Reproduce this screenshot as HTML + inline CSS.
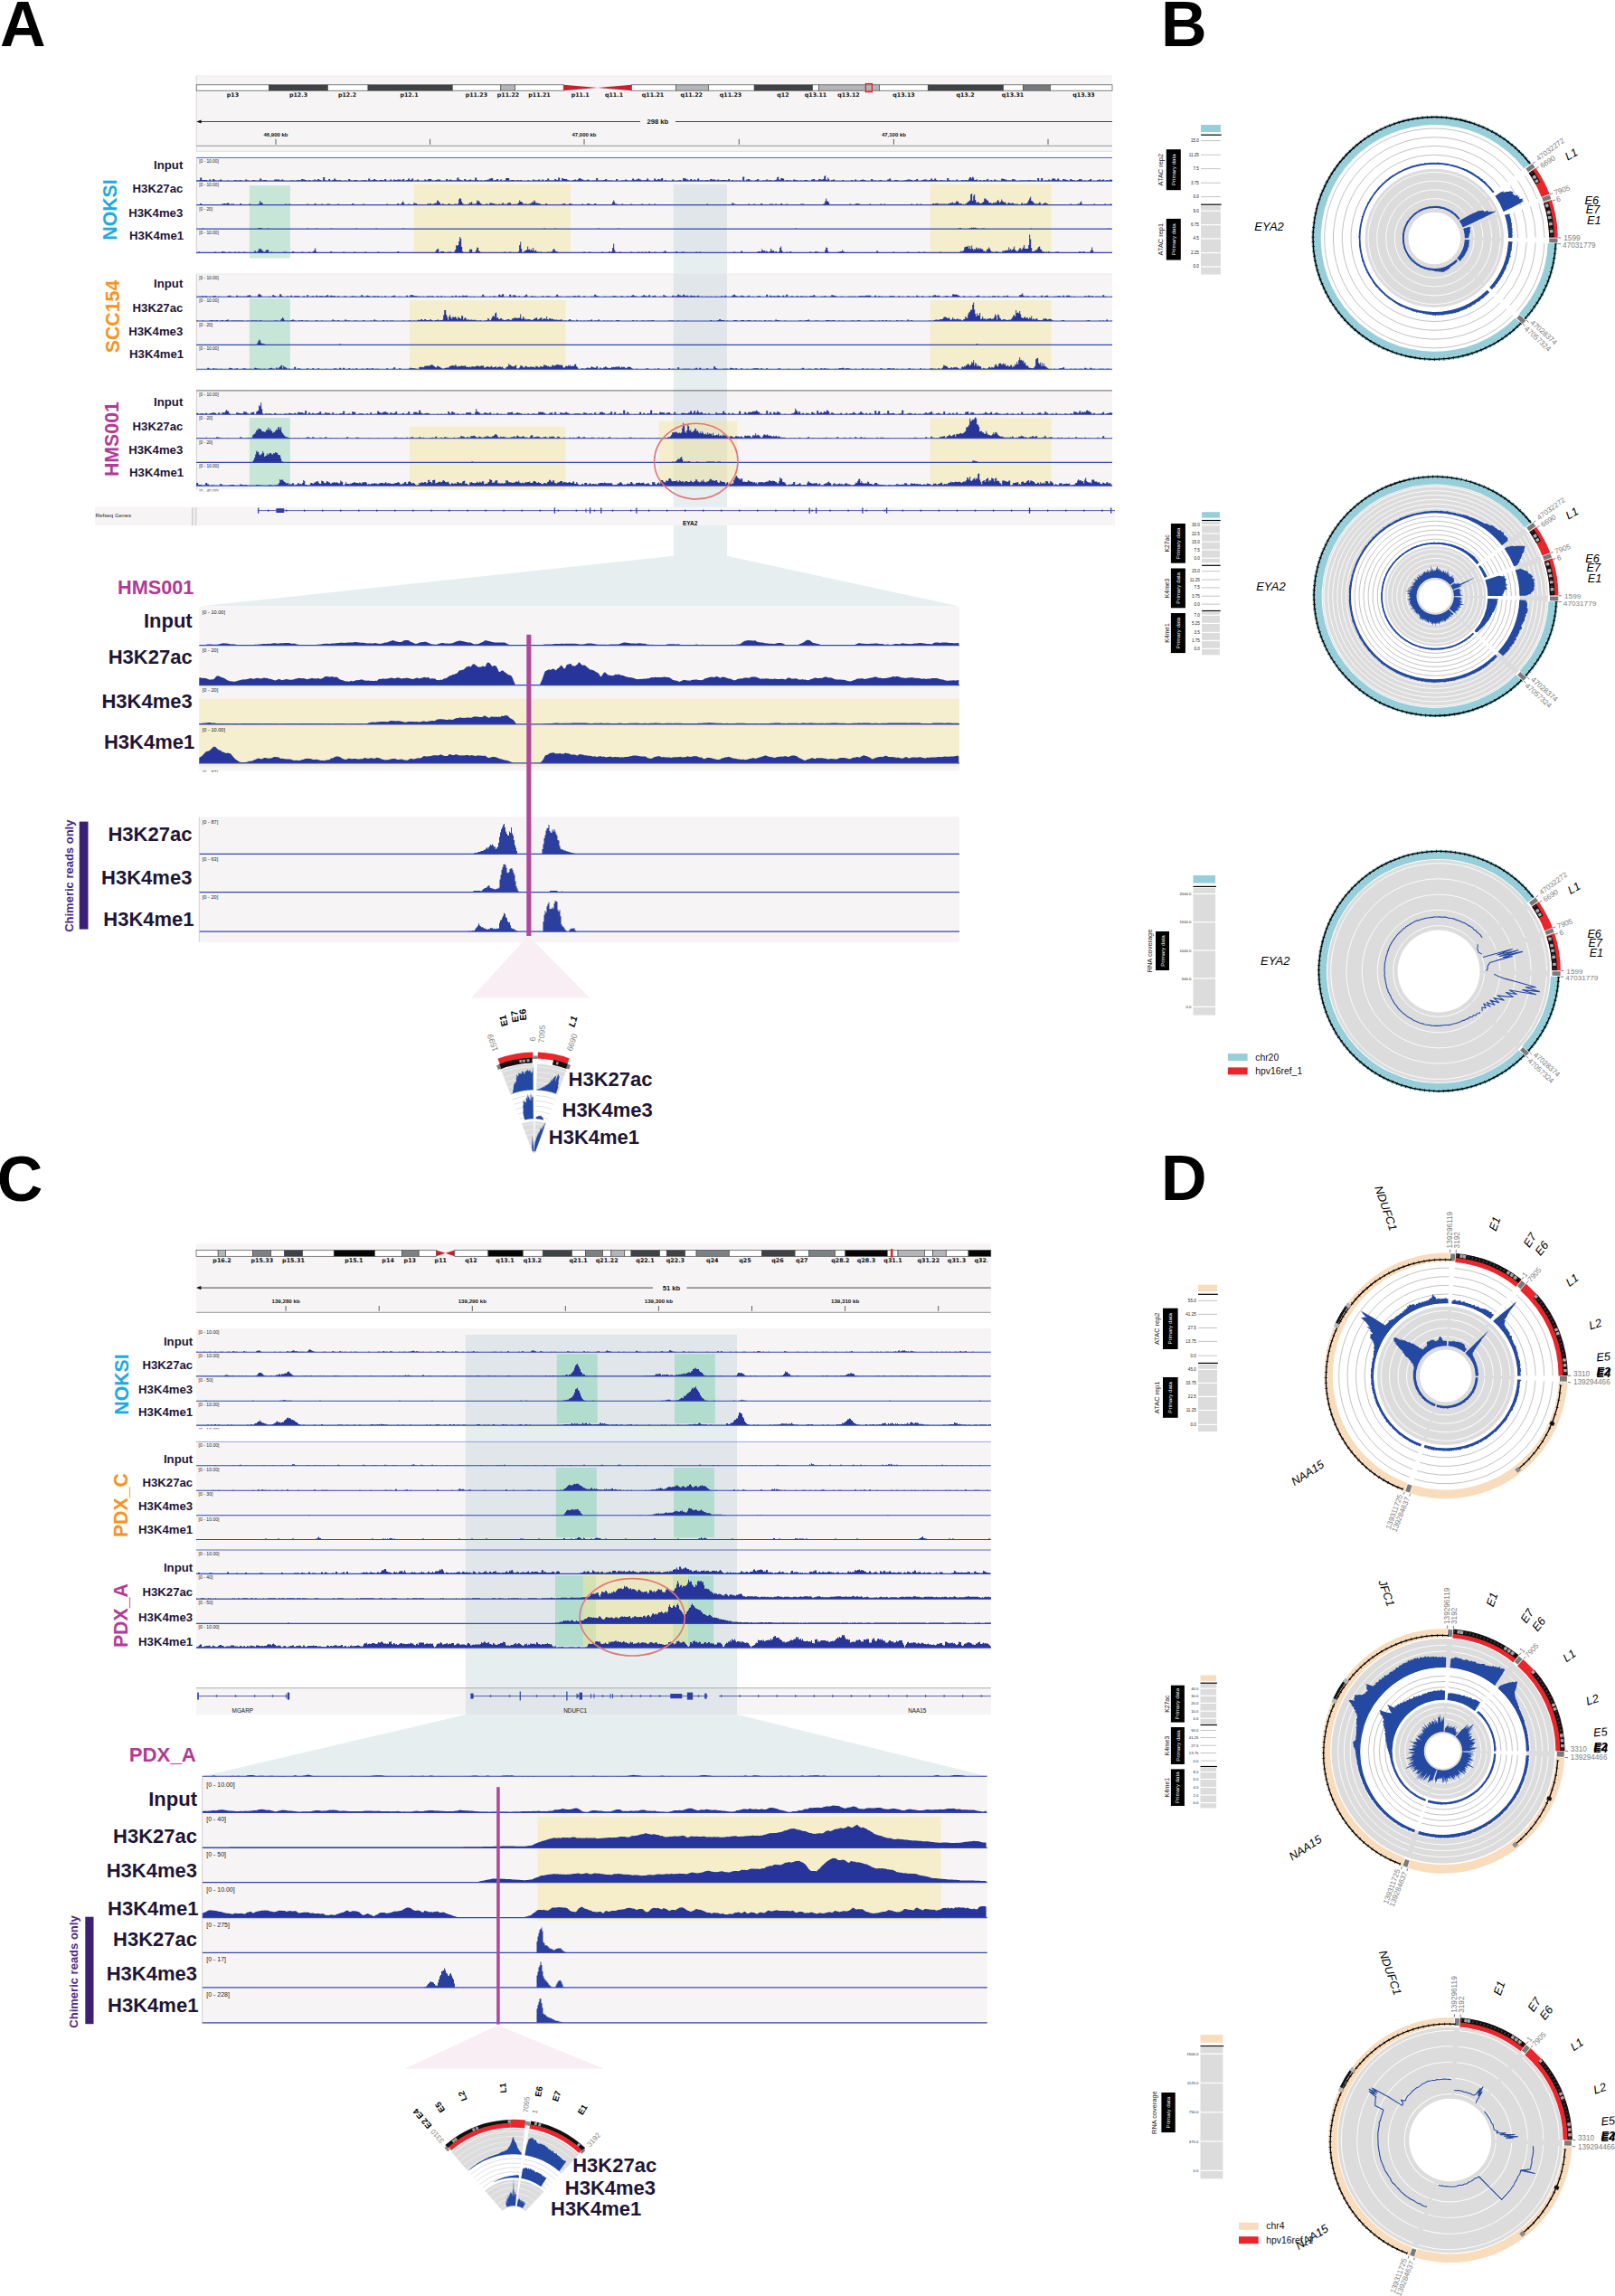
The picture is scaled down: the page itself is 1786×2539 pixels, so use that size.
<!DOCTYPE html>
<html><head><meta charset="utf-8"><title>Figure</title>
<style>html,body{margin:0;padding:0;background:#fff}svg{display:block}text{white-space:pre}</style>
</head><body>
<svg width="1786" height="2539" viewBox="0 0 1786 2539" font-family="Liberation Sans, sans-serif">
<text x="0" y="50.8" font-size="70" font-weight="bold">A</text>
<text x="1284" y="50.6" font-size="70" font-weight="bold">B</text>
<text x="-3.3" y="1327.9" font-size="70" font-weight="bold">C</text>
<text x="1284" y="1326.9" font-size="70" font-weight="bold">D</text>
<rect x="217.2" y="83.7" width="1012.8" height="83.7" fill="#f6f4f5" />
<line x1="217.2" y1="83.9" x2="1230" y2="83.9" stroke="#e4e2e3" stroke-width="0.6" />
<line x1="217.2" y1="83.7" x2="217.2" y2="167.4" stroke="#cfcdd0" stroke-width="0.8" />
<rect x="217.2" y="93.8" width="80.2" height="6.4" fill="#ffffff" stroke="#4a4c4e" stroke-width="0.7"/>
<rect x="297.4" y="93.8" width="65.1" height="6.4" fill="#3e4244" stroke="#4a4c4e" stroke-width="0.7"/>
<rect x="362.5" y="93.8" width="44.5" height="6.4" fill="#ffffff" stroke="#4a4c4e" stroke-width="0.7"/>
<rect x="407" y="93.8" width="93.3" height="6.4" fill="#3e4244" stroke="#4a4c4e" stroke-width="0.7"/>
<rect x="500.3" y="93.8" width="53.5" height="6.4" fill="#ffffff" stroke="#4a4c4e" stroke-width="0.7"/>
<rect x="553.8" y="93.8" width="15.9" height="6.4" fill="#b3b6b8" stroke="#4a4c4e" stroke-width="0.7"/>
<rect x="569.7" y="93.8" width="53.5" height="6.4" fill="#ffffff" stroke="#4a4c4e" stroke-width="0.7"/>
<path d="M623.2,93.8L660.8,97L623.2,100.2z" fill="#c5202b"/>
<path d="M698.5,93.8L660.8,97L698.5,100.2z" fill="#c5202b"/>
<rect x="698.5" y="93.8" width="49" height="6.4" fill="#ffffff" stroke="#4a4c4e" stroke-width="0.7"/>
<rect x="747.5" y="93.8" width="35.9" height="6.4" fill="#b3b6b8" stroke="#4a4c4e" stroke-width="0.7"/>
<rect x="783.4" y="93.8" width="50.8" height="6.4" fill="#ffffff" stroke="#4a4c4e" stroke-width="0.7"/>
<rect x="834.2" y="93.8" width="64.4" height="6.4" fill="#3e4244" stroke="#4a4c4e" stroke-width="0.7"/>
<rect x="898.6" y="93.8" width="6.8" height="6.4" fill="#ffffff" stroke="#4a4c4e" stroke-width="0.7"/>
<rect x="905.4" y="93.8" width="67.1" height="6.4" fill="#b3b6b8" stroke="#4a4c4e" stroke-width="0.7"/>
<rect x="972.5" y="93.8" width="53.8" height="6.4" fill="#ffffff" stroke="#4a4c4e" stroke-width="0.7"/>
<rect x="1026.3" y="93.8" width="83.4" height="6.4" fill="#3e4244" stroke="#4a4c4e" stroke-width="0.7"/>
<rect x="1109.7" y="93.8" width="21.8" height="6.4" fill="#ffffff" stroke="#4a4c4e" stroke-width="0.7"/>
<rect x="1131.5" y="93.8" width="30" height="6.4" fill="#777a7c" stroke="#4a4c4e" stroke-width="0.7"/>
<rect x="1161.5" y="93.8" width="68.5" height="6.4" fill="#ffffff" stroke="#4a4c4e" stroke-width="0.7"/>
<text x="257.4" y="106.9" font-size="6.3" font-family="DejaVu Sans, sans-serif" font-weight="bold" fill="#111" text-anchor="middle">p13</text>
<text x="330" y="106.9" font-size="6.3" font-family="DejaVu Sans, sans-serif" font-weight="bold" fill="#111" text-anchor="middle">p12.3</text>
<text x="384" y="106.9" font-size="6.3" font-family="DejaVu Sans, sans-serif" font-weight="bold" fill="#111" text-anchor="middle">p12.2</text>
<text x="452.5" y="106.9" font-size="6.3" font-family="DejaVu Sans, sans-serif" font-weight="bold" fill="#111" text-anchor="middle">p12.1</text>
<text x="526.9" y="106.9" font-size="6.3" font-family="DejaVu Sans, sans-serif" font-weight="bold" fill="#111" text-anchor="middle">p11.23</text>
<text x="562" y="106.9" font-size="6.3" font-family="DejaVu Sans, sans-serif" font-weight="bold" fill="#111" text-anchor="middle">p11.22</text>
<text x="596.5" y="106.9" font-size="6.3" font-family="DejaVu Sans, sans-serif" font-weight="bold" fill="#111" text-anchor="middle">p11.21</text>
<text x="641.7" y="106.9" font-size="6.3" font-family="DejaVu Sans, sans-serif" font-weight="bold" fill="#111" text-anchor="middle">p11.1</text>
<text x="679" y="106.9" font-size="6.3" font-family="DejaVu Sans, sans-serif" font-weight="bold" fill="#111" text-anchor="middle">q11.1</text>
<text x="722" y="106.9" font-size="6.3" font-family="DejaVu Sans, sans-serif" font-weight="bold" fill="#111" text-anchor="middle">q11.21</text>
<text x="764.7" y="106.9" font-size="6.3" font-family="DejaVu Sans, sans-serif" font-weight="bold" fill="#111" text-anchor="middle">q11.22</text>
<text x="808" y="106.9" font-size="6.3" font-family="DejaVu Sans, sans-serif" font-weight="bold" fill="#111" text-anchor="middle">q11.23</text>
<text x="866" y="106.9" font-size="6.3" font-family="DejaVu Sans, sans-serif" font-weight="bold" fill="#111" text-anchor="middle">q12</text>
<text x="902" y="106.9" font-size="6.3" font-family="DejaVu Sans, sans-serif" font-weight="bold" fill="#111" text-anchor="middle">q13.11</text>
<text x="938.5" y="106.9" font-size="6.3" font-family="DejaVu Sans, sans-serif" font-weight="bold" fill="#111" text-anchor="middle">q13.12</text>
<text x="999.5" y="106.9" font-size="6.3" font-family="DejaVu Sans, sans-serif" font-weight="bold" fill="#111" text-anchor="middle">q13.13</text>
<text x="1067.5" y="106.9" font-size="6.3" font-family="DejaVu Sans, sans-serif" font-weight="bold" fill="#111" text-anchor="middle">q13.2</text>
<text x="1120" y="106.9" font-size="6.3" font-family="DejaVu Sans, sans-serif" font-weight="bold" fill="#111" text-anchor="middle">q13.31</text>
<text x="1198.5" y="106.9" font-size="6.3" font-family="DejaVu Sans, sans-serif" font-weight="bold" fill="#111" text-anchor="middle">q13.33</text>
<rect x="957.4" y="92.6" width="7" height="9" fill="none" stroke="#e3222b" stroke-width="1.3"/>
<line x1="219" y1="134.5" x2="708" y2="134.5" stroke="#333" stroke-width="0.9" />
<line x1="747" y1="134.5" x2="1230" y2="134.5" stroke="#333" stroke-width="0.9" />
<path d="M217.2,134.5L222.6,132.4L222.6,136.6z" fill="#111"/>
<text x="727.3" y="137.3" font-size="7.6" font-weight="bold" fill="#111" text-anchor="middle">298 kb</text>
<line x1="305" y1="153.8" x2="305" y2="159.8" stroke="#333" stroke-width="0.8" />
<line x1="475.6" y1="153.8" x2="475.6" y2="159.8" stroke="#333" stroke-width="0.8" />
<line x1="646" y1="153.8" x2="646" y2="159.8" stroke="#333" stroke-width="0.8" />
<line x1="817.3" y1="153.8" x2="817.3" y2="159.8" stroke="#333" stroke-width="0.8" />
<line x1="988.4" y1="153.8" x2="988.4" y2="159.8" stroke="#333" stroke-width="0.8" />
<line x1="1159" y1="153.8" x2="1159" y2="159.8" stroke="#333" stroke-width="0.8" />
<text x="305" y="150.9" font-size="6.0" font-weight="bold" fill="#111" text-anchor="middle">46,900 kb</text>
<text x="646" y="150.9" font-size="6.0" font-weight="bold" fill="#111" text-anchor="middle">47,000 kb</text>
<text x="988.4" y="150.9" font-size="6.0" font-weight="bold" fill="#111" text-anchor="middle">47,100 kb</text>
<line x1="217.2" y1="161.3" x2="1230" y2="161.3" stroke="#8a8a8c" stroke-width="0.9" />
<line x1="217.2" y1="167.4" x2="1230" y2="167.4" stroke="#dcdadb" stroke-width="0.8" />
<rect x="217.2" y="174.4" width="1012.8" height="106.8" fill="#f6f4f5" />
<rect x="217.2" y="303" width="1012.8" height="107.8" fill="#f6f4f5" />
<rect x="217.2" y="431.9" width="1012.8" height="109.5" fill="#f6f4f5" />
<path d="M744.8,203.9H804V614.7L1061,670.5H220.3L744.8,614.7z" fill="rgba(172,200,205,0.30)"/>
<rect x="105.2" y="560.6" width="1127.8" height="20.6" fill="#f6f4f5" />
<rect x="275.9" y="205.1" width="45" height="80.5" fill="rgba(120,205,165,0.36)" />
<rect x="275.9" y="330" width="45" height="78.4" fill="rgba(120,205,165,0.36)" />
<rect x="275.9" y="462" width="45" height="75.3" fill="rgba(120,205,165,0.36)" />
<rect x="457.8" y="203.9" width="173.1" height="77" fill="rgba(244,228,150,0.42)" />
<rect x="452.9" y="332" width="172.7" height="78.8" fill="rgba(244,228,150,0.42)" />
<rect x="452.9" y="472" width="172.7" height="69.9" fill="rgba(244,228,150,0.42)" />
<rect x="1028.8" y="203.9" width="133.8" height="77.3" fill="rgba(244,228,150,0.42)" />
<rect x="1028.9" y="332" width="133.7" height="78.8" fill="rgba(244,228,150,0.42)" />
<rect x="1028.9" y="462" width="133.7" height="78.4" fill="rgba(244,228,150,0.42)" />
<rect x="728.8" y="465.7" width="86.5" height="74.5" fill="rgba(244,228,150,0.42)" />
<line x1="217.4" y1="174.4" x2="217.4" y2="281.2" stroke="#c4c2c6" stroke-width="0.8" />
<line x1="217.2" y1="174.4" x2="1230" y2="174.4" stroke="#3b4fb3" stroke-width="0.9" />
<text x="128.6" y="232" font-size="21.3" font-weight="bold" fill="#1fa9e1" text-anchor="middle" transform="rotate(-90 128.6 232)">NOKSI</text>
<text x="202.3" y="187" font-size="13.2" font-weight="bold" fill="#1f1535" text-anchor="end">Input</text>
<text x="220.2" y="180.3" font-size="4.8" fill="#222">[0 - 10.00]</text>
<path d="M217.2,200.1v-.5h4v-3h2v2.5h6v1h2v-1.5h2v1.5h2v-2h2v1.5h2v.5h2v-.5h2v-1h2v1.5h6v-.5h2v.5h6v-1h2v.5h4v-.5h2v1h4v-1.5h2v1h2v.5h4v-1h2v.5h2v.5h2v-.5h2v-2h2v2h2v-.5h4v1h8v-1.5h6v1h2v-1h2v1h2v.5h6v-.5h4v.5h2v-.5h2v-.5h2v.5h2v-1.5h2v.5h2v.5h2v1h2v-1h2v1h2v-.5h2v-1h2v1h2v-1.5h2v1h2v1h2v-4h2v3.5h2v.5h2v-2h2v2h2v-1h2v-1.5h2v1.5h2v.5h2v-.5h2v1h4v-.5h2v.5h2v-2h2v1.5h2v.5h2v-1h4v1h4v-.5h4v-.5h2v1h2v-2.5h2v2h2v-.5h2v-1h2v1h2v1h2v-1h4v.5h2v-1.5h2v2h4v-1.5h2v1.5h2v-1.5h2v.5h2v-.5h4v1h2v-1.5h2v2h2v-1h2v-1.5h2v1.5h2v-1.5h2v2.5h2v-.5h2v-1h2v1.5h6v-1.5h2v1h2v-1.5h4v1.5h2v.5h2v-1h2v-.5h4v1.5h6v-2h2v1.5h2v-1h2v1h6v-2.5h1v-1h1v2.5h2v.5h1v.5h1v.5h2v-2h2v1.5h2v-.5h2v-.5h2v1h4v-3h2v2.5h2v1h2v-.5h2v.5h2v-.5h2v-.5h2v-.5h2v-1h2v-.5h2v2.5h2v-.5h2v-1h2v2h2v-1.5h2v1.5h2v-.5h2v-2.5h4v2.5h2v-.5h4v1h2v-1h2v.5h2v-.5h2v1h6v-1h2v1h4v-1.5h2v1h4v-1h2v1.5h2v-1.5h2v1.5h2v-1h2v-1.5h2v2h6v-1.5h2v1h2v-2.5h2v3.5h2v-3h2v1h4v1h2v1h4v-1h2v-.5h2v1h1v-.5h1v-1h1v-1h2v1h1v.5h2v1h4v-1h2v1h2v.5h2v-.5h4v-2.5h2v2.5h6v-.5h2v-1h2v1.5h6v.5h4v-2h2v2h4v-.5h4v-1h2v1h2v.5h2v-.5h2v-2h2v1.5h2v-.5h2v-1h2v1h2v1h4v-.5h2v-1.5h2v2h2v.5h4v-2.5h2v1.5h2v-1h2v.5h2v-1.5h2v3h2v-1h2v1h6v-1.5h2v1.5h4v-.5h2v-.5h2v1h2v-3h2v.5h2v1h2v1h2v-1.5h2v1.5h2v-1h2v1h2v-2h2v2h8v-.5h2v.5h2v-1.5h2v.5h4v1h2v-1h2v1h2v-.5h6v.5h2v-1.5h2v2h2v-1h2v1h2v-.5h2v.5h2v-.5h2v.5h2v-4.5h2v4.5h2v-1.5h2v-.5h2v1.5h2v.5h4v-1h2v-1h2v2h4v-.5h4v-1h2v1h2v-.5h2v1h2v-.5h2v-.5h1v-.5h1v-2.5h1v-.5h1v3h1v.5h1v-2h2v.5h2v2.5h2v-1h2v.5h4v.5h2v-1.5h2v.5h2v.5h2v.5h2v-.5h2v.5h2v-1h4v1h4v-1.5h2v-.5h2v1.5h4v-1.5h2v.5h3v-.5h1v-3h1v-1h1v4.5h1v.5h1v-2.5h1v1.5h1v2h2v-1h2v-.5h2v1.5h8v-1h2v1h8v-1h2v1h2v-1.5h2v1.5h4v-1h2v-.5h2v.5h2v1h6v-2h2v1.5h4v.5h2v-.5h2v-.5h2v1h6v-1.5h2v-1h2v2.5h4v-1h4v1h6v-.5h2v-.5h2v-.5h4v.5h2v1h2v-1h2v-1h2v2h4v-1h2v-.5h4v1h2v-.5h2v-1.5h2v1.5h2v-1.5h2v1.5h2v1h2v-1h2v.5h4v.5h2v-3h2v2h2v1h2v-.5h2v.5h2v-1.5h2v1.5h4v-1h2v.5h2v-.5h2v.5h1v-.5h1v-1.5h1v-1.5h2v1.5h1v-2h1v1h1v2.5h2v-.5h2v1.5h2v-1h2v1h2v-1h2v.5h2v-1.5h2v2h2v-1h2v1h2v-1.5h2v1h2v.5h4v-2.5h2v.5h2v.5h2v1h6v-1.5h2v.5h2v1.5h4v-.5h10v-.5h2v.5h6v.5h2v-3h2v3h2v-3h2v3h2v-.5h4v-1h2v1h2v-2h4v1.5h2v-1.5h2v2h2v.5h2v-2h2v.5h2v.5h2v1h2v-2h2v1h2v.5h2v.5h2v-1h2v-1h2v.5h2v1.5h2v-.5h2v.5h2v-1h2v-1h2v2h6v-1h2v-.5h2v1h2v-1h2v1.5h2v-1h2v.5h2v-1h2v.5h1v1z" fill="#27359b"/>
<line x1="217.2" y1="200.1" x2="1230" y2="200.1" stroke="#3347a8" stroke-width="1.1" />
<text x="202.3" y="213" font-size="13.2" font-weight="bold" fill="#1f1535" text-anchor="end">H3K27ac</text>
<text x="220.2" y="206" font-size="4.8" fill="#222">[0 - 10.00]</text>
<path d="M217.2,226.6h4v-1.5h2v1.5h4v-.5h4v.5h14v-1h2v-.5h2v.5h1v-.5h1v-.5h2v1h1v1h1v-1h4v1h2v-.5h2v.5h2v-1.5h2v1.5h2v-.5h2v.5h4v-1h2v.5h2v.5h2v-.5h2v.5h1v-.5h1v-.5h2v-3.5h1v2h2v1.5h1v.5h2v.5h8v-.5h2v.5h6v-.5h4v.5h2v-1h2v1h2v-1h2v1h4v-.5h4v.5h6v-.5h2v.5h2v-1h2v1h4v-.5h2v-.5h1v-.5h1v.5h1v1h5v-1h2v1h4v-1h4v1h8v-1h2v.5h2v.5h12v-1.5h2v1.5h2v-.5h2v.5h4v-.5h2v-.5h2v1h10v-.5h4v.5h8v-.5h2v-.5h2v1h6v-.5h2v.5h2v-1.5h2v1.5h2v-1h1v-1.5h1v-1.5h1v2h1v1.5h4v-.5h2v1h2v-.5h2v-1.5h2v.5h2v1h2v.5h9v-1h1v-.5h1v.5h1v-.5h2v1h1v-.5h2v-.5h1v-.5h2v-3h1v.5h1v1.5h1v1h1v1.5h2v-1h1v.5h1v.5h4v-.5h1v-.5h1v.5h1v.5h4v-.5h3v.5h1v-1h1v-4.5h1v-1.5h1v1h1v3h1v2h1v.5h1v.5h4v-.5h2v-1.5h1v.5h1v-1.5h1v2.5h4v-.5h1v-3.5h1v1h1v-.5h1v2h1v1h1v.5h1v.5h2v.5h2v-1h1v-.5h1v1h2v-1.5h3v.5h3v1h1v-.5h1v.5h2v-.5h2v.5h1v-.5h1v-1h2v1.5h1v-.5h1v.5h1v-.5h1v-1h2v-.5h1v.5h1v1.5h3v-.5h1v.5h1v-.5h1v.5h1v-1h1v-1h1v-2.5h1v1.5h2v1h1v1.5h5v.5h1v-.5h2v-.5h1v-.5h1v-1.5h1v1h1v-2.5h1v1h1v2h3v.5h2v.5h1v.5h3v.5h2v-1.5h2v1.5h4v-.5h4v.5h4v-.5h4v-.5h2v-.5h2v1h2v.5h2v-1.5h2v.5h2v1h10v-1h2v1h2v-.5h2v-1h2v.5h2v1h4v-1.5h2v1h2v.5h2v-.5h4v.5h6v-.5h3v-.5h1v-2h1v-2h1v2h1v2h3v1h4v-1h2v1h2v-.5h2v.5h4v-1h2v1h10v-1h2v.5h2v.5h4v-1h2v.5h4v-.5h2v1h6v-.5h4v.5h2v-.5h4v.5h16v-.5h2v.5h12v-.5h2v.5h4v-.5h4v-.5h2v.5h2v.5h4v-.5h2v.5h14v-.5h2v.5h2v-2h2v1h2v.5h2v.5h2v-.5h2v.5h8v-1h2v1h4v-1h2v1h6v-1.5h2v1.5h8v-1h4v1h2v-1h2v1h4v-1.5h2v1.5h4v-1h2v1h8v-.5h2v.5h2v-.5h2v-.5h4v.5h2v.5h4v-.5h2v.5h8v-.5h2v.5h2v-.5h1v-.5h1v-.5h1v-2.5h1v-3h1v3h2v1.5h1v2h2v.5h4v-.5h2v.5h8v-.5h2v.5h2v-.5h2v-.5h2v.5h2v.5h2v-1h2v-.5h2v.5h2v1h2v-.5h4v.5h4v-1h2v1h4v-.5h2v.5h4v-1h2v1h2v-1h2v1h2v-.5h6v.5h4v-.5h4v.5h12v-1h2v.5h4v-.5h2v1h2v-1h2v1h2v-.5h2v.5h7v-.5h1v-1h2v.5h1v-.5h2v-.5h1v1h10v.5h1v-1h3v-1h1v.5h1v-1h1v1.5h1v-.5h2v-2h2v.5h1v2h3v.5h1v.5h1v-.5h1v.5h1v-.5h1v-.5h1v-1h1v-1h1v-.5h1v-1h1v-6.5h1v-1h1v8h1v-5.5h1v-1.5h1v6h1v2.5h1v1h1v-1.5h1v1h1v1h2v-.5h1v-.5h1v-1h1v-3.5h2v1h1v1h1v.5h1v2h1v.5h1v-.5h1v1h2v-1h1v.5h1v-1h1v1h1v-2h1v-1.5h1v1.5h1v2h1v-1.5h1v-2.5h1v2h1v.5h1v1h1v-.5h1v1.5h1v1h1v-1.5h1v-.5h1v.5h1v.5h2v-1h1v1h1v.5h5v1h3v-2h2v1.5h1v-1h1v.5h1v-.5h2v-1.5h1v-2h1v-2h1v-2h1v4.5h1v.5h1v1h1v1h1v1h2v-.5h1v.5h1v-.5h1v-1.5h1v1h1v1.5h2v-1h2v-1h1v.5h1v.5h1v.5h1v.5h1v.5h3v-.5h2v.5h4v-.5h2v.5h4v-.5h2v.5h6v-1h2v1h2v-.5h2v.5h2v-1h3v-1.5h1v-1.5h1v3h1v.5h1v.5h1v-.5h2v.5h6v-.5h2v-.5h2v1h10v-1h2v1h2v-.5h2v-.5h2v1h1z" fill="#27359b"/>
<line x1="217.2" y1="226.6" x2="1230" y2="226.6" stroke="#3347a8" stroke-width="1.1" />
<text x="202.3" y="239.7" font-size="13.2" font-weight="bold" fill="#1f1535" text-anchor="end">H3K4me3</text>
<text x="220.2" y="232.5" font-size="4.8" fill="#222">[0 - 20]</text>
<path d="M217.2,253.1h6v-.5h2v.5h60v-1h4v.5h1v.5h5v-.5h2v.5h42v-.5h2v.5h8v-.5h2v.5h14v-.5h2v.5h26v-.5h2v.5h20v-.5h2v.5h28v-.5h2v.5h154v-.5h2v.5h10v-.5h2v.5h46v-.5h2v.5h20v-.5h2v.5h194v-.5h2v.5h178v-.5h2v-.5h2v1h8v-.5h2v-.5h1v-.5h1v.5h1v-.5h1v.5h1v-.5h1v1h3v.5h3v-.5h4v.5h50v-.5h2v.5h84v-.5h2v.5h3z" fill="#27359b"/>
<line x1="217.2" y1="253.1" x2="1230" y2="253.1" stroke="#3347a8" stroke-width="1.1" />
<text x="203.2" y="265.2" font-size="13.2" font-weight="bold" fill="#1f1535" text-anchor="end">H3K4me1</text>
<text x="220.2" y="259" font-size="4.8" fill="#222">[0 - 10.00]</text>
<path d="M217.2,279.4v-.5h2v-.5h2v.5h2v.5h2v-.5h4v.5h8v-1h2v1h6v-1.5h2v.5h2v.5h4v-.5h2v1h4v-1h2v1h2v-1h2v1h2v-.5h2v-.5h2v1h10v-2h2v1.5h1v-.5h1v-1.5h1v-2h2v.5h1v1h1v1h1v1h2v-1h1v-1h1v-.5h1v.5h1v3h2v-1h2v1h12v-1h4v1h6v-1.5h2v1.5h6v-.5h2v-.5h2v.5h2v.5h4v-1h2v1h2v-1h1v-.5h1v-1.5h1v-2h1v3.5h1v1.5h15v-1.5h2v1.5h2v-.5h2v.5h2v-.5h2v.5h4v-1h2v1h2v-.5h2v.5h2v-.5h2v.5h2v-1h2v1h2v-.5h2v.5h4v-.5h2v-.5h2v.5h2v.5h2v-.5h4v.5h2v-.5h2v-.5h2v.5h2v.5h6v-.5h2v.5h8v-.5h2v-1h2v1.5h8v-.5h4v.5h2v-.5h2v.5h4v-.5h2v.5h12v-.5h2v.5h3v-.5h1v-1h1v-1.5h1v-1h1v-.5h1v3.5h1v1h1v-1.5h4v1.5h4v-1h4v.5h3v-1h1v-2h1v-5h1v1h1v-1h1v-4h1v-5h1v2h1v9h1v5h1v1h3v.5h3v-1h1v-3h1v.5h1v-.5h1v3.5h1v.5h2v-1h1v-2h1v-3h1v.5h1v3.5h1v.5h1v1.5h12v-.5h2v.5h8v-.5h2v.5h2v-1h2v1h4v-1h2v1h2v-.5h2v.5h4v-1.5h1v-7h1v-3.5h1v7.5h1v4h2v-1h1v-1h2v-1h1v-3.5h1v3.5h1v-.5h1v1.5h1v-1.5h1v1.5h1v-3h1v3.5h2v-1h1v2h3v.5h1v-.5h2v1h6v-1h2v.5h1v-.5h2v-.5h1v-2h1v-1h1v1.5h1v1.5h2v.5h1v1h2v-.5h2v.5h4v-.5h2v.5h4v-.5h4v.5h4v-.5h2v.5h4v-1h2v1h4v-1h2v1h4v-.5h2v.5h2v-.5h4v-.5h2v1h6v-1.5h2v1h1v-1h1v-4h1v-4.5h1v7h1v2h1v1h2v-.5h2v-.5h2v.5h2v.5h6v-.5h2v-.5h2v1h4v-.5h2v-.5h2v1h2v-1h2v.5h2v-.5h2v1h2v-1.5h2v1.5h2v-.5h2v-.5h2v.5h2v.5h5v-.5h1v-.5h1v-.5h1v-1h1v1.5h1v.5h4v.5h6v-1.5h2v1.5h4v-1h4v1h12v-1h2v.5h2v-.5h2v1h14v-.5h4v.5h8v-.5h2v.5h8v-1h2v1h6v-2h2v2h6v-.5h2v.5h4v-.5h4v-.5h1v-.5h3v.5h1v-3h1v1.5h1v.5h1v-.5h1v1.5h1v-1h1v.5h1v1h1v-.5h1v-.5h1v-3h1v2h1v.5h1v-.5h1v2h1v-1h2v1h2v-1h1v-4h1v-1.5h1v4.5h1v1.5h1v1h3v-1h2v1h2v-1.5h2v1.5h6v-.5h4v.5h10v-1h2v1h4v-1.5h2v.5h2v1h2v-.5h2v.5h2v-.5h1v-2.5h1v-3h1v.5h1v3.5h1v1.5h1v.5h2v-.5h2v.5h2v-.5h3v-.5h1v.5h1v-1h3v-1.5h1v1.5h1v.5h1v.5h2v.5h7v-.5h4v.5h2v-.5h2v.5h6v-.5h2v.5h2v-.5h4v.5h4v-2h2v2h10v-.5h4v.5h2v-1h2v1h14v-1h2v1h8v-.5h2v-.5h2v.5h4v-.5h2v1h6v-.5h2v.5h2v-.5h6v-.5h2v1h10v-.5h2v.5h7v-.5h1v-.5h1v-1h1v1h1v-1h1v-.5h1v-3.5h1v-.5h1v-.5h1v.5h1v-1.5h1v3.5h1v-3h1v3.5h1v-4h1v3.5h1v1.5h1v-1.5h1v1h1v-2.5h1v1h1v1h1v-1.5h1v1.5h1v-1h1v1h2v2h2v1h1v-1h1v-2h2v-2h1v1.5h1v2h1v1.5h3v.5h1v-.5h1v-.5h2v1h1v-.5h1v.5h3v-1.5h3v-.5h2v-.5h1v.5h1v-3.5h1v3h1v-1.5h1v2h1v-1h1v-1h1v-2.5h1v4h1v.5h1v1h1v-.5h1v-1.5h1v-1.5h2v2h1v-1.5h1v-1.5h1v-2.5h1v4h4v-4h1v-11.5h1v5h1v9.5h1v4h2v-.5h2v-1.5h1v.5h1v-2h1v-1.5h1v-.5h1v3h1v.5h1v2h2v.5h1v.5h1v-.5h2v.5h1v-1h1v.5h1v1h6v-1h4v.5h2v.5h20v-1.5h2v1h1v-.5h2v-.5h1v.5h1v.5h3v.5h2v-1.5h1v-1.5h1v-3h1v3.5h1v2h1v.5h1v-.5h4v.5h6v-.5h2v.5h7z" fill="#27359b"/>
<line x1="217.2" y1="279.4" x2="1230" y2="279.4" stroke="#3347a8" stroke-width="1.1" />
<line x1="217.4" y1="303" x2="217.4" y2="410.8" stroke="#c4c2c6" stroke-width="0.8" />
<line x1="217.2" y1="303" x2="1230" y2="303" stroke="#e8e6ea" stroke-width="0.9" />
<text x="131.5" y="350" font-size="21.3" font-weight="bold" fill="#f7941e" text-anchor="middle" transform="rotate(-90 131.5 350)">SCC154</text>
<text x="202.3" y="318.3" font-size="13.2" font-weight="bold" fill="#1f1535" text-anchor="end">Input</text>
<text x="220.2" y="308.9" font-size="4.8" fill="#222">[0 - 10.00]</text>
<path d="M217.2,328.3v-.5h6v-.5h2v.5h2v-.5h2v1h2v-.5h2v.5h2v-1h4v1h2v-.5h2v.5h8v-1h2v-.5h2v1h2v.5h4v-1.5h2v1h10v-1h2v-.5h2v1.5h2v.5h3v-.5h1v.5h1v-.5h1v-2h1v-1h1v1h1v.5h1v1.5h1v.5h7v-.5h2v.5h2v-2h2v1h2v1h3v-.5h1v-2.5h2v2h1v.5h1v.5h4v-1h2v1h2v-1.5h2v1.5h2v-1h6v1h4v-1h2v1h2v-2h2v2h2v-.5h2v-.5h2v1h2v-1.5h2v1h2v-.5h4v.5h2v-.5h2v-1h2v1.5h2v-1h2v.5h4v1h2v-1h2v1h4v-.5h2v-.5h2v1h4v-.5h2v-.5h2v.5h4v.5h2v-.5h2v-1.5h2v1.5h4v-1h2v.5h2v1h2v-.5h2v-.5h2v.5h2v-.5h2v1h2v-.5h2v.5h2v-1h2v1h6v-1h2v-.5h2v1.5h4v-.5h2v.5h6v-1.5h2v1.5h2v-2h4v1h4v.5h4v.5h2v-.5h2v.5h2v-.5h2v-.5h2v.5h2v-.5h2v1h4v-1h2v1h2v-1h2v1h2v-.5h2v.5h6v-1h2v1h2v-1.5h2v1.5h2v-1h2v.5h2v-1h2v.5h2v-.5h2v1.5h2v-.5h2v.5h2v-.5h2v.5h6v-.5h2v-2h2v2h2v.5h4v-.5h2v.5h2v-1h2v.5h2v.5h2v-2.5h2v1h2v-1.5h2v3h6v-2.5h2v2h2v-1.5h2v.5h2v1.5h2v-1h2v1h4v-1h2v-1.5h2v2.5h4v-1h2v.5h4v.5h6v-1h2v1h2v-.5h2v-.5h2v.5h2v.5h4v-.5h2v-2h2v2h4v.5h4v-.5h6v.5h2v-1h4v.5h2v-1h2v1.5h4v-1h2v1h6v-.5h4v-2h2v1.5h2v.5h2v.5h4v-.5h4v.5h2v-.5h2v.5h2v-1h4v.5h2v.5h2v-.5h2v-.5h2v1h4v-1h2v1h2v-1h2v-1h2v1h2v.5h2v.5h4v-1h2v-1h2v1h2v.5h2v-1.5h2v2h2v-1h2v-.5h2v1.5h4v-.5h2v.5h2v-2h2v1h2v1h6v-1.5h2v1h2v-.5h2v-1.5h2v1h2v.5h2v-1.5h2v1.5h2v-.5h2v1h2v-1h2v.5h4v.5h2v-1h2v1.5h2v-.5h2v.5h4v-.5h2v.5h2v-.5h2v.5h4v-.5h2v.5h4v-1h2v1h2v-1.5h2v1.5h6v-1.5h2v-1h2v1.5h2v.5h4v-1h2v.5h2v1h2v-.5h2v-1h2v1.5h2v-.5h2v.5h4v-1h4v1h6v-2.5h2v2.5h2v-1.5h2v1h2v-.5h2v.5h2v-1h2v.5h2v1h2v-1.5h2v1h2v-2h2v2.5h2v-.5h2v-.5h2v1h2v-.5h2v-.5h2v1h2v-1h2v.5h6v.5h2v-1h4v-1h2v1.5h2v.5h4v-.5h4v-.5h2v.5h2v.5h2v-.5h2v-1.5h2v.5h2v.5h2v1h4v-.5h4v.5h4v-.5h10v.5h2v-1h8v-.5h6v1.5h4v-1.5h2v1.5h2v-1h2v.5h4v.5h2v-.5h2v.5h2v-1h6v1h4v-1h2v1h2v-.5h2v.5h4v-1h2v.5h2v.5h2v-.5h2v.5h2v-1.5h2v1h2v.5h2v-1h2v1h6v-1h2v1h2v-1.5h2v-.5h2v1h2v-.5h2v1.5h4v-.5h2v-.5h4v1h2v-.5h2v-2.5h2v.5h4v1h2v1.5h4v-1h2v1h4v-.5h4v.5h4v-1h2v-.5h2v1.5h4v-.5h2v.5h4v-.5h2v.5h2v-1h4v1h2v-1h2v1h4v-1h2v.5h2v-1h2v1.5h12v-2h2v-.5h1v-1.5h1v2.5h1v.5h1v.5h1v.5h1v-1h2v.5h2v.5h2v-.5h2v-.5h2v1h6v-1.5h2v1.5h2v-1h2v-.5h2v1.5h6v-.5h4v-.5h4v1h2v-1.5h2v1.5h2v-1.5h4v1h2v.5h2v-.5h2v.5h10v-1h2v.5h2v-1h2v1h2v-.5h2v1h2v-.5h6v.5h2v-2h2v1.5h2v.5h6v-.5h1v.5z" fill="#27359b"/>
<line x1="217.2" y1="328.3" x2="1230" y2="328.3" stroke="#3347a8" stroke-width="1.1" />
<text x="202.3" y="345" font-size="13.2" font-weight="bold" fill="#1f1535" text-anchor="end">H3K27ac</text>
<text x="220.2" y="334.2" font-size="4.8" fill="#222">[0 - 10.00]</text>
<path d="M217.2,355v-.5h2v.5h4v-.5h2v.5h6v-.5h2v-.5h2v.5h4v-.5h2v1h2v-.5h2v-.5h2v1h2v-1h2v-.5h2v1.5h2v-.5h14v.5h4v-.5h2v.5h2v-.5h8v.5h2v-1h2v1h14v-.5h4v.5h3v-1.5h1v-1h1v-1.5h1v1.5h1v1.5h1v1h2v-.5h2v.5h2v-1h2v-.5h2v1h2v.5h2v-.5h4v-.5h2v1h2v-.5h4v.5h8v-1h2v1h4v-.5h2v.5h10v-1.5h2v1h2v.5h2v-1h2v1h6v-1.5h2v1h4v.5h4v-.5h4v.5h6v-1h2v1h6v-.5h2v.5h2v-1.5h2v1h2v.5h6v-1h2v1h2v-.5h2v.5h2v-.5h4v.5h10v-.5h2v.5h4v-.5h4v.5h2v-.5h2v.5h2v-1h1v-.5h1v.5h2v-1h2v1h2v-1h2v1h4v-1h1v.5h1v.5h1v.5h1v.5h1v-.5h1v-.5h2v-.5h2v.5h1v.5h1v-.5h2v-.5h1v-5h1v-5.5h2v5h1v2.5h1v3h1v-3.5h1v-2h1v3h1v1.5h1v-2h2v.5h1v-1h1v1.5h1v1.5h1v-2.5h1v.5h1v1h1v.5h1v-3.5h1v.5h1v4h1v-1.5h1v-1h1v1.5h1v1.5h1v-1h1v.5h1v.5h1v-.5h2v.5h1v-.5h1v.5h1v-.5h1v1h5v-.5h1v1h3v-.5h3v-.5h1v-2h1v.5h1v2h1v-.5h1v-2h1v-2h1v-1h1v1.5h1v-4h1v-1h1v6h1v-.5h1v2h2v-1h2v1.5h2v.5h2v-.5h2v-.5h2v.5h1v.5h1v-.5h1v-1.5h1v.5h1v-1h1v-.5h1v1h1v-.5h1v.5h1v-.5h2v-4h1v5h2v-2.5h1v1.5h1v2h1v-1h1v1h1v-.5h3v.5h1v.5h2v-1h2v-1.5h1v.5h1v-1h1v2.5h1v-.5h1v-.5h1v-1h1v-.5h1v2.5h1v-1h2v-.5h1v1h1v-3h1v3h1v.5h1v-1.5h2v1h1v-.5h1v.5h1v.5h4v.5h1v-.5h1v.5h1v-.5h3v1.5h1v-.5h4v.5h1v-1h1v-1h2v1.5h4v.5h2v-1.5h1v.5h1v1h2v-.5h2v.5h2v-.5h2v.5h2v-.5h4v-1h2v1.5h2v-.5h4v-1h2v1.5h4v-.5h2v.5h2v-.5h2v.5h2v-.5h2v.5h4v-1h4v1h14v-1h2v1h2v-.5h2v.5h4v-.5h4v.5h2v-.5h6v-.5h2v1h16v-.5h6v.5h4v-.5h2v.5h6v-.5h2v.5h26v-1h2v1h6v-1h2v-1h2v1h4v1h2v-.5h2v.5h6v-1h4v1h4v-1h4v1h2v-.5h2v-.5h2v.5h2v.5h2v-.5h4v.5h2v-.5h2v.5h4v-1h2v1h2v-.5h4v.5h4v-1.5h2v.5h2v.5h2v.5h4v-.5h2v.5h14v-.5h4v.5h2v-.5h2v-.5h2v-.5h2v1.5h6v-.5h4v.5h8v-1h4v.5h4v-.5h2v1h4v-.5h2v.5h2v-.5h2v.5h8v-.5h4v.5h2v-.5h2v-.5h2v1h10v-.5h6v.5h4v-.5h2v.5h2v-1h2v1h2v-1h2v1h2v-.5h2v.5h6v-1h2v1h2v-.5h4v.5h4v-1.5h2v1.5h2v-1h2v1h18v-.5h2v.5h2v-.5h2v-.5h1v-.5h3v.5h1v-.5h1v-.5h3v-.5h1v-1.5h1v-.5h2v.5h1v1h2v-1h1v2h1v1h1v-1h1v-2h1v2h1v-.5h1v1h1v-.5h1v-.5h2v1h1v-.5h1v.5h1v1h2v-1.5h2v-3h1v1h1v1h1v-4.5h1v-2h1v-1h1v-2h2v-5.5h1v-2.5h1v8h1v4.5h1v3h1v-3.5h1v2.5h1v-.5h1v-2.5h1v7h1v-.5h1v-2.5h1v2.5h3v1h1v-1h3v-.5h2v1h1v-.5h2v-2h1v-3h1v1.5h1v4.5h1v-6h1v1h1v3h1v1h1v1.5h1v-.5h1v-.5h2v.5h2v.5h2v-.5h3v-1h1v-1.5h1v-2h1v-1h1v2h1v-7h1v3h1v-.5h1v1h1v-2.5h1v3.5h1v3.5h1v.5h1v.5h1v-1.5h2v1.5h1v-1h1v.5h1v1.5h1v-2h1v1h1v-2.5h1v4h1v-1.5h1v1h1v.5h1v-1h1v-.5h1v1.5h1v.5h3v.5h1v-.5h1v-1.5h3v-.5h1v1h1v.5h1v-.5h1v-.5h1v.5h2v1.5h2v.5h8v-.5h2v-.5h2v1h24v-.5h2v-.5h2v1h10v-.5h2v.5h2v-.5h2v.5h2v-1.5h2v1.5h4v-.5h1v.5z" fill="#27359b"/>
<line x1="217.2" y1="355" x2="1230" y2="355" stroke="#3347a8" stroke-width="1.1" />
<text x="202.3" y="371" font-size="13.2" font-weight="bold" fill="#1f1535" text-anchor="end">H3K4me3</text>
<text x="220.2" y="360.9" font-size="4.8" fill="#222">[0 - 20]</text>
<path d="M217.2,381.4h66v-.5h1v-1.5h1v-2h1v-2h1v1h1v3h2v1h1v-.5h1v.5h1v.5h2v.5h12v-.5h2v.5h12v-.5h2v.5h16v-.5h2v.5h26v-.5h2v.5h6v-1h2v1h26v-.5h2v.5h34v-.5h2v.5h12v-.5h2v.5h66v-.5h2v.5h4v-.5h2v.5h22v-.5h2v.5h14v-.5h2v.5h158v-.5h4v.5h12v-.5h4v.5h2v-.5h2v.5h34v-.5h2v.5h82v-.5h2v.5h6v-.5h2v.5h14v-.5h2v.5h38v-.5h4v.5h4v-.5h2v.5h86v-.5h2v.5h34v-.5h2v.5h11v-.5h1v-.5h1v-.5h1v1h1v.5h15v-.5h2v.5h12v-.5h2v.5h112v-.5h2v.5h3z" fill="#27359b"/>
<line x1="217.2" y1="381.4" x2="1230" y2="381.4" stroke="#3347a8" stroke-width="1.1" />
<text x="203.2" y="396" font-size="13.2" font-weight="bold" fill="#1f1535" text-anchor="end">H3K4me1</text>
<text x="220.2" y="387.3" font-size="4.8" fill="#222">[0 - 10.00]</text>
<path d="M217.2,408.2h12v-1.5h2v1h2v.5h2v-1h2v.5h4v.5h2v-.5h2v.5h8v-1.5h2v.5h2v1h2v-.5h2v-.5h2v1h4v-.5h2v-.5h2v.5h2v.5h2v-.5h2v.5h4v-1.5h2v.5h2v.5h4v.5h2v-.5h2v.5h4v-1h2v-.5h2v1h3v.5h1v-2h1v1h1v.5h1v-1.5h1v-.5h1v-1.5h1v-.5h1v4h1v-3h1v1h1v.5h1v.5h1v1h4v.5h4v-2.5h2v2.5h2v-1h2v.5h2v.5h6v-1h2v1h4v-1h2v1h4v-1h2v1h6v-.5h2v.5h8v-1h2v.5h2v.5h2v-1.5h2v1.5h2v-1.5h2v1.5h4v-1h2v1h2v-.5h2v.5h2v-1h2v1h4v-.5h4v.5h2v-1h2v.5h4v-.5h2v1h2v-.5h4v.5h8v-1h2v1h4v-.5h2v-1.5h2v2h4v-1h2v1h8v-.5h2v-1h2v.5h4v.5h2v.5h2v-2h1v-.5h2v.5h1v-.5h1v.5h1v-1.5h3v-.5h1v.5h2v-1h2v-.5h1v.5h1v1h1v.5h1v1h2v-1.5h2v1h2v1h1v.5h1v.5h2v-.5h1v-.5h2v-.5h1v.5h1v-1h1v-1h2v-.5h3v.5h1v-1.5h1v1h1v1.5h1v-.5h1v-.5h1v.5h1v-.5h1v-.5h1v.5h3v-.5h1v1.5h3v.5h1v-1h1v1h1v-1h3v.5h1v-.5h1v-.5h2v-.5h1v1h2v-.5h1v-.5h1v.5h1v-.5h1v2.5h1v-.5h1v-.5h1v-.5h2v.5h1v.5h1v-1h1v-.5h1v1.5h2v-.5h2v-.5h1v1.5h1v-1h2v-.5h1v.5h1v.5h1v-1h1v2h1v.5h2v-1.5h1v-.5h1v-.5h1v-3h1v1.5h2v1h1v.5h3v-1h1v-.5h1v3.5h1v.5h1v-.5h1v-1h1v-2h2v1h1v.5h1v1h1v-1.5h1v-.5h1v.5h1v1h1v-.5h1v.5h1v-1h1v.5h4v1h1v-2h1v.5h2v1h2v-1.5h1v.5h1v.5h1v-.5h1v-2h1v.5h1v.5h2v1h1v-.5h1v1h1v-.5h1v.5h1v-2h2v1h1v-.5h1v-.5h1v-.5h3v.5h4v2h1v1h1v-.5h1v-1.5h2v.5h1v-1.5h1v1h1v-1h1v1.5h1v-.5h3v-2h2v2.5h1v1h1v1.5h1v.5h2v-.5h1v-.5h2v.5h2v-.5h2v-1h1v.5h1v.5h2v-1.5h1v-.5h1v1h2v.5h2v-1.5h2v2.5h2v-1.5h1v.5h1v1h1v-.5h1v-1h2v-1h1v.5h1v1h2v.5h2v-.5h1v-1h1v.5h1v-.5h1v.5h1v-.5h1v-.5h1v1h1v-1h2v1h1v.5h1v-1.5h1v1h1v-.5h2v1.5h2v-1h1v-.5h3v.5h1v1h1v.5h1v.5h3v-.5h2v.5h8v-.5h2v-.5h2v1h6v-.5h2v.5h2v-1h2v1h10v-1h2v1h2v-.5h2v.5h4v-2h2v2h4v-.5h8v.5h4v-.5h2v-1h2v1.5h2v-1.5h2v1.5h6v-1h2v1h6v-3h2v2h2v1h6v-.5h6v.5h2v-1.5h2v.5h2v.5h2v-.5h2v1h4v-1h2v1h4v-.5h2v.5h4v-.5h2v-.5h6v1h2v-1h2v1h4v-1h2v1h10v-.5h2v-.5h2v1h8v-.5h2v.5h12v-.5h2v-1h2v1.5h4v-.5h4v.5h4v-1h2v.5h2v.5h2v-1h2v.5h2v-.5h2v.5h4v.5h6v-.5h2v.5h2v-1h4v-.5h2v1h2v-.5h4v.5h2v.5h4v-.5h2v.5h6v-1h2v1h2v-.5h4v.5h2v-.5h4v.5h6v-1h2v.5h2v.5h4v-1h4v.5h2v-.5h2v1h2v-.5h2v.5h4v-.5h2v.5h4v-.5h2v-.5h2v1h2v-.5h2v.5h6v-1h2v1h2v-.5h2v.5h4v-.5h2v-.5h2v.5h4v.5h2v-1h2v1h2v-1h1v-1h1v-2.5h1v.5h1v.5h2v1h1v1h1v.5h2v-1h2v1h1v-1h3v-.5h1v1h2v1h1v.5h1v-.5h1v-2h1v-.5h1v1h1v-1.5h1v.5h1v-1.5h1v-.5h1v-1h1v1h1v1h1v-1h1v-3h1v1h1v-3h1v6h1v-3h1v1h1v3h1v-1.5h1v1h1v.5h2v2.5h2v-1h1v.5h1v.5h3v-.5h1v-1.5h2v1.5h1v-1.5h1v.5h1v.5h1v-1.5h1v-2h1v-.5h1v2h1v.5h1v-3h1v-.5h2v1.5h1v-.5h1v-1h1v1.5h1v-1h1v2.5h2v-1h1v1.5h2v-1.5h2v2.5h1v-1.5h1v.5h1v-2.5h1v.5h1v-3h1v2.5h1v-4.5h1v-3h1v3h1v-.5h1v1.5h1v-.5h1v3h1v-1h1v3h1v1h1v-.5h1v2h1v.5h2v.5h3v-1h1v-1.5h1v-7.5h1v-1h1v-.5h1v5.5h1v1.5h1v-2h1v4h1v-3.5h1v3.5h1v-2.5h1v3h2v1h1v1h1v.5h1v.5h1v-.5h1v.5h3v-.5h2v.5h4v-1h4v-1h2v2h6v-.5h2v.5h2v-.5h4v.5h2v-.5h4v.5h2v-1.5h2v1h2v.5h2v-1.5h2v1h4v.5h4v-.5h6v.5h2v-.5h4v.5h3z" fill="#27359b"/>
<line x1="217.2" y1="408.2" x2="1230" y2="408.2" stroke="#3347a8" stroke-width="1.1" />
<line x1="217.4" y1="431.9" x2="217.4" y2="541.4" stroke="#c4c2c6" stroke-width="0.8" />
<line x1="217.2" y1="431.9" x2="1230" y2="431.9" stroke="#555" stroke-width="0.9" />
<text x="131.5" y="485.6" font-size="21.3" font-weight="bold" fill="#b23a96" text-anchor="middle" transform="rotate(-90 131.5 485.6)">HMS001</text>
<text x="202.3" y="449" font-size="13.2" font-weight="bold" fill="#1f1535" text-anchor="end">Input</text>
<text x="220.2" y="437.8" font-size="4.8" fill="#222">[0 - 10.00]</text>
<path d="M217.2,458.3v-1.5h2v1h2v-.5h4v.5h2v-1h2v1.5h2v-1h2v-.5h2v-.5h2v.5h2v1.5h2v-2h2v2h2v-2h4v-2h1v-1h1v1.5h2v2.5h1v.5h1v.5h6v-2h2v.5h2v.5h4v-2h2v.5h2v1.5h2v1h2v-2h2v-.5h2v2.5h2v-3h1v-.5h1v-1h1v-5.5h1v1h1v-4h1v7h1v5h1v1h2v-1h2v.5h2v-.5h2v.5h2v.5h2v-1.5h2v1h2v.5h2v-.5h2v.5h2v-.5h2v-.5h2v.5h2v-1h2v.5h2v.5h2v-1h2v1h2v-2h2v.5h4v1h2v-3h2v4h2v-2h2v1.5h2v-1h2v1h2v-.5h2v-.5h2v-1.5h2v2.5h4v-1.5h2v.5h4v1.5h2v-2h2v2h2v-.5h2v.5h2v-1h4v-2.5h2v3.5h2v-.5h2v-.5h2v1h2v-3h2v.5h2v2.5h2v-.5h2v-.5h4v.5h2v.5h2v-1h2v1h2v-2h2v2h2v-.5h4v-3h2v1.5h2v.5h2v-1h2v-.5h2v1h2v1.5h2v-1.5h2v1h2v-.5h2v-1.5h2v3h2v-.5h4v-1h2v1.5h2v-1h2v-2h2v3h4v-2.5h4v1h2v-3h2v3h2v1h2v-.5h2v-.5h2v.5h2v1h8v-.5h2v.5h2v-.5h2v.5h2v-.5h2v.5h2v-3h2v2h2v-2h2v1h2v2h2v-1h2v1h4v-.5h2v.5h2v-2h6v2h4v-2.5h1v-3.5h1v3h2v1h1v.5h1v1h4v-1.5h2v.5h2v.5h2v-1h2v2h2v-.5h2v.5h2v-1.5h2v1.5h2v-.5h2v.5h6v-2h4v-.5h2v2h2v-.5h2v-1h2v.5h2v.5h2v1h2v-.5h2v.5h2v-1h2v1h2v-.5h2v-.5h2v.5h4v-2h6v1h2v1.5h4v-1.5h2v-.5h2v2h2v-2.5h2v2.5h4v-2h2v.5h4v-1h2v1h2v1h2v.5h2v-.5h2v-.5h6v.5h4v-1.5h2v.5h2v1h2v-.5h4v1h2v-2h2v2h2v-.5h2v-2h4v1h2v1.5h2v-.5h2v-.5h2v-2h2v3h2v-2.5h2v2.5h2v-.5h2v-.5h2v.5h2v-4h2v4h2v-2h2v2h2v.5h4v-.5h2v.5h2v-.5h2v-2h2v2.5h2v-1.5h2v1.5h2v-1h4v-3.5h2v4h2v-.5h4v1h2v-2.5h2v.5h4v1.5h2v-1.5h4v1.5h2v.5h2v-2.5h2v2h2v.5h4v-1.5h4v.5h4v-1h2v-2h1v.5h1v2.5h1v-.5h1v-2h1v-.5h1v3h1v-1.5h1v-2h1v2h1v1h1v-.5h1v-.5h1v.5h1v1.5h2v-.5h2v1h2v-1.5h1v.5h1v1h6v-2h2v1h6v-2.5h2v2h2v1.5h2v-1.5h2v1.5h2v-1.5h2v1h2v.5h2v-.5h2v-3h2v3.5h2v-.5h2v-2h2v1.5h2v-1.5h5v-1h1v.5h1v-.5h2v-1h1v1h1v1h2v2h1v-.5h1v.5h1v.5h2v-.5h2v-3.5h2v3.5h2v-2h2v2.5h2v-2.5h2v1h2v-1.5h2v1h2v2h4v-.5h2v.5h6v-1h2v-.5h1v-1h1v-4h1v2h1v1h1v2h1v-2h1v1h1v2h2v-1h2v1.5h2v-1.5h2v.5h2v1h2v-2.5h2v1h2v1.5h2v-4h2v2.5h2v-1h2v1.5h1v-1h1v-1.5h1v1h1v-.5h1v-2h1v1h1v1h1v2.5h2v-1.5h2v1h2v1h2v-.5h4v-1h2v1.5h4v-1.5h2v1.5h2v-1h4v-1.5h2v1.5h2v1h2v-1.5h2v-1.5h2v1.5h2v1.5h2v-1.5h2v1.5h2v-1.5h2v1h2v.5h2v-4h2v3h2v-2.5h2v3.5h4v-1h2v.5h2v-3.5h2v3h4v-.5h2v1.5h4v-.5h2v-.5h2v-3.5h2v4.5h4v-1h2v-.5h2v.5h2v1h2v-1h2v1h2v-.5h4v.5h2v-1h2v-1h2v1h2v-1h2v-1h2v2.5h2v.5h2v-1h2v-.5h2v1h2v.5h2v-3h2v3h2v-.5h2v-1h2v1.5h2v-1.5h2v1.5h2v-2h2v2h2v-.5h2v.5h4v-2.5h2v-.5h2v2.5h2v-1.5h4v1.5h2v.5h2v-.5h6v-.5h2v-1.5h2v1.5h4v-1.5h2v2.5h2v-1h2v-1h2v1h2v.5h2v.5h2v-.5h4v-1h2v1.5h2v-.5h2v-.5h2v1h4v-1h2v1h2v-2.5h2v2h2v.5h2v-.5h4v.5h2v-1.5h2v1h2v.5h2v-1.5h2v-.5h2v1.5h4v-2.5h2v1.5h2v1.5h2v-.5h2v-.5h2v1h2v-1.5h2v1.5h2v-.5h2v.5h4v-1h2v.5h2v.5h2v-1h2v.5h2v-2.5h2v.5h2v1h2v-2h1v-.5h1v2.5h1v-1h1v-.5h1v1h1v-1h1v.5h1v-2h2v1h2v1h1v.5h1v1.5h2v-1h2v1.5h2v-.5h4v-.5h2v-1.5h2v2.5h2v-1h2v-.5h2v-.5h2v.5h1v1.5z" fill="#27359b"/>
<line x1="217.2" y1="458.3" x2="1230" y2="458.3" stroke="#3347a8" stroke-width="1.1" />
<text x="202.3" y="475.8" font-size="13.2" font-weight="bold" fill="#1f1535" text-anchor="end">H3K27ac</text>
<text x="220.2" y="464.2" font-size="4.8" fill="#222">[0 - 20]</text>
<path d="M217.2,484.7v-.5h8v.5h2v-1h2v1h2v-.5h2v.5h2v-.5h4v-1h2v.5h2v.5h2v.5h6v-.5h2v.5h12v-1.5h2v1h2v.5h2v-.5h3v-.5h1v.5h3v-.5h1v-2.5h1v-1h1v-.5h1v-1.5h1v-2.5h2v-2h1v.5h2v.5h1v2h1v.5h2v.5h1v-.5h1v-2h2v-2.5h1v3h1v-2h1v2h1v1h1v2h1v-1h2v-1.5h1v-1.5h1v.5h1v-3h2v2.5h1v-2.5h1v5.5h1v1.5h1v1.5h1v1h1v1h1v.5h2v.5h1v.5h2v.5h4v-.5h2v.5h2v-.5h2v.5h6v-.5h2v-1h2v.5h2v1h2v-1.5h2v1h2v.5h4v-1h2v.5h2v.5h2v-1.5h2v1h2v.5h2v-.5h2v.5h4v-.5h2v.5h8v-.5h2v-1h2v1.5h8v-1h4v1h10v-.5h2v.5h8v-.5h2v.5h16v-1h4v.5h8v.5h2v-1h2v1h2v-1h2v-.5h2v1.5h2v-.5h4v-1h2v1h2v-.5h2v1h6v-.5h2v-.5h2v.5h2v-1.5h2v2h4v-1h2v.5h2v-1h2v.5h2v.5h2v.5h4v-1h2v1h2v-.5h1v-.5h3v-1.5h2v.5h2v.5h1v1h1v-.5h1v-.5h2v.5h2v-1.5h3v-.5h2v1h1v.5h1v.5h2v-1h2v.5h1v.5h3v-.5h1v-.5h1v.5h1v-1.5h1v1h2v.5h3v-1h2v-1h1v-1h2v1h1v1.5h1v1h2v-1h1v.5h2v-.5h1v.5h2v.5h1v.5h1v-.5h1v.5h1v-.5h2v-.5h3v-1h1v1h1v.5h1v-2h2v1h1v.5h3v-.5h1v-.5h1v.5h1v1h2v-.5h1v1h2v-.5h1v-1.5h1v-1h2v2.5h1v-.5h3v-.5h3v.5h1v.5h1v.5h1v-.5h2v-.5h2v-.5h1v1h1v.5h2v-1.5h1v.5h1v-.5h4v1.5h3v-1.5h2v.5h1v1.5h4v-1h2v1h4v-1h2v.5h2v-.5h2v.5h2v-.5h2v-1h2v1.5h2v-.5h2v-.5h2v1h6v-.5h4v1h4v-1h2v1h2v-1h2v.5h2v.5h2v-.5h2v-1h2v1.5h6v-.5h2v.5h6v-.5h4v.5h2v-1h4v1h2v-.5h2v.5h4v-.5h6v.5h4v-.5h2v.5h6v-.5h4v.5h6v-.5h3v-1h3v-1h1v-1.5h1v-2.5h2v-.5h1v.5h1v-1h1v1h1v.5h1v.5h1v-1h1v1h1v-1h1v-5h1v-5.5h1v3h1v6.5h1v1.5h1v-3h1v-6h1v1.5h1v5h1v-1h1v2.5h2v-1h1v-.5h1v-2.5h1v.5h1v2.5h1v-.5h1v2h1v1h1v-2h1v2h1v-2h1v1.5h1v1.5h2v-1h1v1.5h1v-2.5h1v2h1v-1h1v.5h2v2h1v-3h1v2.5h1v.5h1v-.5h1v-.5h1v.5h1v-1.5h1v2.5h1v-1h1v.5h1v.5h1v-2h1v1.5h1v-.5h1v.5h2v1.5h1v-.5h1v1h1v-1.5h2v.5h1v.5h1v.5h1v-.5h1v-1h2v.5h1v-.5h1v1h2v-1h1v.5h1v1h2v-2h2v.5h1v-.5h3v.5h1v1.5h1v-.5h1v-2h2v.5h1v-2.5h1v2.5h1v-.5h1v-.5h1v1h1v1h1v1h2v-1.5h1v-1.5h1v-.5h1v1h2v-1h1v1.5h4v1h2v-1h1v1h1v-.5h1v-.5h1v1.5h1v-.5h1v-.5h1v1h1v.5h5v.5h1v.5h4v-.5h2v.5h2v-.5h2v.5h4v-1h2v1h6v-.5h2v-1h2v1.5h2v-.5h4v.5h4v-.5h2v.5h2v-.5h4v-.5h2v1h2v-.5h2v.5h6v-1.5h2v1.5h6v-1h2v1h4v-1h2v1h4v-1.5h2v1.5h4v-1.5h2v1h2v-.5h2v.5h2v.5h2v-.5h2v.5h6v-1h2v1h2v-1h4v.5h2v.5h2v-.5h2v.5h22v-.5h2v.5h2v-.5h2v-.5h2v.5h2v.5h2v-.5h2v.5h4v-1.5h2v1.5h4v-2h2v1.5h3v.5h1v-.5h4v-1.5h1v.5h1v-.5h2v-.5h2v2h1v-1h1v-1h2v-1.5h1v.5h1v1h2v-1h1v-.5h1v-.5h1v2.5h1v-2.5h1v-.5h1v.5h1v-.5h1v-.5h1v-.5h1v1h1v-.5h1v-.5h1v-1h1v-1h1v-4h1v-.5h1v-.5h1v-2h1v-7h1v3h1v-.5h1v-1.5h1v.5h1v-1.5h1v-1.5h1v1.5h1v6.5h1v.5h1v2h1v5.5h1v-.5h2v1.5h2v1.5h2v-3h1v2.5h1v1.5h2v.5h1v.5h1v-.5h1v-1h1v-2h1v2h1v-2h1v-.5h1v1.5h1v1.5h1v1h1v.5h1v.5h3v.5h1v.5h7v-.5h1v.5h1v-1.5h1v1h1v1.5h1v-.5h1v-.5h2v.5h1v-1.5h3v-1h1v.5h1v.5h1v.5h1v.5h1v-.5h1v.5h1v.5h2v-1h3v-1h2v1h2v-1h2v2h4v-.5h1v.5h1v-1h1v.5h1v-2h1v1h1v1.5h2v-.5h2v-.5h2v.5h1v.5h1v.5h4v-1h2v.5h2v-.5h2v1h2v-.5h4v-.5h2v1h2v-.5h2v.5h2v-1.5h2v1h6v.5h2v-1h2v1h2v-.5h2v.5h8v-1h2v1h4v-2.5h2v2h2v.5h6v-.5h1v.5z" fill="#27359b"/>
<line x1="217.2" y1="484.7" x2="1230" y2="484.7" stroke="#3347a8" stroke-width="1.1" />
<text x="202.3" y="501.8" font-size="13.2" font-weight="bold" fill="#1f1535" text-anchor="end">H3K4me3</text>
<text x="220.2" y="490.6" font-size="4.8" fill="#222">[0 - 20]</text>
<path d="M217.2,511.4v-.5h2v.5h22v-.5h2v.5h2v-.5h2v.5h2v-.5h2v.5h12v-.5h4v.5h6v-.5h2v.5h3v-.5h1v-1h1v-1.5h1v-2.5h1v-3.5h1v-4h1v1.5h1v-.5h1v3h1v1h1v-1h1v-1h1v-2.5h1v2h1v4h1v-1h1v-.5h1v-2h1v1.5h1v-1.5h1v-.5h2v1.5h2v-1.5h1v.5h1v-1.5h1v.5h1v.5h1v2h2v.5h1v3.5h1v3h1v.5h1v1h94v-.5h2v.5h4v-.5h2v.5h20v-.5h2v.5h8v-.5h2v.5h28v-.5h2v.5h34v-.5h2v.5h4v-.5h2v.5h2v-1h2v1h48v-.5h2v.5h14v-.5h2v.5h6v-.5h2v.5h36v-.5h2v.5h18v-.5h2v.5h14v-.5h2v.5h14v-.5h4v.5h4v-.5h2v.5h4v-.5h2v.5h14v-.5h2v.5h24v-.5h2v-.5h2v.5h1v-.5h1v-.5h1v-1h1v-1.5h3v-1.5h1v-1h1v3h1v2.5h6v-.5h2v1h7v-.5h2v.5h8v.5h1v-1h9v.5h1v.5h1v-.5h1v-.5h4v.5h2v.5h28v-.5h2v.5h134v-.5h2v.5h10v-.5h2v.5h4v-.5h2v.5h86v-.5h2v.5h2v-.5h2v-1.5h3v.5h2v.5h1v1h10v-.5h2v.5h28v-.5h2v.5h16v-.5h2v.5h14v-.5h2v.5h64v-.5h2v.5h7z" fill="#27359b"/>
<line x1="217.2" y1="511.4" x2="1230" y2="511.4" stroke="#3347a8" stroke-width="1.1" />
<text x="203.2" y="527" font-size="13.2" font-weight="bold" fill="#1f1535" text-anchor="end">H3K4me1</text>
<text x="220.2" y="517.3" font-size="4.8" fill="#222">[0 - 10.00]</text>
<path d="M217.2,537.1v-3h2v2h4v1h2v-.5h2v-2.5h2v1.5h2v1.5h2v-.5h4v.5h6v-2h2v1.5h2v.5h6v-.5h2v-.5h4v1h6v-1.5h2v.5h2v.5h2v-.5h2v1h10v-1h2v.5h4v.5h8v-1h2v.5h2v.5h2v-.5h3v-.5h1v-.5h1v-1.5h1v-4h1v1h1v-.5h2v1.5h1v1h1v.5h1v1h2v-.5h1v2h1v-1h1v.5h2v-1.5h1v.5h1v2.5h1v-1h2v-.5h1v-1.5h1v.5h1v1h1v-.5h1v.5h1v-1.5h1v-3h1v1h1v4h3v1h1v-.5h1v-.5h1v-2h2v.5h1v.5h1v-1.5h2v-1h2v-.5h1v2h1v1h2v-3.5h1v.5h1v.5h1v1.5h1v.5h1v-1h1v-1.5h1v.5h1v1h2v1.5h1v-.5h1v-1h1v.5h1v-1h1v.5h1v.5h1v-1h1v1h1v.5h2v-3h1v1h1v.5h1v3.5h1v.5h1v-2h1v-2h1v2h3v.5h1v-1h1v.5h1v-1h2v-1h1v.5h1v.5h3v.5h1v-1h1v.5h1v1h1v-1.5h2v-.5h1v.5h1v-.5h1v1.5h1v1.5h1v-1h1v.5h2v-.5h1v-.5h1v.5h1v-.5h1v-.5h1v1h1v-.5h1v1h1v-.5h1v-.5h1v-.5h4v1h1v-1h1v-1h1v1.5h2v-.5h1v.5h2v.5h3v-.5h2v-.5h2v-.5h1v-.5h1v1h1v1.5h3v-1h2v-1.5h2v2h2v-2h1v-1h1v1h1v.5h1v1.5h1v-1h2v1h1v1h1v1h1v-.5h1v-.5h1v-2h1v.5h1v-1h3v.5h1v-1h2v1.5h1v-.5h1v-3h1v-.5h1v2.5h2v1.5h1v-3.5h2v-.5h1v4h1v-.5h2v-1h2v-.5h1v1h1v-.5h1v-1.5h1v-.5h1v1h1v1h1v.5h1v-.5h1v-.5h1v2h1v1h2v-1.5h1v.5h1v.5h1v-.5h2v.5h1v-2h2v1h1v.5h1v-.5h1v.5h1v-2h1v-.5h1v-.5h1v3.5h1v-.5h1v.5h1v1.5h2v-3h2v-.5h1v1h2v.5h1v-.5h2v-1.5h1v1h1v.5h1v-1.5h1v1h2v-1.5h1v.5h1v3h1v-.5h1v-.5h1v.5h1v-1.5h1v-.5h1v-3h1v.5h1v.5h1v3h1v-.5h2v-2h2v-.5h1v3.5h1v-.5h1v.5h3v-.5h1v1h1v-1h1v.5h1v-3.5h1v.5h2v2h1v-.5h1v.5h2v.5h1v-.5h1v.5h1v-1h1v-.5h2v.5h1v-1.5h1v2h1v.5h1v.5h1v-1h1v.5h1v.5h1v-1h1v-.5h1v.5h1v-.5h2v-.5h1v1.5h3v-1.5h1v-.5h2v1h1v1h2v-1h1v1h2v1h1v.5h1v-.5h1v-1h2v.5h2v-1.5h1v-.5h1v-2h1v.5h1v1.5h1v.5h1v-2h1v.5h1v2.5h1v.5h2v-1h2v-.5h1v-1h3v2h1v-1h2v.5h2v.5h1v-.5h1v-.5h1v.5h1v.5h2v-1.5h2v2.5h2v-2h1v1.5h1v1h1v.5h1v.5h1v-.5h1v-1h2v1.5h1v-2.5h3v2h1v-.5h1v-.5h1v-1h1v1.5h2v-.5h2v.5h1v-.5h1v.5h1v.5h1v-1.5h2v-.5h4v.5h1v-1h1v.5h1v.5h2v-.5h1v.5h2v-.5h1v.5h1v1.5h1v.5h1v-.5h3v-.5h1v-1h2v-1h1v-.5h1v1.5h1v1h1v.5h1v-.5h1v.5h1v-.5h1v-.5h1v-.5h1v.5h2v-2h2v1.5h1v1h3v-1.5h3v-.5h1v.5h1v.5h1v-.5h2v-.5h1v1.5h1v.5h1v-.5h1v-.5h3v1.5h2v.5h1v-3.5h1v.5h1v-.5h1v2h1v1.5h1v-1.5h1v-1h1v-.5h1v2h1v-4.5h3v1.5h1v.5h1v.5h1v-2h2v.5h1v-2.5h1v-.5h1v.5h1v2h1v1h1v-.5h4v-1h1v2h1v-.5h1v-1.5h1v1h1v1h1v-1h1v.5h1v1h1v-1h1v-.5h2v1h3v-1.5h1v.5h1v1h1v.5h1v-1h1v-.5h1v-2h1v.5h1v2h2v1h1v-.5h1v-1.5h1v1h1v-2h1v2h1v.5h1v.5h1v-1h2v-.5h1v-1.5h1v-1h1v.5h1v1.5h1v-.5h1v.5h1v.5h1v-1h2v2h1v1h1v-.5h1v-2h1v.5h1v1h3v.5h1v2h1v-1.5h1v-1h1v2h1v-.5h1v.5h1v.5h1v-1h2v-3.5h1v-2h1v-2h1v-1h1v2h1v1h1v.5h1v1h1v-1.5h1v.5h1v3h1v.5h1v-.5h1v.5h2v-.5h1v-1.5h1v1h1v.5h1v.5h1v-.5h1v1h2v-.5h1v1.5h1v-1h1v2h1v-2h1v-.5h1v.5h1v-.5h2v.5h3v-.5h1v-.5h3v-1.5h1v.5h1v.5h2v-.5h1v.5h2v1h2v1.5h2v-2.5h1v-4h1v1.5h2v3.5h2v.5h1v1h1v1.5h1v1h1v-1h1v-.5h1v.5h1v-.5h2v-.5h1v-2h2v3h2v-.5h2v-.5h1v-1h1v1.5h1v1h2v-.5h2v.5h2v-2h1v-2h2v1.5h2v.5h1v.5h1v-.5h3v-.5h1v.5h1v1.5h1v-1h1v-.5h1v2.5h1v-.5h3v-1.5h2v-1h1v.5h1v-1.5h1v-.5h1v1.5h1v.5h1v2.5h2v-2h1v-1h1v1.5h4v-.5h1v-.5h1v1h1v-.5h1v.5h1v.5h1v-.5h1v-1h3v1h3v1h4v-.5h1v-1h1v-1.5h1v.5h1v-2h1v-2h1v-.5h1v4.5h1v-2h1v2h1v.5h5v-2h1v.5h1v2h3v.5h1v.5h1v-.5h1v-1.5h3v1.5h2v.5h4v.5h2v-.5h1v1h3v-1h1v.5h1v-.5h1v.5h1v.5h1v-.5h1v.5h1v-1h1v.5h1v-1.5h1v.5h2v.5h3v-.5h2v.5h1v-2h1v.5h2v1.5h2v.5h1v-1h1v-1h2v.5h2v-.5h1v1h1v-.5h2v.5h2v-.5h1v1h3v-.5h2v.5h1v-.5h1v-1h1v.5h2v.5h1v1h1v.5h1v-1h1v-1.5h1v.5h1v-.5h1v1h1v1h1v-1.5h2v-.5h1v-1h1v.5h1v2h1v-.5h1v-.5h1v.5h1v-.5h1v.5h1v-1.5h2v-.5h1v-1h1v1h1v-.5h1v.5h1v-.5h1v-.5h1v.5h3v-.5h1v.5h1v.5h1v.5h1v-1h1v-.5h3v-1.5h1v-3h1v.5h1v2h1v-3.5h1v4.5h1v.5h1v-1.5h1v-1h1v-1h1v2h1v-2h1v1h1v-5.5h1v-.5h1v7h1v2.5h1v2.5h1v-3.5h1v-.5h1v-.5h1v2h1v-3h1v-1h1v-.5h1v4h1v-1.5h1v.5h1v-3h1v.5h1v.5h1v3h1v-3.5h1v-.5h1v3.5h1v-.5h1v.5h1v2h1v.5h1v1.5h1v-4.5h3v.5h1v.5h2v.5h1v-1.5h2v5.5h2v-1h1v-2h3v-.5h2v-.5h1v2.5h1v-.5h1v1h1v-3h1v-.5h2v1.5h2v-.5h1v-1.5h1v-.5h1v-.5h1v2.5h1v-2h2v.5h1v.5h1v.5h1v1.5h1v.5h2v-1.5h1v.5h1v1.5h1v-2.5h1v1.5h3v-1h1v1.5h1v-3h2v.5h1v2h2v-2.5h1v.5h1v1h1v1h1v2.5h1v-1h1v-1h1v1h1v.5h1v-.5h1v-1.5h2v-.5h1v1.5h2v-.5h3v-.5h1v.5h2v-.5h1v2.5h1v-.5h2v-.5h2v-.5h1v-1.5h2v-2.5h1v-1.5h1v1.5h1v-.5h1v.5h1v1h1v-.5h1v2.5h1v-4h1v-2h1v3.5h1v1h1v.5h3v1h1v-4h3v2h3v1h2v-.5h1v2h2v.5h1v-2h1v.5h1v.5h1v.5h1v-1.5h1v-.5h1v1.5h2v-.5h1v1.5h1v1h1v.5z" fill="#27359b"/>
<line x1="217.2" y1="537.1" x2="1230" y2="537.1" stroke="#3347a8" stroke-width="1.1" />
<text x="220.2" y="545.0" font-family="Liberation Sans, sans-serif" font-size="4.8" fill="#444" clip-path="inset(0 0 2.6px 0)">[0 - 40.00]</text>
<text x="105.6" y="572.3" font-size="6.2" fill="#222">Refseq Genes</text>
<line x1="212.6" y1="561.2" x2="212.6" y2="581" stroke="#b9b7ba" stroke-width="0.8" />
<line x1="214.2" y1="561.2" x2="214.2" y2="581" stroke="#d9d7da" stroke-width="0.8" />
<line x1="216.8" y1="561.2" x2="216.8" y2="581" stroke="#b9b7ba" stroke-width="0.8" />
<line x1="285.7" y1="564.6" x2="1233" y2="564.6" stroke="#2d3fa6" stroke-width="0.8" />
<line x1="285.7" y1="561.4" x2="285.7" y2="567.8" stroke="#2d3fa6" stroke-width="1.3" />
<line x1="613.4" y1="561.4" x2="613.4" y2="567.8" stroke="#2d3fa6" stroke-width="1.3" />
<line x1="652.6" y1="561.4" x2="652.6" y2="567.8" stroke="#2d3fa6" stroke-width="1.3" />
<line x1="664.8" y1="561.4" x2="664.8" y2="567.8" stroke="#2d3fa6" stroke-width="1.3" />
<line x1="703.9" y1="561.4" x2="703.9" y2="567.8" stroke="#2d3fa6" stroke-width="1.3" />
<line x1="895.2" y1="561.4" x2="895.2" y2="567.8" stroke="#2d3fa6" stroke-width="1.3" />
<line x1="902.6" y1="561.4" x2="902.6" y2="567.8" stroke="#2d3fa6" stroke-width="1.3" />
<line x1="953.9" y1="561.4" x2="953.9" y2="567.8" stroke="#2d3fa6" stroke-width="1.3" />
<line x1="980.6" y1="561.4" x2="980.6" y2="567.8" stroke="#2d3fa6" stroke-width="1.3" />
<line x1="1138.5" y1="561.4" x2="1138.5" y2="567.8" stroke="#2d3fa6" stroke-width="1.3" />
<line x1="1228.7" y1="561.4" x2="1228.7" y2="567.8" stroke="#2d3fa6" stroke-width="1.3" />
<line x1="648" y1="562.6" x2="648" y2="566.6" stroke="#2d3fa6" stroke-width="1.0" />
<rect x="305.4" y="562.2" width="8.9" height="4.8" fill="#2d3fa6" />
<path d="M296,563.2l2.2,1.4l-2.2,1.4zM316.1,563.2l2.2,1.4l-2.2,1.4zM336.1,563.2l2.2,1.4l-2.2,1.4zM356.2,563.2l2.2,1.4l-2.2,1.4zM376.2,563.2l2.2,1.4l-2.2,1.4zM396.3,563.2l2.2,1.4l-2.2,1.4zM416.3,563.2l2.2,1.4l-2.2,1.4zM436.4,563.2l2.2,1.4l-2.2,1.4zM456.4,563.2l2.2,1.4l-2.2,1.4zM476.5,563.2l2.2,1.4l-2.2,1.4zM496.5,563.2l2.2,1.4l-2.2,1.4zM516.6,563.2l2.2,1.4l-2.2,1.4zM536.6,563.2l2.2,1.4l-2.2,1.4zM556.6,563.2l2.2,1.4l-2.2,1.4zM576.7,563.2l2.2,1.4l-2.2,1.4zM596.7,563.2l2.2,1.4l-2.2,1.4zM616.8,563.2l2.2,1.4l-2.2,1.4zM636.8,563.2l2.2,1.4l-2.2,1.4zM656.9,563.2l2.2,1.4l-2.2,1.4zM676.9,563.2l2.2,1.4l-2.2,1.4zM697,563.2l2.2,1.4l-2.2,1.4zM717,563.2l2.2,1.4l-2.2,1.4zM737.1,563.2l2.2,1.4l-2.2,1.4zM757.1,563.2l2.2,1.4l-2.2,1.4zM777.2,563.2l2.2,1.4l-2.2,1.4zM797.2,563.2l2.2,1.4l-2.2,1.4zM817.3,563.2l2.2,1.4l-2.2,1.4zM837.3,563.2l2.2,1.4l-2.2,1.4zM857.4,563.2l2.2,1.4l-2.2,1.4zM877.4,563.2l2.2,1.4l-2.2,1.4zM897.5,563.2l2.2,1.4l-2.2,1.4zM917.5,563.2l2.2,1.4l-2.2,1.4zM937.6,563.2l2.2,1.4l-2.2,1.4zM957.6,563.2l2.2,1.4l-2.2,1.4zM977.7,563.2l2.2,1.4l-2.2,1.4zM997.7,563.2l2.2,1.4l-2.2,1.4zM1017.8,563.2l2.2,1.4l-2.2,1.4zM1037.8,563.2l2.2,1.4l-2.2,1.4zM1057.9,563.2l2.2,1.4l-2.2,1.4zM1077.9,563.2l2.2,1.4l-2.2,1.4zM1098,563.2l2.2,1.4l-2.2,1.4zM1118,563.2l2.2,1.4l-2.2,1.4zM1138.1,563.2l2.2,1.4l-2.2,1.4zM1158.1,563.2l2.2,1.4l-2.2,1.4zM1178.2,563.2l2.2,1.4l-2.2,1.4zM1198.2,563.2l2.2,1.4l-2.2,1.4zM1218.3,563.2l2.2,1.4l-2.2,1.4z" fill="#2d3fa6"/>
<text x="763.2" y="580.9" font-size="6.6" font-weight="bold" fill="#111" text-anchor="middle">EYA2</text>
<ellipse cx="769.8" cy="510.1" rx="46.2" ry="41.8" fill="none" stroke="#e2777a" stroke-width="1.6"/>
<text x="130" y="657" font-size="21.7" font-weight="bold" fill="#b23a96">HMS001</text>
<rect x="220.3" y="671.3" width="840.7" height="180.6" fill="#f6f4f5" />
<rect x="220.3" y="772.8" width="840.7" height="74.6" fill="rgba(244,232,170,0.50)" />
<text x="212.7" y="694" font-size="22" font-weight="bold" fill="#1f1535" text-anchor="end">Input</text>
<text x="223.8" y="679.1" font-size="5.6" fill="#222">[0 - 10.00]</text>
<path d="M220.3,713.6h1.5h1.5l1.5-.2l1.5-.1l1.5-.4l1.5-.3l1.5-.2h1.5l1.5,.2l1.5,.1h1.5l1.5,.1h1.5l1.5-.2l1.5-.4l1.5-.4l1.5-.4l1.5-.1l1.5,.1l1.5,.2l1.5,.2l1.5,.2l1.5,.3l1.5,.1l1.5-.1l1.5,.1l1.5,.3l1.5,.3l1.5,.3l1.5,.2l1.5,.1h1.5h1.5h1.5l1.5-.2l1.5-.3l1.5-.1h1.5h1.5l1.5-.1l1.5-.2l1.5,.1l1.5-.1l1.5-.1l1.5-.2l1.5-.2l1.5-.1l1.5-.1l1.5-.1h1.5l1.5-.1l1.5,.1l1.5-.1l1.5-.2l1.5-.3l1.5-.1l1.5,.4l1.5,.1l1.5-.3l1.5-.2h1.5h1.5l1.5-.2l1.5-.1l1.5,.1l1.5,.1l1.5,.2l1.5,.4l1.5,.1l1.5-.3l1.5,.4l1.5,.5l1.5,.4l1.5,.4l1.5,.3l1.5,.1h1.5h1.5h1.5h1.5l1.5-.1l1.5-.1l1.5-.1l1.5-.1h1.5l1.5-.1l1.5-.3l1.5-.1l1.5-.1l1.5-.1l1.5-.4l1.5-.2l1.5-.1l1.5-.1l1.5,.1l1.5,.1l1.5-.1l1.5-.2l1.5-.2h1.5l1.5-.2l1.5-.1l1.5-.1l1.5-.2h1.5h1.5l1.5,.1l1.5-.1h1.5l1.5-.2l1.5-.1l1.5-.1h1.5l1.5-.2l1.5-.3l1.5,.2l1.5,.3l1.5,.1l1.5,.2l1.5,.1l1.5-.1l1.5,.2l1.5,.4l1.5,.2l1.5-.1l1.5-.1l1.5,.2l1.5,.1l1.5-.3l1.5-.2l1.5,.4l1.5,.3l1.5,.1l1.5-.1l1.5-.4l1.5-.5l1.5-.4l1.5-.1l1.5-.1l1.5-.8l1.5-.6l1.5-.4l1.5-.5l1.5,.7l1.5,.6l1.5,.2l1.5,.5l1.5,.1h1.5l1.5-.9l1.5-1l1.5-.3h1.5l1.5,.2l1.5,.6l1.5,1.2l1.5,.4l1.5,.7l1.5,.7l1.5,.4l1.5-.6l1.5-.6l1.5-.6l1.5-.1l1.5-.3l1.5-.1l1.5-.1l1.5,.6l1.5,.7l1.5,.6l1.5,.6l1.5,.3l1.5,.1l1.5,.2l1.5-.1l1.5-.4l1.5-.6l1.5-.4l1.5-.3l1.5,.1l1.5,.3l1.5,.1l1.5,.1l1.5,.1l1.5-.2h1.5l1.5-.5l1.5-.5l1.5-.7l1.5-.5l1.5-.5l1.5-.2l1.5,.2l1.5,.3l1.5,.1l1.5,.5l1.5,.4l1.5,.5h1.5h1.5l1.5,.6l1.5,.8l1.5,.6l1.5-.3l1.5-.1l1.5-.3l1.5-.7l1.5-.7l1.5-.6l1.5-1l1.5-.8l1.5,.4l1.5,.3l1.5,.4l1.5,.4l1.5,.3l1.5,.3l1.5,.2l1.5,.1l1.5,.1l1.5-.2l1.5,.2h1.5h1.5h1.5l1.5,.5l1.5,.9l1.5,.6l1.5,.7l1.5-.1l1.5,.3h1.5l1.5-.1l1.5-.3h1.5l1.5,.2l1.5,.1h1.5l1.5-.1h1.5h1.5l1.5-.1l1.5,.1l1.5-.2l1.5,.1l1.5,.1l1.5,.2l1.5,.1h1.5h1.5h1.5l1.5-.3l1.5-.3l1.5-.2l1.5-.2h1.5l1.5-.1l1.5-.1h1.5h1.5l1.5-.2l1.5-.1l1.5-.1l1.5,.1h1.5l1.5-.2l1.5-.2l1.5,.1l1.5,.1l1.5-.1h1.5l1.5-.1h1.5h1.5h1.5h1.5h1.5l1.5,.2l1.5,.2l1.5,.3l1.5,.1h1.5l1.5-.1l1.5-.2l1.5-.3l1.5-.3l1.5-.1h1.5h1.5l1.5,.3l1.5,.2l1.5,.3l1.5,.3l1.5,.2h1.5h1.5l1.5-.1h1.5l1.5,.1h1.5l1.5,.2l1.5-.3l1.5-.2l1.5-.1l1.5,.2l1.5-.1l1.5-.1l1.5,.1h1.5l1.5-.4l1.5-.6l1.5-.6l1.5-.4l1.5-.1l1.5,.3l1.5,.3l1.5,.1l1.5,.3h1.5h1.5l1.5,.1l1.5,.2l1.5-.1l1.5-.3h1.5l1.5,.3l1.5,.1l1.5,.1l1.5,.2l1.5,.5l1.5,.2l1.5,.1l1.5,.2l1.5-.2l1.5,.2l1.5,.6h1.5h1.5h1.5h1.5h1.5h1.5l1.5-.2l1.5-.4l1.5-.5l1.5-.2l1.5-.1h1.5h1.5l1.5,.1l1.5,.1l1.5,.1l1.5-.2l1.5,.3l1.5,.4l1.5,.3l1.5,.2l1.5,.1h1.5h1.5h1.5l1.5-.3l1.5-.3l1.5-.1h1.5l1.5-.2l1.5-.1l1.5,.3l1.5,.2l1.5-.2l1.5-.1l1.5,.1l1.5,.3l1.5,.1l1.5,.2l1.5,.1h1.5h1.5h1.5h1.5h1.5h1.5h1.5h1.5h1.5l1.5-.1l1.5,.1h1.5h1.5l1.5-.1l1.5-.3l1.5-.3l1.5-.1l1.5,.1h1.5l1.5-.1l1.5-.2l1.5-.1l1.5-.4l1.5-1l1.5-1.3l1.5-.9l1.5-.5l1.5-.1l1.5-.2l1.5,.1l1.5,.1l1.5,.3l1.5-.1l1.5-.2l1.5,1.1l1.5,.6l1.5,.2l1.5,.4l1.5-.2l1.5,.4l1.5,.4l1.5,.1l1.5,.1l1.5,.4h1.5h1.5l1.5,.1l1.5,.1l1.5-.3l1.5-.5l1.5-.3l1.5,.2h1.5l1.5,.3l1.5,.5l1.5,1.1l1.5,.6h1.5h1.5h1.5h1.5h1.5h1.5l1.5-.2l1.5-.2l1.5-.4l1.5-.8l1.5-.6l1.5-.7l1.5-.8l1.5-1.2l1.5-1h1.5l1.5,.4l1.5,.8l1.5,1.7l1.5,.4l1.5,.3l1.5,.5l1.5,.1l1.5,.3l1.5,.7l1.5,.2l1.5,.1h1.5l1.5-.1l1.5-.1l1.5,.3l1.5,.2l1.5-.2l1.5-.3l1.5,.1l1.5,.1l1.5,.4h1.5h1.5h1.5h1.5h1.5h1.5h1.5h1.5h1.5h1.5h1.5h1.5l1.5-.3l1.5-.8l1.5-.6l1.5-.6h1.5l1.5,.1l1.5,.3l1.5,.1l1.5,.2l1.5,.1l1.5-.1l1.5-.1l1.5-.2h1.5h1.5l1.5-.1l1.5-.1l1.5,.1l1.5,.3l1.5,.1h1.5l1.5,.3l1.5,.3l1.5,.3l1.5-.3l1.5-.1l1.5,.5h1.5l1.5-.3l1.5-.2l1.5-.4l1.5-.1l1.5,.1l1.5,.3l1.5-.5l1.5-.4l1.5-.2l1.5,.5h1.5l1.5,.3l1.5-.1l1.5,.3l1.5-.2l1.5-.2l1.5-.4l1.5,.1h1.5l1.5-.4l1.5-.2l1.5-.1l1.5,.3l1.5,.3l1.5,.1l1.5,.3l1.5,.1l1.5-.1l1.5,.4l1.5,.1l1.5-.9l1.5-.8l1.5-.1h1.5h1.5l1.5,.3l1.5-.2l1.5-.2l1.5,.1h1.5h1.5l1.5,.2l1.5,.1l1.5,.1l1.5,.1l1.5,.2h1.5l1.5-.1l1.5-.1l1.5-.2v2.7z" fill="#27359b"/>
<line x1="220.3" y1="713.6" x2="1061" y2="713.6" stroke="#3347a8" stroke-width="1.2" />
<text x="212.7" y="734.3" font-size="22" font-weight="bold" fill="#1f1535" text-anchor="end">H3K27ac</text>
<text x="223.8" y="721.4" font-size="5.6" fill="#222">[0 - 20]</text>
<path d="M220.3,757.6v-8l1.5-.3l1.5,.6l1.5-.1l1.5,.3l1.5-.1l1.5,.7l1.5,.5l1.5,.6l1.5-.5l1.5,.3l1.5-.8l1.5-1.8l1.5-1.6l1.5,.2l1.5,.3l1.5,.9l1.5,.4l1.5,.6l1.5,.7l1.5,1.1l1.5,.8l1.5,.4l1.5,.8l1.5-.4l1.5,.6l1.5-.1l1.5-.1l1.5-.5l1.5-.6l1.5-.2l1.5-.5l1.5-.2l1.5-.4l1.5,.2l1.5-.3l1.5-.1l1.5-.7l1.5-.4l1.5,.7l1.5,.1l1.5-.3l1.5-.4l1.5-.2l1.5,.5h1.5l1.5,.2l1.5-.7l1.5-.3l1.5,.5l1.5-.2l1.5,.8l1.5,.1l1.5,.3l1.5,.6l1.5,.4l1.5,.5l1.5-.6l1.5-.7l1.5-.1l1.5,.3l1.5,.8l1.5-.5l1.5-.3l1.5-.3l1.5,.2l1.5,.2l1.5,.2h1.5l1.5-.3l1.5-.2l1.5-.7l1.5-.1l1.5-.6l1.5,.2h1.5l1.5,.2l1.5-.1l1.5,.3l1.5,.5l1.5,.4l1.5-.8l1.5-.1l1.5-.7l1.5,.5l1.5,.1l1.5,.3l1.5-.3l1.5-.3l1.5,.7l1.5-.1l1.5-.6l1.5-.9l1.5-1.1l1.5-.1l1.5,.4l1.5,.2l1.5-.1l1.5-.4l1.5,.8h1.5l1.5-.1l1.5,.4l1.5,1.7l1.5,.7l1.5,.4l1.5,.3l1.5,.9l1.5,.5l1.5-.3l1.5,.5l1.5-.4l1.5-.6l1.5,.6l1.5-.4l1.5-.2l1.5-.7l1.5,.2l1.5-.2l1.5-.7l1.5,.2l1.5,.2l1.5,1l1.5-.4l1.5,.3l1.5-.1l1.5,.3l1.5-.1l1.5,.2l1.5,.1l1.5-.4l1.5,.2l1.5-1.5l1.5-.6l1.5,.1l1.5-.4l1.5,.1l1.5,.2l1.5-.4l1.5,.1l1.5-.4l1.5-.3l1.5-.2l1.5,.3l1.5,.3l1.5-.1l1.5-.8l1.5,.3l1.5,.2l1.5,.6l1.5-.1l1.5-.4l1.5,.1l1.5-.5l1.5,.6h1.5l1.5,.7l1.5-.1l1.5,.4l1.5-.9l1.5-.5l1.5-.3l1.5,1l1.5-.5l1.5-.1l1.5-.6l1.5-.5l1.5,.6l1.5,.2l1.5-.7l1.5,1.6l1.5,.2l1.5-.3l1.5,.1l1.5,.1l1.5,1.6l1.5-.1l1.5,.2l1.5-.7l1.5,.6l1.5-1.4l1.5-.4l1.5-.3l1.5-.8l1.5-1.3l1.5-.8h1.5l1.5-1.4l1.5,.2l1.5-.8l1.5-.3l1.5-2l1.5-1.6l1.5,.1l1.5-.6l1.5-.3l1.5-1.4l1.5-1.6l1.5-.1l1.5-.7l1.5,1.1l1.5-2l1.5-1.4l1.5,.1l1.5,1.3l1.5,1.3l1.5,.7l1.5-.1l1.5-.2l1.5-1.1l1.5,1l1.5-.2l1.5-3.6l1.5-1.1l1.5,.5l1.5,2.1l1.5,2l1.5-.7l1.5-.3l1.5,.7l1.5,2.7l1.5,3.5l1.5-.1l1.5-1.3l1.5-.1l1.5,1.5l1.5,1l1.5,1.4l1.5,.9l1.5,.3l1.5,.8l1.5,2.5l1.5,3.6l1.5,3.7l1.5,.5h1.5h1.5h1.5h1.5h1.5h1.5h1.5h1.5h1.5h1.5h1.5h1.5h1.5h1.5h1.5h1.5h1.5l1.5-3.4l1.5-3.4l1.5-4.5l1.5-4.1l1.5-.5l1.5-.9l1.5-.6l1.5,.8l1.5-1l1.5-.4l1.5,.6l1.5,1.3l1.5-2l1.5-.8l1.5-1.6l1.5-1.6l1.5,1.9l1.5,2.2l1.5-.9l1.5-3.6l1.5-.3l1.5-.6l1.5-.4l1.5,2.4l1.5,.1l1.5,.5l1.5-1.4l1.5-1l1.5-2.5l1.5,1.6l1.5,1.8l1.5,.5l1.5-.4l1.5,.9l1.5,1.7l1.5,.7l1.5,1.8l1.5,.1l1.5,.4l1.5,.5l1.5,1l1.5,1.1l1.5,.4l1.5,2.1l1.5,2.5l1.5-1.7l1.5-2.4l1.5-1.2l1.5,1.3l1.5,1.4l1.5,.8h1.5l1.5,.5l1.5-.2l1.5-.4l1.5-1.2l1.5,.7l1.5-.7l1.5,.4l1.5,.9h1.5l1.5,.5l1.5,.8l1.5,.3l1.5,.4l1.5,.4l1.5-.1l1.5,.5l1.5,.1l1.5,.5l1.5,.9l1.5-.1l1.5,.3l1.5-.5l1.5,.2l1.5-.2l1.5-.4l1.5,.3l1.5-.4l1.5-.1l1.5-.1l1.5-.8l1.5-.3l1.5,.3l1.5-.5l1.5,.2h1.5l1.5-.1l1.5,.1h1.5l1.5-.2l1.5-.2l1.5,.2l1.5,.2l1.5,.1l1.5,.3l1.5,1.2l1.5,1.2l1.5,.5l1.5,.3l1.5,.2l1.5,.5l1.5,.6l1.5-.6l1.5-.6l1.5-.9l1.5,.3l1.5,.2l1.5,.3l1.5-.1l1.5,.3l1.5-.9l1.5-.2h1.5l1.5-.1h1.5l1.5,.3h1.5l1.5,.4l1.5-.3l1.5-.8l1.5-.9l1.5-.2l1.5-.6l1.5-.4l1.5-.3l1.5-.2l1.5,.3h1.5l1.5-1l1.5,.3l1.5,.6l1.5,.9l1.5-.7l1.5-.4l1.5,.2l1.5,.5l1.5,.5l1.5,.5l1.5,.2l1.5,.2l1.5,.7l1.5,.9h1.5l1.5-.6l1.5-.9l1.5-.1l1.5-.4l1.5,.3l1.5-.6l1.5-.4h1.5l1.5-.1l1.5,.3l1.5-.2l1.5-1.1l1.5,.1l1.5-.2l1.5,.2l1.5,.5l1.5,.5l1.5,.6l1.5,.5l1.5-.1l1.5-.1l1.5-.1l1.5-.2l1.5,.2l1.5,.2l1.5,.5l1.5-.3l1.5,.2l1.5-.4l1.5,.2l1.5,.2h1.5l1.5,.1l1.5-.4l1.5,.1l1.5,.3l1.5,.3l1.5-.7l1.5-1.1h1.5l1.5,.5l1.5,.6l1.5-.3l1.5,.1l1.5-.2l1.5,.5l1.5,.7h1.5l1.5-.1l1.5-.3l1.5,.6l1.5-.1l1.5,.5l1.5,.2l1.5-.5l1.5-.7l1.5-.4l1.5-.8l1.5-.3l1.5,.2l1.5,.3l1.5-.1l1.5-.3l1.5,.2l1.5-.6l1.5-.5l1.5-.5l1.5,.8l1.5,.4l1.5-.3l1.5,.4l1.5,.3l1.5,.9l1.5,.5l1.5,.3l1.5-.2l1.5,.1h1.5l1.5,.3l1.5-.1l1.5,.4l1.5,.4l1.5,.5l1.5,.3l1.5,.3l1.5-.5l1.5-.7l1.5-.5l1.5-.5l1.5-.8l1.5-.1l1.5,.1l1.5-.3l1.5-.1l1.5,.5l1.5,.2l1.5-.5l1.5-.1l1.5-.3l1.5-.5l1.5-.1l1.5-.4l1.5-.6h1.5l1.5,.6l1.5,.7l1.5-.1l1.5,.5l1.5,.2l1.5-.3h1.5l1.5-.2l1.5-.3l1.5-.4h1.5l1.5-.8l1.5-.3l1.5,.5l1.5-.5l1.5-.1l1.5,.5l1.5,.5l1.5,.5l1.5,.2l1.5,.1l1.5,.2l1.5-.4l1.5,.1l1.5-.4l1.5,.1h1.5l1.5,.1l1.5,.5l1.5-.1l1.5,.3h1.5l1.5,.5l1.5,.1l1.5-.1h1.5l1.5,.3l1.5-.3h1.5l1.5,.1l1.5-.6l1.5-.1l1.5,.1l1.5-.2l1.5,.1l1.5,.4l1.5,.6l1.5,.2l1.5,.3l1.5,.2l1.5,.7l1.5,.2l1.5,.3l1.5-.3h1.5h1.5l1.5-.3l1.5,.2l1.5-.1l1.5-.2l1.5-.5v5.9z" fill="#27359b"/>
<line x1="220.3" y1="757.6" x2="1061" y2="757.6" stroke="#3347a8" stroke-width="1.2" />
<text x="212.7" y="783.1" font-size="22" font-weight="bold" fill="#1f1535" text-anchor="end">H3K4me3</text>
<text x="223.8" y="765.4" font-size="5.6" fill="#222">[0 - 20]</text>
<path d="M220.3,800.9v-.8l1.5-.1l1.5-.2h1.5l1.5-.3l1.5-.1l1.5-.2l1.5-.1h1.5l1.5,.3h1.5l1.5,.2l1.5,.1l1.5,.2h1.5h1.5l1.5,.1l1.5,.1h1.5l1.5,.1h1.5l1.5-.1l1.5,.1l1.5,.1l1.5,.1l1.5-.1h1.5l1.5-.1l1.5,.1l1.5,.1h1.5l1.5-.2l1.5-.1h1.5h1.5h1.5h1.5h1.5h1.5l1.5-.1l1.5,.1h1.5h1.5h1.5l1.5,.1h1.5h1.5l1.5,.1h1.5l1.5-.1l1.5-.1l1.5,.1h1.5l1.5,.1l1.5,.1l1.5-.1h1.5h1.5l1.5,.1h1.5h1.5h1.5l1.5-.1h1.5h1.5h1.5h1.5h1.5h1.5l1.5-.1h1.5h1.5l1.5,.1l1.5-.1l1.5-.1h1.5l1.5-.1h1.5l1.5,.1h1.5l1.5,.1l1.5-.1h1.5l1.5,.1l1.5-.1l1.5,.1h1.5h1.5l1.5,.1h1.5l1.5-.1h1.5l1.5,.1h1.5l1.5,.1l1.5-.1h1.5h1.5l1.5,.1h1.5l1.5-.1h1.5h1.5h1.5l1.5-.1l1.5,.1h1.5h1.5l1.5,.1l1.5,.1h1.5l1.5-.1l1.5-.1h1.5l1.5,.1h1.5l1.5-.1h1.5h1.5h1.5l1.5,.1h1.5h1.5h1.5l1.5-.5l1.5-.6l1.5-.4l1.5-.1l1.5-.3l1.5,.2h1.5l1.5-.3l1.5-.2h1.5l1.5-.1h1.5l1.5-.1h1.5l1.5,.2l1.5,.1l1.5-.5l1.5-.9h1.5l1.5,.4h1.5l1.5,.1l1.5-.2l1.5,.1l1.5,.3l1.5,.1l1.5,.4l1.5,.4l1.5,.2l1.5-.1l1.5-.5l1.5-.2l1.5,.1h1.5l1.5-.1l1.5,.3l1.5-.1l1.5,.2l1.5,.1l1.5-.1l1.5-.2l1.5-.6h1.5l1.5,.5h1.5l1.5-.4l1.5-.2l1.5-.3l1.5-.2l1.5,.3l1.5-.2l1.5-1.3l1.5-.2l1.5-.2l1.5-.1h1.5l1.5,.2l1.5,.2l1.5,.3l1.5,.1l1.5-.5l1.5,.3l1.5-.1l1.5,.2l1.5-.8l1.5-.5l1.5-.6l1.5-.1l1.5-.5l1.5,.2l1.5,.3l1.5-.1l1.5,.1l1.5-.5l1.5,.1l1.5,.1l1.5,.1l1.5-.3l1.5-.7l1.5-.4l1.5,.2l1.5,.1l1.5,.2l1.5,.2l1.5,.1l1.5-.3l1.5-1.4l1.5,.3l1.5,.7l1.5,1.2l1.5,.1l1.5-1.2h1.5l1.5,.2l1.5,.1l1.5-.3l1.5,.4l1.5-.3l1.5,.3l1.5-1.3l1.5,.4l1.5-.6l1.5-.4l1.5,.3l1.5,1l1.5,1.6l1.5,.9l1.5,.7l1.5,1.2l1.5,2.3l1.5,1.9h1.5h1.5h1.5h1.5h1.5h1.5h1.5h1.5h1.5h1.5h1.5h1.5h1.5h1.5h1.5h1.5h1.5h1.5h1.5l1.5-.3l1.5-.2l1.5-.2h1.5l1.5-.1h1.5l1.5-.2l1.5-.1l1.5-.1l1.5-.1h1.5l1.5,.1l1.5,.1l1.5,.1l1.5-.2h1.5h1.5h1.5l1.5,.1l1.5-.1h1.5l1.5-.1l1.5-.1l1.5-.1l1.5,.1l1.5-.1l1.5,.1l1.5,.1h1.5h1.5h1.5h1.5l1.5,.1l1.5,.1l1.5,.1h1.5h1.5l1.5-.1h1.5l1.5-.1h1.5h1.5l1.5-.1l1.5,.1l1.5,.1l1.5,.1l1.5-.1h1.5h1.5l1.5,.1h1.5h1.5l1.5,.1h1.5l1.5-.1l1.5-.1h1.5h1.5l1.5,.1h1.5l1.5,.2h1.5l1.5-.2l1.5-.1l1.5-.1h1.5l1.5,.1l1.5-.1l1.5-.1l1.5,.1l1.5,.1l1.5,.2h1.5l1.5-.1l1.5-.1h1.5l1.5,.1h1.5l1.5-.1h1.5l1.5-.1h1.5l1.5-.1h1.5l1.5,.1h1.5l1.5,.1l1.5,.1h1.5h1.5l1.5-.1h1.5l1.5-.1l1.5,.1h1.5l1.5,.1l1.5-.2h1.5h1.5h1.5l1.5,.1h1.5l1.5,.1l1.5,.1l1.5,.1h1.5h1.5l1.5-.1h1.5h1.5h1.5h1.5l1.5-.1h1.5l1.5-.1h1.5h1.5h1.5l1.5-.2l1.5-.1l1.5-.1l1.5-.1l1.5-.1l1.5,.1l1.5,.1l1.5,.1h1.5l1.5,.2h1.5l1.5,.1l1.5-.1l1.5,.1l1.5,.1l1.5,.1l1.5-.1l1.5-.1l1.5,.1l1.5,.1l1.5-.1h1.5h1.5h1.5l1.5-.1h1.5h1.5l1.5-.1h1.5h1.5l1.5,.1l1.5,.2h1.5l1.5,.1l1.5,.2l1.5-.1h1.5l1.5-.1l1.5,.1l1.5-.1l1.5,.2l1.5,.1l1.5-.1h1.5l1.5-.1h1.5l1.5,.1l1.5-.1l1.5-.2l1.5-.2h1.5l1.5-.1l1.5-.1l1.5-.1h1.5l1.5,.1h1.5l1.5,.1l1.5,.2l1.5-.1l1.5,.2l1.5-.1l1.5-.1l1.5-.1l1.5,.1h1.5h1.5l1.5-.1h1.5h1.5l1.5,.2h1.5l1.5-.2l1.5-.1h1.5l1.5,.1l1.5,.1l1.5-.1l1.5-.1h1.5h1.5l1.5,.2h1.5h1.5l1.5,.1l1.5-.1l1.5-.1h1.5h1.5l1.5,.2l1.5-.1h1.5l1.5-.1h1.5l1.5-.1l1.5-.1l1.5,.1h1.5h1.5l1.5,.1h1.5l1.5,.1l1.5-.1h1.5l1.5,.1l1.5,.1h1.5h1.5h1.5h1.5l1.5-.1l1.5-.1l1.5,.1l1.5-.1l1.5-.1h1.5l1.5,.1l1.5-.1l1.5-.1h1.5l1.5,.1l1.5-.1l1.5,.1l1.5,.2l1.5,.1l1.5-.1l1.5-.1h1.5l1.5,.1l1.5,.2h1.5l1.5-.2l1.5-.1l1.5,.1l1.5-.1h1.5l1.5-.2l1.5-.1h1.5h1.5h1.5h1.5l1.5,.1h1.5h1.5h1.5h1.5h1.5l1.5-.1l1.5,.1l1.5,.1l1.5,.1l1.5-.1h1.5l1.5-.1l1.5,.1l1.5-.1l1.5,.1h1.5h1.5l1.5,.2l1.5,.2l1.5,.1h1.5l1.5-.1l1.5,.1h1.5h1.5l1.5-.2l1.5-.3l1.5-.1l1.5-.1h1.5h1.5l1.5,.1l1.5,.1h1.5l1.5,.1l1.5,.1l1.5-.2l1.5-.1h1.5l1.5,.1l1.5,.1l1.5,.1l1.5-.1l1.5,.1h1.5l1.5-.1v1.2z" fill="#27359b"/>
<line x1="220.3" y1="800.9" x2="1061" y2="800.9" stroke="#3347a8" stroke-width="1.2" />
<text x="215.2" y="828" font-size="22" font-weight="bold" fill="#1f1535" text-anchor="end">H3K4me1</text>
<text x="223.8" y="808.7" font-size="5.6" fill="#222">[0 - 10.00]</text>
<path d="M220.3,843.9v-6l1.5-.9l1.5-1l1.5-1.5l1.5-1.8l1.5-1.4l1.5-.5l1.5-.3l1.5-.9l1.5-1.7l1.5-1.3l1.5-1l1.5,.5l1.5,1.5l1.5,1.4l1.5,.6l1.5,.5l1.5,1.4l1.5,.3l1.5,.7l1.5,.5l1.5-.4l1.5,.4l1.5,.2l1.5,1.8l1.5,1.8l1.5,1.7l1.5,1.4l1.5,.9l1.5,1.1l1.5,.8l1.5,.3l1.5,.1h1.5h1.5l1.5-.3l1.5-.6l1.5-.4l1.5-.1l1.5-.3l1.5-.6l1.5-.5l1.5-.8l1.5-.8l1.5,.1l1.5,.2l1.5,.4l1.5-.6l1.5-.7h1.5l1.5,.3l1.5,.3l1.5-.3l1.5,.2l1.5-.5l1.5-1.2l1.5,.1l1.5,.2l1.5,.1l1.5,.5l1.5,1.2l1.5-.2l1.5,.2l1.5,.2l1.5,.4l1.5-.1l1.5,.1l1.5-.2l1.5,.5l1.5,.6l1.5,.5l1.5-.3l1.5,.1l1.5,.2l1.5-.1l1.5-.3l1.5-.6l1.5-.1l1.5-.8l1.5-.2l1.5-.1l1.5,.2l1.5,.1l1.5,.4l1.5,.4l1.5,.2l1.5-.4l1.5,.2l1.5,.4l1.5,.5l1.5,.1l1.5-.1l1.5,.4l1.5-.4l1.5-.2l1.5-.3l1.5-.1l1.5-1.4l1.5-.4l1.5-.5l1.5-1l1.5-.4l1.5,.1l1.5,.1l1.5,.6l1.5,1.2l1.5,.6l1.5,.7l1.5,.3l1.5-.5l1.5-.8l1.5-.1l1.5,.6l1.5-.1l1.5-.2l1.5,.1l1.5,.1l1.5,.4l1.5-.1l1.5-.2h1.5l1.5-.2l1.5-1.3l1.5,.7l1.5,.3h1.5l1.5-.4l1.5-.4l1.5,.8h1.5l1.5-.2l1.5-.8l1.5,.2l1.5,.6l1.5,.5l1.5,.7l1.5,.3l1.5,.5l1.5-.3l1.5-.1l1.5-.3l1.5-.4l1.5-.3l1.5-.1l1.5-.2l1.5,.4l1.5,.7l1.5-.1l1.5-.1l1.5-.4l1.5,.4l1.5,.7l1.5,.1l1.5,.1l1.5-.1l1.5-1l1.5-.8l1.5,.4l1.5,.4l1.5-.3l1.5-.6l1.5-.5l1.5,.2l1.5-.2l1.5-.2l1.5-1.6l1.5-.5l1.5,.5h1.5l1.5-.2l1.5,.1l1.5-.4l1.5-.4l1.5-.2h1.5h1.5l1.5,.2l1.5-.4l1.5-.8l1.5,.6l1.5,.7l1.5,.3l1.5,.2l1.5-.2l1.5-1.3l1.5-.5l1.5,.7l1.5,.3l1.5-.2l1.5-.7h1.5l1.5,1.1h1.5l1.5,.3l1.5-.3l1.5,.1l1.5-.2l1.5-.1l1.5-.1l1.5,.4l1.5,.1l1.5-.4l1.5,.4l1.5,.3l1.5,.2l1.5-.5l1.5-.3l1.5,.6l1.5-.2l1.5,.3l1.5-.1l1.5-.1l1.5,1.2l1.5,1h1.5l1.5-.4l1.5-.6l1.5,.1l1.5,.1l1.5,.3l1.5,.5l1.5,.9l1.5,.4l1.5,.2l1.5,.7l1.5,.5l1.5,.1l1.5,.2l1.5,.5l1.5,.6l1.5,.8l1.5,.7l1.5,.4h1.5h1.5h1.5h1.5h1.5h1.5h1.5h1.5h1.5h1.5h1.5h1.5h1.5h1.5h1.5h1.5h1.5h1.5h1.5l1.5-1.2l1.5-1.8l1.5-2l1.5-3.3l1.5-.7l1.5-.4l1.5-1.3l1.5-.5l1.5-.3l1.5-.1l1.5,.4l1.5,.9l1.5-.3l1.5,.1l1.5-.7l1.5,1l1.5-.3h1.5l1.5-.9l1.5,.5l1.5,.2l1.5,.4l1.5,.9l1.5,.1l1.5-.2l1.5,.2l1.5,.6l1.5,.3l1.5-1.2l1.5-.2l1.5,.3h1.5l1.5,.8l1.5,.1l1.5,.2l1.5,.3l1.5-.1l1.5,.2l1.5,.5l1.5,.2l1.5-.4l1.5,1l1.5-.7l1.5-.1l1.5-.4l1.5,1l1.5-.6l1.5,.7l1.5,.3l1.5-.3l1.5-.1l1.5-.4l1.5,.5l1.5,.5l1.5-.5l1.5-.1l1.5,.2l1.5-.1l1.5,.4h1.5l1.5-.3l1.5,.3l1.5-.4l1.5-.1l1.5-.1l1.5-.5l1.5-.2l1.5-.3l1.5-.5l1.5,.1l1.5-.1l1.5,.3l1.5,.2l1.5,.4l1.5,.2h1.5l1.5,.1l1.5-.1l1.5,1.1l1.5,.9h1.5l1.5,.4l1.5-.4l1.5-.9l1.5-.6l1.5-.3l1.5-.4l1.5-.1l1.5,.4l1.5,.9l1.5-.6l1.5,.3l1.5,.3l1.5-.1l1.5,.1l1.5,.1l1.5,.5l1.5-.5l1.5-.4l1.5,.1h1.5h1.5l1.5-.3l1.5-.3l1.5,.7l1.5-.2h1.5l1.5-.1l1.5-.8l1.5,.4l1.5,.2l1.5-.1l1.5-.4l1.5-.3l1.5,.1h1.5l1.5,.7l1.5,.8l1.5-.5l1.5,1l1.5,1l1.5-.2l1.5-.7l1.5-.6l1.5,.4h1.5l1.5,.5l1.5,.3l1.5,.4l1.5,.4l1.5,.2h1.5l1.5-.2l1.5-1l1.5-.4l1.5-.4l1.5-.7l1.5,.2l1.5-.7l1.5,.6l1.5,.3l1.5,.6l1.5,.5l1.5,.1l1.5,.3l1.5,.5h1.5l1.5,.1l1.5,.3l1.5-.5l1.5,.7l1.5-.1l1.5-.2l1.5-.6l1.5-.4l1.5-.1l1.5-.6l1.5,.1l1.5,.8l1.5-.5l1.5-.5l1.5-.7l1.5-.1l1.5-.7l1.5-.4l1.5-.6l1.5-.2l1.5,.9l1.5,.4l1.5,.3l1.5,.3l1.5,.1l1.5,.5l1.5-.1l1.5-.7l1.5-.1l1.5-.2l1.5-.3l1.5,.2l1.5-.1l1.5-.5l1.5,.5l1.5,.3l1.5-.2l1.5-.7l1.5-.6l1.5,.1l1.5-.1l1.5,.5l1.5,.7l1.5,1.3l1.5,.7l1.5,.7l1.5,.6l1.5,.8l1.5,.3l1.5-.9l1.5-.7l1.5-.2l1.5-.6l1.5-.5l1.5,.7l1.5,.4l1.5-.7l1.5-.4l1.5,.4l1.5-.3l1.5,.1l1.5,.3l1.5,.1h1.5l1.5,.9h1.5l1.5-.4l1.5-.1l1.5,.2h1.5l1.5,.1l1.5,.2l1.5-.6l1.5-.8l1.5-.2l1.5,.1l1.5-.2l1.5,.2l1.5,.3l1.5,.3l1.5,.6l1.5-.1l1.5-.6l1.5-.9h1.5l1.5-.2l1.5-.4l1.5,.2l1.5,.4l1.5-1.2l1.5-.5l1.5-.9l1.5,1h1.5l1.5,.7l1.5,.7l1.5,.4l1.5,1.5l1.5-.5l1.5-.4l1.5-.8l1.5-.2l1.5-.5h1.5l1.5-.2l1.5,.5l1.5-1l1.5-.5l1.5,.2l1.5,.9h1.5l1.5,.4l1.5-.2l1.5,.1l1.5,.4l1.5,.4l1.5-.4l1.5,.5l1.5,.2l1.5,.4l1.5-.2l1.5-.7l1.5-.7l1.5,.5l1.5,1l1.5-.4l1.5-.4l1.5-.4l1.5,.1l1.5-.1l1.5,.4l1.5-.3l1.5-.2l1.5-.1l1.5,.8h1.5l1.5,.5l1.5-.2l1.5-.7l1.5,.3l1.5-.4h1.5h1.5l1.5-.1l1.5,.1l1.5-.2l1.5-.2l1.5-.2l1.5,.3l1.5-.3l1.5-.1l1.5-.2l1.5,.1h1.5h1.5l1.5-.3h1.5l1.5,.1l1.5-.2l1.5-.4l1.5-.3l1.5,.9v7.4z" fill="#27359b"/>
<line x1="220.3" y1="843.9" x2="1061" y2="843.9" stroke="#3347a8" stroke-width="1.2" />
<text x="223.8" y="856.0" font-family="Liberation Sans, sans-serif" font-size="5.6" fill="#444" clip-path="inset(0 0 3.2px 0)">[0 - 87]</text>
<rect x="220.3" y="903.4" width="840.7" height="138.5" fill="#f6f4f5" />
<text x="212.4" y="930" font-size="22" font-weight="bold" fill="#1f1535" text-anchor="end">H3K27ac</text>
<text x="223.8" y="911" font-size="5.6" fill="#222">[0 - 87]</text>
<path d="M521,944.4h1v-.5h2v-.5h1v-.5h3v-.5h1v-.5h2v-.5h1v-.5h2v-.5h1v-.5h1v-.5h1v-1h1v-1.5h1v1.5h1v-1.5h1v-1.5h1v-1.5h1v1h1v-1.5h1v1.5h1v1.5h2v2.5h1v-1.5h1v-1h1v-4.5h1v-6.5h1v-5h1v-3.5h1v-2h1v-2.5h1v-1.5h1v4h1v4.5h1v2.5h1v1.5h1v.5h1v-4.5h1v1.5h1v-6h1v6.5h1v2.5h1v5h1v5.5h1v3h1v3.5h1v3.5h1z" fill="#2b3f9f"/>
<path d="M598.5,944.4h1v-5.5h1v-5.5h1v-6.5h1v-3.5h1v-5h1v-2.5h1v-.5h1v-3.5h1v7h1v1.5h1v.5h1v-3.5h1v2h1v-2.5h1v2.5h1v2.5h1v2h1v5h1v.5h1v6h1v3h1v1h1v-.5h1v1h1v.5h2v.5h1v.5h2v.5h1v.5h2v.5h2v.5h2v.5h2v.5h1z" fill="#2b3f9f"/>
<line x1="220.3" y1="944.4" x2="1061" y2="944.4" stroke="#3347a8" stroke-width="1.2" />
<text x="212.4" y="978.2" font-size="22" font-weight="bold" fill="#1f1535" text-anchor="end">H3K4me3</text>
<text x="223.8" y="952" font-size="5.6" fill="#222">[0 - 63]</text>
<path d="M522.5,986.6h1v-1.5h8v.5h1v-.5h1v-1.5h1v-.5h1v-1h2v-.5h1v-1h1v-1h1v-.5h1v2.5h1v.5h1v.5h2v.5h1v.5h2v-.5h1v-.5h2v-1h1v-9h1v-5h1v-5.5h1v-3h1v-3h1v-.5h1v1h1v3h1v5.5h1v.5h1v-1.5h1v-3h1v-.5h1v-.5h1v2h1v3h1v2.5h1v7h1v5.5h1v2.5h1v2.5h1v1.5z" fill="#2b3f9f"/>
<path d="M607,986.6h1v-1.5h8v.5h1v.5h4v-.5h1v.5h3v.5h1z" fill="#2b3f9f"/>
<line x1="220.3" y1="986.6" x2="1061" y2="986.6" stroke="#3347a8" stroke-width="1.2" />
<text x="214.6" y="1023.7" font-size="22" font-weight="bold" fill="#1f1535" text-anchor="end">H3K4me1</text>
<text x="223.8" y="994.2" font-size="5.6" fill="#222">[0 - 20]</text>
<path d="M515,1030.2h3v-.5h4v-.5h3v-1.5h1v-1.5h1v-1h1v-1.5h1v-2.5h1v2h1v1h1v1h2v.5h1v1h2v.5h1v.5h2v-.5h2v-1h3v1h1v-.5h1v.5h2v-.5h3v-6h1v-3h1v-.5h1v-2.5h1v-2h1v-3h1v1h1v3.5h1v1h1v3.5h1v1.5h1v-.5h1v3.5h1v3h1v.5h1v.5h2v1h1v.5h1v.5h1v.5h1v.5h1z" fill="#2b3f9f"/>
<path d="M599.5,1030.2h1v-11h1v-7.5h1v-4.5h1v2h1v-7h1v-2.5h1v-2h1v7.5h1v-.5h1v.5h1v-2h1v1.5h1v-5.5h1v-3h1v.5h1v.5h1v9h1v2h1v-2h1v7h1v9h1v2h1v.5h1v1.5h1v1.5h1v1.5h1v1h3v-2h1v-1h1v-.5h3v-.5h1v2h1v1.5h1v.5h2z" fill="#2b3f9f"/>
<line x1="220.3" y1="1030.2" x2="1061" y2="1030.2" stroke="#3347a8" stroke-width="1.2" />
<line x1="220.3" y1="903.4" x2="220.3" y2="1041.9" stroke="#c9c7ca" stroke-width="0.8" />
<rect x="582.3" y="701.8" width="5.1" height="333.2" fill="#b0479b" />
<rect x="87.7" y="908.6" width="9.8" height="119" fill="#3b2076" />
<text x="80.6" y="968.7" font-size="13" font-weight="bold" fill="#4b2a88" text-anchor="middle" transform="rotate(-90 80.6 968.7)">Chimeric reads only</text>
<path d="M584.5,1034.8L652.2,1103.6H521.2z" fill="#f8eef3"/>
<path d="M550.4,1170.8A114.5,114.5 0 0 1 589.3,1163.5L589.4,1170.5A107.5,107.5 0 0 0 552.9,1177.3z" fill="#e8262b" />
<path d="M594.9,1163.6A114.5,114.5 0 0 1 629.7,1170.4L627.3,1177A107.5,107.5 0 0 0 594.6,1170.6z" fill="#e8262b" />
<path d="M551.2,1177.2A108.2,108.2 0 0 1 588.6,1169.8L588.7,1175.5A102.5,102.5 0 0 0 553.3,1182.5z" fill="#111" />
<path d="M612.1,1172A108.2,108.2 0 0 1 628.4,1176.7L626.4,1182A102.5,102.5 0 0 0 610.9,1177.6z" fill="#111" />
<path d="M549,1178.3A108,108 0 0 1 552.5,1176.9L554.3,1181.6A103,103 0 0 0 550.9,1182.9z" fill="#7c7c7c" />
<path d="M627.8,1176.6A108,108 0 0 1 631.1,1177.9L629.3,1182.6A103,103 0 0 0 626.1,1181.3z" fill="#7c7c7c" />
<path d="M589.2,1167.5A110.5,110.5 0 0 1 594.9,1167.6L594.8,1171.1A107,107 0 0 0 589.2,1171z" fill="#8a8a8a" />
<path d="M574.1,1172.3A107,107 0 0 1 577.1,1171.8L577.5,1174.8A104,104 0 0 0 574.6,1175.2z" fill="#9a9a9a" />
<path d="M577.8,1171.8A107,107 0 0 1 580.8,1171.4L581.1,1174.4A104,104 0 0 0 578.2,1174.7z" fill="#9a9a9a" />
<path d="M582.5,1171.3A107,107 0 0 1 585.5,1171.1L585.6,1174.1A104,104 0 0 0 582.7,1174.3z" fill="#9a9a9a" />
<path d="M615.5,1174A107,107 0 0 1 617.8,1174.5L617.1,1177.5A104,104 0 0 0 614.8,1176.9z" fill="#9a9a9a" />
<path d="M554.1,1183.2A101.5,101.5 0 0 1 589.8,1176.5L590,1206A72,72 0 0 0 564.7,1210.8z" fill="#dcdcdc" />
<path d="M563.6,1208A75,75 0 0 1 590,1203.1" fill="none" stroke="#f4f4f4" stroke-width="0.7" />
<path d="M561.5,1202.5A80.8,80.8 0 0 1 589.9,1197.2" fill="none" stroke="#f4f4f4" stroke-width="0.7" />
<path d="M559.4,1197A86.8,86.8 0 0 1 589.9,1191.3" fill="none" stroke="#f4f4f4" stroke-width="0.7" />
<path d="M557.3,1191.5A92.7,92.7 0 0 1 589.9,1185.4" fill="none" stroke="#f4f4f4" stroke-width="0.7" />
<path d="M555.2,1186A98.5,98.5 0 0 1 589.8,1179.5" fill="none" stroke="#f4f4f4" stroke-width="0.7" />
<path d="M594,1176.6A101.5,101.5 0 0 1 626.5,1183.1L616.1,1210.7A72,72 0 0 0 593,1206z" fill="#dcdcdc" />
<path d="M593.1,1203.1A75,75 0 0 1 617.1,1207.9" fill="none" stroke="#f4f4f4" stroke-width="0.7" />
<path d="M593.3,1197.2A80.8,80.8 0 0 1 619.2,1202.4" fill="none" stroke="#f4f4f4" stroke-width="0.7" />
<path d="M593.5,1191.3A86.8,86.8 0 0 1 621.3,1196.9" fill="none" stroke="#f4f4f4" stroke-width="0.7" />
<path d="M593.7,1185.4A92.7,92.7 0 0 1 623.4,1191.4" fill="none" stroke="#f4f4f4" stroke-width="0.7" />
<path d="M593.9,1179.5A98.5,98.5 0 0 1 625.5,1185.9" fill="none" stroke="#f4f4f4" stroke-width="0.7" />
<path d="M565.6,1213.1A69.5,69.5 0 0 1 590,1208.5L590.2,1237.5A40.5,40.5 0 0 0 576,1240.2z" fill="#fff" />
<path d="M574.9,1237.5A43.4,43.4 0 0 1 590.2,1234.6" fill="none" stroke="#d2d2d2" stroke-width="0.7" />
<path d="M572.9,1232.1A49.2,49.2 0 0 1 590.2,1228.8" fill="none" stroke="#d2d2d2" stroke-width="0.7" />
<path d="M570.8,1226.7A55,55 0 0 1 590.1,1223" fill="none" stroke="#d2d2d2" stroke-width="0.7" />
<path d="M568.7,1221.2A60.8,60.8 0 0 1 590.1,1217.2" fill="none" stroke="#d2d2d2" stroke-width="0.7" />
<path d="M566.6,1215.8A66.6,66.6 0 0 1 590,1211.4" fill="none" stroke="#d2d2d2" stroke-width="0.7" />
<path d="M592.9,1208.5A69.5,69.5 0 0 1 615.2,1213L604.9,1240.1A40.5,40.5 0 0 0 591.9,1237.5z" fill="#fff" />
<path d="M592,1234.6A43.4,43.4 0 0 1 605.9,1237.4" fill="none" stroke="#d2d2d2" stroke-width="0.7" />
<path d="M592.2,1228.8A49.2,49.2 0 0 1 608,1232" fill="none" stroke="#d2d2d2" stroke-width="0.7" />
<path d="M592.4,1223A55,55 0 0 1 610,1226.6" fill="none" stroke="#d2d2d2" stroke-width="0.7" />
<path d="M592.6,1217.2A60.8,60.8 0 0 1 612.1,1221.2" fill="none" stroke="#d2d2d2" stroke-width="0.7" />
<path d="M592.8,1211.4A66.6,66.6 0 0 1 614.2,1215.7" fill="none" stroke="#d2d2d2" stroke-width="0.7" />
<path d="M576.9,1242.5A38,38 0 0 1 590.2,1240L590.5,1275A3,3 0 0 0 589.4,1275.2z" fill="#dcdcdc" />
<path d="M588.4,1272.5A5.9,5.9 0 0 1 590.5,1272.1" fill="none" stroke="#f4f4f4" stroke-width="0.7" />
<path d="M586.3,1267A11.8,11.8 0 0 1 590.4,1266.3" fill="none" stroke="#f4f4f4" stroke-width="0.7" />
<path d="M584.2,1261.6A17.6,17.6 0 0 1 590.4,1260.4" fill="none" stroke="#f4f4f4" stroke-width="0.7" />
<path d="M582.1,1256.1A23.4,23.4 0 0 1 590.3,1254.6" fill="none" stroke="#f4f4f4" stroke-width="0.7" />
<path d="M580,1250.7A29.2,29.2 0 0 1 590.3,1248.8" fill="none" stroke="#f4f4f4" stroke-width="0.7" />
<path d="M577.9,1245.2A35.1,35.1 0 0 1 590.3,1242.9" fill="none" stroke="#f4f4f4" stroke-width="0.7" />
<path d="M591.8,1240A38,38 0 0 1 604,1242.5L591.6,1275.2A3,3 0 0 0 590.6,1275z" fill="#dcdcdc" />
<path d="M590.7,1272.1A5.9,5.9 0 0 1 592.6,1272.5" fill="none" stroke="#f4f4f4" stroke-width="0.7" />
<path d="M590.9,1266.3A11.8,11.8 0 0 1 594.7,1267" fill="none" stroke="#f4f4f4" stroke-width="0.7" />
<path d="M591.1,1260.4A17.6,17.6 0 0 1 596.7,1261.6" fill="none" stroke="#f4f4f4" stroke-width="0.7" />
<path d="M591.3,1254.6A23.4,23.4 0 0 1 598.8,1256.1" fill="none" stroke="#f4f4f4" stroke-width="0.7" />
<path d="M591.5,1248.8A29.2,29.2 0 0 1 600.9,1250.7" fill="none" stroke="#f4f4f4" stroke-width="0.7" />
<path d="M591.7,1242.9A35.1,35.1 0 0 1 603,1245.2" fill="none" stroke="#f4f4f4" stroke-width="0.7" />
<path d="M564.9,1209.6l.6-.2l.6-.2l.6-.2l.3-1.1l.2-1.6l.4-1l.3-1.1v-2.4l.3-1.5l.2-1.9l.9,.6l.2-2.1l.5-1l1,1.1l-.2-4.1l.6-.8l-.2-4.7l1.4,2.8l.7-.3l.1-4l1.1,1.9l.5-1.9l1.2,2.4l.6-1.6l.5-2.1l.9,.4l.9,1l1.1,2.5l.4-3.8l.8,.6l.7-1.8l.9,1.1l.7-2.3l1,2.6l.7-.8l.8-1.3l1,4.3l.7-1.9l.8,.2l.8-6.4l.2,26.2h-.6h-.6h-.7l-.6,.1h-.6h-.7l-.6,.1h-.6l-.6,.1h-.7l-.6,.1l-.6,.1l-.7,.1h-.6l-.6,.1l-.6,.1l-.7,.1l-.6,.1l-.6,.1l-.6,.1l-.7,.1l-.6,.2l-.6,.1l-.6,.1l-.6,.2l-.6,.1l-.7,.2l-.6,.1l-.6,.2l-.6,.2l-.6,.1l-.6,.2l-.6,.2l-.6,.2l-.6,.2l-.6,.2l-.6,.2l-.6,.2l-.6,.2l-.6,.2z" fill="#2349a3"/>
<path d="M593.3,1205.1l.6-.3l.5-.2l.6-.2l.6-.3l.5,.1l.6-.4l.6-.1l.6-.1l.6-.3l.6-.5l.6-.4h.6l.7-1l.6,.2l.4,1.2l1-2.9l.5,.7h.6l.8-1.1l.7-.3l.8-.8h.6l1.1-2.1l.3,1.4l1.8-5.1v3.2l1.2-2.6l1.1-1.3l1-1.3l.7,.1l1.3-2.4l-1.7,8.7l3.2-8.6l.9-.6l-.2,3l1.3-1.6l-1.6,7.1l.4,.8l-1,4.7l.8-.3l-2.8,7.9l-.5-.2l-.5-.2l-.6-.2l-.5-.1l-.5-.2l-.5-.2l-.6-.1l-.5-.2l-.5-.1l-.5-.2l-.6-.1l-.5-.1l-.5-.2l-.6-.1l-.5-.1l-.5-.2l-.6-.1l-.5-.1l-.6-.1l-.5-.1l-.5-.1l-.6-.1l-.5-.1l-.6-.1l-.5-.1h-.5l-.6-.1l-.5-.1l-.6-.1h-.5l-.6-.1h-.5l-.6-.1h-.5l-.6-.1h-.5l-.6-.1h-.5h-.6h-.5z" fill="#2349a3"/>
<path d="M578.7,1232.4l-.3-2.3l.5,.7l-.5-3.4l.3,.1v-1.3l-.7-4.8l.7,1.5l.1-1l-.2-3l-.1-2.3l.7,2v-2l1,3.2v-2l.3-.4l.7,1.9h.3l.4-.2l-.3-4.3l.3-.7l.4,.1l.2-1.4l.9,3.8l-.1-4l.3-1.2l.2-1.9l.8,4.6l.3-1.6l.8,4.8l-.1-5l.8,5.1l.2-2.7l-.1-7.5l1,10.9v-8.6l.5,2.1l.5,2.5l.3-1.6l.4,.5l.4-.8l.3,25h-.2h-.3h-.2h-.2h-.3l-.2,.1h-.3h-.2h-.3h-.2h-.2h-.3l-.2,.1h-.3h-.2h-.3l-.2,.1h-.2h-.3l-.2,.1h-.3h-.2l-.3,.1h-.2h-.2l-.3,.1h-.2l-.3,.1h-.2l-.2,.1h-.3l-.2,.1h-.3l-.2,.1h-.2l-.3,.1h-.2l-.2,.1h-.3l-.2,.1z" fill="#2349a3"/>
<path d="M592.6,1235.5l.2-.2l.2,.1l.3-.3l.2-.2h.2l.3-.4l.1,.5l.3-.3l.2,.1l.2-.1l.3-.3l.2-.2l.3-.1l.2-.1l.3-.8l.2,.5l.1,.9l.4-.7l.1,.3l.3-.1l.3-.9l.2,.6l.1,.8l.4-1.1l.1,.5l.2,.6l.2,.1l.2,.1h.2l.2,.4h.2l.3-.3v1l.2,.2l.2,.1h.2l.1,.6l.2-.2l.1,.7l.2,.2l-.3,1l-.2-.1h-.2l-.2-.1h-.2h-.2l-.2-.1h-.2l-.2-.1h-.2l-.2-.1h-.2l-.2-.1h-.2h-.2l-.2-.1h-.2h-.2l-.3-.1h-.2h-.2l-.2-.1h-.2h-.2l-.2-.1h-.2h-.2h-.2l-.2-.1h-.2h-.2h-.2h-.2l-.3-.1h-.2h-.2h-.2h-.2h-.2h-.2l-.2-.1z" fill="#2349a3"/>
<path d="M588.4,1271.2v-.2l-.4-1.6l.7,2.3l-.5-2l.6,1.8l-.9-3.4l.2,.7l-.2-1.5l.5,1.9l-.3-1.3l.3,.6l.1,.4l-.2-1.3l.4,1.7l-.2-1.4l-.3-1.7l.2,.3l.1,.2l-.8-5.5l.6,3.5l.3,.8l-.3-2.2l.3,1.1l-.1-.9l.1-.6l-.9-7.6l.8,5.3v-1.1v-1.1l-.2-3.6l.8,7.2l.2,1.5l-.5-8.1l.9,11v-2.5l-.1-2.2v-3.2l.4,7.8l.2,3.4l-.1-6l.3,9.5h-.1h-.1h-.1h-.1h-.1h-.1v.1h-.1h-.1h-.1h-.1h-.1v.1h-.1h-.1z" fill="#2349a3"/>
<path d="M591.3,1264.6v1.3l.2-1.5l.2-1.4l.3-2.2l.1,.9v1.4l.4-3.1v1.4l.6-4v1.5l.6-3.7l-.1,2.2v.9l.1,.2l.5-2.4l.6-2l.5-2.1v1.2l-.1,1.4l.8-3.1l-.5,3.5l1.2-4.7l-.3,2.2l1.5-5.6l.1,.5v.9l-.5,2.8l1.4-4.4l.2,.1l-.3,2l.3-.1l1.8-5.4l-1,4.2l1.1-2.7l1.2-2.9l-2.3,7.6l3.5-9.4l-.3,1.8l-1.3,4.4v.6l-9.7,26.6h-.1v-.1h-.1h-.1h-.1v-.1h-.1h-.1h-.1h-.1h-.1v-.1h-.1h-.1h-.1h-.1z" fill="#2349a3"/>
<text x="628.6" y="1200.6" font-size="22" font-weight="bold" fill="#1f1535">H3K27ac</text>
<text x="621.5" y="1235.4" font-size="22" font-weight="bold" fill="#1f1535">H3K4me3</text>
<text x="606.8" y="1265.3" font-size="22" font-weight="bold" fill="#1f1535">H3K4me1</text>
<text x="551.1" y="1161.5" font-size="8.9" fill="#858585" transform="rotate(-110.1 551.1 1161.5)">1599</text>
<text x="561.7" y="1134.1" font-size="10.3" font-weight="bold" transform="rotate(-102.7 561.7 1134.1)">E1</text>
<text x="573.8" y="1129.9" font-size="10.3" font-weight="bold" transform="rotate(-97.8 573.8 1129.9)">E7</text>
<text x="582.3" y="1128.2" font-size="10.3" font-weight="bold" transform="rotate(-94.5 582.3 1128.2)">E6</text>
<text x="592" y="1151.6" font-size="8.9" fill="#858585" transform="rotate(-90.7 592 1151.6)">6</text>
<text x="601.6" y="1153.5" font-size="8.9" fill="#858585" transform="rotate(-86.3 601.6 1153.5)">7095</text>
<text x="632.4" y="1163.1" font-size="8.9" fill="#858585" transform="rotate(-71.4 632.4 1163.1)">6690</text>
<text x="635.3" y="1136.4" font-size="10.3" font-weight="bold" font-style="italic" transform="rotate(-73.8 635.3 1136.4)">L1</text>
<rect x="217" y="1375.5" width="878.8" height="75.8" fill="#f6f4f5" />
<rect x="217" y="1382.4" width="24.2" height="6.9" fill="#ffffff" stroke="#4a4c4e" stroke-width="0.7"/>
<rect x="241.2" y="1382.4" width="8.3" height="6.9" fill="#b3b6b8" stroke="#4a4c4e" stroke-width="0.7"/>
<rect x="249.5" y="1382.4" width="30.1" height="6.9" fill="#ffffff" stroke="#4a4c4e" stroke-width="0.7"/>
<rect x="279.6" y="1382.4" width="20.1" height="6.9" fill="#7e8183" stroke="#4a4c4e" stroke-width="0.7"/>
<rect x="299.7" y="1382.4" width="14.9" height="6.9" fill="#ffffff" stroke="#4a4c4e" stroke-width="0.7"/>
<rect x="314.6" y="1382.4" width="20.1" height="6.9" fill="#3e4244" stroke="#4a4c4e" stroke-width="0.7"/>
<rect x="334.7" y="1382.4" width="34.6" height="6.9" fill="#ffffff" stroke="#4a4c4e" stroke-width="0.7"/>
<rect x="369.3" y="1382.4" width="45.3" height="6.9" fill="#050505" stroke="#4a4c4e" stroke-width="0.7"/>
<rect x="414.6" y="1382.4" width="30" height="6.9" fill="#ffffff" stroke="#4a4c4e" stroke-width="0.7"/>
<rect x="444.6" y="1382.4" width="18.6" height="6.9" fill="#7e8183" stroke="#4a4c4e" stroke-width="0.7"/>
<rect x="463.2" y="1382.4" width="19.2" height="6.9" fill="#ffffff" stroke="#4a4c4e" stroke-width="0.7"/>
<path d="M482.4,1382.4L492.6,1385.8L482.4,1389.3z" fill="#c5202b"/>
<path d="M502.8,1382.4L492.6,1385.8L502.8,1389.3z" fill="#c5202b"/>
<rect x="502.8" y="1382.4" width="37.1" height="6.9" fill="#ffffff" stroke="#4a4c4e" stroke-width="0.7"/>
<rect x="539.9" y="1382.4" width="38.4" height="6.9" fill="#050505" stroke="#4a4c4e" stroke-width="0.7"/>
<rect x="578.3" y="1382.4" width="22" height="6.9" fill="#ffffff" stroke="#4a4c4e" stroke-width="0.7"/>
<rect x="600.3" y="1382.4" width="32.2" height="6.9" fill="#3e4244" stroke="#4a4c4e" stroke-width="0.7"/>
<rect x="632.5" y="1382.4" width="14.9" height="6.9" fill="#ffffff" stroke="#4a4c4e" stroke-width="0.7"/>
<rect x="647.4" y="1382.4" width="19.2" height="6.9" fill="#7e8183" stroke="#4a4c4e" stroke-width="0.7"/>
<rect x="666.6" y="1382.4" width="9.3" height="6.9" fill="#ffffff" stroke="#4a4c4e" stroke-width="0.7"/>
<rect x="675.9" y="1382.4" width="14.8" height="6.9" fill="#b3b6b8" stroke="#4a4c4e" stroke-width="0.7"/>
<rect x="690.7" y="1382.4" width="7.3" height="6.9" fill="#ffffff" stroke="#4a4c4e" stroke-width="0.7"/>
<rect x="698" y="1382.4" width="31.6" height="6.9" fill="#3e4244" stroke="#4a4c4e" stroke-width="0.7"/>
<rect x="729.6" y="1382.4" width="7.7" height="6.9" fill="#ffffff" stroke="#4a4c4e" stroke-width="0.7"/>
<rect x="737.3" y="1382.4" width="20.4" height="6.9" fill="#3e4244" stroke="#4a4c4e" stroke-width="0.7"/>
<rect x="757.7" y="1382.4" width="12.4" height="6.9" fill="#ffffff" stroke="#4a4c4e" stroke-width="0.7"/>
<rect x="770.1" y="1382.4" width="36.2" height="6.9" fill="#7e8183" stroke="#4a4c4e" stroke-width="0.7"/>
<rect x="806.3" y="1382.4" width="36.3" height="6.9" fill="#ffffff" stroke="#4a4c4e" stroke-width="0.7"/>
<rect x="842.6" y="1382.4" width="36.5" height="6.9" fill="#3e4244" stroke="#4a4c4e" stroke-width="0.7"/>
<rect x="879.1" y="1382.4" width="15.5" height="6.9" fill="#ffffff" stroke="#4a4c4e" stroke-width="0.7"/>
<rect x="894.6" y="1382.4" width="28.8" height="6.9" fill="#7e8183" stroke="#4a4c4e" stroke-width="0.7"/>
<rect x="923.4" y="1382.4" width="11.4" height="6.9" fill="#ffffff" stroke="#4a4c4e" stroke-width="0.7"/>
<rect x="934.8" y="1382.4" width="46.5" height="6.9" fill="#050505" stroke="#4a4c4e" stroke-width="0.7"/>
<rect x="981.3" y="1382.4" width="11.7" height="6.9" fill="#ffffff" stroke="#4a4c4e" stroke-width="0.7"/>
<rect x="993" y="1382.4" width="29.4" height="6.9" fill="#b3b6b8" stroke="#4a4c4e" stroke-width="0.7"/>
<rect x="1022.4" y="1382.4" width="9" height="6.9" fill="#ffffff" stroke="#4a4c4e" stroke-width="0.7"/>
<rect x="1031.4" y="1382.4" width="14.9" height="6.9" fill="#b3b6b8" stroke="#4a4c4e" stroke-width="0.7"/>
<rect x="1046.3" y="1382.4" width="24.7" height="6.9" fill="#ffffff" stroke="#4a4c4e" stroke-width="0.7"/>
<rect x="1071" y="1382.4" width="24.8" height="6.9" fill="#050505" stroke="#4a4c4e" stroke-width="0.7"/>
<text x="245.5" y="1396.2" font-size="6.4" font-family="DejaVu Sans, sans-serif" font-weight="bold" fill="#111" text-anchor="middle">p16.2</text>
<text x="289.8" y="1396.2" font-size="6.4" font-family="DejaVu Sans, sans-serif" font-weight="bold" fill="#111" text-anchor="middle">p15.33</text>
<text x="324.5" y="1396.2" font-size="6.4" font-family="DejaVu Sans, sans-serif" font-weight="bold" fill="#111" text-anchor="middle">p15.31</text>
<text x="391.3" y="1396.2" font-size="6.4" font-family="DejaVu Sans, sans-serif" font-weight="bold" fill="#111" text-anchor="middle">p15.1</text>
<text x="429.1" y="1396.2" font-size="6.4" font-family="DejaVu Sans, sans-serif" font-weight="bold" fill="#111" text-anchor="middle">p14</text>
<text x="453.3" y="1396.2" font-size="6.4" font-family="DejaVu Sans, sans-serif" font-weight="bold" fill="#111" text-anchor="middle">p13</text>
<text x="487.3" y="1396.2" font-size="6.4" font-family="DejaVu Sans, sans-serif" font-weight="bold" fill="#111" text-anchor="middle">p11</text>
<text x="521" y="1396.2" font-size="6.4" font-family="DejaVu Sans, sans-serif" font-weight="bold" fill="#111" text-anchor="middle">q12</text>
<text x="558.5" y="1396.2" font-size="6.4" font-family="DejaVu Sans, sans-serif" font-weight="bold" fill="#111" text-anchor="middle">q13.1</text>
<text x="588.9" y="1396.2" font-size="6.4" font-family="DejaVu Sans, sans-serif" font-weight="bold" fill="#111" text-anchor="middle">q13.2</text>
<text x="639.6" y="1396.2" font-size="6.4" font-family="DejaVu Sans, sans-serif" font-weight="bold" fill="#111" text-anchor="middle">q21.1</text>
<text x="671.2" y="1396.2" font-size="6.4" font-family="DejaVu Sans, sans-serif" font-weight="bold" fill="#111" text-anchor="middle">q21.22</text>
<text x="713.5" y="1396.2" font-size="6.4" font-family="DejaVu Sans, sans-serif" font-weight="bold" fill="#111" text-anchor="middle">q22.1</text>
<text x="746.9" y="1396.2" font-size="6.4" font-family="DejaVu Sans, sans-serif" font-weight="bold" fill="#111" text-anchor="middle">q22.3</text>
<text x="787.8" y="1396.2" font-size="6.4" font-family="DejaVu Sans, sans-serif" font-weight="bold" fill="#111" text-anchor="middle">q24</text>
<text x="824" y="1396.2" font-size="6.4" font-family="DejaVu Sans, sans-serif" font-weight="bold" fill="#111" text-anchor="middle">q25</text>
<text x="859.9" y="1396.2" font-size="6.4" font-family="DejaVu Sans, sans-serif" font-weight="bold" fill="#111" text-anchor="middle">q26</text>
<text x="886.8" y="1396.2" font-size="6.4" font-family="DejaVu Sans, sans-serif" font-weight="bold" fill="#111" text-anchor="middle">q27</text>
<text x="929.3" y="1396.2" font-size="6.4" font-family="DejaVu Sans, sans-serif" font-weight="bold" fill="#111" text-anchor="middle">q28.2</text>
<text x="958" y="1396.2" font-size="6.4" font-family="DejaVu Sans, sans-serif" font-weight="bold" fill="#111" text-anchor="middle">q28.3</text>
<text x="987.5" y="1396.2" font-size="6.4" font-family="DejaVu Sans, sans-serif" font-weight="bold" fill="#111" text-anchor="middle">q31.1</text>
<text x="1026.8" y="1396.2" font-size="6.4" font-family="DejaVu Sans, sans-serif" font-weight="bold" fill="#111" text-anchor="middle">q31.22</text>
<text x="1058" y="1396.2" font-size="6.4" font-family="DejaVu Sans, sans-serif" font-weight="bold" fill="#111" text-anchor="middle">q31.3</text>
<text x="1077.5" y="1396.2" font-family="DejaVu Sans, sans-serif" font-size="6.4" font-weight="bold" fill="#111" clip-path="inset(0 5.5px 0 0)">q32.1</text>
<rect x="984.9" y="1381.2" width="2.6" height="9.4" fill="#e8222c" />
<line x1="219" y1="1424.1" x2="722" y2="1424.1" stroke="#333" stroke-width="0.9" />
<line x1="759.5" y1="1424.1" x2="1095.8" y2="1424.1" stroke="#333" stroke-width="0.9" />
<path d="M217,1424.1L222.4,1422L222.4,1426.2z" fill="#111"/>
<text x="742.4" y="1426.9" font-size="7.6" font-weight="bold" fill="#111" text-anchor="middle">51 kb</text>
<line x1="316.1" y1="1444.2" x2="316.1" y2="1449.8" stroke="#333" stroke-width="0.8" />
<line x1="419.2" y1="1444.2" x2="419.2" y2="1449.8" stroke="#333" stroke-width="0.8" />
<line x1="522.3" y1="1444.2" x2="522.3" y2="1449.8" stroke="#333" stroke-width="0.8" />
<line x1="625.3" y1="1444.2" x2="625.3" y2="1449.8" stroke="#333" stroke-width="0.8" />
<line x1="728.4" y1="1444.2" x2="728.4" y2="1449.8" stroke="#333" stroke-width="0.8" />
<line x1="831.5" y1="1444.2" x2="831.5" y2="1449.8" stroke="#333" stroke-width="0.8" />
<line x1="934.6" y1="1444.2" x2="934.6" y2="1449.8" stroke="#333" stroke-width="0.8" />
<line x1="1037.7" y1="1444.2" x2="1037.7" y2="1449.8" stroke="#333" stroke-width="0.8" />
<text x="316.1" y="1441.3" font-size="6.2" font-weight="bold" fill="#111" text-anchor="middle">139,280 kb</text>
<text x="522.3" y="1441.3" font-size="6.2" font-weight="bold" fill="#111" text-anchor="middle">139,290 kb</text>
<text x="728.4" y="1441.3" font-size="6.2" font-weight="bold" fill="#111" text-anchor="middle">139,300 kb</text>
<text x="934.6" y="1441.3" font-size="6.2" font-weight="bold" fill="#111" text-anchor="middle">139,310 kb</text>
<line x1="217" y1="1451.3" x2="1095.8" y2="1451.3" stroke="#8a8a8c" stroke-width="0.9" />
<rect x="217" y="1469" width="878.8" height="109.3" fill="#f6f4f5" />
<rect x="217" y="1594.4" width="878.8" height="230" fill="#f6f4f5" />
<rect x="217" y="1866.7" width="878.8" height="29.3" fill="#f6f4f5" />
<path d="M514.9,1476.1H815V1896L1091.7,1964.3H223.6L514.9,1896z" fill="rgba(172,200,205,0.30)"/>
<rect x="615.8" y="1497.2" width="44.9" height="77" fill="rgba(110,205,165,0.40)" />
<rect x="746" y="1497.2" width="44.8" height="77" fill="rgba(110,205,165,0.40)" />
<rect x="614.9" y="1623" width="44.9" height="77.3" fill="rgba(110,205,165,0.40)" />
<rect x="745" y="1623" width="44.8" height="77.3" fill="rgba(110,205,165,0.40)" />
<rect x="614" y="1742.3" width="44.9" height="77.7" fill="rgba(110,205,165,0.40)" />
<rect x="744.3" y="1742.3" width="44.8" height="77.7" fill="rgba(110,205,165,0.40)" />
<rect x="644.7" y="1736.7" width="116.3" height="83.3" fill="rgba(246,232,150,0.50)" />
<text x="142.3" y="1531" font-size="21.3" font-weight="bold" fill="#1fa9e1" text-anchor="middle" transform="rotate(-90 142.3 1531)">NOKSI</text>
<text x="213.2" y="1487.5" font-size="13.2" font-weight="bold" fill="#1f1535" text-anchor="end">Input</text>
<text x="219.6" y="1474.9" font-size="5.1" fill="#222">[0 - 10.00]</text>
<path d="M217,1495.3v-.5h2v.5h6v-.5h2v.5h4v-.5h2v.5h4v-.5h2v.5h4v-.5h4v.5h4v-.5h4v.5h2v-1h2v.5h4v.5h6v-1h2v.5h2v.5h10v-1h1v-.5h2v-.5h1v.5h1v1h2v.5h13v-.5h2v.5h4v-.5h2v.5h6v-1h2v.5h3v-.5h1v-.5h1v-.5h1v.5h1v.5h3v.5h8v.5h2v-.5h1v-.5h1v-1.5h1v-.5h1v.5h1v.5h1v.5h1v.5h1v.5h2v.5h8v-.5h4v.5h6v-1h2v.5h2v.5h4v-1h2v.5h2v.5h2v-.5h2v.5h4v-.5h2v.5h2v-.5h4v.5h12v-.5h2v.5h8v-.5h4v.5h2v-1h2v.5h4v.5h2v-1h2v.5h2v.5h6v-.5h2v.5h2v-.5h4v.5h2v-.5h3v-.5h2v-.5h2v.5h1v.5h1v-.5h2v.5h3v.5h2v-.5h2v.5h6v-.5h2v.5h6v-1h2v.5h2v.5h2v-1h2v.5h2v.5h6v-.5h2v.5h2v-1h2v.5h2v.5h4v-.5h2v.5h4v-.5h2v.5h2v-.5h2v-.5h2v1h2v-.5h2v.5h16v-.5h4v.5h4v-.5h2v.5h6v-1h2v1h10v-.5h2v.5h2v-1h2v1h8v-1h1v-1h1v.5h1v-.5h1v1h2v1h4v-1h2v.5h2v.5h8v-.5h2v.5h2v-.5h2v.5h12v-1h2v.5h2v.5h2v-.5h2v.5h10v-1h2v1h2v-.5h2v.5h8v-.5h2v-.5h2v1h6v-.5h1v-.5h1v-1h1v1h3v.5h2v.5h6v-.5h2v.5h4v-.5h2v.5h12v-1.5h2v1h4v.5h6v-.5h6v.5h2v-.5h4v.5h2v-.5h2v-.5h2v.5h2v.5h2v-.5h3v-1.5h2v.5h1v.5h1v.5h3v.5h8v-1h2v1h4v-.5h2v.5h2v-.5h2v.5h14v-.5h2v.5h10v-1h2v1h2v-1h2v1h8v-.5h2v.5h4v-.5h2v.5h6v-.5h4v.5h8v-.5h2v.5h2v-1h4v1h2v-.5h2v.5h4v-.5h2v.5h16v-1h2v.5h2v.5h10v-.5h2v.5h8v-.5h2v.5h8v-.5h2v.5h6v-.5h2v.5h2v-.5h2v.5h8v-.5h2v.5h10v-.5h2v.5h2v-.5h2v-.5h2v1h20v-.5h2v.5h4v-.5h2v.5h2v-.5h2v.5h4v-.5h4v.5h1v-.5h1v.5h2v-.5h3v-.5h1v.5h2v-1h1v-.5h1v1.5h1v-.5h1v-.5h1v-.5h1v.5h1v-.5h1v1h2v.5h1v-.5h1v.5h2v-1h1v.5h2v.5h3v.5h16v-.5h2v.5h4v-.5h2v.5h4v-.5h2v.5h2v-.5h2v.5h2v-.5h2v.5h4v-.5h4v.5h2v-1h2v.5h4v-.5h2v1h6v-.5h2v.5h19z" fill="#27359b"/>
<line x1="217" y1="1495.3" x2="1095.8" y2="1495.3" stroke="#3347a8" stroke-width="1.1" />
<text x="213.2" y="1514.2" font-size="13.2" font-weight="bold" fill="#1f1535" text-anchor="end">H3K27ac</text>
<text x="219.6" y="1501.2" font-size="5.1" fill="#222">[0 - 10.00]</text>
<path d="M217,1521.9h30v-.5h1v-.5h1v-.5h3v.5h2v.5h2v.5h1v-1h2v1h4v-.5h2v.5h2v-.5h2v.5h2v-.5h2v.5h9v-.5h1v-.5h1v-.5h1v-1.5h1v-1h3v.5h1v1h1v1h1v.5h1v.5h1v.5h5v-.5h2v.5h3v-.5h1v-1h3v-1h2v1h1v-1h3v-.5h1v-.5h1v.5h1v-1.5h1v-.5h1v-.5h1v1.5h1v1h1v.5h1v1h1v.5h1v.5h1v.5h9v-.5h6v.5h2v-1h2v1h8v-.5h2v.5h2v-.5h2v.5h10v-1h2v.5h4v.5h16v-.5h4v.5h14v-.5h2v.5h22v-.5h4v.5h4v-.5h2v.5h1v-.5h1v.5h1v-.5h1v-.5h1v-.5h1v.5h2v-.5h1v.5h2v1h1v-.5h1v.5h11v-1.5h2v1.5h4v-.5h4v.5h16v-.5h2v.5h6v-.5h4v.5h10v-.5h2v.5h2v-.5h2v.5h6v-1h2v.5h2v.5h8v-1h2v.5h2v.5h2v-.5h4v.5h12v-1h2v.5h2v.5h16v-.5h2v.5h4v-.5h2v.5h14v-1h2v1h2v-.5h2v.5h2v-1h2v1h2v-.5h2v.5h4v-1h2v.5h2v-1h1v-.5h1v.5h1v.5h1v-1h2v-.5h1v-1.5h1v-1h1v-1.5h1v-3h1v-2.5h1v-1h1v-1h1v2h1v2h1v2h1v3h1v1h1v2h1v-.5h1v.5h1v1.5h3v.5h7v-.5h2v.5h52v-.5h3v-.5h1v.5h3v-.5h1v.5h1v-.5h4v-.5h1v-1h4v-.5h1v.5h1v1.5h1v-1h1v.5h1v-.5h1v.5h1v-.5h3v.5h1v.5h1v-.5h3v.5h3v-.5h1v-.5h1v.5h1v-.5h3v-.5h3v-1h1v1h1v-.5h1v-.5h1v-.5h1v-.5h2v.5h1v-1.5h1v-.5h1v-2h1v-.5h2v-1h1v1.5h3v2h1v1h1v.5h1v.5h1v1.5h1v1h1v.5h1v.5h2v.5h3v-.5h6v.5h4v-.5h4v.5h13v-.5h2v-.5h1v-1.5h1v-1.5h2v.5h1v-.5h1v.5h1v.5h1v.5h1v1h1v.5h1v.5h2v.5h2v-1h2v1h2v-.5h4v.5h12v-.5h2v.5h12v-.5h1v-.5h2v-1h1v-1h1v-2.5h1v1h1v-.5h1v1.5h1v1h2v1.5h1v.5h2v.5h4v-1h2v1h26v-1h2v1h2v-1h2v.5h2v.5h6v-.5h4v.5h2v-1h2v.5h1v-.5h3v-.5h1v-.5h1v-.5h1v-.5h1v.5h1v-1h2v.5h2v.5h1v1.5h2v.5h2v.5h20v-.5h4v.5h4v-1h2v1h6v-.5h2v.5h8v-.5h2v-.5h2v1h2v-.5h2v-.5h2v1h2v-.5h2v.5h4v-1h2v1h2v-.5h2v.5h10v-.5h6v.5h10v-.5h6v.5h4v-.5h2v.5h6v-1h2v.5h6v.5h16v-.5h2v.5h7z" fill="#27359b"/>
<line x1="217" y1="1521.9" x2="1095.8" y2="1521.9" stroke="#3347a8" stroke-width="1.1" />
<text x="213.2" y="1540.8" font-size="13.2" font-weight="bold" fill="#1f1535" text-anchor="end">H3K4me3</text>
<text x="219.6" y="1527.8" font-size="5.1" fill="#222">[0 - 50]</text>
<path d="M217,1549.2h10v-.5h2v.5h50v-.5h2v.5h28v-.5h4v-.5h3v.5h7v.5h30v-.5h2v.5h86v-.5h2v.5h34v-.5h2v.5h96v-.5h2v.5h4v-.5h2v.5h38v-.5h3v-.5h3v-.5h2v-1h1v-.5h1v-.5h1v-.5h1v-1.5h1v-1.5h1v-2.5h1v-3.5h1v-.5h1v-1h1v2.5h1v1h1v2.5h1v3h1v2h1v1.5h1v1h1v.5h2v.5h7v-.5h2v.5h74v-.5h5v-.5h2v-.5h3v.5h1v.5h6v-.5h3v-1h1v-.5h1v-1h2v.5h1v-2.5h2v-.5h1v-1.5h1v-1h1v-.5h1v-1h1v-.5h1v-2h1v-2h1v1h1v-1.5h1v.5h1v-1.5h1v2.5h1v1.5h1v1.5h1v1.5h1v2.5h1v1.5h1v1.5h1v.5h1v1h1v1h1v.5h3v.5h6v-.5h2v.5h20v-.5h2v.5h4v-.5h2v-.5h1v-.5h1v1h1v-.5h1v.5h3v.5h157v-.5h2v.5h98v-.5h2v.5h11z" fill="#27359b"/>
<line x1="217" y1="1549.2" x2="1095.8" y2="1549.2" stroke="#3347a8" stroke-width="1.1" />
<text x="213.2" y="1566" font-size="13.2" font-weight="bold" fill="#1f1535" text-anchor="end">H3K4me1</text>
<text x="219.6" y="1555.1" font-size="5.1" fill="#222">[0 - 10.00]</text>
<path d="M217,1576.1h12v-.5h2v.5h2v-.5h2v.5h2v-1h2v1h2v-.5h2v.5h8v-.5h2v.5h2v-.5h2v.5h16v-.5h2v.5h2v-1h2v1h1v-.5h1v-1h1v-.5h2v-1h1v-1h2v-1.5h1v2h2v1h2v.5h1v.5h2v1h6v-.5h1v-.5h1v-.5h1v-.5h1v-1h1v-1h1v1h1v.5h1v-.5h1v1h1v-.5h1v-.5h2v-1.5h1v-1h1v-.5h1v-1.5h1v-.5h1v1h1v-.5h1v1h1v1h2v.5h1v.5h1v1h1v.5h1v.5h1v1h1v1h2v.5h1v.5h2v-.5h2v.5h10v-.5h2v.5h6v-1h2v1h16v-.5h6v.5h4v-.5h2v.5h6v-.5h2v.5h4v-.5h2v.5h10v-.5h2v-.5h2v1h1v-.5h3v-.5h1v.5h1v-.5h1v.5h1v-1h1v.5h3v.5h4v.5h10v-.5h2v.5h4v-.5h2v.5h6v-.5h2v.5h16v-.5h2v.5h2v-.5h2v.5h4v-.5h2v-.5h2v.5h2v.5h4v-.5h2v.5h4v-1h2v1h2v-1h2v1h2v-.5h4v.5h2v-.5h4v.5h12v-1h4v1h4v-.5h2v.5h2v-.5h2v.5h4v-1h2v1h8v-1h2v.5h4v.5h4v-.5h2v.5h6v-.5h2v-.5h2v1h4v-1h2v1h2v-.5h2v.5h29v-.5h2v.5h2v-.5h1v.5h1v-.5h2v-.5h5v.5h1v-.5h1v-.5h1v-.5h1v.5h1v.5h1v-1h1v.5h2v-.5h1v1h1v-.5h1v.5h2v-.5h1v-1h1v1h2v-.5h1v-.5h1v1.5h2v-1h1v.5h1v.5h2v.5h2v-.5h2v.5h1v-.5h3v-1.5h2v1h1v-.5h1v.5h1v-.5h1v.5h1v.5h3v.5h1v.5h1v-.5h6v-.5h2v1h2v-.5h4v.5h4v-.5h4v-.5h2v1h4v-.5h2v.5h12v-.5h2v.5h12v-.5h2v.5h2v-.5h2v.5h12v-.5h2v.5h8v-.5h1v.5h1v-.5h2v-.5h1v.5h2v-.5h2v-.5h1v.5h3v-1h1v-.5h1v.5h1v1h1v.5h1v-.5h1v.5h2v-.5h1v.5h1v.5h3v-.5h2v.5h16v-2h2v1h2v-.5h1v-1h2v-.5h1v-1.5h1v-1.5h2v-1.5h2v-3h1v-3.5h2v1h1v.5h1v3.5h1v1.5h1v3h1v1.5h1v1h1v1h2v.5h1v.5h4v-.5h2v.5h2v-.5h2v.5h12v-.5h2v.5h2v-.5h6v-.5h1v.5h1v-1h2v-.5h1v.5h3v-.5h1v1h1v-.5h4v-1h1v1h1v.5h1v.5h5v.5h8v-.5h2v-.5h2v.5h2v-.5h2v1h10v-.5h2v.5h4v-.5h2v.5h8v-1h2v.5h1v-.5h3v-1.5h1v.5h1v-.5h1v-1h1v-.5h1v-1h1v-1.5h2v-1h1v.5h1v1.5h1v.5h1v1.5h1v1h1v.5h1v.5h1v.5h1v.5h3v.5h6v-1h2v1h2v-.5h4v-.5h2v1h1v-.5h4v-.5h1v.5h1v-.5h1v-.5h1v-.5h2v-.5h1v.5h1v1.5h2v-1.5h1v1h1v-1h1v.5h1v-1h1v.5h1v1h1v.5h1v-1.5h1v1h1v-1h1v1h2v.5h1v-1h1v.5h3v-.5h1v.5h1v-.5h1v-1h1v1h1v.5h1v-1.5h1v-1h1v.5h1v.5h1v1h1v-.5h1v-1h1v.5h3v1.5h1v-.5h1v.5h1v-.5h1v.5h1v.5h3v.5h1v-.5h2v.5h16v-.5h2v.5h1v-.5h1v.5h1v-.5h2v-.5h5v-2h1v.5h1v.5h1v-.5h1v1.5h2v-.5h1v.5h1v.5h6v.5h2v-.5h2v.5h4v-.5h4v.5h2v-.5h8v.5h2v-.5h2v-.5h1v1z" fill="#27359b"/>
<line x1="217" y1="1576.1" x2="1095.8" y2="1576.1" stroke="#3347a8" stroke-width="1.1" />
<line x1="217" y1="1594.4" x2="1095.8" y2="1594.4" stroke="#8f9ad6" stroke-width="0.9" />
<text x="140.6" y="1664.6" font-size="21.3" font-weight="bold" fill="#f7941e" text-anchor="middle" transform="rotate(-90 140.6 1664.6)">PDX_C</text>
<text x="213.2" y="1617.5" font-size="13.2" font-weight="bold" fill="#1f1535" text-anchor="end">Input</text>
<text x="219.6" y="1600.3" font-size="5.1" fill="#222">[0 - 10.00]</text>
<path d="M217,1620.8h20v-.5h2v.5h18v-.5h2v.5h4v-.5h2v-.5h2v1h4v-.5h2v.5h18v-.5h2v.5h8v-.5h2v.5h8v-.5h2v.5h9v-.5h1v-1h3v1h2v.5h11v-.5h4v.5h4v-.5h4v.5h2v-.5h2v.5h2v-.5h2v.5h14v-1h2v.5h2v.5h24v-1h2v.5h2v.5h6v-.5h6v.5h8v-1h2v.5h2v.5h4v-.5h6v.5h15v-.5h1v-.5h2v-.5h1v.5h1v.5h2v.5h4v-1h2v.5h2v.5h8v-1h2v1h2v-.5h2v.5h10v-.5h2v.5h8v-.5h2v.5h26v-.5h2v.5h16v-.5h6v.5h2v-1h2v1h22v-.5h2v.5h8v-.5h2v.5h8v-.5h4v.5h6v-.5h2v.5h8v-.5h2v.5h6v-.5h4v.5h12v-1h2v1h16v-.5h2v-.5h2v1h16v-1h4v1h6v-.5h2v.5h8v-.5h4v.5h6v-.5h2v.5h20v-.5h2v.5h4v-.5h2v.5h30v-1h2v1h12v-.5h4v.5h2v-.5h2v.5h24v-.5h2v.5h10v-.5h2v.5h2v-.5h2v.5h4v-.5h2v.5h14v-.5h2v-.5h2v.5h10v.5h24v-1.5h1v1h1v-2h1v1h2v.5h1v.5h4v.5h2v-.5h2v.5h8v-1h2v1h10v-1h2v1h10v-.5h2v-.5h2v1h2v-.5h2v.5h2v-1h2v1h2v-.5h2v.5h18v-1h2v1h1v-.5h2v-.5h1v.5h1v-1h2v.5h1v-1h1v1h2v.5h1v-.5h1v.5h1v-.5h2v1h2v-.5h2v.5h22v-.5h2v.5h2v-.5h2v.5h10v-.5h2v.5h4v-1h2v1h2v-.5h2v.5h10v-.5h2v.5h4v-.5h2v.5h8v-.5h2v.5h8v-.5h2v.5h11z" fill="#27359b"/>
<line x1="217" y1="1620.8" x2="1095.8" y2="1620.8" stroke="#3347a8" stroke-width="1.1" />
<text x="213.2" y="1643.8" font-size="13.2" font-weight="bold" fill="#1f1535" text-anchor="end">H3K27ac</text>
<text x="219.6" y="1626.7" font-size="5.1" fill="#222">[0 - 10.00]</text>
<path d="M217,1648.3h18v-.5h2v.5h4v-.5h2v.5h14v-.5h2v.5h20v-.5h2v.5h4v-1h2v1h2v-1h2v.5h4v.5h2v-.5h2v.5h6v-.5h2v.5h4v-.5h2v.5h4v-1h2v1h10v-.5h2v.5h16v-1h2v1h6v-.5h8v.5h34v-.5h2v.5h10v-.5h2v.5h14v-.5h4v.5h2v-.5h2v.5h4v-1.5h2v1.5h8v-.5h2v-.5h2v1h2v-.5h2v.5h28v-1h2v1h14v-.5h2v.5h5v-.5h1v-1h1v-.5h1v.5h1v.5h1v-.5h2v1h2v.5h2v-.5h2v-.5h2v1h14v-.5h2v.5h22v-1h2v1h6v-.5h2v.5h14v-.5h6v.5h6v-.5h2v.5h22v-.5h2v.5h1v-.5h1v-1h1v-.5h1v-.5h1v-1h1v-1h1v-1h1v-1h1v.5h1v.5h1v-.5h2v-1h1v-.5h1v.5h1v-.5h3v1h1v1h2v1h1v.5h1v1h2v1h2v.5h4v-1h1v-.5h1v1.5h2v-.5h1v.5h1v-.5h1v.5h1v.5h5v.5h1v-.5h1v-.5h1v.5h1v-1h1v1h2v-.5h1v.5h1v-.5h1v-.5h1v-.5h1v1.5h2v-.5h1v.5h2v.5h2v-.5h2v1h2v-.5h1v.5h3v-.5h2v.5h2v-.5h2v.5h14v-.5h2v.5h2v-.5h3v-.5h5v-.5h1v-.5h1v.5h1v-1h1v.5h1v-1h1v.5h1v.5h1v.5h2v-.5h2v-1h1v-.5h1v-.5h3v.5h1v-.5h2v-.5h2v-.5h1v-1h1v.5h1v1h1v.5h1v.5h2v-1h1v-.5h1v.5h1v1h2v-.5h1v-1h2v-1.5h1v-.5h1v1.5h1v1.5h1v.5h1v-.5h1v-1h3v1.5h1v-.5h1v-.5h1v-1h1v.5h1v-1h1v1h3v.5h1v1h1v1h1v.5h1v1h1v.5h1v.5h5v-.5h2v.5h18v-1h2v1h2v-.5h2v.5h4v-1h2v.5h2v.5h16v-1h2v1h10v-1.5h2v.5h1v-1h1v1.5h1v-1h2v.5h2v.5h3v.5h2v-.5h2v.5h10v-.5h2v.5h6v-.5h4v.5h4v-.5h2v.5h4v-.5h2v.5h4v-.5h2v-.5h2v.5h2v.5h8v-.5h2v.5h4v-.5h4v.5h14v-1h2v1h4v-.5h2v.5h2v-1h2v1h4v-1h2v1h6v-.5h2v.5h14v-.5h2v.5h4v-.5h2v.5h6v-.5h2v.5h6v-.5h2v.5h2v-.5h2v.5h8v-.5h2v.5h2v-.5h2v.5h18v-.5h2v.5h2v-.5h2v.5h6v-.5h2v.5h8v-1h2v1h8v-.5h6v.5h8v-.5h2v.5h3z" fill="#27359b"/>
<line x1="217" y1="1648.3" x2="1095.8" y2="1648.3" stroke="#3347a8" stroke-width="1.1" />
<text x="213.2" y="1670.2" font-size="13.2" font-weight="bold" fill="#1f1535" text-anchor="end">H3K4me3</text>
<text x="219.6" y="1654.2" font-size="5.1" fill="#222">[0 - 30]</text>
<path d="M217,1675.8h28v-.5h2v.5h94v-.5h2v.5h166v-.5h2v.5h100v-.5h2v.5h9v-.5h1v-.5h1v-1h1v-1.5h1v-1.5h1v-1h2v.5h1v-.5h2v-1h1v.5h1v.5h1v-.5h3v-.5h1v.5h1v1.5h1v.5h1v2h1v1h1v1h1v.5h62v-.5h2v.5h8v-.5h4v-.5h2v-.5h2v-.5h3v-.5h1v1h1v-.5h4v-.5h2v-1h1v.5h1v.5h1v-.5h5v-.5h1v-.5h1v-.5h1v-.5h1v.5h2v.5h2v-1h1v.5h1v-1h1v1.5h2v.5h1v.5h1v-.5h1v-1.5h1v-2.5h1v-.5h1v.5h2v1h1v.5h1v.5h1v-.5h1v-.5h1v.5h1v1h3v-.5h1v-1h1v1.5h2v1h1v.5h2v1h4v.5h1v.5h1v1h1v-.5h10v.5h5v.5h34v-.5h2v.5h2v-.5h2v.5h138v-.5h2v.5h80v-.5h2v.5h31z" fill="#27359b"/>
<line x1="217" y1="1675.8" x2="1095.8" y2="1675.8" stroke="#3347a8" stroke-width="1.1" />
<text x="213.2" y="1695.8" font-size="13.2" font-weight="bold" fill="#1f1535" text-anchor="end">H3K4me1</text>
<text x="219.6" y="1681.7" font-size="5.1" fill="#222">[0 - 10.00]</text>
<path d="M217,1702.5h6v-.5h2v.5h6v-.5h2v.5h4v-.5h2v.5h2v-.5h8v.5h2v-.5h2v.5h6v-.5h2v.5h2v-.5h2v.5h2v-.5h2v.5h4v-.5h6v.5h8v-.5h2v.5h4v-1h2v1h12v-1h2v1h14v-1h2v.5h4v.5h12v-.5h4v.5h4v-1h2v-1h1v-1h1v1.5h2v1h1v.5h3v-.5h2v.5h6v-.5h2v.5h2v-.5h2v.5h6v-.5h2v.5h6v-.5h2v.5h4v-.5h4v.5h2v-.5h4v.5h2v-.5h2v.5h2v-.5h2v-.5h2v1h4v-.5h3v.5h1v-.5h2v-.5h2v.5h1v-.5h1v.5h1v-.5h1v.5h1v-.5h1v-.5h2v.5h2v.5h1v-.5h1v.5h2v.5h1v-.5h1v.5h10v-.5h2v.5h6v-.5h2v.5h6v-1h2v.5h4v.5h10v-.5h2v.5h16v-.5h4v.5h2v-1h2v.5h2v.5h10v-1h2v1h6v-.5h2v.5h4v-.5h2v-.5h2v1h2v-.5h2v.5h2v-.5h2v.5h2v-.5h4v.5h12v-.5h4v.5h4v-.5h2v-.5h4v1h6v-.5h2v.5h4v-.5h4v-.5h2v.5h2v.5h8v-.5h2v.5h10v-.5h2v.5h2v-1.5h2v1h4v.5h2v-1h2v1h2v-.5h1v-.5h2v-.5h1v-1h2v.5h1v.5h1v1h2v-1.5h1v.5h1v1.5h6v-1h2v.5h2v-.5h1v-.5h1v-.5h2v.5h3v.5h1v.5h2v.5h2v-1h2v1h2v-.5h4v.5h8v-.5h2v.5h4v-1h2v1h10v-.5h2v.5h16v-.5h2v-1h2v1h2v.5h2v-.5h2v.5h10v-.5h2v.5h2v-.5h2v.5h2v-1h2v.5h4v.5h6v-.5h2v.5h2v-.5h2v.5h2v-.5h1v.5h1v-.5h1v-.5h1v-.5h1v.5h1v-1.5h1v1h1v.5h1v-.5h1v-.5h1v.5h1v.5h1v.5h1v.5h1v-.5h1v.5h18v-.5h6v-.5h2v1h4v-.5h4v.5h8v-.5h4v.5h2v-.5h4v.5h6v-.5h4v.5h8v-1.5h2v1.5h4v-1h2v.5h4v.5h2v-.5h2v.5h3v-.5h5v-1h1v.5h1v-.5h1v1h1v-.5h6v1h2v-1h2v.5h2v.5h4v-.5h2v.5h2v-.5h2v.5h12v-.5h4v.5h2v-1h2v.5h2v.5h2v-.5h2v.5h2v-.5h2v.5h2v-.5h4v.5h6v-1h2v1h14v-.5h4v.5h4v-.5h2v.5h2v-.5h4v.5h18v-.5h2v.5h4v-.5h4v.5h2v-.5h4v.5h1v-.5h2v-.5h1v-.5h1v-.5h1v-.5h1v-1h1v2h2v.5h2v.5h2v.5h2v-.5h2v.5h4v-.5h6v.5h8v-1h2v.5h2v-.5h2v1h12v-.5h2v.5h16v-.5h2v.5h2v-.5h2v.5h2v-1h2v1h1z" fill="#27359b"/>
<line x1="217" y1="1702.5" x2="1095.8" y2="1702.5" stroke="#3347a8" stroke-width="1.1" />
<line x1="217" y1="1714" x2="1095.8" y2="1714" stroke="#4b5db8" stroke-width="0.9" />
<text x="141.2" y="1786.6" font-size="21.3" font-weight="bold" fill="#b23a96" text-anchor="middle" transform="rotate(-90 141.2 1786.6)">PDX_A</text>
<text x="213.2" y="1738.2" font-size="13.2" font-weight="bold" fill="#1f1535" text-anchor="end">Input</text>
<text x="219.6" y="1719.9" font-size="5.1" fill="#222">[0 - 10.00]</text>
<path d="M217,1740.4v-.5h2v-1h2v1.5h2v-.5h2v.5h6v-1h4v1h10v-.5h4v.5h2v-2h2v1.5h6v.5h2v-1h2v1h4v-.5h2v.5h2v-1.5h2v1h2v.5h2v-.5h2v.5h2v-.5h2v.5h4v-1h4v1h6v-.5h10v.5h4v-1.5h2v1.5h2v-.5h2v.5h2v-.5h6v-.5h6v1h2v-1.5h2v.5h2v1h2v-.5h2v-1.5h2v2h2v-1h4v1h6v-2h2v1.5h2v-1.5h2v1h2v.5h2v.5h2v-1h2v1h2v-2.5h2v2h2v.5h2v-1h2v-1h2v2h2v-2.5h2v2h2v.5h2v-.5h8v.5h2v-1h2v-.5h1v-.5h1v.5h2v-.5h1v.5h1v.5h2v-1h2v.5h2v.5h1v-.5h1v1h1v-.5h1v-1h2v1h1v-.5h1v-1h1v-1.5h2v-.5h1v-1h2v2.5h1v.5h1v.5h2v.5h2v1.5h1v-.5h1v-1.5h1v-.5h1v1h1v-.5h1v1h2v-1.5h1v-.5h2v-.5h1v1.5h2v-2h1v2h1v1h5v-.5h1v-.5h2v.5h1v-.5h1v.5h1v.5h3v-.5h1v.5h1v-1h1v-.5h1v1h1v-.5h1v1h4v-1.5h2v1.5h1v-.5h2v-1h1v1h2v-1.5h4v-.5h1v-1.5h1v1h1v-1.5h1v.5h1v2h1v2h1v.5h1v-1.5h1v.5h2v.5h3v-.5h1v.5h2v-.5h1v.5h1v-.5h1v-.5h2v-.5h1v.5h1v1h2v-1.5h2v.5h1v.5h1v-.5h2v.5h2v-.5h1v1h3v-2h1v.5h1v.5h1v1h1v.5h2v-1.5h2v.5h1v.5h1v-.5h2v-1h2v-1h1v2h2v.5h1v-1.5h2v1h2v-1h2v-.5h2v1.5h4v.5h2v-.5h4v-1h1v-.5h1v1h1v.5h1v-2h1v.5h1v-1h1v-.5h1v2h1v1.5h1v-.5h2v-.5h1v-.5h1v.5h1v1h1v-.5h2v-.5h3v.5h2v-.5h1v-.5h1v-.5h1v1.5h2v-.5h1v-.5h2v.5h1v-.5h4v1h3v-.5h1v-2.5h1v.5h1v2h1v-.5h1v.5h1v.5h6v-1h3v1.5h2v-1.5h1v-.5h2v.5h1v2h1v.5h11v-.5h6v.5h4v-1h2v-.5h2v-1h1v-.5h1v1h2v-1h2v.5h1v1.5h1v-.5h2v-2.5h1v.5h1v1h1v.5h3v-.5h1v.5h1v1h1v-1h1v-.5h2v1.5h3v-.5h1v-.5h1v.5h1v-1h2v.5h1v.5h1v-2h4v1.5h2v-1h1v-.5h1v.5h3v.5h1v-.5h1v-.5h1v1.5h1v-.5h3v-1h2v1h2v-.5h1v-.5h1v1h2v.5h2v.5h2v-1h3v-.5h1v.5h2v-.5h1v.5h3v.5h2v-1h1v.5h2v-.5h1v1h3v-.5h1v.5h1v-.5h2v.5h1v.5h2v-.5h2v-.5h3v-.5h1v1h1v-1h4v-1.5h1v-.5h1v-.5h1v.5h1v-2h1v2h1v.5h1v-3.5h2v2h1v1h1v-1h2v-1h2v1h1v.5h2v1.5h1v-.5h1v.5h1v1h1v.5h1v-1h2v-.5h2v1.5h1v-.5h1v.5h2v-1h3v-.5h1v1h2v-.5h3v1h3v-1h4v.5h1v-.5h1v1h2v-1h1v-1h1v1h1v1h1v1h1v.5h1v.5h1v-.5h1v-.5h1v-.5h1v.5h1v.5h1v-1h1v.5h1v.5h1v-.5h2v.5h1v-.5h1v.5h3v-.5h2v-1.5h2v1h2v.5h1v-.5h1v-.5h2v1h2v-1h3v-.5h1v-2h2v1.5h1v.5h1v-1h2v-.5h2v-.5h1v.5h1v.5h1v1.5h1v-.5h1v.5h1v-2h2v2.5h1v.5h1v-.5h2v.5h2v1h1v-.5h1v-.5h1v.5h1v-.5h2v-1h1v-.5h1v1.5h1v-.5h1v-.5h1v.5h1v1h3v-.5h1v1h3v-1.5h1v-1.5h2v2h1v-.5h5v1h2v-.5h1v.5h1v-.5h1v1h1v-.5h3v.5h1v-.5h1v.5h1v-2h3v.5h1v-1h2v-1h2v2.5h1v.5h1v-1h1v-.5h1v1h2v-.5h1v-.5h1v1h1v-.5h1v.5h2v-1h3v.5h2v.5h1v-.5h1v1h3v-1h3v1h3v-.5h1v.5h4v.5h1v-2h1v-.5h1v1h1v-.5h1v1h1v-.5h1v-.5h1v.5h1v-2h2v.5h1v-1h2v-.5h1v1.5h1v-1h1v.5h2v.5h1v1h2v1h3v-1.5h2v1.5h1v1h1v-1h2v-.5h1v-.5h1v.5h1v1h1v.5h2v-2.5h2v1h2v-1.5h2v1.5h4v-1h2v1h1v.5h2v-.5h1v.5h2v.5h1v-.5h1v-.5h2v.5h1v-.5h1v1.5h2v-1h1v-.5h1v.5h1v.5h1v-1.5h2v.5h2v1h2v-1.5h2v-1.5h1v.5h1v2h2v-.5h2v-.5h1v1.5h3v-.5h1v-.5h1v1h2v-.5h2v-.5h1v.5h2v1h1v.5h1v-.5h1v-.5h2v-1h1v1h1v.5h1v-.5h1v-1h3v.5h1v1h5v.5h1v-.5h3v-.5h2v-.5h1v-2h1v.5h1v1h1v.5h1v-.5h1v.5h3v-.5h1v.5h5v-.5h2v-.5h1v.5h1v1.5h1v-.5h2v.5h1v-2h1v-.5h1v1h1v.5h2v.5h2v.5h1v-.5h2v-2.5h1v.5h1v.5h1v.5h1v.5h2v.5h2v.5h1v.5z" fill="#27359b"/>
<line x1="217" y1="1740.4" x2="1095.8" y2="1740.4" stroke="#3347a8" stroke-width="1.1" />
<text x="213.2" y="1764.9" font-size="13.2" font-weight="bold" fill="#1f1535" text-anchor="end">H3K27ac</text>
<text x="219.6" y="1746.3" font-size="5.1" fill="#222">[0 - 40]</text>
<path d="M217,1768.3v-1h1v.5h4v-.5h4v.5h4v-.5h1v.5h1v-.5h1v.5h5v-.5h1v.5h18v-.5h1v.5h1v-.5h1v.5h3v-.5h2v.5h3v-.5h6v.5h3v-.5h3v.5h2v-.5h2v.5h7v-.5h1v.5h4v-.5h9v.5h3v-.5h2v.5h1v-.5h4v.5h2v-.5h9v.5h2v-.5h5v.5h1v-.5h4v.5h1v-.5h1v.5h8v-.5h4v.5h16v-.5h2v.5h3v-.5h7v.5h14v-.5h2v.5h2v-.5h16v.5h5v-.5h4v.5h2v-.5h1v.5h7v-.5h6v.5h11v-.5h2v.5h4v-.5h6v.5h1v-.5h6v.5h18v-.5h1v.5h1v-.5h2v.5h13v-.5h1v.5h6v-.5h1v.5h3v-.5h1v.5h2v-.5h1v.5h3v-.5h9v.5h13v-.5h4v.5h3v-.5h4v.5h1v-.5h1v.5h5v-.5h2v.5h1v-.5h9v.5h1v-.5h1v.5h8v-.5h10v.5h5v-.5h10v-.5h2v.5h3v.5h1v-.5h5v-.5h7v.5h3v-.5h2v-.5h1v.5h10v-.5h5v-.5h4v-1h1v-1.5h1v-1h1v.5h1v-.5h1v.5h1v-.5h1v-.5h1v-.5h2v3h1v1.5h1v-3h1v-2.5h2v.5h2v-1.5h2v1.5h1v2h1v-1h2v.5h1v-1.5h1v.5h1v-1.5h1v.5h1v.5h1v-1.5h1v-1h1v-1.5h3v-.5h1v.5h1v.5h1v-.5h1v-3h1v1.5h1v-1h1v.5h1v1h1v1.5h1v-.5h1v-.5h1v1.5h1v-.5h3v1h1v.5h1v1.5h1v-1.5h1v-1h1v.5h1v1h1v1h2v.5h1v-.5h2v-.5h1v.5h1v2h1v-1h1v-3h1v.5h2v1.5h2v-1h1v1.5h1v-1h1v-.5h1v-1.5h1v-.5h1v.5h1v.5h1v-.5h1v2.5h1v.5h3v-2.5h1v-1.5h1v-1h1v2.5h1v1h1v-1h1v.5h1v.5h1v.5h1v-1h1v-2h1v-1h1v-3.5h1v-4h1v2.5h1v4h1v-1.5h1v-.5h1v2.5h1v-1.5h2v.5h1v-1h1v-.5h1v-2h1v-4h1v2.5h1v-.5h2v3.5h1v1h1v2h1v-.5h1v-2.5h1v1h1v-4.5h1v-.5h1v.5h1v-.5h2v1.5h1v-.5h1v3.5h1v4h3v.5h2v1h1v1.5h2v1.5h2v1.5h1v-1h1v.5h2v1h1v-.5h3v.5h1v1h1v-.5h1v1h1v-1.5h1v-.5h2v1h1v1.5h1v-1h1v-1h2v.5h2v.5h2v.5h1v-1h2v-.5h1v-.5h2v-.5h1v1h1v1.5h1v.5h2v.5h2v-.5h7v.5h1v-.5h3v.5h2v.5h2v-.5h6v.5h1v-.5h2v.5h2v-.5h1v.5h3v-.5h3v-.5h3v.5h3v.5h2v-.5h6v.5h4v-.5h4v.5h2v-.5h2v-.5h1v.5h3v-.5h5v.5h1v-.5h2v.5h1v1h2v-.5h2v-.5h2v-.5h3v.5h1v.5h1v-.5h1v.5h8v-.5h5v-.5h1v.5h1v-.5h5v.5h5v-.5h1v.5h6v-.5h1v-.5h1v.5h1v.5h2v-.5h2v.5h3v-.5h1v.5h1v1h1v-.5h3v-.5h2v.5h1v.5h6v-.5h1v.5h1v-.5h1v.5h2v-.5h1v-.5h2v.5h5v-.5h1v.5h1v.5h2v-.5h8v.5h2v-.5h2v-.5h4v.5h1v-.5h7v.5h1v-.5h1v-.5h3v.5h4v.5h3v.5h1v-.5h1v-.5h10v.5h3v-.5h1v.5h6v-.5h1v.5h1v-.5h3v.5h1v.5h1v-.5h1v-.5h1v.5h3v-.5h1v-.5h1v.5h1v.5h2v.5h1v-.5h7v-.5h3v-.5h2v.5h10v.5h2v.5h2v-.5h1v.5h1v-.5h1v-.5h2v.5h1v-.5h2v.5h2v2z" fill="#27359b"/>
<line x1="217" y1="1768.3" x2="1095.8" y2="1768.3" stroke="#3347a8" stroke-width="1.1" />
<text x="213.2" y="1793.2" font-size="13.2" font-weight="bold" fill="#1f1535" text-anchor="end">H3K4me3</text>
<text x="219.6" y="1774.2" font-size="5.1" fill="#222">[0 - 50]</text>
<path d="M217,1795.4v-.5h21v.5h4v-.5h3v.5h1v-.5h17v.5h4v-.5h34v.5h6v-.5h11v-.5h2v.5h6v.5h2v-.5h69v.5h1v-.5h24v.5h2v-.5h12v.5h2v-.5h36v.5h1v-.5h20v.5h3v-.5h4v.5h1v-.5h31v.5h1v-.5h11v.5h1v-.5h67v-.5h4v-.5h1v-.5h3v-.5h1v-1h1v.5h1v-.5h1v.5h1v-.5h2v.5h1v.5h1v-1h1v-.5h1v.5h1v1h1v.5h1v-.5h1v-1h1v1h2v-.5h2v-.5h3v-.5h1v-1h1v-.5h2v-1h1v-1h2v.5h3v.5h1v-.5h1v.5h3v.5h1v-.5h1v-1.5h2v1h1v1.5h1v.5h1v.5h1v-.5h1v-1.5h1v-1h1v.5h2v.5h2v-.5h2v.5h1v.5h2v-1h3v1h2v-1h1v-.5h1v-.5h2v.5h1v-.5h1v.5h4v-.5h1v-.5h1v2h1v.5h1v-1h2v-1h1v-.5h1v1h2v.5h1v-.5h4v.5h1v-1.5h1v-.5h1v1h1v1h1v-1.5h1v-1h2v1.5h1v.5h1v-1.5h1v-2h1v-.5h1v1.5h1v-.5h1v-.5h1v1h1v-1h1v-1.5h3v-1h1v1h1v1h1v-.5h1v-.5h1v-1h1v1.5h1v-1.5h1v-5h1v-2.5h1v2.5h1v1h2v-2h1v-1h1v2h1v.5h1v-2.5h1v-1.5h1v2h1v4h1v1h1v1h1v1.5h1v2h1v2h1v-2h2v-2.5h1v-1h1v-1.5h1v-2h1v-.5h1v-2.5h1v-1.5h1v1.5h1v1h1v1.5h1v1h1v.5h1v.5h1v.5h1v.5h2v1.5h1v1h1v1.5h1v.5h2v1h1v.5h1v.5h1v-.5h1v-1h1v.5h1v1h1v1h1v.5h1v.5h1v-.5h1v.5h2v.5h2v1h3v.5h3v.5h2v.5h2v.5h4v1h7v.5h2v-.5h1v.5h2v.5h1v-.5h6v.5h2v-.5h2v.5h6v-.5h1v.5h1v-.5h4v.5h2v-.5h2v.5h1v-.5h5v.5h12v-.5h1v.5h17v.5h1v-.5h2v.5h1v-.5h4v.5h1v-.5h36v.5h1v-.5h8v.5h2v-.5h1v.5h1v-.5h5v.5h1v-.5h6v.5h2v-.5h1v.5h1v-.5h5v.5h3v-.5h26v.5h1v-.5h31v.5h3v-.5h17v.5h6v-.5h1v.5h1v-.5h12v.5h1v-.5h3v.5h10v-.5h2v.5h1v-.5h3v.5h5v-.5h7v1z" fill="#27359b"/>
<line x1="217" y1="1795.4" x2="1095.8" y2="1795.4" stroke="#3347a8" stroke-width="1.1" />
<text x="213.2" y="1819.9" font-size="13.2" font-weight="bold" fill="#1f1535" text-anchor="end">H3K4me1</text>
<text x="219.6" y="1801.3" font-size="5.1" fill="#222">[0 - 10.00]</text>
<path d="M217,1822.1v-.5h1v-.5h1v-.5h1v-1h1v-1h2v2.5h3v-1h1v.5h1v-.5h3v-.5h1v1h1v.5h2v-1.5h1v.5h1v.5h1v.5h3v-1h1v-.5h1v-.5h2v1h2v.5h1v1h1v-.5h1v-.5h5v-1h4v1h4v.5h2v-1h2v.5h1v.5h1v-.5h1v-.5h1v1h2v-1h1v.5h3v-1h1v.5h2v.5h2v.5h1v-1.5h3v.5h2v.5h1v-.5h2v.5h1v-.5h3v-1h1v-1h1v.5h3v1h1v-1.5h1v-.5h1v1h1v.5h1v1h1v.5h1v-1h1v.5h1v-.5h1v1h1v1h2v-1h1v-.5h2v1.5h3v-1h2v-.5h2v-.5h2v1.5h2v-.5h1v-.5h3v-.5h1v.5h1v1h2v-1.5h2v1.5h3v-1h6v-.5h1v.5h4v1h1v-.5h3v.5h4v.5h1v-.5h1v-1h1v-.5h1v.5h1v1h1v-1h2v.5h1v-.5h2v-1h1v.5h2v1h1v-.5h3v-1h2v2h2v-1h2v1.5h2v-1h1v.5h1v-1h1v-.5h1v1h1v-.5h1v.5h1v-.5h3v-.5h2v.5h1v.5h2v.5h1v-1h1v-2h1v-1h1v.5h1v-1h1v2h1v-.5h1v-.5h1v.5h2v-1h3v.5h1v.5h2v-.5h1v-1.5h1v.5h2v-1h2v1h1v1h3v.5h1v-.5h1v.5h1v-2.5h1v.5h1v-1h1v3h1v.5h1v-1.5h1v.5h1v1h1v-.5h1v1h2v-1h1v-.5h1v-.5h2v1h1v-.5h1v.5h4v-.5h1v.5h1v-.5h1v-1h1v1h2v1h1v.5h1v.5h1v-1.5h1v-.5h1v1.5h1v-2.5h6v2h1v-.5h1v-.5h3v.5h1v-.5h2v.5h1v-.5h1v2.5h1v2h1v-1h1v-1.5h1v-1.5h1v-.5h3v-1.5h1v1h1v1.5h2v-.5h2v-.5h1v-.5h1v1.5h1v-.5h1v-.5h1v.5h1v-1h3v2.5h1v-.5h1v-.5h1v-1h3v1h1v.5h1v-.5h4v.5h1v.5h1v-1h1v-1.5h2v1h1v1.5h2v-.5h1v-.5h1v.5h1v-.5h6v-.5h1v-2h1v1h1v-.5h1v-1h2v1.5h2v-.5h1v-.5h1v2h2v.5h1v.5h1v-2h1v.5h1v1h1v.5h2v-.5h1v-.5h2v-1h3v-1.5h1v.5h2v3h1v1h1v-.5h2v.5h1v-.5h1v-.5h3v-1h1v-.5h1v-.5h1v1.5h1v-.5h1v-1h1v.5h1v.5h1v1h1v.5h1v.5h1v-.5h1v-1.5h1v.5h1v-1h1v2h1v-1h1v.5h1v-1.5h2v.5h2v-.5h1v.5h1v.5h1v-2.5h1v.5h1v1.5h2v.5h1v.5h1v-1h2v.5h1v-.5h3v-1h1v1h2v.5h1v-.5h1v1.5h1v1h1v1h1v-1h2v1.5h2v-.5h4v-.5h2v1h6v-.5h6v.5h4v-1h2v1h6v-.5h2v-1h1v-2h1v-1h1v.5h3v-.5h1v.5h2v-2.5h1v-.5h2v.5h3v2h1v.5h2v-.5h2v-1h1v1h1v.5h2v-2.5h1v1h1v-1h4v-.5h1v-.5h2v1h1v-.5h1v.5h1v.5h1v-.5h1v1h1v-.5h1v-1h1v.5h1v1h1v-.5h1v1h2v1h1v-1.5h1v-1h1v1h1v-.5h1v2h1v-.5h3v-.5h1v-.5h1v-.5h1v1.5h1v-.5h1v-.5h1v-.5h1v.5h3v.5h1v.5h1v.5h1v-.5h1v-1h1v-.5h2v.5h1v.5h1v.5h1v-1h1v-.5h1v.5h1v1.5h2v-.5h1v.5h2v.5h2v.5h2v-.5h3v-2.5h2v-.5h1v1h1v.5h2v1.5h1v-1h2v-2.5h2v-.5h1v1h1v1h2v-.5h1v-.5h2v1h1v1.5h1v1h1v1.5h1v.5h1v-1h1v-4h2v1.5h1v-2.5h1v-.5h2v1.5h1v-.5h1v1h2v-1h1v.5h1v2h1v-.5h1v.5h1v-1h1v-1h2v1.5h1v-.5h1v-1h2v1.5h1v-.5h1v.5h3v1.5h1v-.5h2v-2h4v1h1v1h1v2.5h1v.5h1v-2h1v-1.5h1v-1.5h1v.5h1v-1.5h2v-1.5h1v1.5h1v-3h1v1h1v.5h1v-1.5h1v2h1v1.5h1v-1h2v.5h1v-.5h1v1.5h1v-1.5h1v.5h1v.5h1v.5h1v.5h1v-.5h2v.5h1v1.5h1v1.5h1v2h1v-1.5h1v-.5h1v-.5h1v-.5h1v-1.5h1v-1h1v.5h1v-3.5h1v.5h3v-.5h1v1h1v-1h1v1.5h1v-.5h1v-.5h2v-.5h2v.5h1v-2h1v1.5h1v-1h1v-2.5h1v-.5h1v-.5h1v2h4v2h2v1h1v1.5h3v1h1v-.5h1v-.5h2v-.5h1v-.5h1v-1h2v.5h1v-1h1v-.5h2v-2.5h1v1.5h1v-1.5h1v2.5h1v.5h1v-1h1v2h1v-1.5h1v2h1v.5h3v-.5h1v.5h1v.5h1v-.5h1v.5h1v-1.5h1v3h2v.5h1v-4.5h2v-.5h1v3h1v-1h1v1h1v-1h1v-.5h5v.5h1v.5h1v-.5h1v1h1v.5h1v-1h2v-.5h1v.5h1v-.5h1v-.5h1v-1.5h1v-.5h1v-1.5h1v1h1v-1.5h1v1h1v-.5h1v-2.5h1v.5h1v-.5h1v2.5h1v2h1v.5h1v-.5h1v1h1v-.5h1v3.5h1v-.5h1v-.5h3v.5h1v-1.5h1v-1h1v.5h1v-.5h1v-.5h1v1h1v1.5h1v-.5h1v.5h1v-2.5h2v.5h1v-1h3v4h3v-3h1v-1.5h1v-.5h1v2.5h1v1h1v-.5h1v-2h1v-.5h1v1h1v-.5h1v1h1v-1h1v1.5h1v.5h2v2h3v-1h1v-1.5h2v1h1v.5h1v-.5h1v1.5h2v-.5h1v-1.5h1v1h1v-.5h1v-1h4v3h1v2h1v3h1v-2.5h1v-1.5h1v-2h1v-.5h1v1.5h2v-.5h1v.5h1v-.5h1v-.5h1v.5h2v1h2v-1h1v.5h1v1h1v-.5h1v-1h1v.5h1v.5h1v.5h2v.5h1v-.5h1v-.5h1v1h3v.5h2v-.5h1v.5h1v.5h1v-.5h1v-1.5h1v.5h2v-1h3v2h1v.5h2v-4h2v.5h1v1h2v.5h1v-1h1v.5h1v-.5h1v1h1v-.5h1v1h1v1h2v-1h1v-2.5h1v.5h2v3.5h1v.5h1v-.5h1v-1.5h1v-.5h2v-1h2v-.5h1v.5h1v.5h1v.5h1v1h2v.5h2v-1.5h2v-1h1v-.5h1v-.5h1v2.5h2v-.5h1v-1h1v1h1v-.5h1v.5h3v1h1v1h1v1h1v1.5z" fill="#27359b"/>
<line x1="217" y1="1822.1" x2="1095.8" y2="1822.1" stroke="#3347a8" stroke-width="1.1" />
<text x="219.6" y="1582.6" font-family="Liberation Sans, sans-serif" font-size="5.1" fill="#444" clip-path="inset(0 0 3.0px 0)">[0 - 10.00]</text>
<line x1="217" y1="1866.7" x2="1095.8" y2="1866.7" stroke="#9a9a9c" stroke-width="0.8" />
<line x1="218.9" y1="1875.6" x2="319.2" y2="1875.6" stroke="#2d3fa6" stroke-width="0.8" />
<rect x="218.2" y="1871.6" width="1.6" height="8" fill="#2d3fa6" />
<rect x="317.8" y="1871.6" width="2.4" height="8" fill="#2d3fa6" />
<line x1="316.4" y1="1873.1" x2="316.4" y2="1878.1" stroke="#2d3fa6" stroke-width="0.8" />
<line x1="521.6" y1="1875.6" x2="783" y2="1875.6" stroke="#2d3fa6" stroke-width="0.8" />
<rect x="520.4" y="1872.6" width="3.2" height="6" fill="#2d3fa6" />
<line x1="575.3" y1="1870.6" x2="575.3" y2="1880.6" stroke="#2d3fa6" stroke-width="1.2" />
<line x1="626.9" y1="1870.6" x2="626.9" y2="1880.6" stroke="#2d3fa6" stroke-width="1.2" />
<rect x="640.6" y="1871.6" width="3.4" height="8" fill="#2d3fa6" />
<path d="M640.6,1875.6l-3,-3v6z" fill="#2d3fa6"/>
<line x1="653.5" y1="1873" x2="653.5" y2="1878.2" stroke="#2d3fa6" stroke-width="0.9" />
<line x1="657" y1="1873" x2="657" y2="1878.2" stroke="#2d3fa6" stroke-width="0.9" />
<line x1="675.2" y1="1873" x2="675.2" y2="1878.2" stroke="#2d3fa6" stroke-width="0.9" />
<line x1="677.5" y1="1873" x2="677.5" y2="1878.2" stroke="#2d3fa6" stroke-width="0.9" />
<rect x="741.3" y="1873" width="13" height="5.2" fill="#2d3fa6" />
<rect x="759.9" y="1871.6" width="6.3" height="8" fill="#2d3fa6" />
<rect x="779.2" y="1872.6" width="2.4" height="6" fill="#2d3fa6" />
<line x1="795" y1="1875.6" x2="1095.8" y2="1875.6" stroke="#2d3fa6" stroke-width="0.8" />
<path d="M238,1875.6l2.2,-1.5v3zM259,1875.6l2.2,-1.5v3zM280,1875.6l2.2,-1.5v3zM300,1875.6l2.2,-1.5v3zM541,1875.6l2.2,-1.5v3zM562,1875.6l2.2,-1.5v3zM592,1875.6l2.2,-1.5v3zM611,1875.6l2.2,-1.5v3zM665,1875.6l2.2,-1.5v3zM686,1875.6l2.2,-1.5v3zM697,1875.6l2.2,-1.5v3zM707,1875.6l2.2,-1.5v3zM718,1875.6l2.2,-1.5v3zM728,1875.6l2.2,-1.5v3zM771,1875.6l2.2,-1.5v3zM799.2,1875.6l-2.2,-1.5v3zM819.8,1875.6l-2.2,-1.5v3zM840.3,1875.6l-2.2,-1.5v3zM860.8,1875.6l-2.2,-1.5v3zM881.4,1875.6l-2.2,-1.5v3zM901.9,1875.6l-2.2,-1.5v3zM922.5,1875.6l-2.2,-1.5v3zM943,1875.6l-2.2,-1.5v3zM963.6,1875.6l-2.2,-1.5v3zM984.1,1875.6l-2.2,-1.5v3zM1004.7,1875.6l-2.2,-1.5v3zM1025.2,1875.6l-2.2,-1.5v3zM1045.8,1875.6l-2.2,-1.5v3zM1066.3,1875.6l-2.2,-1.5v3zM1086.9,1875.6l-2.2,-1.5v3z" fill="#2d3fa6"/>
<text x="268.3" y="1894.4" font-size="6.4" fill="#111" text-anchor="middle">MGARP</text>
<text x="636.2" y="1894.4" font-size="6.4" fill="#111" text-anchor="middle">NDUFC1</text>
<text x="1014.3" y="1894.4" font-size="6.4" fill="#111" text-anchor="middle">NAA15</text>
<ellipse cx="699.2" cy="1788.3" rx="58.1" ry="42.7" fill="none" stroke="#e2777a" stroke-width="1.6"/>
<text x="142.8" y="1947.7" font-size="22.2" font-weight="bold" fill="#b23a96">PDX_A</text>
<rect x="223.6" y="1964.3" width="868.1" height="274" fill="#f6f4f5" />
<rect x="594.6" y="2009.3" width="446" height="114.7" fill="rgba(246,232,160,0.50)" />
<text x="218" y="1997.4" font-size="22" font-weight="bold" fill="#1f1535" text-anchor="end">Input</text>
<text x="228.2" y="1975.6" font-size="7.0" fill="#222">[0 - 10.00]</text>
<path d="M223.6,2004.3v-1.6h1.5l1.5-.2l1.5,.2h1.5l1.5-.2l1.5,.1l1.5-.3l1.5-.4l1.5,.2l1.5,.1l1.5-.3l1.5-.3l1.5-.2l1.5-.1h1.5l1.5,.2l1.5,.2l1.5,.3l1.5,.2l1.5,.2l1.5,.1l1.5,.1l1.5,.2h1.5l1.5,.1h1.5h1.5l1.5-.1l1.5-.1l1.5,.2l1.5-.2l1.5-.1l1.5,.1l1.5,.1l1.5-.2h1.5l1.5-.3l1.5-.2l1.5-.1h1.5l1.5-.5l1.5-.4h1.5l1.5-.3l1.5,.3l1.5,.2l1.5,.2l1.5,.3l1.5-.2l1.5,.1l1.5,.5l1.5,.4l1.5,.4l1.5,.5l1.5-.5l1.5-.3l1.5-.4l1.5-.3l1.5-.4l1.5,.1l1.5,.1l1.5,.2l1.5,.2l1.5,.2l1.5,.2l1.5-.1l1.5,.2l1.5,.2l1.5,.1l1.5,.4l1.5,.2l1.5,.2l1.5-.3l1.5-.3h1.5h1.5h1.5l1.5,.1l1.5-.1h1.5l1.5-.4l1.5-.4l1.5-.2l1.5-.1l1.5-.1l1.5,.1l1.5,.2l1.5,.4l1.5-.2l1.5-.1l1.5,.1l1.5-.3l1.5-.2l1.5-.4l1.5,.1l1.5-.1h1.5l1.5,.2h1.5l1.5,.4l1.5,.3l1.5,.2l1.5-.2l1.5-.1l1.5,.1l1.5,.2l1.5,.1l1.5,.1l1.5,.1l1.5-.1h1.5h1.5l1.5,.1h1.5l1.5,.1l1.5-.1h1.5l1.5-.1l1.5-.2l1.5-.2h1.5h1.5l1.5-.1l1.5,.1l1.5,.1l1.5,.1h1.5l1.5,.1l1.5-.1l1.5-.2l1.5,.2l1.5,.2l1.5,.1l1.5-.1h1.5h1.5l1.5,.2h1.5l1.5,.2l1.5-.1l1.5-.1l1.5,.1l1.5-.2l1.5-.3l1.5,.2l1.5,.3l1.5,.2h1.5l1.5-.1l1.5,.1l1.5,.1l1.5-.1h1.5l1.5,.1l1.5-.3l1.5-.3l1.5-.1l1.5-.3l1.5,.3l1.5,.3l1.5-.1h1.5l1.5-.1l1.5-.4h1.5l1.5-.3l1.5-.2h1.5l1.5-.1l1.5,.2l1.5,.2l1.5,.1l1.5-.1l1.5,.2h1.5l1.5,.2h1.5l1.5,.1l1.5,.1h1.5l1.5,.1l1.5-.1l1.5,.2l1.5-.1l1.5-.1l1.5-.2l1.5-.1l1.5-.2l1.5-.3l1.5-.5l1.5,.2l1.5,.2l1.5,.1l1.5,.2l1.5-.1h1.5l1.5,.2h1.5l1.5,.2l1.5,.2l1.5,.1h1.5l1.5,.3h1.5l1.5,.2h1.5l1.5,.1h1.5h1.5l1.5,.1l1.5,.1l1.5,.1l1.5-.2l1.5-.2l1.5,.1h1.5h1.5h1.5h1.5l1.5,.1h1.5l1.5-.1h1.5l1.5-.1l1.5,.2l1.5,.1h1.5h1.5l1.5-.1h1.5l1.5-.2l1.5-.1l1.5,.1l1.5,.1l1.5-.3l1.5-.3l1.5,.1l1.5,.1h1.5h1.5h1.5h1.5l1.5-.2l1.5-.2h1.5l1.5,.2l1.5-.1l1.5-.4l1.5,.3l1.5,.3l1.5-.1l1.5-.2l1.5,.3l1.5,.1l1.5-.3l1.5-.3l1.5,.1l1.5-.2l1.5-.5l1.5-.6l1.5-.1h1.5l1.5-.1l1.5-.2l1.5-.7l1.5-.3l1.5,.5l1.5,.4l1.5,.1h1.5h1.5l1.5-.1l1.5-.6l1.5-.3l1.5-.3h1.5l1.5,.4l1.5,.7l1.5,1l1.5,1.1l1.5,.7l1.5,.2l1.5,.2l1.5,.1l1.5-.6l1.5-.6l1.5-.6l1.5-.2l1.5-.1l1.5,.1l1.5,.3l1.5,.1l1.5,.2l1.5-.1l1.5,.2l1.5,.3l1.5,.2l1.5,.1l1.5-.1l1.5,.1l1.5-.1l1.5-.4l1.5-.5l1.5-.5l1.5-.6l1.5-.3l1.5,.1l1.5,.1l1.5,.9l1.5,.8h1.5l1.5-.1h1.5l1.5,.2l1.5-.3l1.5-.1l1.5,.1l1.5,.1l1.5-.1h1.5l1.5-.2l1.5-.2l1.5-.5l1.5-.3l1.5,.1h1.5l1.5,.5l1.5,.5h1.5h1.5h1.5l1.5,.2l1.5-.3h1.5l1.5,.5l1.5,.3l1.5,.1l1.5,.1l1.5,.2h1.5l1.5,.2h1.5l1.5,.1l1.5-.1l1.5-.6l1.5-.3l1.5-.5l1.5-.3h1.5l1.5-.2l1.5,.2l1.5-.3l1.5,.3l1.5-.2l1.5-.4l1.5-.6l1.5-.5l1.5-.4l1.5-.2l1.5-.1l1.5,.1l1.5,.7l1.5,.5l1.5,.5l1.5,.5h1.5l1.5-.6l1.5-.2l1.5,.1l1.5,.1l1.5-.3l1.5-.4l1.5,.2l1.5,.3l1.5,.2l1.5,.3l1.5-.1l1.5-.2l1.5,.2l1.5,.3l1.5,.2h1.5l1.5,.4l1.5,.1l1.5-.1l1.5,.2l1.5,.3l1.5,.3l1.5,.1l1.5,.1h1.5l1.5-.3l1.5-.3l1.5-.8l1.5-.1l1.5-.2l1.5-.5l1.5-.2l1.5-.5l1.5-.2l1.5,.2l1.5,.3l1.5-.6l1.5-.3l1.5,.4l1.5,.4l1.5-.1l1.5-.3l1.5,.4l1.5,.2l1.5-.1l1.5-.3h1.5l1.5,.5l1.5-.1l1.5-.3l1.5-.7l1.5-.7l1.5-.2l1.5-.1l1.5,.3l1.5,.2l1.5,.4l1.5,.4l1.5,.8l1.5,.5l1.5,.2l1.5,.3l1.5,.4l1.5,.3l1.5,.6l1.5,.3l1.5,.3l1.5-.1l1.5-.6l1.5-.2l1.5-.1l1.5-.1l1.5-.3l1.5-.6l1.5,.1h1.5l1.5-.7l1.5-1h1.5l1.5,.2l1.5-.5l1.5-1l1.5,.1h1.5l1.5-.3h1.5h1.5l1.5-.1l1.5,.2l1.5-.1l1.5,.2l1.5-.8l1.5-.2l1.5-.6h1.5h1.5l1.5-.1l1.5-.5l1.5-.4l1.5,.3l1.5-.1l1.5,.2l1.5,.2l1.5,.5l1.5,.8l1.5,.3l1.5,.8l1.5,.2l1.5-.3l1.5-.7l1.5,.1l1.5-.4l1.5-.4l1.5-.5l1.5,.3l1.5,.5l1.5,.7l1.5,.9l1.5,.3l1.5,.1l1.5,.1l1.5,.2l1.5-.5l1.5-.5l1.5-.2l1.5-.2l1.5,.2l1.5,.1h1.5h1.5l1.5-.4l1.5-.1h1.5l1.5,.1l1.5,.4l1.5,.5l1.5,.4l1.5,.2l1.5,.1l1.5,.1l1.5-.3l1.5-.3l1.5-.2l1.5-.2l1.5,.4l1.5,.3l1.5,.3l1.5,.1l1.5,.6l1.5,.4l1.5,.1h1.5l1.5-.7l1.5-.3l1.5-.3l1.5-.1l1.5,.4l1.5,.3l1.5-.1l1.5,.3l1.5,.3l1.5,.3h1.5h1.5l1.5-.1l1.5-.2l1.5-.4l1.5-.4l1.5,.1l1.5,.2h1.5l1.5,.1l1.5-.2h1.5l1.5-.2l1.5,.3l1.5-.3l1.5-.2l1.5,.1l1.5,.1l1.5-.1l1.5-.5l1.5-.1l1.5-.2l1.5-.2l1.5,.1l1.5-.1l1.5-.1l1.5,.5l1.5,.5h1.5l1.5-.3l1.5,.2l1.5,.5l1.5,.1h1.5l1.5-.1h1.5l1.5,.2l1.5,.2h1.5l1.5-.1l1.5,.1l1.5,.3l1.5,.3l1.5,.5l1.5,.1l1.5,.2l1.5,.4l1.5,.1l1.5-.5l1.5-.8v2.1z" fill="#27359b"/>
<text x="218" y="2038.2" font-size="22" font-weight="bold" fill="#1f1535" text-anchor="end">H3K27ac</text>
<text x="228.2" y="2014.1" font-size="7.0" fill="#222">[0 - 40]</text>
<path d="M223.6,2043.3v-.5h1.5h1.5h1.5h1.5h1.5l1.5-.1h1.5h1.5h1.5h1.5h1.5h1.5h1.5h1.5h1.5h1.5h1.5h1.5h1.5h1.5l1.5-.1h1.5h1.5h1.5h1.5h1.5h1.5h1.5h1.5h1.5h1.5h1.5l1.5-.1h1.5h1.5l1.5,.1h1.5h1.5h1.5l1.5-.1h1.5h1.5h1.5h1.5h1.5h1.5h1.5h1.5h1.5h1.5h1.5h1.5l1.5-.1l1.5,.1h1.5h1.5h1.5h1.5h1.5h1.5h1.5h1.5h1.5h1.5h1.5h1.5h1.5h1.5h1.5h1.5h1.5h1.5h1.5h1.5h1.5h1.5h1.5h1.5h1.5h1.5h1.5h1.5h1.5h1.5h1.5h1.5l1.5-.1h1.5l1.5,.1h1.5h1.5h1.5l1.5,.1h1.5h1.5l1.5-.1h1.5l1.5,.1h1.5h1.5l1.5-.1l1.5,.1h1.5h1.5h1.5h1.5h1.5l1.5-.1h1.5l1.5,.1h1.5h1.5h1.5h1.5h1.5h1.5h1.5h1.5h1.5h1.5h1.5h1.5h1.5h1.5h1.5h1.5h1.5h1.5h1.5l1.5-.1l1.5,.1h1.5h1.5h1.5h1.5h1.5h1.5h1.5h1.5h1.5h1.5h1.5h1.5h1.5h1.5h1.5l1.5-.1h1.5h1.5h1.5h1.5l1.5,.1h1.5h1.5h1.5h1.5h1.5h1.5h1.5l1.5-.1h1.5l1.5,.1l1.5-.1l1.5,.1h1.5l1.5-.1h1.5l1.5,.1l1.5-.1h1.5h1.5h1.5h1.5h1.5h1.5h1.5l1.5,.1h1.5h1.5h1.5h1.5h1.5h1.5h1.5l1.5-.1h1.5h1.5h1.5h1.5h1.5l1.5-.1h1.5l1.5-.1h1.5h1.5h1.5l1.5-.1h1.5h1.5h1.5h1.5h1.5h1.5h1.5h1.5h1.5l1.5-.1h1.5h1.5h1.5h1.5l1.5-.1l1.5-.1h1.5l1.5-.1h1.5h1.5h1.5l1.5-.1h1.5l1.5-.1l1.5-.1h1.5h1.5h1.5h1.5l1.5,.1h1.5h1.5h1.5l1.5,.1h1.5h1.5h1.5h1.5h1.5l1.5,.1l1.5-.1l1.5-.2l1.5-.2l1.5-.3h1.5l1.5-.2l1.5-.8l1.5-.7l1.5-.7l1.5-.6l1.5-.7l1.5-.4l1.5-.6l1.5-.5l1.5-.4l1.5-.5l1.5-.5l1.5-.5l1.5-.5l1.5-.1l1.5-.5l1.5-.3l1.5-.2l1.5,.4l1.5-.2l1.5-.2l1.5,.4l1.5-.5l1.5-.1h1.5l1.5,.1l1.5-.2l1.5,.3l1.5-.1l1.5-.3l1.5-.4h1.5l1.5,.3l1.5,.6l1.5,.2l1.5-.2l1.5,.2l1.5,.2l1.5-.2l1.5,.1l1.5-.5l1.5,.2h1.5h1.5h1.5l1.5,.1l1.5,.1h1.5l1.5,.6l1.5-.1l1.5-.1l1.5-.2l1.5-.1l1.5-.2l1.5-.1l1.5-.1h1.5l1.5-.2l1.5-.2l1.5,.4l1.5-.3l1.5,.1l1.5-.2l1.5-.2l1.5-.3l1.5-.3l1.5-.2l1.5,.2h1.5l1.5,.1l1.5,.3l1.5,.2l1.5-.2l1.5-.8l1.5-.8l1.5,.3l1.5-.2l1.5-.3h1.5l1.5-.7l1.5-.2l1.5-.6h1.5l1.5-.5l1.5-.6l1.5,.6l1.5,.3l1.5,.3l1.5,.4l1.5-.3l1.5-.1l1.5,.2l1.5,.6h1.5l1.5,.4l1.5,.7l1.5-.3l1.5,.8l1.5,.5l1.5,.2l1.5-.1h1.5l1.5-.6l1.5,.3l1.5-.2l1.5-.2l1.5-.2l1.5,.3l1.5-.3h1.5l1.5-.1l1.5-.6l1.5,.2l1.5,.7l1.5,1l1.5,.3l1.5-.4l1.5-.8l1.5-.2l1.5,.3l1.5,.1l1.5-.1h1.5l1.5,.1h1.5h1.5l1.5-.1h1.5l1.5,.3l1.5,.4h1.5l1.5-.2l1.5,.1l1.5,.1l1.5-.3l1.5,.1l1.5,.2l1.5-.3l1.5,.3l1.5,.3h1.5l1.5-.3l1.5,.3l1.5-.6l1.5-.1l1.5,.1l1.5-.2l1.5-.3l1.5-.2l1.5-.1l1.5-.2l1.5,.4l1.5,.4l1.5-.1l1.5-.2h1.5l1.5,.1l1.5-.2l1.5-.3h1.5h1.5l1.5-.4l1.5,.1l1.5-.4l1.5,.4l1.5-.1l1.5-.1l1.5,.3l1.5-.1l1.5-.3h1.5l1.5-.6l1.5-.3l1.5-.4l1.5-.7l1.5-.2l1.5-.4l1.5,.1l1.5-.1h1.5l1.5-.1l1.5-.2l1.5-.5h1.5l1.5-.6l1.5-.2l1.5-1l1.5-.3l1.5-.3l1.5-.7l1.5-.5l1.5-.5h1.5l1.5-.2l1.5,.3l1.5,.7l1.5,.3l1.5,.3l1.5,.2l1.5,.6l1.5,.4l1.5,.3h1.5l1.5,.8l1.5,.5l1.5,.7l1.5-.2l1.5,.8l1.5,.1l1.5,.1l1.5-.5l1.5,.2l1.5-.4h1.5l1.5,.4l1.5-.5l1.5-1.1l1.5-1.2l1.5-.3l1.5-.2l1.5,.9l1.5-.8l1.5-.4l1.5-.9l1.5-.3l1.5-.3l1.5-.3l1.5-.4l1.5-.5l1.5,.7l1.5-.2l1.5-.6l1.5-.5l1.5-1.1l1.5,.1l1.5,1l1.5,.4l1.5-.7l1.5-1.2l1.5-.8l1.5-.7l1.5,1.9l1.5,.9l1.5,.8l1.5-.5l1.5,.4l1.5,.9l1.5,.3l1.5,1.5l1.5,.4l1.5,1.2l1.5,.6l1.5,1.5l1.5,.6l1.5,.5l1.5,.6l1.5,.4l1.5,.4l1.5,.1l1.5,1.1l1.5,.3l1.5,.4l1.5,.4l1.5,.3l1.5-.1l1.5,.4l1.5,.6l1.5,.5l1.5-.1l1.5-.3l1.5-.1l1.5,.2l1.5,.2h1.5l1.5,.3l1.5,.2h1.5h1.5l1.5,.4l1.5,.2l1.5,.1l1.5,.3l1.5-.2l1.5,.2l1.5-.1l1.5,.3l1.5,.1h1.5l1.5,.4h1.5l1.5,.1h1.5h1.5l1.5,.3l1.5,.1l1.5,.3h1.5l1.5,.2l1.5,.3l1.5,.1l1.5,.1h1.5h1.5l1.5-.2l1.5-.1h1.5l1.5,.2l1.5,.2h1.5l1.5,.1l1.5,.1l1.5,.1l1.5-.2l1.5-.1l1.5,.1l1.5-.2l1.5,.1l1.5-.4l1.5-.1l1.5-.2l1.5-.3l1.5-.1l1.5-.3l1.5-.1h1.5l1.5-.3l1.5-.3l1.5,.3h1.5l1.5,.2l1.5,.1l1.5,.6l1.5,.4l1.5,.1l1.5,.1l1.5,.2v5.6z" fill="#27359b"/>
<text x="218" y="2075.8" font-size="22" font-weight="bold" fill="#1f1535" text-anchor="end">H3K4me3</text>
<text x="228.2" y="2053.1" font-size="7.0" fill="#222">[0 - 50]</text>
<path d="M223.6,2081.7v-.3h1.5h1.5h1.5h1.5h1.5h1.5h1.5h1.5h1.5h1.5h1.5h1.5h1.5h1.5h1.5h1.5h1.5h1.5h1.5h1.5h1.5h1.5h1.5h1.5h1.5h1.5h1.5h1.5h1.5h1.5h1.5h1.5h1.5h1.5h1.5h1.5h1.5h1.5h1.5h1.5h1.5h1.5h1.5h1.5h1.5h1.5h1.5h1.5h1.5h1.5h1.5h1.5h1.5h1.5l1.5-.1h1.5h1.5h1.5h1.5l1.5,.1h1.5h1.5h1.5h1.5h1.5h1.5h1.5h1.5h1.5h1.5h1.5h1.5h1.5h1.5h1.5h1.5h1.5h1.5h1.5h1.5h1.5h1.5h1.5h1.5h1.5h1.5h1.5h1.5h1.5h1.5h1.5h1.5h1.5h1.5l1.5-.1h1.5h1.5l1.5,.1h1.5h1.5h1.5h1.5h1.5h1.5h1.5h1.5h1.5l1.5-.1h1.5l1.5,.1l1.5-.1l1.5,.1l1.5-.1l1.5,.1h1.5h1.5h1.5h1.5h1.5h1.5l1.5-.1h1.5h1.5h1.5h1.5h1.5h1.5h1.5h1.5h1.5h1.5h1.5h1.5h1.5h1.5h1.5h1.5h1.5h1.5h1.5h1.5h1.5h1.5h1.5h1.5h1.5h1.5h1.5h1.5h1.5h1.5h1.5h1.5h1.5h1.5h1.5h1.5h1.5h1.5h1.5h1.5h1.5h1.5h1.5h1.5h1.5h1.5h1.5h1.5h1.5h1.5h1.5h1.5h1.5h1.5h1.5h1.5h1.5h1.5h1.5h1.5h1.5h1.5h1.5h1.5h1.5h1.5h1.5h1.5h1.5h1.5h1.5h1.5h1.5h1.5h1.5h1.5h1.5h1.5h1.5h1.5h1.5l1.5-.3l1.5-.3l1.5-.4l1.5-.3l1.5-.3l1.5-.3l1.5-.3l1.5-.3l1.5-.2l1.5-.3l1.5-.3l1.5-.5h1.5l1.5,.1h1.5l1.5,.1h1.5l1.5-.1l1.5,.1h1.5l1.5,.1l1.5,.2l1.5,.1h1.5h1.5l1.5,.2l1.5,.2l1.5,.1h1.5l1.5,.1h1.5l1.5,.1l1.5,.1l1.5,.2l1.5,.1h1.5l1.5-.1l1.5-.1l1.5-.3l1.5-.1l1.5-.1l1.5-.8l1.5-.7l1.5-.6l1.5-.5l1.5-.5l1.5-.6l1.5-.7l1.5-.1h1.5l1.5-.4l1.5-.3l1.5-.2l1.5-.3l1.5-.1l1.5-.3l1.5-.2l1.5,.1l1.5,.1l1.5-.2l1.5,.5l1.5-.1l1.5,.1l1.5,.1h1.5l1.5,.2l1.5-.2h1.5h1.5l1.5-.4l1.5-.2l1.5-.1l1.5-.2l1.5-.1l1.5-.4l1.5,.4l1.5,.4h1.5l1.5-.2l1.5-.3l1.5-.4l1.5,.3l1.5,.5l1.5,.4h1.5l1.5-.6l1.5-.5h1.5l1.5,.3l1.5,.1h1.5l1.5,.4h1.5l1.5,.3l1.5,.2l1.5,.4h1.5h1.5l1.5,.1h1.5l1.5-.5l1.5-.6l1.5,.3l1.5-.4l1.5,.1l1.5,.2l1.5-.1l1.5,.5h1.5l1.5,.2l1.5-.1l1.5,.1l1.5,.2l1.5,.2l1.5,.5l1.5-.2l1.5-.1l1.5-.1h1.5l1.5,.4l1.5,.1l1.5,.3l1.5-.3h1.5l1.5,.1l1.5-.6l1.5-.1l1.5-.1h1.5l1.5,.4h1.5l1.5-.6l1.5-.3l1.5-.2l1.5,.1l1.5,.2l1.5-.1h1.5l1.5-.2l1.5-.3h1.5l1.5,.2l1.5-.2l1.5-.1l1.5,.1l1.5,.2l1.5-.3l1.5,.1l1.5-.3l1.5-.1l1.5,.1l1.5,.2l1.5-.2l1.5,.3l1.5,.2l1.5-.3l1.5-.5l1.5-.6l1.5-.6l1.5,.3l1.5,.2l1.5,.4l1.5,.1l1.5-.1l1.5-.4l1.5-.2l1.5-.3l1.5-.7l1.5-.4l1.5-.3l1.5-.2h1.5l1.5,.7l1.5,.3l1.5,.2l1.5,.2l1.5-.1l1.5,.1l1.5-.5l1.5-.3l1.5-.1l1.5,.3l1.5,.4l1.5,.3l1.5-.1l1.5,.3h1.5l1.5-.7l1.5-.4l1.5-.4l1.5,.1h1.5l1.5,.1l1.5-.2l1.5-.7l1.5-.7l1.5,.3l1.5-.2l1.5,.3l1.5-.1l1.5-.6l1.5-.6l1.5-.2h1.5l1.5-.1l1.5,.3l1.5-.1l1.5,.2l1.5,.1l1.5-.5l1.5-.4l1.5,.3l1.5-.9l1.5-1.1l1.5-.1l1.5-.7l1.5-.3l1.5,.2l1.5-1l1.5-.4l1.5-.3l1.5,.6l1.5-.2l1.5,.4l1.5-.6l1.5-.5l1.5-1l1.5-.7l1.5,.1l1.5-.6l1.5-.1l1.5,.6l1.5-.4l1.5-.3l1.5-.7l1.5-.3l1.5,.1l1.5-.4l1.5,.9l1.5,.6l1.5,.6l1.5,1.3l1.5,1.2l1.5,1.9l1.5,2.2l1.5,1.5l1.5,1h1.5l1.5,.2h1.5l1.5,.3l1.5-1.8l1.5-.8l1.5-1.7l1.5-1.8l1.5-1.2l1.5-1.6l1.5-1.2l1.5-1.2l1.5-.8l1.5-1l1.5-.7l1.5-.9l1.5,.4l1.5-.2l1.5,1l1.5,1.1l1.5,.1l1.5-.2l1.5-.5l1.5,.3l1.5,.6l1.5,1.2l1.5,1.1l1.5,.4l1.5-1.7l1.5-.4l1.5,.9l1.5-.4l1.5,.8l1.5,.3l1.5-.2l1.5,.4l1.5,.4l1.5,.5l1.5,.3l1.5,.5l1.5,.2l1.5,.8l1.5,.6l1.5,.9l1.5,.9l1.5,.5l1.5,.6l1.5,.3l1.5,.1l1.5-.2l1.5,.1l1.5-.2l1.5,.3l1.5,.1l1.5,.1l1.5,.7h1.5l1.5,.2l1.5,.3l1.5,.1l1.5,.6l1.5,.6l1.5,1.2h1.5l1.5,.5l1.5,.1l1.5,.1l1.5,.5l1.5-.1l1.5,.3l1.5,.2l1.5,.1l1.5-.2l1.5,.3l1.5-.1l1.5,.2l1.5,.2l1.5,.2l1.5,.8l1.5,.4l1.5,.4l1.5,.2l1.5,.3l1.5,.2l1.5,.3l1.5,.3l1.5,.3l1.5,.7l1.5,.3l1.5,.2l1.5,.1h1.5l1.5,.2l1.5,.2l1.5,.1l1.5,.2h1.5l1.5,.3l1.5,.1l1.5,.2l1.5,.1l1.5,.2l1.5-.1l1.5,.1l1.5,.1h1.5l1.5,.1l1.5,.1l1.5,.1l1.5,.4l1.5,.1l1.5,.1l1.5-.2l1.5,.1l1.5-.1l1.5,.1h1.5l1.5,.1h1.5h1.5l1.5,.1h1.5h1.5l1.5,.1l1.5,.1h1.5l1.5,.1l1.5,.1l1.5,.1v1.5z" fill="#27359b"/>
<text x="219.4" y="2118" font-size="22" font-weight="bold" fill="#1f1535" text-anchor="end">H3K4me1</text>
<text x="228.2" y="2091.5" font-size="7.0" fill="#222">[0 - 10.00]</text>
<path d="M223.6,2120.7v-5.1l1.5-.4l1.5-.5l1.5-.8l1.5-.9l1.5-.4l1.5-.3l1.5,.3l1.5,.2l1.5-.1l1.5,.4l1.5,.1l1.5,.5l1.5,.2l1.5,.1l1.5,.7l1.5,.2l1.5,.7l1.5,.2h1.5l1.5,.3l1.5,.1l1.5,.5l1.5-.2l1.5-.8l1.5,.1l1.5,.2l1.5,.1l1.5-.2l1.5-.2l1.5,.5l1.5,.3l1.5-.3l1.5-1.4h1.5l1.5-.8l1.5-.1l1.5,1.3l1.5,.3l1.5-.9l1.5-.7l1.5-.3l1.5-.2l1.5-.3l1.5-.4h1.5l1.5-.2l1.5,.3l1.5-.2l1.5,.5l1.5,.5l1.5,.1l1.5,.4l1.5,.3l1.5-.3l1.5-.4l1.5-.6l1.5-.4l1.5,.1l1.5,.1l1.5,.1l1.5,.1l1.5,.8l1.5-.3l1.5-.3l1.5-.2l1.5,.3h1.5l1.5-.1l1.5-.1l1.5,1.1l1.5,1.2l1.5-.1l1.5-.3l1.5-.2l1.5-.3l1.5,.2l1.5-.1l1.5-.1l1.5,.7l1.5,.5l1.5-.3l1.5,.1l1.5,.6l1.5-.1h1.5h1.5l1.5,.5l1.5-.4h1.5l1.5,.6l1.5,1.1l1.5-.1l1.5,.1l1.5-.2l1.5-.4l1.5,.3l1.5,.1l1.5,.1l1.5-.8l1.5-.6l1.5-.4l1.5-.6l1.5-.5l1.5-.2l1.5-.6l1.5-1l1.5-.7l1.5,1.1l1.5,.7l1.5-.5l1.5-.6l1.5,.3l1.5-.1l1.5,.5l1.5,.3l1.5,.6l1.5,1.6l1.5,1.2l1.5,.4l1.5-.7l1.5-.5l1.5-.6l1.5,.6l1.5,.8l1.5,.3l1.5,1.2l1.5-.2l1.5-1.1l1.5-.5l1.5-.9l1.5-1l1.5-.3l1.5-.1l1.5,.1l1.5,.3l1.5,.6l1.5-.5l1.5,.2l1.5-.5l1.5-.6l1.5-.4l1.5-.6l1.5,.3l1.5-.2l1.5-.4l1.5-.2l1.5-.3l1.5-.9l1.5-.8l1.5-1l1.5-.5l1.5-.1l1.5,.3l1.5,.6l1.5,1.5l1.5,.4l1.5,.9l1.5-.3l1.5-.2l1.5,.2l1.5,.6l1.5,1.1l1.5,.3l1.5-2l1.5,.6l1.5,.2l1.5,.8l1.5-.2h1.5l1.5,.6l1.5-.7l1.5,.1l1.5-.6l1.5,.4l1.5,.9h1.5l1.5-.2l1.5-.1l1.5,.6l1.5,.8l1.5,.6l1.5,.4l1.5,.5l1.5,.5l1.5,.7l1.5,.4l1.5,.4l1.5,.4l1.5,.4h1.5h1.5h1.5l1.5-.1h1.5l1.5-.1h1.5l1.5-.1l1.5-.1h1.5h1.5h1.5l1.5,.1h1.5l1.5-.1h1.5l1.5,.1l1.5,.1h1.5h1.5l1.5,.1h1.5l1.5,.1h1.5l1.5,.1h1.5l1.5-.1h1.5h1.5h1.5h1.5h1.5l1.5-.1h1.5h1.5l1.5-.1h1.5l1.5-.1h1.5h1.5h1.5h1.5l1.5,.1h1.5l1.5,.1l1.5-.1l1.5-.1h1.5l1.5-.2l1.5-.3l1.5-.4l1.5-.6l1.5-.3l1.5-.9l1.5-1.5l1.5-.9l1.5-1.2l1.5-1.1l1.5-.7h1.5l1.5,.1l1.5,.2l1.5-.5l1.5,.7l1.5,.2l1.5,.2l1.5-1l1.5-1.1l1.5-1.1l1.5-.1l1.5-.1h1.5l1.5-.1l1.5-.4l1.5,.3l1.5,.1l1.5,.2l1.5,.1l1.5,.1l1.5,.2l1.5,1.3l1.5,1.6l1.5,.7l1.5,.5h1.5l1.5,.5l1.5-.8l1.5-2.2l1.5-1.6l1.5-.6l1.5-.7l1.5,1.1l1.5,.8l1.5,.5l1.5,.3l1.5,.9l1.5,.4l1.5,.4l1.5,1l1.5,.1l1.5,.2l1.5,.2l1.5-.3l1.5-.3h1.5l1.5,1.5h1.5l1.5-1.8l1.5-.6l1.5,.8l1.5,.3l1.5-.5l1.5-.5l1.5-.1l1.5,.1l1.5-.2l1.5-.7l1.5-.5l1.5,.4l1.5-.5l1.5-.1l1.5-.2l1.5-.2l1.5-1.1l1.5,.1l1.5-.3l1.5,.2l1.5,.6l1.5-.2l1.5,.7l1.5,.8l1.5-.1l1.5-.9l1.5,.1h1.5l1.5,.2l1.5,1.8l1.5,.9l1.5,.5l1.5-.3l1.5-1.6l1.5-1.6l1.5-.7l1.5-.5l1.5,.2l1.5,.3l1.5-.5l1.5,.9l1.5,.4l1.5,.5l1.5-1.4l1.5,.4l1.5,.4l1.5,.9l1.5,1.1l1.5-.2l1.5-.6l1.5-.1l1.5,.1l1.5,.3l1.5-1.3l1.5-.5l1.5-1.1l1.5-.1l1.5-.1l1.5,.6l1.5,.9l1.5,1.3l1.5,.7l1.5,.4l1.5,.7l1.5-.5l1.5-.3l1.5-.8l1.5-1.2l1.5,.1l1.5,.5l1.5,.1l1.5,.5l1.5,.4l1.5,.8l1.5,.6l1.5,.8l1.5,.2h1.5l1.5,.6l1.5,.4l1.5-1l1.5,.2l1.5,.1l1.5-.2l1.5,.7l1.5,.3l1.5,.4l1.5-.8l1.5,1.1l1.5,.2l1.5,.2l1.5-.5l1.5-.5l1.5,.4l1.5-.1l1.5-.9l1.5-.6l1.5-.2l1.5-.3l1.5,.1l1.5,.7l1.5,.3l1.5-1.2l1.5-.7l1.5,1.1l1.5,1.3l1.5-.4l1.5-.9l1.5-.3l1.5,.3l1.5,.1l1.5,1.1l1.5,.5l1.5-.8l1.5-1h1.5l1.5,.2l1.5,.6l1.5-.7l1.5-.8l1.5-1.3h1.5l1.5,.6l1.5,.2l1.5-.4l1.5-.5l1.5-.1l1.5-.3l1.5,.6l1.5,.1h1.5l1.5,.1l1.5-.1l1.5,.3l1.5-.5l1.5,.4l1.5,.1l1.5,.1l1.5-.6l1.5,.4l1.5,1.2l1.5,.9l1.5-.6l1.5-.7h1.5l1.5,.1l1.5,.3l1.5,1h1.5l1.5-.1l1.5,.1l1.5-.5l1.5-.5l1.5,.3l1.5,.7l1.5,.4l1.5,.6l1.5-.6l1.5-.4l1.5-.2l1.5,.7l1.5-.1l1.5-.1l1.5-.6l1.5-.1l1.5-.7l1.5,.2l1.5,.4l1.5-.1l1.5-1.6l1.5-.2l1.5,.8h1.5l1.5,.7l1.5-.8l1.5,.1l1.5-.7l1.5,.3l1.5,.2l1.5-.4l1.5-.5l1.5-.9l1.5-1.2l1.5-1.2l1.5,1l1.5,1h1.5l1.5-.4l1.5,.4l1.5-.4l1.5,.4l1.5,1.1l1.5,1.3l1.5,.3l1.5,.4l1.5,.6l1.5,.5l1.5,.1l1.5,.3l1.5-.2l1.5-.4l1.5,.2l1.5-.7l1.5-.2l1.5-.4l1.5-.4h1.5l1.5-.1l1.5-.8l1.5-1l1.5,.4l1.5,.4l1.5,.2l1.5,.8l1.5,.1l1.5,.6l1.5-.2l1.5,.3l1.5-1.1h1.5l1.5-1.8l1.5-.6l1.5-.1l1.5,.8h1.5l1.5,.3h1.5l1.5,.4l1.5-.5l1.5-2.1l1.5-.5l1.5,.9l1.5,.9l1.5,.2l1.5,1l1.5-.7l1.5-1l1.5,.5l1.5-.1l1.5,.7l1.5-.3l1.5,.4l1.5-.2h1.5l1.5,1.1l1.5-.2l1.5-.5l1.5-.4l1.5-.6l1.5-1l1.5-.2l1.5-.2l1.5,.8l1.5-1.2l1.5,1.5l1.5-1l1.5,.1l1.5,.8l1.5-1.4l1.5,.1l1.5,.1l1.5-.5l1.5,.4h1.5l1.5,.1l1.5,.1l1.5,.8l1.5-.9l1.5,.7l1.5,.6l1.5,.2l1.5,.2l1.5-.6l1.5,.7l1.5,.2l1.5-1.1l1.5-1.8l1.5-.4l1.5-.3l1.5,.1h1.5l1.5,.5v12.2z" fill="#27359b"/>
<text x="218" y="2152" font-size="22" font-weight="bold" fill="#1f1535" text-anchor="end">H3K27ac</text>
<text x="228.2" y="2130.5" font-size="7.0" fill="#222">[0 - 275]</text>
<text x="218" y="2190.2" font-size="22" font-weight="bold" fill="#1f1535" text-anchor="end">H3K4me3</text>
<text x="228.2" y="2169.2" font-size="7.0" fill="#222">[0 - 17]</text>
<text x="219.4" y="2225.2" font-size="22" font-weight="bold" fill="#1f1535" text-anchor="end">H3K4me1</text>
<text x="228.2" y="2207.7" font-size="7.0" fill="#222">[0 - 228]</text>
<path d="M592.5,2159.4h1v-12.5h1v-5.5h1v-4h1v-3.5h1v-1h1v-1.5h1v4h1v12h1v1.5h1v2.5h1v-.5h1v.5h1v1h1v1h1v1h1v.5h2v.5h1v1h2v-.5h1v-1h2v-.5h4v1h1v1h1v1h1v.5h1v.5h1v.5h1v.5z" fill="#2b3f9f"/>
<path d="M468,2197.9h1v-.5h1v-.5h1v-.5h1v-1h1v-1.5h1v-1h1v-1h1v-1h1v1h2v.5h1v1.5h1v1.5h2v.5h1v-3.5h1v-3.5h1v-3.5h1v-1.5h1v-4h1v-.5h1v-.5h1v-2.5h1v2h1v3h1v1h1v2h1v.5h1v-2h1v-1h1v2.5h1v2.5h1v2h1v4.5h1v4.5h1z" fill="#2b3f9f"/>
<path d="M592.5,2197.9h1v-13.5h1v-4h1v-5h1v-2h1v-4h1v3.5h1v7h1v5.5h1v2.5h1v1.5h1v1h1v1h1v1.5h1v1.5h1v1h1v1h1v1h1v.5z" fill="#2b3f9f"/>
<path d="M613.5,2197.9h1v-2.5h1v-2h1v-2h1v-1h1v-.5h2v2h1v2.5h1v2.5h1v1z" fill="#2b3f9f"/>
<path d="M592.5,2236.8h1v-15.5h1v-4h1v-3.5h1v-3.5h2v5h1v5h1v6.5h1v.5h1v1h1v.5h1v1.5h2v1h2v.5h1v.5h1v.5h1v.5h1v.5h1v.5h1v.5h3v.5h1v.5h2v.5h2v.5h1z" fill="#2b3f9f"/>
<line x1="223.6" y1="2004.3" x2="1091.7" y2="2004.3" stroke="#3347a8" stroke-width="1.2" />
<line x1="223.6" y1="2043.3" x2="1091.7" y2="2043.3" stroke="#3347a8" stroke-width="1.2" />
<line x1="223.6" y1="2081.7" x2="1091.7" y2="2081.7" stroke="#3347a8" stroke-width="1.2" />
<line x1="223.6" y1="2120.7" x2="1091.7" y2="2120.7" stroke="#3347a8" stroke-width="1.2" />
<line x1="223.6" y1="2159.4" x2="1091.7" y2="2159.4" stroke="#3347a8" stroke-width="1.2" />
<line x1="223.6" y1="2197.9" x2="1091.7" y2="2197.9" stroke="#3347a8" stroke-width="1.2" />
<line x1="223.6" y1="2236.8" x2="1091.7" y2="2236.8" stroke="#3347a8" stroke-width="1.2" />
<path d="M223.6,1964.3l1.5-.1l1.5-.1h1.5l1.5,.1l1.5,.1h1.5l1.5-.2l1.5-.5h1.5l1.5,.5l1.5,.2h1.5h1.5h1.5h1.5h1.5h1.5h1.5h1.5h1.5l1.5-.2l1.5-.3h1.5l1.5,.3h1.5l1.5-.3h1.5l1.5,.3l1.5,.2l1.5-.1l1.5-.1l1.5-.2l1.5-.3l1.5-.4l1.5-.2h1.5l1.5,.1l1.5,.2l1.5,.4l1.5,.2h1.5l1.5-.2h1.5h1.5l1.5,.1l1.5,.3l1.5,.2h1.5l1.5-.2l1.5-.3l1.5-.1l1.5,.1l1.5,.1l1.5,.3h1.5l1.5-.1h1.5h1.5h1.5l1.5-.1h1.5l1.5,.2l1.5,.1h1.5h1.5h1.5l1.5-.4l1.5-.7h1.5l1.5,.7l1.5,.3l1.5-.2l1.5-.1l1.5-.1l1.5-.2l1.5-.3l1.5-.3l1.5-.4l1.5,.1l1.5,.5l1.5,.6l1.5,.2h1.5l1.5,.1l1.5,.1l1.5,.1h1.5h1.5h1.5h1.5h1.5h1.5h1.5l1.5-.1h1.5l1.5,.1h1.5h1.5h1.5h1.5h1.5h1.5l1.5-.1l1.5-.2h1.5l1.5,.2l1.5,.1l1.5-.1h1.5l1.5,.1h1.5h1.5h1.5h1.5h1.5h1.5h1.5h1.5l1.5-.1l1.5-.2h1.5l1.5,.1h1.5l1.5-.1l1.5-.2l1.5-.2l1.5-.2l1.5-.1h1.5h1.5l1.5-.1h1.5l1.5,.3l1.5,.3l1.5,.1l1.5,.2l1.5,.1h1.5l1.5,.1h1.5h1.5h1.5h1.5h1.5h1.5h1.5h1.5h1.5h1.5h1.5h1.5h1.5l1.5-.2l1.5-.3h1.5l1.5,.2l1.5,.1h1.5l1.5,.1l1.5,.1l1.5-.2l1.5-.4h1.5l1.5,.4l1.5,.2h1.5l1.5-.3l1.5-.5l1.5-.1l1.5,.4l1.5,.2l1.5,.2l1.5,.1h1.5l1.5-.1l1.5-.3h1.5l1.5,.2l1.5,.1l1.5,.1h1.5h1.5h1.5h1.5h1.5h1.5l1.5-.1h1.5l1.5,.1h1.5h1.5h1.5h1.5h1.5l1.5-.1l1.5-.2l1.5-.1h1.5l1.5-.1l1.5-.2l1.5-.1h1.5l1.5,.2l1.5,.4l1.5,.2h1.5h1.5h1.5l1.5-.3l1.5-.5h1.5l1.5,.5l1.5,.3h1.5h1.5l1.5-.1h1.5l1.5-.1l1.5-.1l1.5-.1l1.5-.2l1.5-.1l1.5-.1l1.5-.1l1.5-.1l1.5,.1l1.5,.1l1.5-.2l1.5,.1l1.5,.5l1.5,.3h1.5h1.5h1.5h1.5l1.5-.1h1.5l1.5,.1h1.5l1.5-.3h1.5l1.5,.3h1.5l1.5-.2h1.5l1.5,.2l1.5,.1h1.5h1.5h1.5h1.5h1.5h1.5h1.5h1.5h1.5h1.5h1.5h1.5h1.5h1.5h1.5h1.5h1.5h1.5h1.5h1.5h1.5h1.5h1.5l1.5-.2l1.5-.3h1.5l1.5,.3l1.5,.2l1.5-.1h1.5l1.5,.1h1.5h1.5h1.5h1.5h1.5h1.5h1.5h1.5l1.5-.2l1.5-.4h1.5l1.5,.3l1.5,.2h1.5h1.5l1.5-.2l1.5-.1h1.5l1.5,.1l1.5,.1l1.5,.1l1.5,.1h1.5h1.5h1.5h1.5l1.5-.1l1.5-.3h1.5l1.5,.2l1.5,.1l1.5-.1h1.5l1.5-.1l1.5-.1l1.5-.2l1.5-.3l1.5-.2l1.5-.1l1.5-.3l1.5,.1l1.5,.3l1.5,.1l1.5,.2l1.5,.1l1.5,.3l1.5,.2l1.5,.1h1.5l1.5,.1h1.5h1.5h1.5h1.5h1.5h1.5h1.5h1.5l1.5-.2l1.5-.4l1.5-.2l1.5,.2l1.5,.2l1.5,.3h1.5l1.5-.3h1.5l1.5,.3l1.5,.1h1.5h1.5h1.5h1.5h1.5h1.5h1.5h1.5h1.5h1.5h1.5h1.5h1.5h1.5h1.5l1.5-.1l1.5-.1l1.5-.1l1.5-.1l1.5-.3l1.5-.3l1.5-.3l1.5-.1l1.5,.1l1.5,.2l1.5,.2l1.5,.2l1.5,.2l1.5,.1l1.5,.1l1.5,.1l1.5,.1l1.5,.1h1.5h1.5h1.5h1.5h1.5h1.5l1.5-.1l1.5-.1h1.5l1.5,.1h1.5l1.5-.1h1.5l1.5,.1h1.5l1.5-.2h1.5l1.5,.2l1.5-.2l1.5-.6h1.5l1.5,.6l1.5,.3h1.5l1.5-.3l1.5-.6l1.5-.2l1.5,.1l1.5,.1l1.5,.1l1.5,.2l1.5,.4l1.5,.2h1.5l1.5-.1l1.5-.3h1.5l1.5,.3h1.5l1.5-.1l1.5-.1h1.5l1.5,.1l1.5,.1l1.5-.1l1.5-.3h1.5l1.5,.3l1.5,.2h1.5l1.5-.2l1.5-.3l1.5-.1l1.5,.2l1.5,.2l1.5,.1l1.5,.1h1.5h1.5h1.5l1.5-.2l1.5-.5h1.5l1.5,.3l1.5,.1h1.5l1.5-.2l1.5-.3h1.5h1.5l1.5-.2l1.5-.1h1.5l1.5,.1l1.5,.3l1.5,.3l1.5-.1l1.5-.3l1.5,.1l1.5,.5l1.5,.2h1.5h1.5h1.5h1.5h1.5h1.5h1.5h1.5h1.5h1.5h1.5h1.5h1.5h1.5h1.5h1.5h1.5h1.5h1.5h1.5h1.5h1.5h1.5h1.5h1.5h1.5h1.5h1.5h1.5h1.5h1.5h1.5h1.5h1.5h1.5l1.5-.2l1.5-.4l1.5-.1l1.5,.3l1.5,.2l1.5,.1l1.5,.1h1.5h1.5h1.5h1.5h1.5h1.5h1.5h1.5h1.5h1.5h1.5h1.5h1.5l1.5-.1l1.5-.1h1.5l1.5,.1l1.5,.1l1.5-.1h1.5l1.5,.1h1.5h1.5h1.5h1.5h1.5h1.5h1.5h1.5h1.5h1.5l1.5-.1l1.5-.3h1.5l1.5,.3l1.5-.1l1.5-.5l1.5-.3l1.5-.3l1.5,.2l1.5,.7l1.5,.3l1.5-.2h1.5l1.5,.2l1.5,.1l1.5-.1l1.5-.2l1.5-.3l1.5-.3l1.5-.3l1.5-.1h1.5h1.5l1.5,.1l1.5,.1h1.5l1.5,.2l1.5,.3l1.5,.2l1.5,.3l1.5,.1h1.5h1.5l1.5-.1h1.5l1.5,.1h1.5h1.5l1.5-.1l1.5-.1l1.5-.1l1.5-.1h1.5l1.5-.1v.5z" fill="#27359b"/>
<line x1="223.6" y1="1964.3" x2="1091.7" y2="1964.3" stroke="#3347a8" stroke-width="1.1" />
<line x1="223.6" y1="1964.3" x2="223.6" y2="2238.3" stroke="#c9c7ca" stroke-width="0.8" />
<rect x="549.2" y="1976.2" width="3.5" height="262.4" fill="#b0479b" />
<rect x="94.3" y="2119.7" width="9.2" height="118.5" fill="#3b2076" />
<text x="86" y="2180.5" font-size="13" font-weight="bold" fill="#4b2a88" text-anchor="middle" transform="rotate(-90 86 2180.5)">Chimeric reads only</text>
<path d="M550.7,2239.8L668,2287.7H447.4z" fill="#f8eef3"/>
<path d="M492.4,2372.1A115.2,115.2 0 0 1 564.6,2343.9L564.7,2348.2A110.8,110.8 0 0 0 495.3,2375.4z" fill="#111" />
<path d="M495.9,2374.3A111.2,111.2 0 0 1 564.7,2347.8L564.8,2352.7A106.3,106.3 0 0 0 499.1,2378z" fill="#e8262b" />
<path d="M564.6,2343.9A115.2,115.2 0 0 1 581.2,2344.6L580.2,2353.4A106.3,106.3 0 0 0 564.8,2352.7z" fill="#e8262b" />
<path d="M587.2,2345.4A115.2,115.2 0 0 1 647.2,2375.3L644.1,2378.5A110.8,110.8 0 0 0 586.5,2349.8z" fill="#111" />
<path d="M586.2,2349.3A111.2,111.2 0 0 1 643.6,2377.4L640.2,2381A106.3,106.3 0 0 0 585.4,2354.1z" fill="#e8262b" />
<path d="M581.1,2345.8A114,114 0 0 1 586.6,2346.5L585.9,2351A109.5,109.5 0 0 0 580.6,2350.2z" fill="#8a8a8a" />
<path d="M491.5,2375.2A113.5,113.5 0 0 1 493.8,2373.1L497.4,2377.2A108,108 0 0 0 495.2,2379.2z" fill="#8a8a8a" />
<path d="M645.4,2376A113.5,113.5 0 0 1 647.4,2377.9L643.6,2381.8A108,108 0 0 0 641.7,2380z" fill="#7c7c7c" />
<path d="M499.5,2367.1A114.6,114.6 0 0 1 501.8,2365.5L503.6,2368.1A111.4,111.4 0 0 0 501.4,2369.7z" fill="#a5a5a5" />
<path d="M501.9,2365.4A114.6,114.6 0 0 1 504.2,2363.8L506,2366.4A111.4,111.4 0 0 0 503.8,2368z" fill="#a5a5a5" />
<path d="M521.9,2354.1A114.6,114.6 0 0 1 524.5,2353L525.7,2355.9A111.4,111.4 0 0 0 523.2,2357z" fill="#a5a5a5" />
<path d="M525.6,2352.5A114.6,114.6 0 0 1 528.2,2351.5L529.4,2354.5A111.4,111.4 0 0 0 526.8,2355.5z" fill="#a5a5a5" />
<path d="M561.6,2344.6A114.6,114.6 0 0 1 564.4,2344.5L564.5,2347.7A111.4,111.4 0 0 0 561.8,2347.8z" fill="#a5a5a5" />
<path d="M591.4,2346.8A114.6,114.6 0 0 1 594.2,2347.4L593.4,2350.5A111.4,111.4 0 0 0 590.8,2350z" fill="#a5a5a5" />
<path d="M595.9,2347.9A114.6,114.6 0 0 1 598.6,2348.6L597.8,2351.7A111.4,111.4 0 0 0 595.1,2351z" fill="#a5a5a5" />
<path d="M639.8,2369.7A114.6,114.6 0 0 1 642,2371.5L639.9,2373.9A111.4,111.4 0 0 0 637.8,2372.2z" fill="#a5a5a5" />
<path d="M499,2379.6A105.2,105.2 0 0 1 580.5,2354.5L577.1,2383A76.5,76.5 0 0 0 517.8,2401.3z" fill="#dcdcdc" />
<path d="M515.9,2399.1A79.4,79.4 0 0 1 577.4,2380.2" fill="none" stroke="#f4f4f4" stroke-width="0.7" />
<path d="M512.2,2394.8A85.1,85.1 0 0 1 578.1,2374.5" fill="none" stroke="#f4f4f4" stroke-width="0.7" />
<path d="M508.4,2390.4A90.8,90.8 0 0 1 578.8,2368.8" fill="none" stroke="#f4f4f4" stroke-width="0.7" />
<path d="M504.6,2386.1A96.6,96.6 0 0 1 579.4,2363.1" fill="none" stroke="#f4f4f4" stroke-width="0.7" />
<path d="M500.9,2381.8A102.3,102.3 0 0 1 580.1,2357.4" fill="none" stroke="#f4f4f4" stroke-width="0.7" />
<path d="M584.8,2355.2A105.2,105.2 0 0 1 640.3,2382.6L620.6,2403.4A76.5,76.5 0 0 0 580.2,2383.5z" fill="#dcdcdc" />
<path d="M580.7,2380.7A79.4,79.4 0 0 1 622.5,2401.3" fill="none" stroke="#f4f4f4" stroke-width="0.7" />
<path d="M581.6,2375A85.1,85.1 0 0 1 626.5,2397.2" fill="none" stroke="#f4f4f4" stroke-width="0.7" />
<path d="M582.5,2369.3A90.8,90.8 0 0 1 630.4,2393" fill="none" stroke="#f4f4f4" stroke-width="0.7" />
<path d="M583.4,2363.7A96.6,96.6 0 0 1 634.4,2388.8" fill="none" stroke="#f4f4f4" stroke-width="0.7" />
<path d="M584.4,2358A102.3,102.3 0 0 1 638.3,2384.6" fill="none" stroke="#f4f4f4" stroke-width="0.7" />
<path d="M519.1,2402.8A74.5,74.5 0 0 1 576.8,2385L573.9,2409.4A50,50 0 0 0 535.2,2421.3z" fill="#fff" />
<path d="M533.6,2419.4A52.5,52.5 0 0 1 574.2,2406.9" fill="none" stroke="#d2d2d2" stroke-width="0.7" />
<path d="M530.4,2415.7A57.4,57.4 0 0 1 574.8,2402.1" fill="none" stroke="#d2d2d2" stroke-width="0.7" />
<path d="M527.2,2412A62.2,62.2 0 0 1 575.4,2397.2" fill="none" stroke="#d2d2d2" stroke-width="0.7" />
<path d="M523.9,2408.3A67.2,67.2 0 0 1 576,2392.3" fill="none" stroke="#d2d2d2" stroke-width="0.7" />
<path d="M520.7,2404.6A72,72 0 0 1 576.5,2387.5" fill="none" stroke="#d2d2d2" stroke-width="0.7" />
<path d="M579.9,2385.5A74.5,74.5 0 0 1 619.2,2404.9L602.4,2422.7A50,50 0 0 0 576,2409.6z" fill="#fff" />
<path d="M576.4,2407.2A52.5,52.5 0 0 1 604,2420.9" fill="none" stroke="#d2d2d2" stroke-width="0.7" />
<path d="M577.2,2402.4A57.4,57.4 0 0 1 607.4,2417.3" fill="none" stroke="#d2d2d2" stroke-width="0.7" />
<path d="M578,2397.6A62.2,62.2 0 0 1 610.8,2413.8" fill="none" stroke="#d2d2d2" stroke-width="0.7" />
<path d="M578.7,2392.7A67.2,67.2 0 0 1 614.1,2410.2" fill="none" stroke="#d2d2d2" stroke-width="0.7" />
<path d="M579.5,2387.9A72,72 0 0 1 617.5,2406.7" fill="none" stroke="#d2d2d2" stroke-width="0.7" />
<path d="M536.2,2422.4A48.5,48.5 0 0 1 573.7,2410.8L570.2,2440.1A19,19 0 0 0 555.5,2444.7z" fill="#dcdcdc" />
<path d="M553.6,2442.4A21.9,21.9 0 0 1 570.6,2437.2" fill="none" stroke="#f4f4f4" stroke-width="0.7" />
<path d="M549.7,2438A27.9,27.9 0 0 1 571.3,2431.3" fill="none" stroke="#f4f4f4" stroke-width="0.7" />
<path d="M545.9,2433.5A33.8,33.8 0 0 1 572,2425.5" fill="none" stroke="#f4f4f4" stroke-width="0.7" />
<path d="M542,2429.1A39.6,39.6 0 0 1 572.7,2419.6" fill="none" stroke="#f4f4f4" stroke-width="0.7" />
<path d="M538.1,2424.6A45.5,45.5 0 0 1 573.4,2413.8" fill="none" stroke="#f4f4f4" stroke-width="0.7" />
<path d="M575.8,2411.1A48.5,48.5 0 0 1 601.3,2423.8L581.1,2445.2A19,19 0 0 0 571,2440.2z" fill="#dcdcdc" />
<path d="M571.5,2437.3A21.9,21.9 0 0 1 583.1,2443.1" fill="none" stroke="#f4f4f4" stroke-width="0.7" />
<path d="M572.5,2431.5A27.9,27.9 0 0 1 587.1,2438.8" fill="none" stroke="#f4f4f4" stroke-width="0.7" />
<path d="M573.4,2425.7A33.8,33.8 0 0 1 591.2,2434.5" fill="none" stroke="#f4f4f4" stroke-width="0.7" />
<path d="M574.3,2419.9A39.6,39.6 0 0 1 595.2,2430.2" fill="none" stroke="#f4f4f4" stroke-width="0.7" />
<path d="M575.3,2414A45.5,45.5 0 0 1 599.3,2425.9" fill="none" stroke="#f4f4f4" stroke-width="0.7" />
<path d="M519.4,2398.9l1.1-1l1.2-1l1.2-.9l1.2-.9l1.3-.9l1.2-.9l1.3-.9l1.3-.8l1.3-.8l1.3-.8l1.4-.8l1.3-.7l1.4-.8l1.4-.6l1.4-.7l1.4-.8l1.4-.5l1.5-.6l1.4-.5l1.5-.6l1.5-.6l1.5-.4l1.4-.5l1.6-.5l1.4-.8l1.5-.8l1.5-.6l1.5-.3l1.5-1.1l1.6-.2l1.5-2.9l1.6-2l1.6-4l1.7-6.1l1.9,5.1l1.7,2.6l1.5,4.8l1.5,2.5l1.4,1.9l1.4,1.5l-.1,1.7l-1.6-.2l-1.5-.1l-1.5-.1l-1.5-.1h-1.5h-1.5h-1.6l-1.5,.1l-1.5,.1l-1.5,.1l-1.5,.1l-1.6,.2l-1.5,.2l-1.5,.3l-1.5,.2l-1.5,.3l-1.4,.3l-1.5,.4l-1.5,.4l-1.5,.4l-1.4,.4l-1.5,.5l-1.4,.5l-1.4,.5l-1.4,.6l-1.4,.6l-1.4,.6l-1.4,.6l-1.4,.7l-1.3,.7l-1.4,.7l-1.3,.7l-1.3,.8l-1.3,.8l-1.3,.8l-1.3,.9l-1.2,.8l-1.2,.9l-1.2,1l-1.2,.9z" fill="#2349a3"/>
<path d="M582.1,2373.7l2.6-7.9l1.6-1.2l1.4-.1l1.4-.4l1,1.6l1.1,1.1l1.5-.5l.7,2.5l1,1.1l1.1,.7l1.3,.1l1.4-.1l1.2,.6l1.2,.5l1.2,.3l1.1,.8l.9,1.2l1.2,.3l1,1.1l.7,1.3h1.4l.9,1.1l.9,.9l1.6-.3l.7,1.3l.7,1.3l1.1,.5l1.7-.3l.3,1.9l1.2,.4l1,.8l.9,.9l1,.6l.7,1.2l1,.7l1.1,.7l.9,.8l1.3,.3l1.2,.5l-7.8,10.9l-.1,.1l-.8-.7l-.8-.6l-.9-.7l-.8-.7l-.8-.6l-.9-.6l-.8-.6l-.9-.7l-.9-.6l-.9-.5l-.9-.6l-.8-.6l-1-.5l-.9-.6l-.9-.5l-.9-.5l-1-.5l-.9-.5l-.9-.4l-1-.5l-1-.4l-.9-.5l-1-.4l-1-.4l-1-.4l-1-.4l-.9-.3l-1-.4l-1.1-.3l-1-.3l-1-.3l-1-.3l-1-.3l-1-.3l-1.1-.2l-1-.3l-1-.2l-1.1-.2l-1-.2l-1.1-.2z" fill="#2349a3"/>
<path d="M545.6,2413.2l.7-.4l.6-.4l.6-.3l.7-.4l.6-.3l.7-.3l.6-.4l.7-.3l.7-.3l.6-.3l.7-.2l.7-.3l.7-.3l.6-.3l.8-.2l.6-.3l.7-.2l.7-.3l.8-.2l.7-.2l.7-.1l.7-.3h.8l.7-.3l.7-.1l.7-.1l.8-.3l.7,.1l.8-.3h.7l.8-.2h.7l.8-.3h.7l.8-.1l.8-.1l.7,.2l.8-.3l.7,.4l.8,.5l-.3,2.5l-.8-.1h-.7l-.7-.1h-.7l-.7-.1h-.7h-.8h-.7h-.7h-.7h-.7l-.7,.1h-.8l-.7,.1l-.7,.1h-.7l-.7,.1l-.7,.1l-.7,.1l-.7,.1l-.8,.2l-.7,.1l-.7,.2l-.7,.1l-.7,.2l-.7,.2l-.7,.1l-.6,.2l-.7,.2l-.7,.3l-.7,.2l-.7,.2l-.6,.3l-.7,.2l-.7,.3l-.7,.3l-.6,.2l-.7,.3l-.6,.3l-.7,.3z" fill="#2349a3"/>
<path d="M577.9,2399.3l1-1.6l.8-.2l.6,.5l1-.9l.8-.3l.6,.7l.5,1l.9-.3l1-.9l.2,1.9l1.2-1.1l.6,.5l.6,.4l.8,.1l.4,1.1l.8,.1l1-.7l.2,1.5l.7,.4l.4,.8l.8-.1l1-.2l.7,.1l.5,.7l.7,.3l.7,.3l.6,.4h.8l.4,.8l1-.2l.3,.9l.2,1l.8,.2l1-.2l.5,.6l.3,.9l.7,.2l.8,.1l.6,.4l-6.1,9.5l-.1,.2l-.5-.4l-.5-.3l-.5-.4l-.4-.3l-.5-.4l-.6-.3l-.5-.3l-.5-.3l-.5-.3l-.5-.3l-.5-.3l-.6-.3l-.5-.3l-.5-.3l-.6-.2l-.5-.3l-.5-.2l-.6-.3l-.5-.2l-.6-.3l-.5-.2l-.6-.2l-.6-.3l-.5-.2l-.6-.2l-.6-.2l-.5-.2l-.6-.1l-.6-.2l-.5-.2l-.6-.2l-.6-.1l-.6-.2l-.6-.1l-.6-.1l-.5-.2l-.6-.1l-.6-.1l-.6-.1l-.6-.1z" fill="#2349a3"/>
<path d="M559.4,2437.6l.1-.5l.1-.5l.2-.2l-.1-1.2l.2-.4l-.2-1.7l.8,1.7l-1.1-4.8l2.3,6.8l-1-4.7l-.1-1.7l.7,1.1l.4,.5v-1.6v-1.8l.1-1.5l1.3,4.8l-.4-3.9l.6,1.3l-.2-4.2l.8,2.9l.1-2.1l.1-2.9l.7,3l.3-1.9l.6,2.3l.2-1.8l.7,4.5l.2-4.5l.3-2.5l.4-.6l.5-13l.4,19.5l.3,1l.6-5.8l.4,.6l.2,2.7l.5-.5l.4,.1l-.2,5.9l-.7,7.3h-.2h-.3l-.2-.1h-.3h-.2h-.2h-.3h-.2h-.2h-.3h-.2h-.2h-.3l-.2,.1h-.3h-.2h-.2h-.3l-.2,.1h-.2h-.3l-.2,.1h-.2l-.3,.1h-.2l-.2,.1h-.3l-.2,.1h-.2l-.3,.1h-.2l-.2,.1l-.3,.1l-.2,.1h-.2l-.2,.1l-.3,.1l-.2,.1l-.2,.1h-.2z" fill="#2349a3"/>
<path d="M572.9,2432.3l.6-1.7l-.2,2.2l.6-1.6l-.2,2.2l.7-2.2v1.1l.6-1.4v.7v1l.1,.5l.4-.6l.1,.6l-.1,1l.7-1.4l-.7,3.1l.9-2.2l.9-2l-.3,1.6l-.4,2l1-2.2l-.1,.9l-.1,.9l.2,.1l.5-.6l.4-.5l-.1,1l.9-1.5l-.7,2.2l.7-1.2l-.7,2.2v.4l.9-1.4l.4-.2l.8-1.2l-.7,2l.4-.4l-.4,1.3l.7-.8l.4-.3l-.3,.9l-2.9,5.1l-.1-.1l-.2-.1l-.1-.1l-.2-.1l-.1-.1h-.2l-.1-.1l-.2-.1l-.1-.1h-.2l-.1-.1l-.2-.1h-.2l-.1-.1l-.2-.1h-.1l-.2-.1l-.1-.1h-.2l-.1-.1h-.2l-.2-.1h-.1l-.2-.1l-.1-.1h-.2l-.2-.1h-.1h-.2l-.2-.1h-.1l-.2-.1h-.1l-.2-.1h-.2h-.1l-.2-.1h-.2h-.1l-.2-.1z" fill="#2349a3"/>
<text x="633.2" y="2401.5" font-size="22" font-weight="bold" fill="#1f1535">H3K27ac</text>
<text x="624.8" y="2426.5" font-size="22" font-weight="bold" fill="#1f1535">H3K4me3</text>
<text x="609" y="2449.8" font-size="22" font-weight="bold" fill="#1f1535">H3K4me1</text>
<text x="478" y="2350.5" font-size="9.5" font-weight="bold" transform="rotate(-131 478 2350.5)">E2 E4</text>
<text x="492.5" y="2333.4" font-size="9.5" font-weight="bold" transform="rotate(-122.3 492.5 2333.4)">E5</text>
<text x="516.7" y="2321.8" font-size="9.5" font-weight="bold" transform="rotate(-111.8 516.7 2321.8)">L2</text>
<text x="559.9" y="2314.2" font-size="9.5" font-weight="bold" transform="rotate(-94.5 559.9 2314.2)">L1</text>
<text x="598" y="2319.2" font-size="9.5" font-weight="bold" transform="rotate(-79.2 598 2319.2)">E6</text>
<text x="616.7" y="2324.6" font-size="9.5" font-weight="bold" transform="rotate(-71.4 616.7 2324.6)">E7</text>
<text x="643.9" y="2339.6" font-size="9.5" font-weight="bold" transform="rotate(-58.9 643.9 2339.6)">E1</text>
<text x="491.5" y="2367.2" font-size="8.0" fill="#858585" transform="rotate(-131.1 491.5 2367.2)">3310</text>
<text x="583.9" y="2336.5" font-size="8.0" fill="#858585" transform="rotate(-83.9 583.9 2336.5)">7095</text>
<text x="593.7" y="2337.7" font-size="8.0" fill="#858585" transform="rotate(-79.3 593.7 2337.7)">1</text>
<text x="652.4" y="2374.4" font-size="8.0" fill="#858585" transform="rotate(-46.4 652.4 2374.4)">3192</text>
<g transform="translate(1586.3 263.4) scale(1 0.998) translate(-1586.3 -263.4)">
<path d="M1645,321.3A82.5,82.5 0 1 1 1651.5,212.8" fill="none" stroke="#a6a6a6" stroke-width="0.7" />
<path d="M1652,328.2A92.3,92.3 0 1 1 1659.2,206.8" fill="none" stroke="#a6a6a6" stroke-width="0.7" />
<path d="M1659,335.1A102.1,102.1 0 1 1 1667,200.8" fill="none" stroke="#a6a6a6" stroke-width="0.7" />
<path d="M1666,342A111.9,111.9 0 1 1 1674.7,194.8" fill="none" stroke="#a6a6a6" stroke-width="0.7" />
<path d="M1673,348.9A121.7,121.7 0 1 1 1682.5,188.8" fill="none" stroke="#a6a6a6" stroke-width="0.7" />
<path d="M1654,216.3A82.5,82.5 0 0 1 1663.3,233.8" fill="none" stroke="#a6a6a6" stroke-width="0.7" />
<path d="M1662.1,210.7A92.3,92.3 0 0 1 1672.5,230.3" fill="none" stroke="#a6a6a6" stroke-width="0.7" />
<path d="M1670.1,205.1A102.1,102.1 0 0 1 1681.6,226.8" fill="none" stroke="#a6a6a6" stroke-width="0.7" />
<path d="M1678.2,199.5A111.9,111.9 0 0 1 1690.8,223.3" fill="none" stroke="#a6a6a6" stroke-width="0.7" />
<path d="M1686.2,193.9A121.7,121.7 0 0 1 1699.9,219.8" fill="none" stroke="#a6a6a6" stroke-width="0.7" />
<path d="M1664.7,237.6A82.5,82.5 0 0 1 1668.8,263" fill="none" stroke="#a6a6a6" stroke-width="0.7" />
<path d="M1674,234.6A92.3,92.3 0 0 1 1678.6,262.9" fill="none" stroke="#a6a6a6" stroke-width="0.7" />
<path d="M1683.3,231.5A102.1,102.1 0 0 1 1688.4,262.9" fill="none" stroke="#a6a6a6" stroke-width="0.7" />
<path d="M1692.6,228.4A111.9,111.9 0 0 1 1698.2,262.8" fill="none" stroke="#a6a6a6" stroke-width="0.7" />
<path d="M1701.9,225.4A121.7,121.7 0 0 1 1708,262.8" fill="none" stroke="#a6a6a6" stroke-width="0.7" />
<path d="M1668.7,267.1A82.5,82.5 0 0 1 1647.8,318.4" fill="none" stroke="#a6a6a6" stroke-width="0.7" />
<path d="M1678.5,267.6A92.3,92.3 0 0 1 1655.1,324.9" fill="none" stroke="#a6a6a6" stroke-width="0.7" />
<path d="M1688.3,268A102.1,102.1 0 0 1 1662.4,331.5" fill="none" stroke="#a6a6a6" stroke-width="0.7" />
<path d="M1698.1,268.5A111.9,111.9 0 0 1 1669.7,338" fill="none" stroke="#a6a6a6" stroke-width="0.7" />
<path d="M1707.9,268.9A121.7,121.7 0 0 1 1677,344.5" fill="none" stroke="#a6a6a6" stroke-width="0.7" />
<path fill-rule="evenodd" fill="#dcdcdc" d="M1509.5,263.4a76.8,76.8 0 1 0 153.6,0a76.8,76.8 0 1 0 -153.6,0zM1557.5,263.4a28.8,28.8 0 1 0 57.6,0a28.8,28.8 0 1 0 -57.6,0z"/>
<path d="M1610.7,287.4A34.2,34.2 0 1 1 1613.3,242.4" fill="none" stroke="#fbfbfb" stroke-width="1.0" />
<path d="M1617.6,294.3A44,44 0 1 1 1621,236.5" fill="none" stroke="#fbfbfb" stroke-width="1.0" />
<path d="M1624.5,301.1A53.7,53.7 0 1 1 1628.7,230.5" fill="none" stroke="#fbfbfb" stroke-width="1.0" />
<path d="M1631.5,308A63.5,63.5 0 1 1 1636.4,224.5" fill="none" stroke="#fbfbfb" stroke-width="1.0" />
<path d="M1638.4,314.8A73.2,73.2 0 1 1 1644.1,218.5" fill="none" stroke="#fbfbfb" stroke-width="1.0" />
<path d="M1614.4,243.9A34.2,34.2 0 0 1 1618.2,251.1" fill="none" stroke="#fbfbfb" stroke-width="1.0" />
<path d="M1622.4,238.3A44,44 0 0 1 1627.3,247.6" fill="none" stroke="#fbfbfb" stroke-width="1.0" />
<path d="M1630.4,232.8A53.7,53.7 0 0 1 1636.4,244.2" fill="none" stroke="#fbfbfb" stroke-width="1.0" />
<path d="M1638.4,227.2A63.5,63.5 0 0 1 1645.5,240.7" fill="none" stroke="#fbfbfb" stroke-width="1.0" />
<path d="M1646.4,221.6A73.2,73.2 0 0 1 1654.6,237.2" fill="none" stroke="#fbfbfb" stroke-width="1.0" />
<path d="M1618.8,252.7A34.2,34.2 0 0 1 1620.5,263.2" fill="none" stroke="#fbfbfb" stroke-width="1.0" />
<path d="M1628.1,249.7A44,44 0 0 1 1630.2,263.2" fill="none" stroke="#fbfbfb" stroke-width="1.0" />
<path d="M1637.3,246.6A53.7,53.7 0 0 1 1640,263.1" fill="none" stroke="#fbfbfb" stroke-width="1.0" />
<path d="M1646.6,243.6A63.5,63.5 0 0 1 1649.7,263.1" fill="none" stroke="#fbfbfb" stroke-width="1.0" />
<path d="M1655.8,240.5A73.2,73.2 0 0 1 1659.5,263" fill="none" stroke="#fbfbfb" stroke-width="1.0" />
<path d="M1620.5,265A34.2,34.2 0 0 1 1611.8,286.2" fill="none" stroke="#fbfbfb" stroke-width="1.0" />
<path d="M1630.2,265.4A44,44 0 0 1 1619.1,292.7" fill="none" stroke="#fbfbfb" stroke-width="1.0" />
<path d="M1639.9,265.8A53.7,53.7 0 0 1 1626.3,299.2" fill="none" stroke="#fbfbfb" stroke-width="1.0" />
<path d="M1649.7,266.3A63.5,63.5 0 0 1 1633.6,305.7" fill="none" stroke="#fbfbfb" stroke-width="1.0" />
<path d="M1659.4,266.7A73.2,73.2 0 0 1 1640.9,312.2" fill="none" stroke="#fbfbfb" stroke-width="1.0" />
<path d="M1683.1,358.8A135.9,135.9 0 1 1 1693.7,180.1L1685.5,186.4A125.6,125.6 0 1 0 1675.7,351.6z" fill="#96cfd9" />
<path d="M1722.1,269.6A135.9,135.9 0 0 1 1687.6,354L1679.9,347.1A125.6,125.6 0 0 0 1711.8,269.1z" fill="#96cfd9" />
<path d="M1698.3,185.6A136.4,136.4 0 0 1 1713.6,214.5L1704.7,218A126.8,126.8 0 0 0 1690.4,191z" fill="#e8262b" />
<path d="M1715.9,220.8A136.4,136.4 0 0 1 1722.7,262.7L1713.1,262.7A126.8,126.8 0 0 0 1706.8,223.8z" fill="#e8262b" />
<path d="M1695.3,188.2A132.4,132.4 0 0 1 1703.2,201.2L1698.3,203.9A126.8,126.8 0 0 0 1690.7,191.4z" fill="#111" />
<path d="M1712.5,223.4A132.4,132.4 0 0 1 1718.7,262.2L1713.1,262.3A126.8,126.8 0 0 0 1707.2,225.1z" fill="#111" />
<path d="M1693.5,190.6A129.6,129.6 0 0 1 1700.3,201.8" fill="none" stroke="#5a5a5a" stroke-width="2.2" stroke-dasharray="0.9 3.0"/>
<path d="M1710.1,225.1A129.6,129.6 0 0 1 1715.9,261.4" fill="none" stroke="#5a5a5a" stroke-width="2.2" stroke-dasharray="0.9 3.0"/>
<path d="M1697.5,193.4A131.4,131.4 0 0 1 1699.2,196.1L1696.1,198A127.8,127.8 0 0 0 1694.4,195.3z" fill="#b0b0b0" />
<path d="M1700.2,197.9A131.4,131.4 0 0 1 1701.8,200.7L1698.6,202.4A127.8,127.8 0 0 0 1697.1,199.7z" fill="#b0b0b0" />
<path d="M1712,225.2A131.4,131.4 0 0 1 1712.9,228.3L1709.5,229.2A127.8,127.8 0 0 0 1708.6,226.2z" fill="#b0b0b0" />
<path d="M1714.1,232.7A131.4,131.4 0 0 1 1714.8,235.9L1711.3,236.6A127.8,127.8 0 0 0 1710.6,233.6z" fill="#b0b0b0" />
<path d="M1715.3,238.6A131.4,131.4 0 0 1 1715.9,241.7L1712.3,242.3A127.8,127.8 0 0 0 1711.8,239.2z" fill="#b0b0b0" />
<path d="M1716.5,245.8A131.4,131.4 0 0 1 1716.9,249L1713.3,249.4A127.8,127.8 0 0 0 1712.9,246.3z" fill="#b0b0b0" />
<path d="M1717.4,254A131.4,131.4 0 0 1 1717.6,257.2L1714,257.4A127.8,127.8 0 0 0 1713.8,254.3z" fill="#b0b0b0" />
<path d="M1694.6,180.9A136.2,136.2 0 0 1 1697.6,184.9L1690.1,190.2A127,127 0 0 0 1687.3,186.4z" fill="#7a7a7a" />
<path d="M1713.7,215.3A136.2,136.2 0 0 1 1715.4,220L1706.7,222.9A127,127 0 0 0 1705.1,218.5z" fill="#7a7a7a" />
<path d="M1722.5,263.6A136.2,136.2 0 0 1 1722.4,268.6L1713.2,268.3A127,127 0 0 0 1713.3,263.6z" fill="#7a7a7a" />
<path d="M1687.4,354.7A136.2,136.2 0 0 1 1683.9,358.4L1677.3,351.9A127,127 0 0 0 1680.5,348.5z" fill="#7a7a7a" />
<path d="M1681.9,357.6A134.2,134.2 0 1 1 1692.3,181.1" fill="none" stroke="#000" stroke-width="1.4" />
<path d="M1681.9,357.6A134.2,134.2 0 1 1 1692.3,181.1" fill="none" stroke="#000" stroke-width="3.2" stroke-dasharray="0.7 4.6"/>
<path d="M1720.4,269.5A134.2,134.2 0 0 1 1686.3,352.8" fill="none" stroke="#000" stroke-width="1.4" />
<path d="M1720.4,269.5A134.2,134.2 0 0 1 1686.3,352.8" fill="none" stroke="#000" stroke-width="3.2" stroke-dasharray="0.7 4.6"/>
<line x1="1694.9" y1="180.7" x2="1697.6" y2="178.6" stroke="#444" stroke-width="0.7" />
<line x1="1698.9" y1="186.3" x2="1701.7" y2="184.4" stroke="#444" stroke-width="0.7" />
<line x1="1713.9" y1="214.9" x2="1717.1" y2="213.7" stroke="#444" stroke-width="0.7" />
<line x1="1716.4" y1="222.1" x2="1719.7" y2="221.1" stroke="#444" stroke-width="0.7" />
<line x1="1722.8" y1="262.9" x2="1726.2" y2="262.9" stroke="#444" stroke-width="0.7" />
<line x1="1722.7" y1="269.6" x2="1726.1" y2="269.7" stroke="#444" stroke-width="0.7" />
<line x1="1688.1" y1="354.4" x2="1690.6" y2="356.6" stroke="#444" stroke-width="0.7" />
<line x1="1684.2" y1="358.6" x2="1686.6" y2="360.9" stroke="#444" stroke-width="0.7" />
<text x="1701.4" y="178.2" font-size="8.2" fill="#7e7e7e" transform="rotate(-36.5 1701.4 178.2)">47032272</text>
<text x="1705.4" y="186.1" font-size="8.2" fill="#7e7e7e" transform="rotate(-33 1705.4 186.1)">6690</text>
<text x="1719.7" y="215.9" font-size="8.2" fill="#7e7e7e" transform="rotate(-19.6 1719.7 215.9)">7905</text>
<text x="1722.1" y="223.4" font-size="8.2" fill="#7e7e7e" transform="rotate(-16.4 1722.1 223.4)">6</text>
<text x="1729.3" y="266.4" font-size="8.2" fill="#7e7e7e" transform="rotate(0 1729.3 266.4)">1599</text>
<text x="1728.1" y="273.8" font-size="8.2" fill="#7e7e7e" transform="rotate(0 1728.1 273.8)">47031779</text>
<text x="1691.8" y="357.7" font-size="8.2" fill="#7e7e7e" transform="rotate(42 1691.8 357.7)">47028374</text>
<text x="1685.3" y="364.5" font-size="8.2" fill="#7e7e7e" transform="rotate(43 1685.3 364.5)">47057324</text>
<text x="1733.7" y="177.6" font-size="12.5" font-style="italic" transform="rotate(-30 1733.7 177.6)">L1</text>
<text x="1752.6" y="225.9" font-size="12.7" font-style="italic">E6</text>
<text x="1753.8" y="236.2" font-size="12.7" font-style="italic">E7</text>
<text x="1755" y="247.7" font-size="12.7" font-style="italic">E1</text>
<path d="M1645,321.3A82.5,82.5 0 1 1 1651.5,212.8" fill="none" stroke="#2349a3" stroke-width="1.3" />
<path d="M1647.1,323.3l-.5,.8l-.8,.5l-.6,.7l-.7,.5l-.5,.8l-.9,.4l-.5,.7l-.8,.5l-.6,.6l-.7,.6l-.4,1l-1.2-.2l-.5,.8l-.8,.5l-.7,.6l-.5,.7l-.6,.8l-1,.1l-.9,.3l-.6,.7l-.9,.2l-.6,.7l-.6,.8l-.8,.4l-1,.1l-.6,.8h-1l-.3,1.3l-1.1-.1l-.5,1l-.9,.1l-1.1-.1l-.7,.5l-.7,.8l-.7,.6l-1-.1l-.7,.6l-.9,.3l-.9,.2l-.7,.6h-1l-.7,.5l-1-.1l-.7,.9l-.8,.2l-.9,.4l-.9,.1h-.9l-.7,1l-1-.3l-.8,.4l-.9,.1l-.9,.1l-.7,.8l-1.1-.5l-.9,.1l-.9,.2l-.8,.2l-.9,.3l-.9-.1l-.9,.2l-.9,.1l-.9,.2l-.9,.1l-.8,.1l-.9,.4l-.9-.2l-.9-.1l-.9,.2h-.9l-.9,.4l-.9-.4l-.9-.2l-.9,1l-.9-.7l-.9-.1l-.9,.4l-.9-.5l-.9-.1l-.9-.1l-.8-.4l-1,.5l-.8-.8l-.9,.1l-.9,.1l-.8-.6l-1,.3l-.8-.6l-.8-.1l-1,.2l-.8-.6l-.8-.3l-.9-.1h-.9l-.9-.2l-.8-.4l-.9,.1l-1,.2l-.7-.7l-.8-.4l-1,.2l-.8-.2l-.9-.2l-.8-.5l-.8-.4l-.7-.5l-.8-.4l-1,.1l-.8-.4l-.7-.6l-1,.1l-.8-.3l-.7-.6l-.9-.3l-.7-.5l-.8-.4l-.8-.4l-1.1,.2l-.6-.7l-.9-.2l-.8-.3l-.6-.8l-.8-.3l-.8-.4l-.7-.7l-.7-.4l-.9-.2l-.6-.8l-.8-.3l-.9-.3l-.5-.8l-.7-.5l-.8-.5l-.7-.5l-.8-.4l-.7-.5l-.9-.2l-.4-.9l-.7-.6l-.7-.5l-.7-.6l-.6-.6l-.7-.5l-.8-.4l-.5-.9l-.6-.5l-.5-.8l-1-.3l-.5-.7l-.6-.6l-.7-.6l-.5-.7l-.8-.5l-.6-.6l-.4-.8l-.5-.8l-.7-.6l-.6-.5l-.8-.5l-.7-.6l-.3-.9l-.3-.8l-.9-.5l-.4-.8l-.6-.7l-.5-.7l-.2-.9l-.7-.6l-.2-.9l-.6-.7l-.7-.5l-.3-.9l-.7-.6l-.1-1l-.6-.6l-.4-.8l-.5-.8l-.5-.7l-.1-.9l-1.1-.4l.3-1.2l-.4-.7l-.5-.8l-.7-.6l-.1-.9l-.1-.9l-.5-.8l-.4-.8l-.5-.7l-.2-.9l-.3-.8l-.5-.8l.1-.9l-.3-.8l-.6-.8l-.6-.7l-.1-.9l.1-.9l-.1-.9l-.5-.8l-.1-.9l-.4-.8l-.1-.9v-.9l-.2-.8l-.2-.9l-.1-.8l-.3-.9v-.9l-.5-.8v-.9v-.9l-.3-.8l.1-.9l-.3-.8l-.1-.9l-.2-.9l.2-.9v-.9l-.2-.8l.1-.9l.1-.9l-.2-.8l-.1-.9l.2-.9l-.4-.9l-.2-.9l.3-.8l.2-.9l.1-.9l-.4-.9l.3-.8l.5-.9l-.4-.9l.3-.8v-.9l.3-.9v-.9v-.8l.2-.9v-.9l.4-.8l.3-.9v-.8l.2-.9l.2-.8l-.1-1l.5-.7l.1-.9v-.9l.6-.8l.3-.8l-.7-1.1l1.1-.6l.3-.8l.1-.9l.4-.8l.1-.9l.6-.7l.1-.9l.2-.9l.6-.7l.4-.8l.1-.8l.5-.8l.1-.9l.7-.7l.3-.8l.4-.7l.3-.9l.2-.9l.3-.8l.5-.7l.7-.7l.4-.7l.5-.8l.1-.9l.8-.5l.1-1l.9-.5l.3-.8l.6-.7l.4-.8l.5-.7l.6-.6l.3-.9l.7-.6l.1-1l1-.4l.4-.7l.6-.7l.6-.6l.4-.9l.6-.6l.7-.5l.2-1l1-.3l.6-.7l.6-.6l.6-.7l.6-.6l.4-.8l1-.3l.4-.8l.8-.4l.7-.6l.4-.8l.9-.3l.3-1l.9-.4l.9-.2l.6-.7l.5-.7l.7-.6l.7-.4l.6-.8l.9-.2l.7-.6l.5-.7l1-.2l.7-.5l.9-.3l.6-.5l.8-.4l.8-.5l.7-.4l.8-.4l.7-.6l.8-.3l.7-.5l1-.1l.7-.6l.6-.6l1-.1l.7-.5l.8-.4l.8-.5h.9l.8-.3l.7-.6l.9-.1l.7-.6l1,.1l.7-.8l.8-.1h1l.7-.6l.9-.2h.9l.7-.5l1,.1l.8-.4l.8-.2l.9-.3l.8-.1l.9-.1h.9l.8-.7l1,.4l.8-.3l.9-.2h.8l.8-.7l.9,.2l1,.3l.8-.3l.9-.1l.8-.1h.9h.9l.9-.3h.9l.8,.2l.9-.2h.9l.9,.2l.8-.1l.9,.1l.9-.4l.9,.2l.8,.3l.9-.2l.9,.4l.9,.1l.9-.3l.8,.5l.9-.4l.9,.4l.8,.2l.9-.1l.9,.2l.9,.2l.8,.2l.9,.2l.8,.2l.9,.1l.8,.3h.9l.9,.2l.8,.4l.9,.1l.8,.5h.9l.9,.1l.7,.6l.9,.2h.9l.7,.7l.8,.2l.8,.4h1l.7,.6h.9l.7,.5l.8,.5l.9,.2l.9,.1l.7,.6l.8,.3l.7,.5l.8,.4l.9,.2l.7,.6l.8,.3l.8,.5l.7,.6l.8,.4l.7,.5l.6,.6l.7,.5l.8,.4l.7,.6l.8,.4l.9,.2l.7,.6l.6,.6l.7,.6l.7,.5l.7,.5l.6,.6l1.1,.2l.2,1.1l.9,.3l.8,.4l.5,.7l.7,.6l.5,.8l.7,.4l.4,1l.6,.6l.7,.5l.5,.7l.7,.6l.8,.5l.3,.9l.7,.5l.6,.7l.4,.8l.6,.6l.8,.5l.5,.8l.5,.7l-1.2,.9l-3.8-4.7l-4.2-4.3l-4.6-4l-4.8-3.7l-5-3.3l-5.3-3l-5.5-2.5l-5.6-2.1l-5.8-1.7l-5.9-1.3l-6-.9l-6-.4l-6.1,.1l-6,.5l-5.9,.9l-5.9,1.3l-5.8,1.8l-5.6,2.2l-5.5,2.6l-5.2,3l-5,3.4l-4.8,3.8l-4.4,4l-4.2,4.4l-3.8,4.7l-3.4,5l-3.1,5.2l-2.7,5.4l-2.3,5.5l-1.9,5.8l-1.5,5.9l-1,5.9l-.6,6l-.1,6.1l.3,6l.8,6l1.1,5.9l1.7,5.8l2,5.7l2.5,5.5l2.8,5.4l3.2,5.1l3.6,4.8l4,4.6l4.2,4.3l4.6,3.9l4.9,3.6l5.1,3.3l5.3,2.8l5.5,2.5l5.7,2l5.8,1.6l5.9,1.2l6,.8l6.1,.3l6-.1l6-.6l6-1l5.8-1.5l5.8-1.8l5.6-2.3l5.4-2.7l5.2-3.1l4.9-3.5l4.7-3.8l4.4-4.1z" fill="#2349a3"/>
<path d="M1654,216.3A82.5,82.5 0 0 1 1663.3,233.8" fill="none" stroke="#2349a3" stroke-width="1.3" />
<path d="M1659.7,212.4l2.9-.8l.1,1.2l3.1-.8l2-.1l3.3-.8l.6,.9l1.9,.2l-1,1.8l1.2,.6l.8,.8l.8,.8l3.7-.6l-1,1.8h2.5l-.6,1.5l.5,1l3.9-.5l-1.4,2l2.3,.2l-3.3,2.6l-8.4,4.6l-10.2,5l-.3,.1l-.3-.8l-.3-.9l-.4-.8l-.3-.8l-.4-.9l-.4-.8l-.3-.8l-.4-.8l-.4-.8l-.4-.8l-.5-.8l-.4-.8l-.4-.8l-.5-.8l-.4-.8l-.5-.7l-.5-.8l-.4-.8l-.5-.7l-.5-.8l-.5-.7l-.5-.8z" fill="#2349a3"/>
<path d="M1664.7,237.6A82.5,82.5 0 0 1 1668.8,263" fill="none" stroke="#2349a3" stroke-width="1.3" />
<path d="M1669.5,236.1l.3,.8l-.3,1.1l.2,.9l.7,.8l-.2,1l.8,.8l-.4,1.1l.9,.7l-.3,1l-.2,1.1l.7,.8l.3,.9l-.3,1l.2,.9l.2,.9l-.5,1l.4,.9l.4,.9l.3,.9l-.3,1l-.2,.9l.5,.9l.2,.9l-.9,1l.3,.9l.7,.9l-.5,1l-.1,.9l.1,.9l-3.9,.1v-.9v-.9l-.1-.9v-.9v-.9l-.1-.8l-.1-.9v-.9l-.1-.9l-.1-.9l-.1-.9l-.1-.8l-.2-.9l-.1-.9l-.1-.9l-.2-.8l-.2-.9l-.1-.9l-.2-.8l-.2-.9l-.2-.9l-.2-.8l-.2-.9l-.2-.9l-.3-.8l-.2-.9l-.3-.8l-.2-.9l-.3-.8z" fill="#2349a3"/>
<path d="M1668.7,267.1A82.5,82.5 0 0 1 1647.8,318.4" fill="none" stroke="#2349a3" stroke-width="1.3" />
<path d="M1672.6,267.3l.1,.9l-.4,.9l-.2,.9v.9v.9l-.1,.9l-.2,.9l-.1,.9l.2,1l-.2,.9l-.1,.9l-.7,.8l-.2,.9l.2,.9l-.6,.8v.9l-.1,1l.6,1l-.5,.8l-1.2,.7l.2,1l-.1,.9l-.5,.8l-.3,.8l.1,1l-.4,.8l-.1,.9l-1,.7v.9l-.7,.7l-.1,.9l-.5,.8v1l-.3,.9l-.3,.8l-.8,.6l-.1,1l-.7,.7l-.3,.8l-.3,.9l-.4,.8l-.3,.9l-1,.4l.2,1.2l-.6,.7l-.6,.6l-.5,.8l-.2,.9l-.7,.7l-.6,.7l-.1,.9l-.9,.6l-.6,.7l-.2,.9l-.4,.8l-.8,.5l-.8,.6l-.4,.8l-.3,.9l-.4,.8l-.7,.7l-1,.2l-.5,.8l-.6,.7l-.5,.7l-2.3-2l.5-.7l.6-.6l.6-.7l.5-.7l.6-.6l.5-.7l.5-.7l.5-.7l.6-.7l.5-.7l.5-.7l.5-.7l.5-.7l.4-.7l.5-.8l.5-.7l.4-.7l.5-.8l.4-.7l.5-.8l.4-.7l.4-.8l.4-.8l.4-.7l.4-.8l.4-.8l.4-.7l.3-.8l.4-.8l.4-.8l.3-.8l.3-.8l.4-.8l.3-.8l.3-.8l.3-.8l.3-.8l.3-.9l.2-.8l.3-.8l.3-.8l.2-.9l.3-.8l.2-.8l.2-.9l.2-.8l.2-.8l.2-.9l.2-.8l.2-.9l.2-.8l.1-.9l.2-.8l.1-.9l.2-.8l.1-.9l.1-.9l.1-.8l.1-.9l.1-.8l.1-.9l.1-.9v-.8l.1-.9v-.9z" fill="#2349a3"/>
<path d="M1610.7,287.4A34.2,34.2 0 1 1 1613.3,242.4" fill="none" stroke="#2349a3" stroke-width="1.3" />
<path d="M1612.1,288.8l-.3,.3l-.4,.1l-.3,.3l-.2,.3l-.1,.4l-.4,.2l-.2,.3l-.4,.1l-.2,.4l-.3,.2l-.2,.3l-.3,.3l-.1,.5l-.6-.1l-.3,.1l-.4,.2l-.3,.2l-.2,.4v.7l-.7-.4l-.2,.3l-.4,.1l-.4,.2l-.2,.4h-.4l-.2,.4l-.3,.4v.7l-.7-.5v.8l-.2,.5l-.5-.2l-.1,.7l-.6-.2l-.2,.3l-.4,.2l-.2,.5h-.4l-.4,.2l-.3,.3l-.3,.3l-.3,.4l-.5-.2l-.3,.3l-.5-.1l-.2,.6l-.4,.1l-.3,.1l-.3,.7l-.4-.1l-.5-.1l-.3,.3l-.5-.1l-.4-.1l-.4-.1l-.5-.1l-.3,.3l-.4-.1l-.5-.3l-.4-.1h-.4l-.4,.4l-.4-.5l-.4,.4l-.4-.4l-.4-.1l-.4-.1l-.4-.4l-.3,.9l-.5-.5l-.3,.1l-.4,.1l-.4-.3l-.4-.2h-.4l-.4-.1l-.3-.1h-.4l-.4-.2l-.4-.2l-.4,.3l-.3-.3l-.4-.1l-.4-.1l-.4,.5l-.3-.6h-.4h-.4h-.3l-.5,.4l-.3-.2l-.4-.2l-.3-.3h-.4h-.4l-.3-.3l-.4,.1l-.4-.1l-.3-.2h-.4l-.3-.3l-.4-.1l-.3-.1l-.4-.1l-.5,.3l-.3-.3l-.3-.1l-.3-.4h-.4l-.3-.2l-.4-.2l-.3-.1l-.3-.3l-.3-.1l-.4-.1l-.6,.3l-.3-.2l-.1-.6l-.3-.2l-.7,.5v-.8h-.4l-.3-.3l-.3-.2l-.3-.2l-.3-.3h-.4l-.3-.3l-.3-.1l-.3-.3l-.7,.3l.1-.8h-.4l-.3-.3l-.3-.2l-.3-.3l-.3-.2l-.5,.1l-.1-.4l-.4-.2l-.1-.5l-.2-.3l-.4-.1l-.2-.3l-.2-.3l-.6,.1l-.4-.2l-.3-.2l.2-.7l-.3-.3l-.3-.2h-.5v-.5l-.5-.1l-.4-.1l.2-.7l-.5-.1l-.3-.2l-.1-.4l-.1-.4l-.5-.1l.1-.5l-.5-.1l-.4-.2l.1-.5l-.3-.2v-.5l-.4-.2l-.1-.3l-.2-.4l-.2-.3l-.4-.2l-.1-.4l-.2-.3v-.4l-.1-.4l-.3-.2l-.2-.3l-.2-.4l-.5-.1l.3-.6l-.4-.2l-.1-.4l-.2-.3v-.4l-.3-.3l.1-.4l-.3-.3l-.5-.2l.1-.4l-.2-.4l.2-.4l-.4-.3l.2-.4l-.6-.2l-.5-.3l.4-.5l-.2-.3l.2-.5l-.1-.3l-.1-.4v-.3l-.4-.4l.1-.4v-.3l-.2-.4l.1-.4l-.3-.3v-.4l-.3-.3l.2-.4l-.3-.3l.3-.4l-.1-.4l-.1-.4l.1-.4l-.3-.3l.2-.4l-.2-.3l.1-.4l.1-.4l-.3-.4v-.3v-.4l.1-.4l.2-.3l-.2-.4v-.4l.1-.4l.1-.3l-.2-.4l.1-.4l-.1-.3l.2-.4v-.4v-.4l-.1-.3l-.4-.5l.4-.3l.1-.3l.3-.4l.1-.3l.1-.4l-.1-.4l.1-.4l.2-.3l.1-.4l-.4-.4l.5-.3l-.3-.5l.2-.3l.5-.2l.1-.4v-.4l-.4-.5l.5-.2l.1-.4l.1-.3l.2-.4l.3-.2l.1-.4l-.3-.5l.8-.1l-.2-.5l-.2-.5h.8l-.1-.5l.2-.3l.1-.4l.3-.2l.2-.4l.2-.3l-.2-.5l.2-.3l.4-.2v-.4v-.5l.3-.3l.1-.3l.4-.2l.4-.2l.2-.3l.2-.3l.2-.3l.1-.4l.4-.2l.3-.2l.2-.3l-.1-.6l.4-.1l-.1-.6h.5l.5-.2v-.4l.5-.1l.2-.3l.2-.3l.2-.3l.3-.3l.3-.1l.2-.4l.4-.2v-.4l.4-.1l.3-.3l.2-.3l.4-.2l.1-.4l.4-.1l.2-.3l.2-.3l.2-.5h.4h.5l.2-.3h.5l.3-.2l-.1-.8l.7,.3l.2-.2l.3-.3h.4l.3-.3l.1-.6l.5,.1l.3-.1l.1-.5l.5-.1l.2-.3l.5,.1l.3-.2l.3-.1l.4-.1l.3-.2l.2-.6l.5,.3l.3-.3l.1-.6l.7,.6l.3-.3l.3-.1l.4-.1l.3-.2l.4-.1l.3-.2l.3-.2l.4,.1h.4l.2-.6l.5,.4l.4-.2l.2-.4l.5,.3l.3-.4l.4,.1l.3-.2l.4,.1l.4,.1l.3-.4l.3-.6l.4,.1l.5,.6l.3-.5l.4,.2l.3-.1h.4l.4-.2l.4,.2l.3,.1l.4-.3l.4,.2l.3-.4l.4,.3l.4,.1l.4-.6l.3,.4l.4,.1l.4-.3l.3,.2l.4,.1l.4-.2l.4-.1l.3,.3l.4-.3l.4,.4l.3,.1l.5-.4h.3l.4,.4l.4-.2l.3,.2l.4,.1h.4l.4-.1l.3,.2l.3,.2l.4,.2l.3,.1h.4l.4-.1l.4,.3l.4-.1l.2,.4l.5-.3l.3,.2h.5h.3l.3,.4l.3,.4l.3,.1l.4,.1l.3,.2l.5-.2l.2,.4h.4l.4,.2l.3,.1h.4l.3,.4l.2,.3l.5-.2l.3,.3l.3,.3l.3,.2h.4l.3,.2l.3,.4h.4l.2,.4l.5-.1l.3,.2l.3,.3h.4l.1,.5l.3,.3h.4v.7l.4,.1l.2,.3l.5-.1l.4,.1l.2,.4l.3,.3l.5-.1v.7l.4,.1l.1,.4l.4,.1l.3,.2l.3,.3v.5l.2,.4l.3,.2l.4,.1l.3,.2l.3,.3v.5l.3,.2l.3,.2l.2,.4l.5,.1l.1,.4l-1.4,1.1l-1.6-2l-1.8-1.7l-1.8-1.7l-2-1.5l-2.1-1.4l-2.2-1.2l-2.2-1.1l-2.4-.8l-2.4-.7l-2.4-.6l-2.5-.3l-2.5-.2h-2.5l-2.5,.2l-2.4,.4l-2.5,.6l-2.3,.7l-2.4,.9l-2.2,1.1l-2.2,1.2l-2,1.4l-2,1.6l-1.8,1.7l-1.8,1.8l-1.5,1.9l-1.5,2.1l-1.2,2.1l-1.2,2.2l-.9,2.3l-.8,2.4l-.6,2.4l-.4,2.5l-.2,2.5l-.1,2.5l.1,2.5l.3,2.4l.5,2.5l.7,2.4l.8,2.3l1.1,2.3l1.1,2.2l1.4,2.1l1.5,2l1.6,1.9l1.7,1.8l1.9,1.6l2,1.5l2.1,1.4l2.2,1.1l2.3,1l2.4,.9l2.4,.7l2.4,.5l2.5,.3l2.5,.1l2.5-.1l2.5-.2l2.4-.4l2.4-.6l2.4-.8l2.3-.9l2.3-1.1l2.1-1.3l2.1-1.4l1.9-1.6l1.8-1.7z" fill="#2349a3"/>
<path d="M1614.4,243.9A34.2,34.2 0 0 1 1618.2,251.1" fill="none" stroke="#2349a3" stroke-width="1.3" />
<path d="M1615.4,243.2l4.8-2.8l4-2.1l4.5-2.3l3-1.3l3.9-1.7l.8,.2l2.3-.6h1.4l.6,.5l.8,.3l-.3,.9l4.5-1.5l.1,.7l-.1,.9l3.4-.8l.8,.5l3.4-.7l.9,.5l-12.6,6.2l-9,4.4l-6.5,3.1l-7.5,3.4l-.6,.2l-.1-.3l-.1-.4l-.2-.3l-.1-.4l-.2-.3l-.1-.3l-.2-.4l-.1-.3l-.2-.3l-.2-.4l-.2-.3l-.1-.3l-.2-.4l-.2-.3l-.2-.3l-.2-.3l-.2-.3l-.2-.4l-.2-.3l-.2-.3l-.2-.3l-.2-.3z" fill="#2349a3"/>
<path d="M1618.8,252.7A34.2,34.2 0 0 1 1620.5,263.2" fill="none" stroke="#2349a3" stroke-width="1.3" />
<path d="M1625,250.7l.4,.3l.9,.2l-.4,.6l-.5,.6l.9,.2l-.8,.7l.7,.2l-.2,.5l-.5,.6l.1,.4l.5,.4l-.4,.5l.2,.4l.1,.4l-.5,.5l-.2,.5l.2,.4l-.4,.5l-.3,.4l-.1,.5l.3,.3l-.2,.5l-.4,.4l.3,.4l-.4,.5l.3,.4l-.5,.4l-.3,.4l-.2,.4h-3.3v-.3v-.4v-.4v-.3l-.1-.4v-.4v-.3v-.4l-.1-.4v-.3l-.1-.4v-.4l-.1-.3v-.4l-.1-.3v-.4l-.1-.4l-.1-.3v-.4l-.1-.3l-.1-.4l-.1-.4l-.1-.3l-.1-.4l-.1-.3l-.1-.4l-.1-.3l-.1-.4l-.1-.3z" fill="#2349a3"/>
<path d="M1620.5,265A34.2,34.2 0 0 1 1611.8,286.2" fill="none" stroke="#2349a3" stroke-width="1.3" />
<path d="M1625.5,265.2l-.5,.4l-.2,.4l.8,.4l-.5,.4l-.5,.4v.4l-.3,.3l.4,.5l.1,.4l.1,.5l-.4,.3l.2,.5l-.3,.3l-.2,.4l.4,.5l-.3,.3l.2,.5l.1,.5l-.5,.3l-.4,.3v.4l-.1,.4l-.4,.3l.4,.6l.1,.4l-.7,.2l-.1,.4l.1,.5l.1,.5l-.5,.2l-.4,.3l-.2,.4v.4l-.4,.3l.1,.5l-.5,.2l.1,.5l-.5,.1v.5l-.3,.3l-.1,.4l-.5,.2l.5,.7l-.4,.3l-.1,.4h-.9l.2,.5l-.6,.1l.1,.6l-.2,.3l-.1,.4l-.3,.3l-.2,.3l-.4,.3h-.6l-.2,.4l.1,.6l-.3,.3l-.3,.2l-.3,.3l-.2,.4l-.2,.3l-.3,.2l-.1,.5h-.7l-2.8-2.5l.3-.3l.2-.3l.2-.2l.3-.3l.2-.3l.2-.3l.2-.3l.3-.2l.2-.3l.2-.3l.2-.3l.2-.3l.2-.3l.2-.3l.2-.3l.2-.3l.2-.3l.2-.3l.1-.3l.2-.3l.2-.3l.2-.4l.1-.3l.2-.3l.2-.3l.1-.3l.2-.4l.1-.3l.2-.3l.1-.3l.2-.4l.1-.3l.1-.3l.2-.4l.1-.3l.1-.3l.2-.4l.1-.3l.1-.3l.1-.4l.1-.3l.1-.4l.1-.3l.1-.3l.1-.4l.1-.3l.1-.4v-.3l.1-.4l.1-.3l.1-.4v-.3l.1-.4l.1-.3v-.4l.1-.4v-.3l.1-.4v-.3v-.4l.1-.3v-.4v-.3v-.4l.1-.4z" fill="#2349a3"/>
</g>
<text x="1387.3" y="254.6" font-size="13" font-style="italic">EYA2</text>
<rect x="1328.1" y="138" width="21.8" height="8" fill="#96cfd9" />
<line x1="1328.1" y1="149.2" x2="1350.7" y2="149.2" stroke="#000" stroke-width="1.2" />
<line x1="1328.1" y1="155.6" x2="1349.9" y2="155.6" stroke="#c4c4c4" stroke-width="1.0" />
<line x1="1328.1" y1="171.2" x2="1349.9" y2="171.2" stroke="#c4c4c4" stroke-width="1.0" />
<line x1="1328.1" y1="186.6" x2="1349.9" y2="186.6" stroke="#c4c4c4" stroke-width="1.0" />
<line x1="1328.1" y1="202.2" x2="1349.9" y2="202.2" stroke="#c4c4c4" stroke-width="1.0" />
<line x1="1328.1" y1="217.6" x2="1349.9" y2="217.6" stroke="#c4c4c4" stroke-width="1.0" />
<line x1="1328.1" y1="226.2" x2="1350.7" y2="226.2" stroke="#000" stroke-width="1.2" />
<rect x="1328.1" y="227.5" width="21.8" height="76" fill="#dcdcdc" />
<line x1="1328.1" y1="233.2" x2="1349.9" y2="233.2" stroke="#fff" stroke-width="1.2" />
<line x1="1328.1" y1="248.6" x2="1349.9" y2="248.6" stroke="#fff" stroke-width="1.2" />
<line x1="1328.1" y1="263.9" x2="1349.9" y2="263.9" stroke="#fff" stroke-width="1.2" />
<line x1="1328.1" y1="279.6" x2="1349.9" y2="279.6" stroke="#fff" stroke-width="1.2" />
<line x1="1328.1" y1="294.9" x2="1349.9" y2="294.9" stroke="#fff" stroke-width="1.2" />
<text x="1325.9" y="157.1" font-size="4.6" fill="#222" text-anchor="end">15.0</text>
<text x="1325.9" y="172.7" font-size="4.6" fill="#222" text-anchor="end">11.25</text>
<text x="1325.9" y="188.1" font-size="4.6" fill="#222" text-anchor="end">7.5</text>
<text x="1325.9" y="203.7" font-size="4.6" fill="#222" text-anchor="end">3.75</text>
<text x="1325.9" y="219.1" font-size="4.6" fill="#222" text-anchor="end">0.0</text>
<text x="1325.9" y="234.7" font-size="4.6" fill="#222" text-anchor="end">9.0</text>
<text x="1325.9" y="250.1" font-size="4.6" fill="#222" text-anchor="end">6.75</text>
<text x="1325.9" y="265.4" font-size="4.6" fill="#222" text-anchor="end">4.5</text>
<text x="1325.9" y="281.1" font-size="4.6" fill="#222" text-anchor="end">2.25</text>
<text x="1325.9" y="296.4" font-size="4.6" fill="#222" text-anchor="end">0.0</text>
<rect x="1289.8" y="165.2" width="16" height="45" fill="#000" />
<text x="1299.9" y="187.7" font-size="6.1" fill="#fff" text-anchor="middle" transform="rotate(-90 1299.9 187.7)">Primary data</text>
<text x="1286.4" y="187.7" font-size="7.4" fill="#222" text-anchor="middle" transform="rotate(-90 1286.4 187.7)">ATAC rep2</text>
<rect x="1289.8" y="241.9" width="16" height="45.6" fill="#000" />
<text x="1299.9" y="264.7" font-size="6.1" fill="#fff" text-anchor="middle" transform="rotate(-90 1299.9 264.7)">Primary data</text>
<text x="1286.4" y="264.7" font-size="7.4" fill="#222" text-anchor="middle" transform="rotate(-90 1286.4 264.7)">ATAC rep1</text>
<g transform="translate(1587.2 659.3) scale(0.999 0.985) translate(-1587.2 -659.3)">
<path fill-rule="evenodd" fill="#dcdcdc" d="M1462.4,659.3a124.8,124.8 0 1 0 249.6,0a124.8,124.8 0 1 0 -249.6,0zM1493.2,659.3a94,94 0 1 0 188,0a94,94 0 1 0 -188,0z"/>
<path d="M1657.5,728.6A98.7,98.7 0 1 1 1665.2,598.8" fill="none" stroke="#fbfbfb" stroke-width="1.0" />
<path d="M1661,732.1A103.7,103.7 0 1 1 1669.1,595.7" fill="none" stroke="#fbfbfb" stroke-width="1.0" />
<path d="M1664.5,735.6A108.6,108.6 0 1 1 1673,592.7" fill="none" stroke="#fbfbfb" stroke-width="1.0" />
<path d="M1668.1,739.1A113.6,113.6 0 1 1 1677,589.7" fill="none" stroke="#fbfbfb" stroke-width="1.0" />
<path d="M1671.6,742.5A118.5,118.5 0 1 1 1680.8,586.7" fill="none" stroke="#fbfbfb" stroke-width="1.0" />
<path d="M1674.9,745.8A123.2,123.2 0 1 1 1684.5,583.8" fill="none" stroke="#fbfbfb" stroke-width="1.0" />
<path d="M1668.2,603A98.7,98.7 0 0 1 1679.3,623.9" fill="none" stroke="#fbfbfb" stroke-width="1.0" />
<path d="M1672.4,600.1A103.7,103.7 0 0 1 1684,622.1" fill="none" stroke="#fbfbfb" stroke-width="1.0" />
<path d="M1676.4,597.3A108.6,108.6 0 0 1 1688.6,620.4" fill="none" stroke="#fbfbfb" stroke-width="1.0" />
<path d="M1680.5,594.5A113.6,113.6 0 0 1 1693.3,618.6" fill="none" stroke="#fbfbfb" stroke-width="1.0" />
<path d="M1684.5,591.7A118.5,118.5 0 0 1 1697.8,616.8" fill="none" stroke="#fbfbfb" stroke-width="1.0" />
<path d="M1688.4,589A123.2,123.2 0 0 1 1702.2,615.1" fill="none" stroke="#fbfbfb" stroke-width="1.0" />
<path d="M1681,628.5A98.7,98.7 0 0 1 1685.9,658.8" fill="none" stroke="#fbfbfb" stroke-width="1.0" />
<path d="M1685.7,626.9A103.7,103.7 0 0 1 1690.9,658.8" fill="none" stroke="#fbfbfb" stroke-width="1.0" />
<path d="M1690.4,625.4A108.6,108.6 0 0 1 1695.8,658.7" fill="none" stroke="#fbfbfb" stroke-width="1.0" />
<path d="M1695.1,623.8A113.6,113.6 0 0 1 1700.8,658.7" fill="none" stroke="#fbfbfb" stroke-width="1.0" />
<path d="M1699.8,622.3A118.5,118.5 0 0 1 1705.7,658.7" fill="none" stroke="#fbfbfb" stroke-width="1.0" />
<path d="M1704.2,620.8A123.2,123.2 0 0 1 1710.4,658.7" fill="none" stroke="#fbfbfb" stroke-width="1.0" />
<path d="M1685.8,663.8A98.7,98.7 0 0 1 1660.8,725.1" fill="none" stroke="#fbfbfb" stroke-width="1.0" />
<path d="M1690.8,664A103.7,103.7 0 0 1 1664.5,728.4" fill="none" stroke="#fbfbfb" stroke-width="1.0" />
<path d="M1695.7,664.2A108.6,108.6 0 0 1 1668.2,731.7" fill="none" stroke="#fbfbfb" stroke-width="1.0" />
<path d="M1700.7,664.5A113.6,113.6 0 0 1 1671.9,735" fill="none" stroke="#fbfbfb" stroke-width="1.0" />
<path d="M1705.6,664.7A118.5,118.5 0 0 1 1675.5,738.3" fill="none" stroke="#fbfbfb" stroke-width="1.0" />
<path d="M1710.3,664.9A123.2,123.2 0 0 1 1679,741.4" fill="none" stroke="#fbfbfb" stroke-width="1.0" />
<path d="M1629.2,700.7A59,59 0 1 1 1633.8,623.1" fill="none" stroke="#a6a6a6" stroke-width="0.7" />
<path d="M1632.8,704.2A64,64 0 1 1 1637.8,620.1" fill="none" stroke="#a6a6a6" stroke-width="0.7" />
<path d="M1636.4,707.8A69.1,69.1 0 1 1 1641.8,616.9" fill="none" stroke="#a6a6a6" stroke-width="0.7" />
<path d="M1640,711.4A74.2,74.2 0 1 1 1645.8,613.8" fill="none" stroke="#a6a6a6" stroke-width="0.7" />
<path d="M1643.6,714.9A79.2,79.2 0 1 1 1649.8,610.8" fill="none" stroke="#a6a6a6" stroke-width="0.7" />
<path d="M1647.2,718.5A84.3,84.3 0 1 1 1653.8,607.6" fill="none" stroke="#a6a6a6" stroke-width="0.7" />
<path d="M1650.8,722A89.3,89.3 0 1 1 1657.8,604.6" fill="none" stroke="#a6a6a6" stroke-width="0.7" />
<path d="M1635.6,625.6A59,59 0 0 1 1642.3,638.2" fill="none" stroke="#a6a6a6" stroke-width="0.7" />
<path d="M1639.8,622.8A64,64 0 0 1 1646.9,636.4" fill="none" stroke="#a6a6a6" stroke-width="0.7" />
<path d="M1643.9,619.9A69.1,69.1 0 0 1 1651.7,634.5" fill="none" stroke="#a6a6a6" stroke-width="0.7" />
<path d="M1648.1,617A74.2,74.2 0 0 1 1656.5,632.7" fill="none" stroke="#a6a6a6" stroke-width="0.7" />
<path d="M1652.2,614.1A79.2,79.2 0 0 1 1661.1,630.9" fill="none" stroke="#a6a6a6" stroke-width="0.7" />
<path d="M1656.4,611.2A84.3,84.3 0 0 1 1665.9,629.1" fill="none" stroke="#a6a6a6" stroke-width="0.7" />
<path d="M1660.5,608.3A89.3,89.3 0 0 1 1670.6,627.3" fill="none" stroke="#a6a6a6" stroke-width="0.7" />
<path d="M1643.2,640.9A59,59 0 0 1 1646.2,659" fill="none" stroke="#a6a6a6" stroke-width="0.7" />
<path d="M1648,639.3A64,64 0 0 1 1651.2,659" fill="none" stroke="#a6a6a6" stroke-width="0.7" />
<path d="M1652.8,637.7A69.1,69.1 0 0 1 1656.3,658.9" fill="none" stroke="#a6a6a6" stroke-width="0.7" />
<path d="M1657.7,636.1A74.2,74.2 0 0 1 1661.4,658.9" fill="none" stroke="#a6a6a6" stroke-width="0.7" />
<path d="M1662.4,634.6A79.2,79.2 0 0 1 1666.4,658.9" fill="none" stroke="#a6a6a6" stroke-width="0.7" />
<path d="M1667.3,633A84.3,84.3 0 0 1 1671.5,658.9" fill="none" stroke="#a6a6a6" stroke-width="0.7" />
<path d="M1672,631.4A89.3,89.3 0 0 1 1676.5,658.8" fill="none" stroke="#a6a6a6" stroke-width="0.7" />
<path d="M1646.1,662A59,59 0 0 1 1631.2,698.6" fill="none" stroke="#a6a6a6" stroke-width="0.7" />
<path d="M1651.1,662.2A64,64 0 0 1 1634.9,702" fill="none" stroke="#a6a6a6" stroke-width="0.7" />
<path d="M1656.2,662.4A69.1,69.1 0 0 1 1638.7,705.4" fill="none" stroke="#a6a6a6" stroke-width="0.7" />
<path d="M1661.3,662.7A74.2,74.2 0 0 1 1642.5,708.8" fill="none" stroke="#a6a6a6" stroke-width="0.7" />
<path d="M1666.3,662.9A79.2,79.2 0 0 1 1646.2,712.1" fill="none" stroke="#a6a6a6" stroke-width="0.7" />
<path d="M1671.4,663.1A84.3,84.3 0 0 1 1650,715.5" fill="none" stroke="#a6a6a6" stroke-width="0.7" />
<path d="M1676.4,663.4A89.3,89.3 0 0 1 1653.8,718.8" fill="none" stroke="#a6a6a6" stroke-width="0.7" />
<path fill-rule="evenodd" fill="#dcdcdc" d="M1531.2,659.3a56,56 0 1 0 112,0a56,56 0 1 0 -112,0zM1568.8,659.3a18.4,18.4 0 1 0 36.8,0a18.4,18.4 0 1 0 -36.8,0z"/>
<path d="M1606.2,678A26.7,26.7 0 1 1 1608.3,642.9" fill="none" stroke="#fbfbfb" stroke-width="1.0" />
<path d="M1610,681.8A32,32 0 1 1 1612.5,639.7" fill="none" stroke="#fbfbfb" stroke-width="1.0" />
<path d="M1613.8,685.5A37.3,37.3 0 1 1 1616.7,636.4" fill="none" stroke="#fbfbfb" stroke-width="1.0" />
<path d="M1617.5,689.2A42.6,42.6 0 1 1 1620.9,633.2" fill="none" stroke="#fbfbfb" stroke-width="1.0" />
<path d="M1621.3,692.9A47.9,47.9 0 1 1 1625,629.9" fill="none" stroke="#fbfbfb" stroke-width="1.0" />
<path d="M1625.1,696.7A53.2,53.2 0 1 1 1629.2,626.7" fill="none" stroke="#fbfbfb" stroke-width="1.0" />
<path d="M1609.1,644.1A26.7,26.7 0 0 1 1612.1,649.7" fill="none" stroke="#fbfbfb" stroke-width="1.0" />
<path d="M1613.5,641A32,32 0 0 1 1617.1,647.8" fill="none" stroke="#fbfbfb" stroke-width="1.0" />
<path d="M1617.8,638A37.3,37.3 0 0 1 1622,645.9" fill="none" stroke="#fbfbfb" stroke-width="1.0" />
<path d="M1622.2,635A42.6,42.6 0 0 1 1627,644" fill="none" stroke="#fbfbfb" stroke-width="1.0" />
<path d="M1626.5,632A47.9,47.9 0 0 1 1631.9,642.1" fill="none" stroke="#fbfbfb" stroke-width="1.0" />
<path d="M1630.9,628.9A53.2,53.2 0 0 1 1636.9,640.2" fill="none" stroke="#fbfbfb" stroke-width="1.0" />
<path d="M1612.6,651A26.7,26.7 0 0 1 1613.9,659.2" fill="none" stroke="#fbfbfb" stroke-width="1.0" />
<path d="M1617.6,649.3A32,32 0 0 1 1619.2,659.1" fill="none" stroke="#fbfbfb" stroke-width="1.0" />
<path d="M1622.6,647.6A37.3,37.3 0 0 1 1624.5,659.1" fill="none" stroke="#fbfbfb" stroke-width="1.0" />
<path d="M1627.7,646A42.6,42.6 0 0 1 1629.8,659.1" fill="none" stroke="#fbfbfb" stroke-width="1.0" />
<path d="M1632.7,644.3A47.9,47.9 0 0 1 1635.1,659" fill="none" stroke="#fbfbfb" stroke-width="1.0" />
<path d="M1637.7,642.7A53.2,53.2 0 0 1 1640.4,659" fill="none" stroke="#fbfbfb" stroke-width="1.0" />
<path d="M1613.9,660.5A26.7,26.7 0 0 1 1607.1,677.1" fill="none" stroke="#fbfbfb" stroke-width="1.0" />
<path d="M1619.2,660.8A32,32 0 0 1 1611.1,680.6" fill="none" stroke="#fbfbfb" stroke-width="1.0" />
<path d="M1624.5,661A37.3,37.3 0 0 1 1615,684.2" fill="none" stroke="#fbfbfb" stroke-width="1.0" />
<path d="M1629.8,661.2A42.6,42.6 0 0 1 1619,687.7" fill="none" stroke="#fbfbfb" stroke-width="1.0" />
<path d="M1635.1,661.5A47.9,47.9 0 0 1 1622.9,691.2" fill="none" stroke="#fbfbfb" stroke-width="1.0" />
<path d="M1640.3,661.7A53.2,53.2 0 0 1 1626.9,694.8" fill="none" stroke="#fbfbfb" stroke-width="1.0" />
<path d="M1684,754.7A135.9,135.9 0 1 1 1694.6,576L1686.4,582.3A125.6,125.6 0 1 0 1676.6,747.5z" fill="#96cfd9" />
<path d="M1723,665.5A135.9,135.9 0 0 1 1688.5,749.9L1680.8,743A125.6,125.6 0 0 0 1712.7,665z" fill="#96cfd9" />
<path d="M1699.2,581.5A136.4,136.4 0 0 1 1714.5,610.4L1705.6,613.9A126.8,126.8 0 0 0 1691.3,586.9z" fill="#e8262b" />
<path d="M1716.8,616.7A136.4,136.4 0 0 1 1723.6,658.6L1714,658.6A126.8,126.8 0 0 0 1707.7,619.7z" fill="#e8262b" />
<path d="M1696.2,584.1A132.4,132.4 0 0 1 1704.1,597.1L1699.2,599.8A126.8,126.8 0 0 0 1691.6,587.3z" fill="#111" />
<path d="M1713.4,619.3A132.4,132.4 0 0 1 1719.6,658.1L1714,658.2A126.8,126.8 0 0 0 1708.1,621z" fill="#111" />
<path d="M1694.4,586.5A129.6,129.6 0 0 1 1701.2,597.7" fill="none" stroke="#5a5a5a" stroke-width="2.2" stroke-dasharray="0.9 3.0"/>
<path d="M1711,621A129.6,129.6 0 0 1 1716.8,657.3" fill="none" stroke="#5a5a5a" stroke-width="2.2" stroke-dasharray="0.9 3.0"/>
<path d="M1698.4,589.3A131.4,131.4 0 0 1 1700.1,592L1697,593.9A127.8,127.8 0 0 0 1695.3,591.2z" fill="#b0b0b0" />
<path d="M1701.1,593.8A131.4,131.4 0 0 1 1702.7,596.6L1699.5,598.3A127.8,127.8 0 0 0 1698,595.6z" fill="#b0b0b0" />
<path d="M1712.9,621.1A131.4,131.4 0 0 1 1713.8,624.2L1710.4,625.1A127.8,127.8 0 0 0 1709.5,622.1z" fill="#b0b0b0" />
<path d="M1715,628.6A131.4,131.4 0 0 1 1715.7,631.8L1712.2,632.5A127.8,127.8 0 0 0 1711.5,629.5z" fill="#b0b0b0" />
<path d="M1716.2,634.5A131.4,131.4 0 0 1 1716.8,637.6L1713.2,638.2A127.8,127.8 0 0 0 1712.7,635.1z" fill="#b0b0b0" />
<path d="M1717.4,641.7A131.4,131.4 0 0 1 1717.8,644.9L1714.2,645.3A127.8,127.8 0 0 0 1713.8,642.2z" fill="#b0b0b0" />
<path d="M1718.3,649.9A131.4,131.4 0 0 1 1718.5,653.1L1714.9,653.3A127.8,127.8 0 0 0 1714.7,650.2z" fill="#b0b0b0" />
<path d="M1695.5,576.8A136.2,136.2 0 0 1 1698.5,580.8L1691,586.1A127,127 0 0 0 1688.2,582.3z" fill="#7a7a7a" />
<path d="M1714.6,611.2A136.2,136.2 0 0 1 1716.3,615.9L1707.6,618.8A127,127 0 0 0 1706,614.4z" fill="#7a7a7a" />
<path d="M1723.4,659.5A136.2,136.2 0 0 1 1723.3,664.5L1714.1,664.2A127,127 0 0 0 1714.2,659.5z" fill="#7a7a7a" />
<path d="M1688.3,750.6A136.2,136.2 0 0 1 1684.8,754.3L1678.2,747.8A127,127 0 0 0 1681.4,744.4z" fill="#7a7a7a" />
<path d="M1682.8,753.5A134.2,134.2 0 1 1 1693.2,577" fill="none" stroke="#000" stroke-width="1.4" />
<path d="M1682.8,753.5A134.2,134.2 0 1 1 1693.2,577" fill="none" stroke="#000" stroke-width="3.2" stroke-dasharray="0.7 4.6"/>
<path d="M1721.3,665.4A134.2,134.2 0 0 1 1687.2,748.7" fill="none" stroke="#000" stroke-width="1.4" />
<path d="M1721.3,665.4A134.2,134.2 0 0 1 1687.2,748.7" fill="none" stroke="#000" stroke-width="3.2" stroke-dasharray="0.7 4.6"/>
<line x1="1695.8" y1="576.6" x2="1698.5" y2="574.5" stroke="#444" stroke-width="0.7" />
<line x1="1699.8" y1="582.2" x2="1702.6" y2="580.3" stroke="#444" stroke-width="0.7" />
<line x1="1714.8" y1="610.8" x2="1718" y2="609.6" stroke="#444" stroke-width="0.7" />
<line x1="1717.3" y1="618" x2="1720.6" y2="617" stroke="#444" stroke-width="0.7" />
<line x1="1723.7" y1="658.8" x2="1727.1" y2="658.8" stroke="#444" stroke-width="0.7" />
<line x1="1723.6" y1="665.5" x2="1727" y2="665.6" stroke="#444" stroke-width="0.7" />
<line x1="1689" y1="750.3" x2="1691.5" y2="752.5" stroke="#444" stroke-width="0.7" />
<line x1="1685.1" y1="754.5" x2="1687.5" y2="756.8" stroke="#444" stroke-width="0.7" />
<text x="1702.3" y="574.1" font-size="8.2" fill="#7e7e7e" transform="rotate(-36.5 1702.3 574.1)">47032272</text>
<text x="1706.3" y="582" font-size="8.2" fill="#7e7e7e" transform="rotate(-33 1706.3 582)">6690</text>
<text x="1720.6" y="611.8" font-size="8.2" fill="#7e7e7e" transform="rotate(-19.6 1720.6 611.8)">7905</text>
<text x="1723" y="619.3" font-size="8.2" fill="#7e7e7e" transform="rotate(-16.4 1723 619.3)">6</text>
<text x="1730.2" y="662.3" font-size="8.2" fill="#7e7e7e" transform="rotate(0 1730.2 662.3)">1599</text>
<text x="1729" y="669.7" font-size="8.2" fill="#7e7e7e" transform="rotate(0 1729 669.7)">47031779</text>
<text x="1692.7" y="753.6" font-size="8.2" fill="#7e7e7e" transform="rotate(42 1692.7 753.6)">47028374</text>
<text x="1686.2" y="760.4" font-size="8.2" fill="#7e7e7e" transform="rotate(43 1686.2 760.4)">47057324</text>
<text x="1734.6" y="573.5" font-size="12.5" font-style="italic" transform="rotate(-30 1734.6 573.5)">L1</text>
<text x="1753.5" y="621.8" font-size="12.7" font-style="italic">E6</text>
<text x="1754.7" y="632.1" font-size="12.7" font-style="italic">E7</text>
<text x="1755.9" y="643.6" font-size="12.7" font-style="italic">E1</text>
<path d="M1654.1,725.3A94,94 0 1 1 1661.5,601.7" fill="none" stroke="#2349a3" stroke-width="1.3" />
<path d="M1655.9,727.1l-.7,.7l-.6,.8l-.8,.6l-.8,.7l-.6,.8l-.5,1l-.9,.5l-1,.4l-.8,.6l-.9,.6l-.6,.8l-.6,.8l-.8,.6l-.9,.5l-.7,.9l-.7,.7l-.9,.4l-.8,.7l-1.1,.2l-.4,1.3l-1.4-.4l-.5,1.2l-.9,.5l-.9,.4l-.9,.5l-.8,.7l-1,.2l-.9,.5l-.8,.6l-1,.3l-.9,.6l-.9,.5l-.9,.3l-1,.3l-1,.3l-.8,.7l-.9,.3l-.9,.5l-1.1,.2l-.8,.6l-1,.1l-.9,.7l-1,.3l-1,.2l-1,.2l-.8,.6l-1.1,.1l-1,.1l-1,.3l-.9,.5l-1,.1l-1,.3l-.9,.4l-.9,.5l-1,.3l-1.1-.2l-.9,.5h-1.1l-1,.3l-1-.3l-.9,.8l-1.1-.3l-1,.2l-1,.5l-1-.1l-1,.4l-1-.4l-1.1-.1l-1,.3l-1,.2l-1-.2l-1,.3l-1-.2h-1l-1,.2l-1.1,.4l-1-.4l-1-.2l-1,.3l-1-.2l-1-.3l-1-.1l-1.1,.3l-1-.2l-1-.3l-1,.3l-1-.5l-1-.2l-1-.2l-1,.3l-1-.4l-.9-.6h-1l-1.1,.1l-1-.1l-.9-.4l-1-.5l-1.1,.1l-.9-.5l-.9-.3l-1.1-.1l-.9-.3l-1-.1l-.9-.7l-.9-.5l-.9-.4l-1-.1l-1-.3l-1-.1l-.9-.6l-1-.1l-.8-.7l-1-.4l-1.1,.1l-.7-1l-1-.2l-.8-.7l-1.2,.1l-.7-.7l-.9-.4l-.9-.6l-.8-.7l-1-.2l-.9-.5l-.7-.8l-1-.2l-.9-.5l-.8-.6l-.9-.5l-.8-.7l-.8-.5l-.9-.4l-.7-.9l-.8-.6l-.9-.5l-1.1-.1l-.7-.8l-.7-.7l-1-.3l-.7-.8l-.5-1l-.7-.7l-1.1-.2l-.4-1.1l-.9-.5l-.6-.9l-.8-.6l-.8-.6l-.7-.7l-.9-.6l-.6-.7l-.7-.8l-.7-.7l-.8-.7l-.6-.8l-.5-.9l-.7-.7l-.6-.8l-1-.5l-.5-.8l-.6-.9l-.4-.9l-.8-.7l-.4-.9l-.9-.7l-.4-.9l-.4-.9l-1.2-.4l-.1-1.2l-.5-.8l-.5-.9l-.6-.8l-.7-.8l-.6-.8l-.3-1l-.8-.6l-.4-1l-.3-1l-.2-1l-.9-.7v-1.1l-.4-.9l-.8-.7l-.2-1.1l-.6-.8l-.2-1l-.6-.8l-.2-1.1l-.4-.9l-.3-.9l-.3-1l-.4-.9l-.4-.9l-.4-.9l-.2-1l-.9-.8l-.2-1l.1-1.1l-.5-.9l.1-1l-.3-1l-.2-1l-.4-.9l-.3-1v-1l-.3-1l-.1-.9l-.1-1l-.4-1v-1l-.1-1l-.4-1l.1-1l-.3-1l-.2-.9l.2-1.1l-.5-.9l.1-1l.1-1.1l-.4-.9l.1-1v-1.1l.2-1v-1l-.3-1l.2-1l.3-1l-.1-1l-.1-1l-.3-1l.2-1l.2-1l-.2-1l-.1-1l.4-1l.1-1l-.4-1l.9-.9v-1l.3-1l-.2-1l.6-1l-.1-1l.5-.9l.1-1l.1-1l.5-.9l-.1-1.1v-1l.6-.9l.3-.9l.4-1l-.1-1l.6-.9v-1l.5-.9l.3-1l.5-.9l.4-.9l.1-1l.4-.9l.4-1v-1.1l.9-.7l.1-1l.3-1l.8-.7l.2-1l.7-.8l.3-.9l.6-.9l.4-.9l.5-.9l.3-.9l.7-.8l.5-.9l.3-.9l.7-.8l.2-1.1l.7-.7l.5-.8l.5-.9l.5-.9l.7-.7l.4-.9l.6-.8l1-.6l.6-.8l.6-.7l.6-.8l.2-1.2l1.1-.4l.4-.9l.6-.8l1-.5l.5-.9l.7-.7l.3-1.2l1-.4l.9-.5l.6-.8l.6-.8l.6-.8l1-.5l.8-.5l.6-.9l.6-.7l.8-.7l.8-.6l.7-.8l.9-.4l.9-.5l.7-.7l.4-1.2l1.1-.1l1-.4l.7-.8l.8-.6l.9-.4l.7-.8l.8-.5l.9-.5l1-.3l.8-.6l.9-.4l.8-.6l.9-.5l.8-.6l.9-.5l.9-.4l.8-.8l1.1,.1l.9-.4l.8-.7l.9-.5l.7-.8l1.2,.1l.9-.4l1-.3l.9-.3l.9-.6l1-.2l.8-.5l1-.2l1-.2l.9-.4l1-.3l1-.3l.9-.3l1-.3l1-.2l.9-.2l1-.2l1-.2l.9-.5h1.1l1-.1l.9-.5l1,.1l1-.1l1-.3l.9-.4l1.1,.1l.9-.5l1.1,.3l.9-.3h1.1l1,.2l1-.3l.9-.4l1.1,.2h1l1-.3l1-.1l1,.3l1-.1h1l1-.2l1,.5l1-.2l1-.3l1,.1l1,.3l1,.3l1,.1l1,.1h1l1.1-.2h1l.9,.8l1-.1l1,.4h1l1,.2l.9,.3l1,.1l1,.1l1,.4l.9,.4h1.1l.9,.3l1,.2h1.1l.9,.5l.9,.3l1.1,.1h1l.9,.5l1.2-.1l.8,.7h1.1l.9,.5l.8,.7l.9,.3l1.1,.1l.9,.4l.9,.5h1.2l.8,.7l1,.2l.9,.4l.9,.6h1.2l.6,1l1.1,.1l.8,.7l1,.3l.8,.6l1,.4l.9,.4l.9,.6l1.1,.2l1.2,.1l1.1,.2l.8,.8l1.1,.2l.7,.8l1.3,.1l1.6-.3l.5,1l1.1,.3l.9,.6l.6,1l1.1,.3l.7,.8l.9,.7l.9,.5l1,.5l1.7-.2l.6,1l.4,1.1l1.3,.3l1.1,.5v1.4l.1,1.3l1.2,.5l1.1,.4l.2,1.2l1.2,.4l.6,1l-.4,1.7l.7,.8l-6.6,5.1l-4.4-5.3l-4.8-4.9l-5.1-4.6l-5.5-4.2l-5.8-3.8l-6-3.3l-6.2-2.9l-6.5-2.4l-6.6-2l-6.7-1.4l-6.8-1l-6.9-.5l-6.9,.1l-6.8,.5l-6.8,1.1l-6.7,1.5l-6.6,2.1l-6.4,2.5l-6.2,3l-6,3.4l-5.7,3.8l-5.4,4.3l-5.1,4.6l-4.7,5l-4.4,5.4l-3.9,5.6l-3.5,5.9l-3.1,6.2l-2.6,6.4l-2.2,6.5l-1.6,6.7l-1.2,6.8l-.6,6.8l-.2,6.9l.4,6.9l.8,6.8l1.4,6.8l1.8,6.6l2.3,6.5l2.8,6.3l3.3,6.1l3.7,5.8l4.1,5.5l4.5,5.2l4.8,4.9l5.2,4.5l5.6,4.1l5.8,3.7l6,3.2l6.3,2.8l6.5,2.4l6.6,1.8l6.8,1.4l6.8,.8l6.9,.4l6.9-.2l6.8-.6l6.8-1.2l6.7-1.6l6.5-2.1l6.4-2.7l6.2-3l5.9-3.5l5.6-4l5.4-4.3l5-4.7z" fill="#2349a3"/>
<path d="M1664.4,605.7A94,94 0 0 1 1675,625.6" fill="none" stroke="#2349a3" stroke-width="1.3" />
<path d="M1667,603.8l2.7-.5l2.8-.6l1.6,.4h2l2.9-.4l1.8,.3h2.3l2.8-.2l.7,1.1l-.5,1.6l-.4,1.6l-.1,1.5l-.6,1.6l-2,2.4l.3,1.1l-1.1,1.8l.1,1.2l-1.8,2l.4,1l-.9,1.6l-1,1.6l-1.1,1.6l-3.1,1.2l-.4-1l-.4-.9l-.4-1l-.4-.9l-.4-1l-.4-.9l-.5-.9l-.4-.9l-.5-1l-.4-.9l-.5-.9l-.5-.9l-.5-.9l-.5-.9l-.5-.9l-.5-.9l-.6-.8l-.5-.9l-.6-.9l-.5-.8l-.6-.9l-.6-.8z" fill="#2349a3"/>
<path d="M1676.5,629.9A94,94 0 0 1 1681.2,658.8" fill="none" stroke="#2349a3" stroke-width="1.3" />
<path d="M1681.7,628.2l1.1,.8l2,.5l.9,.9l2.7,.4l1.2,.8l.2,1.2l.7,1l2.5,.6l.2,1.1l1.6,.9l.5,1.1l-1.4,1.5l1.8,.8l1.8,.9l-1.3,1.4l.3,1.2l.4,1.2l.1,1.1l-.2,1.3l.4,1.1l-.9,1.3l.3,1.2l.4,1.1l-1.4,1.3l-.2,1.2l-2.1,1.2l-.2,1.2l-3.1,1.2l-2.6,1.1h-6.4v-1v-1l-.1-1v-1l-.1-1v-1l-.1-1.1l-.1-1l-.1-1l-.1-1l-.1-1l-.1-1l-.2-1l-.1-1l-.2-1l-.2-1l-.2-1l-.2-1l-.2-.9l-.2-1l-.2-1l-.2-1l-.3-1l-.2-1l-.3-.9l-.3-1l-.3-1l-.3-.9l-.3-1z" fill="#2349a3"/>
<path d="M1681.1,663.6A94,94 0 0 1 1657.3,722" fill="none" stroke="#2349a3" stroke-width="1.3" />
<path d="M1687.9,663.9l-.4,1l1,1.1l.5,1.2l.2,1l-.2,1.1l.5,1.1l-1.1,1l1.1,1.2l.1,1.1v1.1l.2,1.2l-.9,.9l.4,1.2l-1.4,.9l-1,.9l1.1,1.3l-.7,.9l-1,.9v1.1v1.1l-.2,1.1l-.4,1l-1,.8l-.5,1l-.3,1l-.5,1l-.9,.8l-.1,1.1l.6,1.3l-.1,1.2l-.4,1l-1.3,.6l-.8,.8l.1,1.2l-.4,1l-.2,1.1l-1.1,.6l.2,1.3l-.7,.9l-.6,.9l-1.1,.6l-.3,1l.7,1.6l-.8,.8l-1.4,.4v1.3l-.4,1l-.3,1.1l-1.4,.4l-.3,1l-.9,.7l.2,1.4l-1.7,.2l-.4,1l.2,1.4l-1.1,.6l-.7,.7l-.4,1l-.8,.8l-1.1,.5l-.6,.9l-.5,.9l-1,.5l-.8,.8l-.4,1.1l-5.3-4.8l.7-.7l.6-.8l.7-.7l.6-.8l.6-.7l.6-.8l.6-.8l.6-.8l.6-.8l.6-.8l.6-.8l.5-.8l.6-.8l.5-.8l.6-.9l.5-.8l.5-.8l.5-.9l.6-.8l.4-.9l.5-.8l.5-.9l.5-.9l.4-.8l.5-.9l.4-.9l.5-.9l.4-.9l.4-.9l.4-.9l.4-.9l.4-.9l.3-.9l.4-.9l.3-1l.4-.9l.3-.9l.4-.9l.3-1l.3-.9l.3-1l.3-.9l.2-1l.3-.9l.2-1l.3-.9l.2-1l.2-.9l.3-1l.2-1l.2-.9l.1-1l.2-1l.2-.9l.1-1l.2-1l.1-1l.1-1l.1-.9l.1-1l.1-1l.1-1l.1-1l.1-1v-.9z" fill="#2349a3"/>
<path d="M1629.2,700.7A59,59 0 1 1 1633.8,623.1" fill="none" stroke="#2349a3" stroke-width="1.3" />
<path d="M1630.2,701.7l-.4,.5l-.6,.3l-.4,.4l-.4,.6l-.7,.2l-.3,.5l-.4,.6l-.4,.5l-.5,.3l-.3,.7l-.7,.2l-.6,.3l-.6,.2l-.4,.5l-.6,.3l-.4,.5l-.2,.7h-.9l-.3,.6h-.8l-.3,.6l-.5,.4h-.8l-.5,.3l-.4,.6l-.6,.2l-.5,.4l-.7,.1l-.5,.4l-.6,.3l-.5,.2l-.6,.4l-.5,.4l-.6,.1l-.5,.4h-.7l-.6,.4l-.5,.3l-.6,.2l-.5,.4h-.7l-.6,.2l-.6,.2l-.5,.7l-.7-.2l-.5,.6l-.7-.3l-.6,.2l-.5,.5l-.6,.3l-.6,.1l-.8-.3l-.5,.3l-.7,.2l-.5,.4l-.7-.4l-.6,.3l-.7,.1h-.6l-.6,.1l-.6,.5l-.6,.2l-.7-.2h-.6h-.6l-.6,.4l-.7-.2h-.6l-.6,.2l-.7-.1h-.6h-.7l-.6,.2h-.6h-.6l-.7-.2l-.6,.2l-.6,.1l-.7-.2l-.6-.1l-.6,.1l-.7,.3l-.6-.4h-.6l-.6-.3l-.7,.2l-.6-.3h-.7l-.6-.1l-.6-.3h-.6l-.7,.1l-.6-.3h-.6l-.6-.2l-.7,.1l-.5-.5l-.7,.1l-.6-.2l-.6-.2l-.6-.1l-.6-.3l-.7,.2l-.6-.2l-.5-.5l-.6-.3l-.6-.2l-.6-.2l-.6-.1h-.7l-.5-.5l-.6-.1l-.5-.5h-.7l-.5-.3l-.6-.3l-.5-.4l-.6-.3l-.7,.1l-.6-.3l-.3-.6l-.6-.3l-.7-.1l-.4-.5l-.6-.3l-.5-.3l-.5-.4l-.7-.1l-.5-.4l-.5-.4l-.6-.2l-.5-.5l-.5-.4l-.9,.3l-.1-1l-.5-.4l-.6-.2l-.3-.6h-.9l-.2-.7l-.7-.2l-.2-.6l-.7-.2l-.4-.5l-.4-.6l-.4-.4l-.6-.3l-.5-.4l-.3-.6l-.5-.4l-.3-.5l-.7-.3l-.7-.2l-.1-.7l-.3-.7l-.6-.2l-.2-.7l-.7-.3l-.5-.3l-.2-.7l-.4-.5l-.3-.6l-.5-.4l-.3-.6l-.5-.3l-.3-.6l-.4-.5l-.5-.4v-.8l-.4-.5l-.4-.5l-.4-.4l-.4-.6l-.2-.6l-.3-.5l-.3-.6l-.2-.6l-.3-.5l-.6-.5l-.2-.6l-.2-.6l-.4-.5l-.2-.6l-.3-.5l-.1-.7l-.3-.5l-.6-.5l-.1-.6l-.3-.6l.2-.7l-.4-.5l-.3-.6l-.1-.6l-.2-.6l-.2-.6l-.5-.5l-.1-.7v-.6l-.3-.6l-.2-.6v-.6v-.7l-.2-.6l-.3-.6l-.4-.5l.3-.7l-.6-.6l.3-.6l-.3-.6l.1-.7l-.1-.6l-.3-.6l-.2-.6l.3-.7l-.4-.6l.1-.6l-.1-.6l.1-.7l-.1-.6l.1-.6l-.5-.7l.4-.6v-.6l-.1-.7v-.6l-.2-.6v-.6l.2-.7l.1-.6l-.6-.7l.6-.6l.1-.6l.1-.6v-.6l.1-.7v-.6l-.4-.7l.6-.5l-.1-.7l.2-.6l-.3-.7l.5-.5l-.1-.7l.4-.6l.1-.6v-.6l.3-.6l-.4-.7l.6-.5l-.2-.8l.1-.6l.5-.5l.4-.5l-.1-.7l.3-.6v-.7l.2-.6l.1-.6l.7-.4l.1-.7l.3-.5l.2-.6l.4-.5l.1-.6l-.2-.8l.6-.4l.1-.7l.6-.4l-.1-.7l.4-.5l.6-.5l.2-.6l-.1-.7l.8-.3v-.8l.2-.5l.2-.7l.7-.3l.2-.6l.3-.6l.6-.3l.1-.7l.6-.4l.4-.5l.3-.5l.3-.6l.3-.6l.5-.3l.2-.7l.3-.5l.6-.3l.5-.5l.3-.5l.4-.5l.6-.4l.3-.5l.5-.4l.2-.7l.3-.6l.8-.1l.4-.5l.4-.4l.6-.4l.4-.5l.5-.4l.2-.7l.7-.2l.4-.4l.6-.3l.5-.4l.5-.3l.3-.7l.5-.4l.6-.2l.5-.4l.6-.3l.4-.5l.5-.3l.6-.3l.5-.3l.5-.5l.5-.4l.6-.1l.4-.6l.5-.5h.7l.5-.4l.6-.2l.5-.5h.7l.2-.9l.8,.3l.5-.6l.7,.1l.4-.6l.6-.2h.7l.5-.6l.6-.2h.6l.6-.2l.4-.7h.8l.6-.1l.6-.1l.6-.3l.6-.1l.6-.3l.5-.3l.7-.1l.6-.3l.6,.2l.6-.3l.6-.2l.7-.1l.6-.1l.6,.1l.6-.4l.6-.1l.7-.2h.6l.6-.2l.7,.3l.6-.2l.6-.1h.6l.6-.6l.7,.2l.6,.1l.7-.1l.6,.1l.6-.2l.6-.4l.7,.2l.6,.4l.7-.1h.6h.6h.7l.6-.4l.6,.4l.7-.5l.6,.6h.6h.7l.6-.1l.6,.2l.7-.2l.6,.5l.7-.4l.6,.1l.6,.5l.6,.1l.6,.1l.7-.1l.5,.5h.7l.7-.2l.5,.4h.7l.6,.1l.6,.4l.8-.6l.4,.8h.7l.6,.3l.6,.3h.6l.6,.3l.7,.1l.5,.4l.5,.4l.8-.1l.4,.6l.7-.1l.6,.2l.6,.4l.7,.1l.3,.6l.7,.1l.6,.2l.7,.2l.5,.4h.7l.6,.3l.5,.4l.5,.4l.4,.5l.7,.2l.5,.4l.4,.5h.9l.3,.6l.7,.1l.5,.4l.3,.7h.8l.3,.7l.8,.1l.4,.4l.5,.5l.7,.1l.2,.8l.5,.4h.9l.3,.6l.4,.5h.9l.1,.9l.7,.2l.3,.6l.2,.7l.5,.4l.6,.4l.2,.7l.8,.1l.1,.8l.2,.6l.7,.3l.4,.5l.3,.6l.1,.8l-1.9,1.5l-2.8-3.3l-3-3.1l-3.2-2.9l-3.5-2.6l-3.6-2.4l-3.7-2.1l-4-1.8l-4-1.5l-4.1-1.3l-4.2-.9l-4.3-.6l-4.3-.3l-4.3,.1l-4.3,.3l-4.3,.7l-4.2,.9l-4.1,1.3l-4.1,1.6l-3.8,1.8l-3.8,2.2l-3.6,2.4l-3.4,2.7l-3.1,2.9l-3,3.1l-2.7,3.4l-2.5,3.5l-2.2,3.7l-1.9,3.9l-1.7,4l-1.3,4.1l-1.1,4.2l-.7,4.2l-.4,4.3l-.1,4.3l.2,4.3l.6,4.3l.8,4.3l1.2,4.1l1.4,4.1l1.8,3.9l2,3.8l2.3,3.7l2.6,3.4l2.8,3.3l3.1,3.1l3.2,2.8l3.5,2.5l3.6,2.4l3.8,2l4,1.8l4,1.4l4.2,1.2l4.2,.8l4.3,.6l4.3,.2l4.3-.1l4.3-.4l4.3-.7l4.2-1.1l4.1-1.3l4-1.6l3.8-2l3.7-2.2l3.6-2.4l3.3-2.8l3.2-2.9z" fill="#2349a3"/>
<path d="M1635.6,625.6A59,59 0 0 1 1642.3,638.2" fill="none" stroke="#2349a3" stroke-width="1.3" />
<path d="M1636.9,624.7l.6,.5l.4,.5l.4,.5l.5,.5l.4,.5l.2,.7l.6,.4l.2,.7l.3,.5l.5,.6l.3,.5l.1,.8l.6,.4l.3,.6l.3,.6l.4,.6l.3,.6l.1,.7l.5,.5l.3,.6l.3,.6l.4,.5l-2.8,1.1l-.2-.6l-.3-.6l-.2-.6l-.3-.6l-.2-.5l-.3-.6l-.3-.6l-.3-.6l-.2-.6l-.3-.5l-.3-.6l-.3-.6l-.3-.5l-.4-.6l-.3-.6l-.3-.5l-.4-.6l-.3-.5l-.3-.6l-.4-.5l-.4-.5l-.3-.6z" fill="#2349a3"/>
<path d="M1643.2,640.9A59,59 0 0 1 1646.2,659" fill="none" stroke="#2349a3" stroke-width="1.3" />
<path d="M1656.3,636.6l2.8-.1l1.2,.5l3.7-.2l.5,.7l-1.1,1.2l1.3,.6l1.3,.5l-.6,1.1l.1,.8l-.8,1.1l.6,.7v.9l.2,.8l-.2,.9l2.8,.5l-3.9,1.4l1.6,.7l.4,.8v.8l1.2,.8l-2.9,1.1l-1.1,.9l1.3,.8l-1.9,.9l.2,.8l-.3,.9l-.4,.8l-1.6,.8l1.9,.8l-16.6,.1v-.6v-.7v-.6l-.1-.6v-.7v-.6l-.1-.6v-.7l-.1-.6l-.1-.6v-.7l-.1-.6l-.1-.6l-.1-.6l-.1-.7l-.1-.6l-.1-.6l-.2-.6l-.1-.7l-.1-.6l-.2-.6l-.1-.6l-.2-.6l-.1-.6l-.2-.6l-.2-.7l-.2-.6l-.1-.6l-.2-.6z" fill="#2349a3"/>
<path d="M1646.1,662A59,59 0 0 1 1631.2,698.6" fill="none" stroke="#2349a3" stroke-width="1.3" />
<path d="M1656.5,662.4l.1,.8l-1,.6l.2,.8l.3,.7l-.8,.7l.9,.8l-.8,.7l-.1,.7l-.2,.7l-.1,.7l-.6,.6l-.3,.7l.4,.8l-.6,.6l-.3,.7l-.1,.7l-.8,.6l.4,.8l-.7,.5l-.1,.7l-.8,.6l.3,.8l-1.6,.2l.1,.8v.7l-.2,.7l-.7,.5l-.2,.6l-.3,.7l.1,.7l-1.2,.3v.8l-.3,.6l-.5,.5l-.1,.7l-.1,.7l-1,.3v.8l-.9,.3l-.2,.6l-.4,.6l-.7,.4l-.4,.6l-.2,.6l-.7,.4v.8l-.5,.5l-.7,.3l-.5,.5l-.5,.4v.8l-.7,.3l-.8,.3l-.2,.7l-.5,.4l-.6,.4l-.3,.6l-.7,.3l-.3,.6l-.6,.3l-.5,.5l-.3,.5l-.5,.5l-.8,.2l-.3,.5l-2-1.7l.4-.5l.4-.4l.4-.5l.4-.5l.4-.5l.4-.5l.4-.4l.4-.5l.3-.5l.4-.5l.4-.5l.3-.5l.4-.6l.3-.5l.4-.5l.3-.5l.3-.5l.3-.6l.3-.5l.4-.5l.3-.6l.3-.5l.3-.6l.2-.5l.3-.6l.3-.5l.3-.6l.2-.5l.3-.6l.2-.6l.3-.5l.2-.6l.3-.6l.2-.5l.2-.6l.2-.6l.2-.6l.2-.6l.2-.6l.2-.5l.2-.6l.2-.6l.2-.6l.1-.6l.2-.6l.1-.6l.2-.6l.1-.6l.2-.6l.1-.6l.1-.6l.1-.6l.1-.7l.1-.6l.1-.6l.1-.6l.1-.6l.1-.6l.1-.6v-.6l.1-.7v-.6l.1-.6v-.6v-.6z" fill="#2349a3"/>
<path d="M1602.4,674.3A21.4,21.4 0 1 1 1604.1,646.2" fill="none" stroke="#2349a3" stroke-width="1.3" />
<path d="M1607.2,679l.3,.9l-.8-.1l-.3,.3l-.2,.4l-.2,.6l-2.6-2.5l1,1.9l1.6,2.7l-1.8-1.5v.7l-.9-.6l-.2,.5l-.4,.2l-.5,.1l-.1,.6l.3,1.4l-.7-.3l-.5,.2l-.6-.2l-.1,.6l-.3,.4l-.8-.5l.1,1.2l-.3,.5l-.6-.2v1.2l-.4,.5l-.8-.8l-.4,.2l-1.3-2.5l.5,3.1l-.9-1.4l.1,2l-.9-1.4l-.3,.6l-.8-1.4l.2,2.8l-.7-1.2l-.3,1l-.6-.5l.1,3.5l-.9-2.4l-.6-1.4l-.3,1.6l-.4,.9l-.7-2.3l-.4,1.7l-.5-1.1l-.4,4.4l-.5-3.1l-.5-1.1l-.5,1.2l-.4-1.1l-.5-.2l-.7,2.8l-.4-1l-.3-1.6l-.8,2.2l-.1-2.5l-.4-1.1l-.8,2.2l-.2-1.7h-.4l-.5-.4l.1-2.2l-1.5,4.3l-.2-1.2l-.3-.6l-.2-1.2l-1,1.6l-.2-.9l.2-2l-1.3,2.2l-.1-1.1l.2-1.7l-1.3,1.9l.2-1.5l-.3-.5l-.4-.2l-.9,.9l-1,.9l.2-1.5l-.1-.6l-.3-.5l-1.9,2.2l.9-2.4h-.5l-1.6,1.5l1.2-2.5l-1.3,1l1.7-3.1l-1.4,1.2l-.1-.7l-.4-.2l.3-.9l-.3-.4l-.4-.2l.1-.7l-1.8,1.2l-.2-.4l.8-1.4l-.3-.3l-1.8,1l.6-1.1l-.8,.1l.4-.9h-.7l-.1-.5l-.2-.4l-2.1,1l1.9-2v-.5l.1-.5l-1.6,.5l.4-.8l-.2-.4l-1.4,.3l.9-1l-4.1,1.7l3.7-2.5l-.8-.1l.3-.6l-.9-.1l.8-.8l-1.5,.1l-.1-.4l-.3-.4l1-.8l-.5-.3l-1.3-.1l-1.9,.1l2.1-1.1v-.5l-.3-.4l-.6-.3l-.5-.4l2.1-.9l-.6-.3l-.1-.4h-3l1.8-.8l.9-.5l-3.5-.1l2.8-.8l.2-.4l.5-.5l.6-.5l.5-.5l-2.4-.3l-.5-.5l2.1-.4l-.9-.5l-.6-.5v-.4l1-.4l-3.9-.8l2.1-.3l-.1-.5h3.4l-5.3-1.3l4.3,.2l-6.2-1.6l5.6,.6l1.8-.1l-4.5-1.5l1-.2l3.9,.5l.3-.3l-5.8-2.2l4.7,.9l1.6,.1l-1.9-1.1l-1.5-1.1l3.5,.9l-2.3-1.5l2.3,.5l-.6-.7l-.1-.5l2.5,.7l-1.6-1.3l-.5-.8l2.2,.7l-1.1-1.1l-.3-.7l-1.3-1.3l3.2,1.5l-.1-.6l-.1-.6l.1-.5h.7l-.3-.8l1.2,.4l-.6-1.1l-2.1-2.2l1.7,.7l1.6,.9h.7l-1.2-1.7l1.9,1.2l.3-.3l-1.4-2.1l.3-.4l1.2,.7l-.8-1.6l2.5,2.2l-.4-1.1l-.3-1.1l-1.5-2.6l2.8,2.9l-.4-1.3l.8,.3l1.1,.8l.2-.4l-1.1-2.5l1.8,1.9l-.4-1.4l.4-.2l1,.8l-.4-1.6l.5-.1l.3-.5v-.9l.8,.6l-.3-2l1.4,2.1l.4-.2l.2-.6l.6,.3l.4-.2l.2-1.1l1,1.8l-.8-4.2l1.2,2.2l1.1,2.6l.2-1.1v-1.8l.7,1l.3-.9l.6,1.1l.2-1.6l-.3-5.5l1,3.6l.9,3.7l.1-3.6l.6,1.6l.6,1.7l.4-2l.5,1.5l.4-1.3l.5,.5l.4,.1l.5-.9l.6-1.9l.5-1.1l.6-.9l.1,4.9l.8-3l.2,2.5l.7-1.5l.6-.7l-.2,3.9l.8-2l.3,.8l.6-.4l.4,.2l-.1,2.2l.6-.3l.6-.5l.4,.1l1-1.5l.4,.2l-.2,2l.7-.4l.1,1l1.9-3.6l-1.3,4.2l1-1.1l-.3,1.7l1.1-1.2l2.5-3.9l-2.2,5.3l1-1l1.2-1.1l-1.2,2.9l.5,.1l1.2-1l-.6,1.7l.5,.1l-.3,1.2l1.2-.9v.6l.1,.6l.7-.1l1-.6l2.1-1.7l-1.9,2.9l.7-.1l.3,.3l-.3,1l1.5-.9v.7l-.2,.8l-.1,.7l.5,.1l-.6,1.1l.9-.2l-.8,1.2l1-.2l-4.7,3.6l-1.1-1.3l-1.2-1.2l-1.3-1l-1.3-1l-1.4-.9l-1.5-.8l-1.5-.6l-1.6-.6l-1.6-.4l-1.7-.2l-1.6-.2h-1.7l-1.7,.1l-1.6,.3l-1.6,.4l-1.6,.5l-1.6,.6l-1.5,.7l-1.4,.9l-1.3,1l-1.3,1.1l-1.2,1.1l-1.1,1.3l-1,1.3l-.8,1.4l-.8,1.5l-.7,1.6l-.5,1.6l-.4,1.6l-.2,1.6l-.2,1.7v1.6l.1,1.7l.3,1.7l.4,1.6l.5,1.6l.6,1.5l.8,1.5l.8,1.4l1,1.4l1.1,1.2l1.2,1.2l1.2,1.1l1.4,1l1.4,.9l1.5,.7l1.5,.7l1.6,.5l1.6,.4l1.7,.2l1.6,.2h1.7l1.7-.1l1.6-.3l1.6-.4l1.6-.5l1.5-.6l1.5-.8l1.5-.9l1.3-.9l1.3-1.1l.7-.7z" fill="#2349a3"/>
<path d="M1604.8,647.1A21.4,21.4 0 0 1 1607.2,651.6" fill="none" stroke="#2349a3" stroke-width="1.3" />
<path d="M1608.2,644.7l.5,.2v.5l1.4-.4l-.5,.8l4-1.9l-2.5,2l3.3-1.3l-1.2,1.2l.9,.1l18.1-8.2l-8.8,5l-6.9,3.7l-3.2,1.9l4.6-1.4l-3.8,2.1l-7.1,2.7l-.1-.3l-.2-.3l-.1-.3l-.1-.4l-.2-.3l-.1-.3l-.2-.3l-.1-.3l-.2-.3l-.2-.3l-.2-.3l-.1-.2l-.2-.3l-.2-.3l-.2-.3z" fill="#2349a3"/>
<path d="M1607.5,652.6A21.4,21.4 0 0 1 1608.6,659.2" fill="none" stroke="#2349a3" stroke-width="1.3" />
<path d="M1613.5,650.6l.5,.4l.3,.4l-.1,.5v.4l1.5,.2l.5,.3l-2.5,1.1h2.2l-2,.8l.7,.4l.6,.3l-.8,.6l.5,.4l.4,.4l-.1,.5l.7,.4l-1,.5l3,.4l-1.8,.5l-7.7,.1v-.4v-.3v-.4l-.1-.3v-.4v-.3l-.1-.3v-.4v-.3l-.1-.4l-.1-.3v-.4l-.1-.3l-.1-.3l-.1-.4l-.1-.3l-.1-.4l-.1-.3l-.1-.3z" fill="#2349a3"/>
<path d="M1608.6,660.3A21.4,21.4 0 0 1 1603.2,673.6" fill="none" stroke="#2349a3" stroke-width="1.3" />
<path d="M1615.4,660.6l-.7,.4l1.5,.5v.5l.4,.5l-.2,.5l-.5,.4l-2.4,.1l.7,.5l2.3,.9l.4,.6l-1.1,.2l1.6,.9h-2h-1.5l1.4,.9l3.9,1.7l-2.1-.1h-1.5l-1.2,.1l.2,.5l.1,.6l-1,.1l1.1,.9l.7,.9h-1l-2.7-.7l1.8,1.4l.3,.7l-2.5-.9l.2,.6l2.7,2.2l-2.2-.8l.2,.7l-1.2-.2l-.1,.5l-.6,.1l-.5,.2l-.6,.1l-.1,.5l.7,1.1l1.5,1.9l-2.8-1.8l-1.3-.5l-4.3-3.9l.2-.2l.2-.3l.3-.2l.2-.3l.2-.3l.2-.2l.2-.3l.2-.3l.2-.3l.1-.3l.2-.2l.2-.3l.2-.3l.1-.3l.2-.3l.2-.3l.1-.3l.2-.3l.1-.3l.1-.3l.2-.3l.1-.3l.1-.4l.1-.3l.1-.3l.2-.3l.1-.3l.1-.4v-.3l.1-.3l.1-.3l.1-.4l.1-.3v-.3l.1-.4v-.3l.1-.3v-.4l.1-.3v-.3v-.4l.1-.3v-.3z" fill="#2349a3"/>
</g>
<text x="1389.2" y="652.5" font-size="13" font-style="italic">EYA2</text>
<rect x="1329.1" y="566.2" width="19.8" height="6.4" fill="#96cfd9" />
<line x1="1329.1" y1="575.5" x2="1349.7" y2="575.5" stroke="#000" stroke-width="1.2" />
<rect x="1329.1" y="576.7" width="19.8" height="45.4" fill="#dcdcdc" />
<line x1="1329.1" y1="580.6" x2="1348.9" y2="580.6" stroke="#fff" stroke-width="1.2" />
<line x1="1329.1" y1="590" x2="1348.9" y2="590" stroke="#fff" stroke-width="1.2" />
<line x1="1329.1" y1="599.1" x2="1348.9" y2="599.1" stroke="#fff" stroke-width="1.2" />
<line x1="1329.1" y1="608" x2="1348.9" y2="608" stroke="#fff" stroke-width="1.2" />
<line x1="1329.1" y1="617.2" x2="1348.9" y2="617.2" stroke="#fff" stroke-width="1.2" />
<line x1="1329.1" y1="625.3" x2="1349.7" y2="625.3" stroke="#000" stroke-width="1.2" />
<line x1="1329.1" y1="631.7" x2="1348.9" y2="631.7" stroke="#c4c4c4" stroke-width="1.0" />
<line x1="1329.1" y1="641" x2="1348.9" y2="641" stroke="#c4c4c4" stroke-width="1.0" />
<line x1="1329.1" y1="649.9" x2="1348.9" y2="649.9" stroke="#c4c4c4" stroke-width="1.0" />
<line x1="1329.1" y1="659.2" x2="1348.9" y2="659.2" stroke="#c4c4c4" stroke-width="1.0" />
<line x1="1329.1" y1="668.1" x2="1348.9" y2="668.1" stroke="#c4c4c4" stroke-width="1.0" />
<line x1="1329.1" y1="675.5" x2="1349.7" y2="675.5" stroke="#000" stroke-width="1.2" />
<rect x="1329.1" y="676.7" width="19.8" height="47.6" fill="#dcdcdc" />
<line x1="1329.1" y1="680.3" x2="1348.9" y2="680.3" stroke="#fff" stroke-width="1.2" />
<line x1="1329.1" y1="689.4" x2="1348.9" y2="689.4" stroke="#fff" stroke-width="1.2" />
<line x1="1329.1" y1="699.4" x2="1348.9" y2="699.4" stroke="#fff" stroke-width="1.2" />
<line x1="1329.1" y1="708.4" x2="1348.9" y2="708.4" stroke="#fff" stroke-width="1.2" />
<line x1="1329.1" y1="717.4" x2="1348.9" y2="717.4" stroke="#fff" stroke-width="1.2" />
<text x="1326.9" y="582.1" font-size="4.6" fill="#222" text-anchor="end">30.0</text>
<text x="1326.9" y="591.5" font-size="4.6" fill="#222" text-anchor="end">22.5</text>
<text x="1326.9" y="600.6" font-size="4.6" fill="#222" text-anchor="end">15.0</text>
<text x="1326.9" y="609.5" font-size="4.6" fill="#222" text-anchor="end">7.5</text>
<text x="1326.9" y="618.7" font-size="4.6" fill="#222" text-anchor="end">0.0</text>
<text x="1326.9" y="633.2" font-size="4.6" fill="#222" text-anchor="end">15.0</text>
<text x="1326.9" y="642.5" font-size="4.6" fill="#222" text-anchor="end">11.25</text>
<text x="1326.9" y="651.4" font-size="4.6" fill="#222" text-anchor="end">7.5</text>
<text x="1326.9" y="660.7" font-size="4.6" fill="#222" text-anchor="end">3.75</text>
<text x="1326.9" y="669.6" font-size="4.6" fill="#222" text-anchor="end">0.0</text>
<text x="1326.9" y="681.8" font-size="4.6" fill="#222" text-anchor="end">7.0</text>
<text x="1326.9" y="690.9" font-size="4.6" fill="#222" text-anchor="end">5.25</text>
<text x="1326.9" y="700.9" font-size="4.6" fill="#222" text-anchor="end">3.5</text>
<text x="1326.9" y="709.9" font-size="4.6" fill="#222" text-anchor="end">1.75</text>
<text x="1326.9" y="718.9" font-size="4.6" fill="#222" text-anchor="end">0.0</text>
<rect x="1294.9" y="579" width="16" height="43.7" fill="#000" />
<text x="1305" y="600.9" font-size="6.1" fill="#fff" text-anchor="middle" transform="rotate(-90 1305 600.9)">Primary data</text>
<text x="1293.2" y="600.9" font-size="6.8" fill="#222" text-anchor="middle" transform="rotate(-90 1293.2 600.9)">K27ac</text>
<rect x="1294.9" y="628.5" width="16" height="43.8" fill="#000" />
<text x="1305" y="650.4" font-size="6.1" fill="#fff" text-anchor="middle" transform="rotate(-90 1305 650.4)">Primary data</text>
<text x="1293.2" y="650.4" font-size="6.8" fill="#222" text-anchor="middle" transform="rotate(-90 1293.2 650.4)">K4me3</text>
<rect x="1294.9" y="678" width="16" height="44.1" fill="#000" />
<text x="1305" y="700" font-size="6.1" fill="#fff" text-anchor="middle" transform="rotate(-90 1305 700)">Primary data</text>
<text x="1293.2" y="700" font-size="6.8" fill="#222" text-anchor="middle" transform="rotate(-90 1293.2 700)">K4me1</text>
<g transform="translate(1591.1 1074) scale(0.988 0.988) translate(-1591.1 -1074)">
<path fill-rule="evenodd" fill="#dcdcdc" d="M1466.5,1074a124.6,124.6 0 1 0 249.2,0a124.6,124.6 0 1 0 -249.2,0zM1545.1,1074a46,46 0 1 0 92,0a46,46 0 1 0 -92,0z"/>
<path d="M1627.5,1109.9A51.1,51.1 0 1 1 1631.5,1042.7" fill="none" stroke="#fbfbfb" stroke-width="1.0" />
<path d="M1639.9,1122.2A68.6,68.6 0 1 1 1645.3,1032" fill="none" stroke="#fbfbfb" stroke-width="1.0" />
<path d="M1652.3,1134.3A85.9,85.9 0 1 1 1659,1021.4" fill="none" stroke="#fbfbfb" stroke-width="1.0" />
<path d="M1664.7,1146.6A103.4,103.4 0 1 1 1672.8,1010.6" fill="none" stroke="#fbfbfb" stroke-width="1.0" />
<path d="M1677.2,1158.9A120.9,120.9 0 1 1 1686.6,999.9" fill="none" stroke="#fbfbfb" stroke-width="1.0" />
<path d="M1633.1,1044.8A51.1,51.1 0 0 1 1638.8,1055.7" fill="none" stroke="#fbfbfb" stroke-width="1.0" />
<path d="M1647.4,1034.8A68.6,68.6 0 0 1 1655.1,1049.4" fill="none" stroke="#fbfbfb" stroke-width="1.0" />
<path d="M1661.6,1025A85.9,85.9 0 0 1 1671.3,1043.2" fill="none" stroke="#fbfbfb" stroke-width="1.0" />
<path d="M1676,1015A103.4,103.4 0 0 1 1687.6,1036.9" fill="none" stroke="#fbfbfb" stroke-width="1.0" />
<path d="M1690.4,1005A120.9,120.9 0 0 1 1704,1030.7" fill="none" stroke="#fbfbfb" stroke-width="1.0" />
<path d="M1639.6,1058A51.1,51.1 0 0 1 1642.2,1073.7" fill="none" stroke="#fbfbfb" stroke-width="1.0" />
<path d="M1656.3,1052.6A68.6,68.6 0 0 1 1659.7,1073.6" fill="none" stroke="#fbfbfb" stroke-width="1.0" />
<path d="M1672.7,1047.2A85.9,85.9 0 0 1 1677,1073.6" fill="none" stroke="#fbfbfb" stroke-width="1.0" />
<path d="M1689.3,1041.7A103.4,103.4 0 0 1 1694.5,1073.5" fill="none" stroke="#fbfbfb" stroke-width="1.0" />
<path d="M1706,1036.2A120.9,120.9 0 0 1 1712,1073.4" fill="none" stroke="#fbfbfb" stroke-width="1.0" />
<path d="M1642.1,1076.3A51.1,51.1 0 0 1 1629.2,1108.1" fill="none" stroke="#fbfbfb" stroke-width="1.0" />
<path d="M1659.6,1077.1A68.6,68.6 0 0 1 1642.2,1119.7" fill="none" stroke="#fbfbfb" stroke-width="1.0" />
<path d="M1676.9,1077.9A85.9,85.9 0 0 1 1655.1,1131.3" fill="none" stroke="#fbfbfb" stroke-width="1.0" />
<path d="M1694.4,1078.7A103.4,103.4 0 0 1 1668.2,1142.9" fill="none" stroke="#fbfbfb" stroke-width="1.0" />
<path d="M1711.9,1079.5A120.9,120.9 0 0 1 1681.2,1154.6" fill="none" stroke="#fbfbfb" stroke-width="1.0" />
<path d="M1687.9,1169.4A135.9,135.9 0 1 1 1698.5,990.7L1690.3,997A125.6,125.6 0 1 0 1680.5,1162.2z" fill="#96cfd9" />
<path d="M1726.9,1080.2A135.9,135.9 0 0 1 1692.4,1164.6L1684.7,1157.7A125.6,125.6 0 0 0 1716.6,1079.7z" fill="#96cfd9" />
<path d="M1703.1,996.2A136.4,136.4 0 0 1 1718.4,1025.1L1709.5,1028.6A126.8,126.8 0 0 0 1695.2,1001.6z" fill="#e8262b" />
<path d="M1720.7,1031.4A136.4,136.4 0 0 1 1727.5,1073.3L1717.9,1073.3A126.8,126.8 0 0 0 1711.6,1034.4z" fill="#e8262b" />
<path d="M1700.1,998.8A132.4,132.4 0 0 1 1708,1011.8L1703.1,1014.5A126.8,126.8 0 0 0 1695.5,1002z" fill="#111" />
<path d="M1717.3,1034A132.4,132.4 0 0 1 1723.5,1072.8L1717.9,1072.9A126.8,126.8 0 0 0 1712,1035.7z" fill="#111" />
<path d="M1698.3,1001.2A129.6,129.6 0 0 1 1705.1,1012.4" fill="none" stroke="#5a5a5a" stroke-width="2.2" stroke-dasharray="0.9 3.0"/>
<path d="M1714.9,1035.7A129.6,129.6 0 0 1 1720.7,1072" fill="none" stroke="#5a5a5a" stroke-width="2.2" stroke-dasharray="0.9 3.0"/>
<path d="M1702.3,1004A131.4,131.4 0 0 1 1704,1006.7L1700.9,1008.6A127.8,127.8 0 0 0 1699.2,1005.9z" fill="#b0b0b0" />
<path d="M1705,1008.5A131.4,131.4 0 0 1 1706.6,1011.3L1703.4,1013A127.8,127.8 0 0 0 1701.9,1010.3z" fill="#b0b0b0" />
<path d="M1716.8,1035.8A131.4,131.4 0 0 1 1717.7,1038.9L1714.3,1039.8A127.8,127.8 0 0 0 1713.4,1036.8z" fill="#b0b0b0" />
<path d="M1718.9,1043.3A131.4,131.4 0 0 1 1719.6,1046.5L1716.1,1047.2A127.8,127.8 0 0 0 1715.4,1044.2z" fill="#b0b0b0" />
<path d="M1720.1,1049.2A131.4,131.4 0 0 1 1720.7,1052.3L1717.1,1052.9A127.8,127.8 0 0 0 1716.6,1049.8z" fill="#b0b0b0" />
<path d="M1721.3,1056.4A131.4,131.4 0 0 1 1721.7,1059.6L1718.1,1060A127.8,127.8 0 0 0 1717.7,1056.9z" fill="#b0b0b0" />
<path d="M1722.2,1064.6A131.4,131.4 0 0 1 1722.4,1067.8L1718.8,1068A127.8,127.8 0 0 0 1718.6,1064.9z" fill="#b0b0b0" />
<path d="M1699.4,991.5A136.2,136.2 0 0 1 1702.4,995.5L1694.9,1000.8A127,127 0 0 0 1692.1,997z" fill="#7a7a7a" />
<path d="M1718.5,1025.9A136.2,136.2 0 0 1 1720.2,1030.6L1711.5,1033.5A127,127 0 0 0 1709.9,1029.1z" fill="#7a7a7a" />
<path d="M1727.3,1074.2A136.2,136.2 0 0 1 1727.2,1079.2L1718,1078.9A127,127 0 0 0 1718.1,1074.2z" fill="#7a7a7a" />
<path d="M1692.2,1165.3A136.2,136.2 0 0 1 1688.7,1169L1682.1,1162.5A127,127 0 0 0 1685.3,1159.1z" fill="#7a7a7a" />
<path d="M1686.7,1168.2A134.2,134.2 0 1 1 1697.1,991.7" fill="none" stroke="#000" stroke-width="1.4" />
<path d="M1686.7,1168.2A134.2,134.2 0 1 1 1697.1,991.7" fill="none" stroke="#000" stroke-width="3.2" stroke-dasharray="0.7 4.6"/>
<path d="M1725.2,1080.1A134.2,134.2 0 0 1 1691.1,1163.4" fill="none" stroke="#000" stroke-width="1.4" />
<path d="M1725.2,1080.1A134.2,134.2 0 0 1 1691.1,1163.4" fill="none" stroke="#000" stroke-width="3.2" stroke-dasharray="0.7 4.6"/>
<line x1="1699.7" y1="991.3" x2="1702.4" y2="989.2" stroke="#444" stroke-width="0.7" />
<line x1="1703.7" y1="996.9" x2="1706.5" y2="995" stroke="#444" stroke-width="0.7" />
<line x1="1718.7" y1="1025.5" x2="1721.9" y2="1024.3" stroke="#444" stroke-width="0.7" />
<line x1="1721.2" y1="1032.7" x2="1724.5" y2="1031.7" stroke="#444" stroke-width="0.7" />
<line x1="1727.6" y1="1073.5" x2="1731" y2="1073.5" stroke="#444" stroke-width="0.7" />
<line x1="1727.5" y1="1080.2" x2="1730.9" y2="1080.3" stroke="#444" stroke-width="0.7" />
<line x1="1692.9" y1="1165" x2="1695.4" y2="1167.2" stroke="#444" stroke-width="0.7" />
<line x1="1689" y1="1169.2" x2="1691.4" y2="1171.5" stroke="#444" stroke-width="0.7" />
<text x="1706.2" y="988.8" font-size="8.2" fill="#7e7e7e" transform="rotate(-36.5 1706.2 988.8)">47032272</text>
<text x="1710.2" y="996.7" font-size="8.2" fill="#7e7e7e" transform="rotate(-33 1710.2 996.7)">6690</text>
<text x="1724.5" y="1026.5" font-size="8.2" fill="#7e7e7e" transform="rotate(-19.6 1724.5 1026.5)">7905</text>
<text x="1726.9" y="1034" font-size="8.2" fill="#7e7e7e" transform="rotate(-16.4 1726.9 1034)">6</text>
<text x="1734.1" y="1077" font-size="8.2" fill="#7e7e7e" transform="rotate(0 1734.1 1077)">1599</text>
<text x="1732.9" y="1084.4" font-size="8.2" fill="#7e7e7e" transform="rotate(0 1732.9 1084.4)">47031779</text>
<text x="1696.6" y="1168.3" font-size="8.2" fill="#7e7e7e" transform="rotate(42 1696.6 1168.3)">47028374</text>
<text x="1690.1" y="1175.1" font-size="8.2" fill="#7e7e7e" transform="rotate(43 1690.1 1175.1)">47057324</text>
<text x="1738.5" y="988.2" font-size="12.5" font-style="italic" transform="rotate(-30 1738.5 988.2)">L1</text>
<text x="1757.4" y="1036.5" font-size="12.7" font-style="italic">E6</text>
<text x="1758.6" y="1046.8" font-size="12.7" font-style="italic">E7</text>
<text x="1759.8" y="1058.3" font-size="12.7" font-style="italic">E1</text>
<path d="M1639.9,1036.4l-.9-.9l-.7-1.1l-.7-1.1l-1-.9l-.9-.9l-1.2-.6l-.8-1l-.8-1l-.9-.9l-1.4-.4l-.8-1.1l-.7-1.1l-1.3-.5l-1-.8l-1-.8l-1.4-.1l-.9-1l-1.1-.7l-1.1-.7l-1.1-.7l-1.2-.4l-1.3-.3l-1.1-.6l-1.1-.6l-1.2-.5l-1.2-.5l-1.1-.5h-1.4l-1.1-.7l-1.2-.6l-1.2-.2l-1.2-.4h-1.4l-1.2-.2h-1.3l-1.2-.7l-1.2-.1l-1.3-.4h-1.3l-1.2,.1l-1.3-.1l-1.3,.2l-1.3-.5l-1.2,.2l-1.3-.1h-1.3l-1.2,.1l-1.3-.2l-1.2,.8l-1.4-.3l-1.2,.6l-1.3-.2l-1.3,.1l-1.2,.5h-1.3l-1.2,.3l-1.2,.5l-1.3,.1l-1.2,.4l-1.2,.4l-1.3,.4l-1.1,.7l-1.4-.2l-1.2,.5l-1.2,.6l-1.1,.6l-1,.9l-1.3,.3l-1.1,.7l-1.1,.8l-1,.7l-1.1,.6l-1.2,.7l-1.1,.6l-.7,1.2l-1.4,.3l-.8,1.1l-1,.8l-1,.9l-.7,1l-1.2,.7l-.9,.9l-.8,1l-1,.9l-.8,1l-.8,1l-.7,1.1l-.7,1.1l-1,.9l-.7,1.1l-.6,1.1l-.7,1.1l-.9,1l-.4,1.2l-.6,1.1l-.9,1l-.2,1.4l-.5,1.2l-.7,1.1l.1,1.4l-1.1,.9l-.1,1.4l-.2,1.3l-.4,1.2l-.5,1.1l-.4,1.3l-.2,1.3l-.2,1.2l-.2,1.3l-.3,1.2l-.4,1.2l-.1,1.3l-.2,1.3v1.3v1.2l-.1,1.3l-.1,1.3l-.1,1.2l.3,1.3v1.3l.2,1.3l-.4,1.3v1.2l.6,1.2l-.1,1.3l.6,1.2l-.1,1.3l.2,1.3l.4,1.2l.1,1.3l.5,1.2l.2,1.2v1.4l.5,1.2l.8,1l.4,1.2l-.1,1.4l.7,1.1l1,1l.1,1.4l1.2,.8l.2,1.3l.3,1.3l.6,1.1l.8,1l.6,1.1l.6,1.2l.6,1.2l.9,.9l.6,1.1l1,.9l.6,1.1l.9,1l.5,1.2l1,.9l.9,.9l.9,1l1,.8l1,.8l.7,1.1l1.2,.6l1.1,.7l.9,.9l1,.9l1,.7l1.1,.7l1.2,.5l1.1,.7l1.2,.6l1,.9l1.1,.7l1.1,.5l1.2,.5l1.3,.3l1.1,.7l1.2,.5l1.2,.4l1.3,.4l1.2,.3l1.3,.2l1.1,.6l1.3,.3l1.3,.2l1.2,.3l1.3,.1l1.4-.1l1.1,.8l1.3-.1h1.3l1.3,.2h1.3h1.3h1.2l1.3,.1l1.3-.5l1.3,.4l1.2-.6h1.3l1.3-.1l1.2-.2l1.3,.1l1.3,.1l1.3-.3l1.3-.2l1.2-.4l1.2-.3l1.3-.4l1.2-.4l1.3-.1l1.2-.4l1.2-.6l1.2-.3l1.3-.4l1-.8l1.3-.3l1.2-.5l1.3-.2l1.1-.8l2.9-1l1.5-1.8l2.7,.2l1.4-1.9l2.8-.1l1.1-2.1l2.9-.2l.6-1.6" fill="none" stroke="#2349a3" stroke-width="1.1" stroke-linejoin="round"/>
<path d="M1639.8,1118.6l-.4-4.1l4.5,.7l-2.6-4.8l7.5,3.2l-4-4.7l8.9,2.7l-5.2-5.1l10,2.6l-6.3-5.3l12,2.7l-7.5-5.3l13.3,1.5l4.3-.1l-7.9-4.8l12,2l-8.1-4.6l29.7,4.9l-15.2-5.2l19,2l-15.4-4.9h11.2l-19.4-5.5l-14.6-4l-8.7-3.3l-3.9-2" fill="none" stroke="#2349a3" stroke-width="1.1" stroke-linejoin="round"/>
<path d="M1634.8,1044l-.4,5l1.6,4.1l3.5,1.8" fill="none" stroke="#2349a3" stroke-width="1.1" stroke-linejoin="round"/>
<path d="M1640.7,1058.4l32.7-9.3l-16.8,6.7l23.4-5.3l-20.9,6.8l25.5-5.2l-21.2,6.3l10-1l-17.4,4.6l-7.7,2.4l-2.5,3.9l-.2,3.8l-1.5,1.4" fill="none" stroke="#2349a3" stroke-width="1.1" stroke-linejoin="round"/>
</g>
<text x="1394" y="1066.7" font-size="13" font-style="italic">EYA2</text>
<rect x="1319.5" y="968" width="24.6" height="8.6" fill="#96cfd9" />
<line x1="1319.5" y1="980.4" x2="1344.9" y2="980.4" stroke="#000" stroke-width="1.2" />
<rect x="1319.5" y="982" width="24.6" height="140.6" fill="#dcdcdc" />
<line x1="1319.5" y1="988.4" x2="1344.1" y2="988.4" stroke="#fff" stroke-width="1.2" />
<line x1="1319.5" y1="1019.7" x2="1344.1" y2="1019.7" stroke="#fff" stroke-width="1.2" />
<line x1="1319.5" y1="1051" x2="1344.1" y2="1051" stroke="#fff" stroke-width="1.2" />
<line x1="1319.5" y1="1082" x2="1344.1" y2="1082" stroke="#fff" stroke-width="1.2" />
<line x1="1319.5" y1="1113.4" x2="1344.1" y2="1113.4" stroke="#fff" stroke-width="1.2" />
<text x="1317.3" y="989.9" font-size="4.2" fill="#222" text-anchor="end">2000.0</text>
<text x="1317.3" y="1021.2" font-size="4.2" fill="#222" text-anchor="end">1500.0</text>
<text x="1317.3" y="1052.5" font-size="4.2" fill="#222" text-anchor="end">1000.0</text>
<text x="1317.3" y="1083.5" font-size="4.2" fill="#222" text-anchor="end">500.0</text>
<text x="1317.3" y="1114.9" font-size="4.2" fill="#222" text-anchor="end">0.0</text>
<rect x="1278" y="1030" width="15" height="43" fill="#000" />
<text x="1287.6" y="1051.5" font-size="6.1" fill="#fff" text-anchor="middle" transform="rotate(-90 1287.6 1051.5)">Primary data</text>
<text x="1274.2" y="1051.5" font-size="7.4" fill="#222" text-anchor="middle" transform="rotate(-90 1274.2 1051.5)">RNA coverage</text>
<rect x="1357.9" y="1165.1" width="21.7" height="8" fill="#96cfd9" />
<text x="1388.2" y="1172.6" font-size="10.4" fill="#111">chr20</text>
<rect x="1357.9" y="1180.4" width="21.7" height="8" fill="#e8262b" />
<text x="1388.2" y="1187.9" font-size="10.4" fill="#111">hpv16ref_1</text>
<g transform="translate(1598.8 1521.4) scale(0.995 1.003) translate(-1598.8 -1521.4)">
<path d="M1571.6,1597.3A80.6,80.6 0 0 1 1601.5,1440.8" fill="none" stroke="#a6a6a6" stroke-width="0.7" />
<path d="M1568.4,1606.3A90.2,90.2 0 0 1 1601.8,1431.2" fill="none" stroke="#a6a6a6" stroke-width="0.7" />
<path d="M1565.2,1615.4A99.8,99.8 0 0 1 1602.1,1421.7" fill="none" stroke="#a6a6a6" stroke-width="0.7" />
<path d="M1561.9,1624.4A109.4,109.4 0 0 1 1602.4,1412.1" fill="none" stroke="#a6a6a6" stroke-width="0.7" />
<path d="M1558.7,1633.4A119,119 0 0 1 1602.7,1402.5" fill="none" stroke="#a6a6a6" stroke-width="0.7" />
<path d="M1605.5,1441.1A80.6,80.6 0 0 1 1649,1458.3" fill="none" stroke="#a6a6a6" stroke-width="0.7" />
<path d="M1606.3,1431.5A90.2,90.2 0 0 1 1655,1450.8" fill="none" stroke="#a6a6a6" stroke-width="0.7" />
<path d="M1607.2,1422A99.8,99.8 0 0 1 1660.9,1443.3" fill="none" stroke="#a6a6a6" stroke-width="0.7" />
<path d="M1608,1412.4A109.4,109.4 0 0 1 1666.9,1435.8" fill="none" stroke="#a6a6a6" stroke-width="0.7" />
<path d="M1608.8,1402.8A119,119 0 0 1 1672.9,1428.3" fill="none" stroke="#a6a6a6" stroke-width="0.7" />
<path d="M1652,1460.8A80.6,80.6 0 0 1 1679.4,1521.4" fill="none" stroke="#a6a6a6" stroke-width="0.7" />
<path d="M1658.3,1453.6A90.2,90.2 0 0 1 1689,1521.4" fill="none" stroke="#a6a6a6" stroke-width="0.7" />
<path d="M1664.7,1446.4A99.8,99.8 0 0 1 1698.6,1521.4" fill="none" stroke="#a6a6a6" stroke-width="0.7" />
<path d="M1671,1439.2A109.4,109.4 0 0 1 1708.2,1521.4" fill="none" stroke="#a6a6a6" stroke-width="0.7" />
<path d="M1677.3,1432A119,119 0 0 1 1717.8,1521.4" fill="none" stroke="#a6a6a6" stroke-width="0.7" />
<path d="M1679.3,1525.6A80.6,80.6 0 0 1 1575.4,1598.5" fill="none" stroke="#a6a6a6" stroke-width="0.7" />
<path d="M1688.9,1526.1A90.2,90.2 0 0 1 1572.6,1607.7" fill="none" stroke="#a6a6a6" stroke-width="0.7" />
<path d="M1698.5,1526.6A99.8,99.8 0 0 1 1569.8,1616.9" fill="none" stroke="#a6a6a6" stroke-width="0.7" />
<path d="M1708.1,1527.1A109.4,109.4 0 0 1 1567,1626.1" fill="none" stroke="#a6a6a6" stroke-width="0.7" />
<path d="M1717.6,1527.6A119,119 0 0 1 1564.2,1635.3" fill="none" stroke="#a6a6a6" stroke-width="0.7" />
<path fill-rule="evenodd" fill="#dcdcdc" d="M1522.5,1521.4a76.3,76.3 0 1 0 152.6,0a76.3,76.3 0 1 0 -152.6,0zM1570,1521.4a28.8,28.8 0 1 0 57.6,0a28.8,28.8 0 1 0 -57.6,0z"/>
<path d="M1587.4,1553.2A33.8,33.8 0 0 1 1599.9,1487.6" fill="none" stroke="#fbfbfb" stroke-width="1.0" />
<path d="M1584.2,1562.2A43.3,43.3 0 0 1 1600.2,1478.1" fill="none" stroke="#fbfbfb" stroke-width="1.0" />
<path d="M1581,1571.1A52.8,52.8 0 0 1 1600.6,1468.6" fill="none" stroke="#fbfbfb" stroke-width="1.0" />
<path d="M1577.8,1580A62.2,62.2 0 0 1 1600.9,1459.2" fill="none" stroke="#fbfbfb" stroke-width="1.0" />
<path d="M1574.6,1588.9A71.7,71.7 0 0 1 1601.2,1449.7" fill="none" stroke="#fbfbfb" stroke-width="1.0" />
<path d="M1601.6,1487.7A33.8,33.8 0 0 1 1619.8,1494.9" fill="none" stroke="#fbfbfb" stroke-width="1.0" />
<path d="M1602.4,1478.3A43.3,43.3 0 0 1 1625.8,1487.5" fill="none" stroke="#fbfbfb" stroke-width="1.0" />
<path d="M1603.2,1468.8A52.8,52.8 0 0 1 1631.7,1480.1" fill="none" stroke="#fbfbfb" stroke-width="1.0" />
<path d="M1604,1459.4A62.2,62.2 0 0 1 1637.5,1472.7" fill="none" stroke="#fbfbfb" stroke-width="1.0" />
<path d="M1604.8,1450A71.7,71.7 0 0 1 1643.4,1465.3" fill="none" stroke="#fbfbfb" stroke-width="1.0" />
<path d="M1621.1,1496A33.8,33.8 0 0 1 1632.6,1521.4" fill="none" stroke="#fbfbfb" stroke-width="1.0" />
<path d="M1627.4,1488.9A43.3,43.3 0 0 1 1642.1,1521.4" fill="none" stroke="#fbfbfb" stroke-width="1.0" />
<path d="M1633.6,1481.7A52.8,52.8 0 0 1 1651.6,1521.4" fill="none" stroke="#fbfbfb" stroke-width="1.0" />
<path d="M1639.9,1474.7A62.2,62.2 0 0 1 1661,1521.4" fill="none" stroke="#fbfbfb" stroke-width="1.0" />
<path d="M1646.1,1467.5A71.7,71.7 0 0 1 1670.5,1521.4" fill="none" stroke="#fbfbfb" stroke-width="1.0" />
<path d="M1632.6,1523.2A33.8,33.8 0 0 1 1589,1553.7" fill="none" stroke="#fbfbfb" stroke-width="1.0" />
<path d="M1642,1523.7A43.3,43.3 0 0 1 1586.2,1562.8" fill="none" stroke="#fbfbfb" stroke-width="1.0" />
<path d="M1651.5,1524.2A52.8,52.8 0 0 1 1583.5,1571.9" fill="none" stroke="#fbfbfb" stroke-width="1.0" />
<path d="M1660.9,1524.7A62.2,62.2 0 0 1 1580.7,1580.9" fill="none" stroke="#fbfbfb" stroke-width="1.0" />
<path d="M1670.4,1525.2A71.7,71.7 0 0 1 1578,1590" fill="none" stroke="#fbfbfb" stroke-width="1.0" />
<path d="M1734,1528.5A135.4,135.4 0 0 1 1559.4,1651L1562.2,1641.8A125.8,125.8 0 0 0 1724.4,1528z" fill="#f9dcbc" />
<path d="M1553.2,1648.9A135.4,135.4 0 0 1 1603.3,1386.1L1603,1395.7A125.8,125.8 0 0 0 1556.4,1639.8z" fill="#f9dcbc" />
<path d="M1610.1,1386.8A135.1,135.1 0 0 1 1682.9,1415.7L1676.9,1423.3A125.4,125.4 0 0 0 1609.3,1396.4z" fill="#e8262b" />
<path d="M1688,1419.9A135.1,135.1 0 0 1 1733.9,1521.4L1724.2,1521.4A125.4,125.4 0 0 0 1681.6,1427.2z" fill="#e8262b" />
<path d="M1610.6,1386.3A135.6,135.6 0 0 1 1682.8,1415L1679.6,1419.1A130.4,130.4 0 0 0 1610.2,1391.5z" fill="#111" />
<path d="M1700.4,1431.5A135.6,135.6 0 0 1 1734.4,1520.9L1729.2,1520.9A130.4,130.4 0 0 0 1696.5,1435z" fill="#111" />
<path d="M1611.3,1389A133,133 0 0 1 1680.7,1416.6" fill="none" stroke="#5a5a5a" stroke-width="2.2" stroke-dasharray="0.9 3.3"/>
<path d="M1699.2,1434.1A133,133 0 0 1 1731.8,1520" fill="none" stroke="#5a5a5a" stroke-width="2.2" stroke-dasharray="0.9 3.3"/>
<path d="M1614.8,1387.5A134.8,134.8 0 0 1 1618,1388L1617.5,1391.5A131.2,131.2 0 0 0 1614.3,1391.1z" fill="#a8a8a8" />
<path d="M1618.3,1388A134.8,134.8 0 0 1 1621.5,1388.5L1620.9,1392.1A131.2,131.2 0 0 0 1617.7,1391.6z" fill="#a8a8a8" />
<path d="M1667.8,1405.6A134.8,134.8 0 0 1 1670.6,1407.3L1668.7,1410.4A131.2,131.2 0 0 0 1666,1408.7z" fill="#a8a8a8" />
<path d="M1671.8,1408.1A134.8,134.8 0 0 1 1674.6,1409.9L1672.5,1412.9A131.2,131.2 0 0 0 1669.9,1411.1z" fill="#a8a8a8" />
<path d="M1675.7,1410.7A134.8,134.8 0 0 1 1678.4,1412.6L1676.3,1415.5A131.2,131.2 0 0 0 1673.7,1413.7z" fill="#a8a8a8" />
<path d="M1699.4,1431.7A134.8,134.8 0 0 1 1701.6,1434.2L1698.9,1436.5A131.2,131.2 0 0 0 1696.8,1434.1z" fill="#a8a8a8" />
<path d="M1722.7,1468.3A134.8,134.8 0 0 1 1724,1471.3L1720.6,1472.7A131.2,131.2 0 0 0 1719.4,1469.7z" fill="#a8a8a8" />
<path d="M1724.5,1472.7A134.8,134.8 0 0 1 1725.6,1475.7L1722.2,1477A131.2,131.2 0 0 0 1721.1,1474z" fill="#a8a8a8" />
<path d="M1732.2,1502.2A134.8,134.8 0 0 1 1732.7,1505.4L1729.1,1505.9A131.2,131.2 0 0 0 1728.7,1502.7z" fill="#a8a8a8" />
<path d="M1732.9,1508A134.8,134.8 0 0 1 1733.2,1511.3L1729.6,1511.6A131.2,131.2 0 0 0 1729.4,1508.4z" fill="#a8a8a8" />
<path d="M1733.4,1513.9A134.8,134.8 0 0 1 1733.5,1517.2L1729.9,1517.3A131.2,131.2 0 0 0 1729.8,1514.1z" fill="#a8a8a8" />
<path d="M1604.2,1386.7A134.8,134.8 0 0 1 1609.4,1387L1608.7,1395A126.8,126.8 0 0 0 1603.9,1394.7z" fill="#7a7a7a" />
<path d="M1683.3,1416.3A134.8,134.8 0 0 1 1687.2,1419.7L1682,1425.7A126.8,126.8 0 0 0 1678.3,1422.6z" fill="#7a7a7a" />
<path d="M1733.6,1522.1A134.8,134.8 0 0 1 1733.5,1527.7L1725.5,1527.4A126.8,126.8 0 0 0 1725.6,1522.1z" fill="#7a7a7a" />
<path d="M1558.9,1650.2A134.8,134.8 0 0 1 1554,1648.5L1556.7,1641A126.8,126.8 0 0 0 1561.3,1642.5z" fill="#7a7a7a" />
<path d="M1551.2,1646.6A130.7,130.7 0 0 1 1604.5,1393.5" fill="none" stroke="#000" stroke-width="1.3" />
<path d="M1551.2,1646.6A130.7,130.7 0 0 1 1604.5,1393.5" fill="none" stroke="#000" stroke-width="3.0" stroke-dasharray="0.7 5.2"/>
<path d="M1726.5,1531.6A130.4,130.4 0 0 1 1680.1,1623.8" fill="none" stroke="#000" stroke-width="1.3" />
<path d="M1726.5,1531.6A130.4,130.4 0 0 1 1680.1,1623.8" fill="none" stroke="#000" stroke-width="3.0" stroke-dasharray="0.7 7.5"/>
<path d="M1720.1,1573.4A133.3,133.3 0 0 1 1718.6,1576.8L1713.9,1574.8A128.1,128.1 0 0 0 1715.2,1571.5z" fill="#111" />
<path d="M1682.6,1625.3A133.1,133.1 0 0 1 1678.6,1628.5L1675.6,1624.7A128.3,128.3 0 0 0 1679.5,1621.6z" fill="#8a8a8a" />
<path d="M1476.2,1463.2A135.7,135.7 0 0 1 1487.9,1443.2L1490.3,1444.8A132.8,132.8 0 0 0 1478.8,1464.4z" fill="#111" />
<path d="M1474.4,1467A135.8,135.8 0 0 1 1476.3,1462.7L1481,1465A130.6,130.6 0 0 0 1479.1,1469.1z" fill="#b4b4b4" />
<path d="M1487,1444.3A135.8,135.8 0 0 1 1489.8,1440.4L1494,1443.5A130.6,130.6 0 0 0 1491.3,1447.2z" fill="#b4b4b4" />
<line x1="1603.5" y1="1385.7" x2="1603.7" y2="1382.3" stroke="#444" stroke-width="0.7" />
<line x1="1610.2" y1="1386.1" x2="1610.4" y2="1382.7" stroke="#444" stroke-width="0.7" />
<line x1="1683.3" y1="1415.1" x2="1685.5" y2="1412.5" stroke="#444" stroke-width="0.7" />
<line x1="1688.4" y1="1419.4" x2="1690.7" y2="1416.8" stroke="#444" stroke-width="0.7" />
<line x1="1734.6" y1="1521.4" x2="1738" y2="1521.4" stroke="#444" stroke-width="0.7" />
<line x1="1734.4" y1="1528.5" x2="1737.8" y2="1528.7" stroke="#444" stroke-width="0.7" />
<line x1="1559.3" y1="1651.3" x2="1558.5" y2="1654.2" stroke="#444" stroke-width="0.7" />
<line x1="1553" y1="1649.3" x2="1552" y2="1652.1" stroke="#444" stroke-width="0.7" />
<text x="1606.4" y="1380.8" font-size="8.2" fill="#7e7e7e" transform="rotate(-90 1606.4 1380.8)">139296119</text>
<text x="1614.4" y="1380.8" font-size="8.2" fill="#7e7e7e" transform="rotate(-90 1614.4 1380.8)">3192</text>
<text x="1687.5" y="1413.4" font-size="8.2" fill="#7e7e7e" transform="rotate(-50.6 1687.5 1413.4)">1</text>
<text x="1693.4" y="1418.5" font-size="8.2" fill="#7e7e7e" transform="rotate(-47.4 1693.4 1418.5)">7905</text>
<text x="1740.6" y="1522.4" font-size="8.2" fill="#7e7e7e">3310</text>
<text x="1740.6" y="1531.4" font-size="8.2" fill="#7e7e7e">139294466</text>
<text x="1551.1" y="1653.2" font-size="8.2" fill="#7e7e7e" text-anchor="end" transform="rotate(-70 1551.1 1653.2)">139311725</text>
<text x="1559.1" y="1656.3" font-size="8.2" fill="#7e7e7e" text-anchor="end" transform="rotate(-68 1559.1 1656.3)">139284637</text>
<text x="1654.8" y="1362.4" font-size="12.7" font-style="italic" transform="rotate(-70.6 1654.8 1362.4)">E1</text>
<text x="1691.6" y="1380.6" font-size="12.7" font-style="italic" transform="rotate(-56.6 1691.6 1380.6)">E7</text>
<text x="1704" y="1389.6" font-size="12.7" font-style="italic" transform="rotate(-51.4 1704 1389.6)">E6</text>
<text x="1736.1" y="1423.5" font-size="12.7" font-style="italic" transform="rotate(-35.5 1736.1 1423.5)">L1</text>
<text x="1759.6" y="1470.7" font-size="12.7" font-style="italic" transform="rotate(-17.5 1759.6 1470.7)">L2</text>
<text x="1766.7" y="1505.5" font-size="12.7" font-style="italic" transform="rotate(-5.4 1766.7 1505.5)">E5</text>
<text x="1766.3" y="1520.8" font-size="12.7" font-weight="bold" font-style="italic" transform="rotate(0 1766.3 1520.8)">E2</text>
<text x="1766.6" y="1522.6" font-size="12.7" font-weight="bold" font-style="italic" transform="rotate(0 1766.6 1522.6)">E4</text>
<text x="1536.8" y="1362.3" font-size="12.7" text-anchor="end" font-style="italic" transform="rotate(70.4 1536.8 1362.3)">NDUFC1</text>
<text x="1464.6" y="1621.4" font-size="12.7" text-anchor="end" font-style="italic" transform="rotate(-32.5 1464.6 1621.4)">NAA15</text>
<path d="M1571.6,1597.3A80.6,80.6 0 0 1 1601.5,1440.8" fill="none" stroke="#2349a3" stroke-width="1.3" />
<path d="M1570.9,1599.2l-.8-.2h-.9l-.7-.8l-.8-.3h-.9h-1l-.4-1.2l-1.1,.4l-.8-.4l-.5-1h-.9l-.9-.1l-.6-.8l-.8-.3l-1-.1l-.7-.5l-.7-.5l-.5-.9l-.9-.2l-.9-.2l-.6-.7l-.6-.6l-1-.1l-.4-1h-1l-.5-.8l-.7-.5l-.8-.5l-.5-.7l-1-.2l-.7-.4l-.8-.5l-.4-.8l-.8-.4l-.5-.7l-.5-.8l-1-.2l-.2-1.1l-1-.2l-.4-.8l-.8-.5l-.5-.6l-.8-.5l-.5-.8l-.4-.7l-.5-.8l-1-.2l-.5-.7l-.5-.7l-.7-.6l-.5-.7l-.4-.8l-.7-.6l-.9-.4l-.5-.7l-.4-.7v-1.1l-.6-.6l-.7-.7l-.9-.4l.1-1.1l-.5-.7l-.4-.8l-.7-.6l-.6-.6l-.2-.9l-.5-.7l-.6-.7l.1-1l-.7-.6l-.6-.7l-.4-.8v-.9l-.4-.8l-.5-.7l-.5-.8l-.5-.7l-.7-.6l.4-1.1l-.9-.6l-.6-.7l.3-1.1l-.7-.6l.1-1l-.5-.7l-.2-.9l.1-.9l-.9-.7l-.2-.8l.3-1l-.8-.7l.3-1l-.3-.8l-.3-.8l-.6-.8l-.3-.8l.5-1l-.7-.7l-.4-.8l.4-1l-1-.7l.5-1l.1-.9l-.1-.8l-.4-.9l-.6-.8l-.1-.8l.2-.9l.3-.9l-.5-.9l.2-.9l.4-.9l-.7-.8l.2-.9l-.4-.8l.2-.9l-.1-.9l-.1-.9l.1-.8l.4-.9v-.9l-.1-.8l-.4-.9l.4-.9l-.1-.9v-.8l.6-.9v-.8l.4-.9l-.4-.9v-.9l.5-.8v-.9l-.3-.9l.7-.8l.1-.8l.4-.8l-.5-1l.2-.9l.9-.7v-.9l.1-.9l.3-.8l-.3-1l.1-.9l-.1-.9l.7-.7l-.8-1.2l.8-.7l.4-.8l-.2-1l-.8-1.2l.5-.8l.5-.8l-.2-1l-.2-1.1l-.2-1.1l-1-1.5l.3-.9l-1.6-1.8l-1.9-2l.2-1l.3-.9l-.2-1.3l.1-1l2-.1l.4-.9l-3.6-3.3l2.2,.2l-5.3-4.5l3.9,1.2l-2.5-2.9l-1.9-2.6l-6-5.4l2.7,.4l.5-1.1l3.2,.9l-3.7-4.1l-2.5-3.5l7.9,4.6l5.9,3.2l8.9,5.8l4.3,2.3l1.1-.2l-.1-1.3h1.4l.2-1l1-.4l.5-.7l-.4-1.7l1.6,.3l.6-.7l1.1-.1l.6-.8l1.3,.1l.6-.6l.8-.5l.6-.7l.6-.7l.7-.6l.7-.5l.9-.3l.8-.4l.9-.3l.3-1l.5-.9l1.3,.2l.7-.5l.8-.3l-.1-1.8l1.3,.4l.7-.6l-.1-1.9l1.5,.7l.6-.8l.3-1.1l1.3,.3l-.2-2.2l.8-.3l1.1,.1l.3-1.5l.8-.5l1.4,.8l.8-.4l.7-.7l.8-.3l1.3,.5l1.4,1l.5-1.1l.7-.7l1,.2l.8-.5l.5-1.1h1l1.2,.7l.8-.5l.5-1.3l1.1,.7l.9-.1l.8-.5l.8-.4l1,.2l.7-1.1l1,.3l.8-.4l.8-.6l.7-1l.8-.8l1,.4l.6-1.4l.7-1.8l.6-2l1.4,3.2l1-.2l1.2,2.6l1,.4l.8-.9l.8-.3l1,1.2l.9-1.1l.9,1.4l.9-1.1l.9,.1l.9,.3l.9-.4h.9l.8-.7l.9,.8l.9,.4l.9,.6l-.1,3.8h-3.4l-3.4,.1l-3.3,.2l-3.4,.4l-3.3,.5l-3.3,.7l-3.3,.8l-3.2,.9l-3.2,1.1l-3.2,1.2l-3.1,1.4l-3,1.4l-3,1.6l-2.9,1.7l-2.8,1.9l-2.8,1.9l-2.6,2.1l-2.6,2.1l-2.5,2.3l-2.4,2.4l-2.3,2.5l-2.2,2.6l-2,2.6l-2,2.8l-1.8,2.8l-1.7,2.9l-1.6,3l-1.5,3l-1.3,3.1l-1.2,3.2l-1.1,3.1l-1,3.3l-.8,3.3l-.6,3.3l-.6,3.3l-.3,3.3l-.3,3.4l-.1,3.4v3.3l.2,3.4l.3,3.4l.5,3.3l.6,3.3l.7,3.3l.9,3.3l1,3.2l1.2,3.2l1.2,3.1l1.4,3l1.6,3.1l1.6,2.9l1.8,2.9l1.9,2.7l2,2.7l2.1,2.7l2.3,2.5l2.3,2.4l2.5,2.4l2.5,2.2l2.6,2.1l2.7,2l2.8,1.9l2.9,1.8l2.9,1.6l3,1.5l3.1,1.4l3.1,1.3l1.6,.6z" fill="#2349a3"/>
<path d="M1605.5,1441.1A80.6,80.6 0 0 1 1649,1458.3" fill="none" stroke="#2349a3" stroke-width="1.3" />
<path d="M1605.8,1438.4l.8,.3l1-.8l.9-.3l.9,.1l.8,.5l.8,1l.9-.7l.9,.4l1-.6l.9-.1l.8,.7l.6,1.3l1-.3l1-.4l.8,.2l.9-.1l.6,1.3l1-.1l.8,.4l.8,.1l.9,.1l.7,.9l.9-.1l1-.3l.7,.9l.6,.7l1-.1h.9l1.1-.3l.4,1.4l.8,.4l.9,.2l1-.1l.9,.1l.9,.3l.5,1l.7,.3l1,.2l.8,.3l.9,.1l.8,.4l1.2-.2l.8,.3l1,.2l.6,.7l1,.2l.8,.3l.7,.6l.7,.7l.5,.7l1.4-.3l.9,.3l-.2,1.7l.9,.4l.8,.3l1.2,.1l-3.8,4.8l-.7-.5l-.7-.6l-.7-.5l-.6-.5l-.7-.5l-.7-.4l-.7-.5l-.7-.5l-.7-.5l-.7-.4l-.7-.5l-.8-.4l-.7-.4l-.7-.5l-.7-.4l-.8-.4l-.7-.4l-.8-.4l-.7-.4l-.8-.4l-.7-.3l-.8-.4l-.8-.4l-.7-.3l-.8-.4l-.8-.3l-.8-.3l-.7-.3l-.8-.3l-.8-.3l-.8-.3l-.8-.3l-.8-.3l-.8-.2l-.8-.3l-.8-.3l-.8-.2l-.8-.2l-.8-.2l-.9-.3l-.8-.2l-.8-.2l-.8-.2l-.9-.1l-.8-.2l-.8-.2l-.8-.1l-.9-.2l-.8-.1l-.8-.1l-.9-.2l-.8-.1l-.9-.1l-.8-.1h-.8l-.9-.1z" fill="#2349a3"/>
<path d="M1652,1460.8A80.6,80.6 0 0 1 1679.4,1521.4" fill="none" stroke="#2349a3" stroke-width="1.3" />
<path d="M1653.5,1459.1l3.5-2.6l6.2-5.3l4.9-3.8l9-7.9l-1.2,2.9l-5.9,7.6l-2.2,3.6l-1.1,2.5l-3,4.2l1.4-.1l-.7,1.9l-.2,1.4l-.2,1.5l.4,.8l.4,.8l.5,.8l.8,.5l-.4,1.5l1.2,.1l.6,.7l.5,.8l.1,1l.6,.7l.8,.5l.5,.8l-.2,1.1l.2,1l.1,1l1.5,.1l.5,.7l.5,.8l-.6,1.4l.4,.7l.4,.8l.5,.7l.6,.8l-.3,1.1l.5,.7l.5,.8l.5,.7l-.1,1l1,.5l.8,.7v.9l.4,.8l-.1,1l.5,.7l.1,.9l.2,.9l.2,.8l1,.7l-1,1.2l1.5,.4l-.8,1.2l.5,.8l-.3,1l1.2,.6l-.4,1l-.1,.9l.9,.7v.9l.5,.8l.4,.8l-.1,.9l-.5,1l1.2,.7l-.4,.9l.2,.9l-.6,1l.7,.8l-.8,.9l1.3,.8l-.4,.9l.2,.9l.3,.8l-.6,.9l-.1,.9l-.3,.9l.6,.8l-.1,.9l.1,.9h-3v-.8v-.9v-.8l-.1-.9v-.8l-.1-.9v-.8l-.1-.8l-.1-.9v-.8l-.1-.9l-.1-.8l-.1-.8l-.2-.9l-.1-.8l-.1-.8l-.2-.9l-.1-.8l-.2-.8l-.2-.8l-.1-.9l-.2-.8l-.2-.8l-.2-.8l-.3-.9l-.2-.8l-.2-.8l-.2-.8l-.3-.8l-.3-.8l-.2-.8l-.3-.8l-.3-.8l-.3-.8l-.3-.8l-.3-.8l-.3-.7l-.3-.8l-.3-.8l-.4-.8l-.3-.7l-.4-.8l-.3-.8l-.4-.7l-.4-.8l-.4-.7l-.4-.8l-.4-.7l-.4-.7l-.4-.8l-.4-.7l-.5-.7l-.4-.7l-.5-.8l-.4-.7l-.5-.7l-.5-.7l-.4-.7l-.5-.7l-.5-.6l-.5-.7l-.5-.7l-.5-.7l-.6-.6l-.5-.7l-.5-.6l-.6-.7l-.5-.6l-.6-.7l-.5-.6l-.6-.6l-.6-.6l-.6-.6l-.5-.6l-.6-.6l-.6-.6l-.6-.6l-.7-.6l-.6-.6l-.6-.5l-.6-.6z" fill="#2349a3"/>
<path d="M1679.3,1525.6A80.6,80.6 0 0 1 1575.4,1598.5" fill="none" stroke="#2349a3" stroke-width="1.3" />
<path d="M1682.2,1525.8l.5,.9l-1.1,.8l-.5,.8l.1,.9l.2,.9l-.5,.8v.9v.8l.4,1l-.6,.8l-.1,.9l-.2,.8l-.3,.8l.3,1l-.3,.8l.3,1l-.7,.7l-.1,.9v.9l-.3,.8l-.1,.9l-.7,.7l-.1,.9l-.3,.8l.1,.9l-.5,.8l-.3,.8l.1,1l-.5,.7l-.9,.6l.2,1l-.6,.7l-.5,.8v.9l-.4,.8l-.7,.6l-.4,.8l-.1,.9l-.2,.9l-.3,.8l-.8,.6l-.6,.6l-.5,.8l-.5,.7l-.3,.8l-.7,.6l-.2,.9l-.2,.8l-.4,.8l-.9,.5l-.1,.9l-1,.5l.3,1.2l-.3,.8l-1.1,.3l-.3,.9l-.4,.8l-.8,.4l-.7,.6l-.4,.8l-.5,.7l-1,.3l-.2,1l-.7,.5l-.4,.9l-.6,.6l-.8,.5l-.5,.7l-.6,.5l-.4,.9l-.8,.4l-.7,.6l-.3,.9l-.5,.7l-.8,.4l-1,.2l-.8,.5l-.4,.7l-.7,.7l-.6,.6l-.8,.4l-.8,.3l-.3,1l-.9,.3l-.6,.7l-1,.1l-.5,.7l-.6,.7l-.6,.6l-1,.1l-.3,1.2l-1.3-.5l-.7,.6l-.6,.7l-.7,.5l-.9,.2l-.6,.7l-.7,.5h-1l-.7,.4l-.7,.6l-.7,.6l-.7,.5l-1-.1l-.8,.4l-.8,.3l-.7,.5l-.9,.2l-.7,.6l-.8,.3l-.9,.2h-.9l-.8,.4l-.9-.1l-.6,.9l-.8,.3l-.9,.3h-.9l-.8,.4l-.9-.2l-.8,.4l-1-.3l-.7,.7l-.9-.2l-.8,.8l-.7,.7l-1-.5l-.8,.4l-.9-.2l-.9,.1l-.8,.3l-.9,.1l-.9-.1l-.8-.1l-.8,.7l-.9-.4l-.8,1l-.9-.5l-.9-.2l-.9,.7l-.8-.1l-.9-.6l-.9,.5l-.9-.1l-.8-.3l-.9,.2l-.9,.4l-.8-.5l-.9,.1l-.8-.5l-.9,.2l-.9-.1l-.9,.1l-.8-.1l-.9-.3h-.8l-.9,.3l-.9-.3l-.8-.5l-1,.9l-.8-.8l-.9,.1l-.8-.5l-.9,.2l-.7-.7l-.9-.1l-1,.4l-.7-.5l-.7-.9l-.9,.2l-.9-.1l-.8-.5l-.9-.1l.7-2.3l1.6,.5l1.7,.4l1.6,.4l1.7,.4l1.6,.4l1.7,.3l1.6,.2l1.7,.2l1.7,.2l1.6,.2l1.7,.1l1.7,.1l1.7,.1h1.7h1.7l1.7-.1l1.6-.1l1.7-.1l1.7-.1l1.7-.2l1.6-.2l1.7-.3l1.7-.3l1.6-.3l1.7-.4l1.6-.4l1.6-.4l1.6-.5l1.7-.5l1.6-.5l1.5-.6l1.6-.6l1.6-.6l1.5-.7l1.6-.7l1.5-.7l1.5-.8l1.5-.8l1.4-.8l1.5-.9l1.4-.9l1.4-.9l1.4-.9l1.4-1l1.4-1l1.3-1.1l1.3-1l1.3-1.1l1.3-1.1l1.2-1.2l1.2-1.1l1.2-1.2l1.2-1.2l1.1-1.3l1.1-1.2l1.1-1.3l1.1-1.3l1-1.4l1-1.3l1-1.4l.9-1.4l1-1.4l.9-1.4l.8-1.5l.8-1.4l.8-1.5l.8-1.5l.7-1.5l.7-1.6l.7-1.5l.6-1.6l.6-1.6l.6-1.5l.6-1.6l.5-1.6l.4-1.7l.5-1.6l.4-1.6l.3-1.7l.4-1.6l.3-1.7l.2-1.6l.3-1.7l.2-1.7l.1-1.7l.1-1.7l.1-.8z" fill="#2349a3"/>
<path d="M1587.4,1553.2A33.8,33.8 0 0 1 1599.9,1487.6" fill="none" stroke="#2349a3" stroke-width="1.3" />
<path d="M1586.8,1554.9l-.4,.1l-.3-.2l-.3-.4l-.5,.2l-.5,.2l-.2-.5l-.3-.2l-.3-.2l-.5,.2l-.3-.4l-.2-.4l-.4,.1l-.4-.1l-.2-.4l-.5,.1l-.3-.3h-.4l-.2-.5h-.4l-.1-.6l-.3-.1l-.4-.1h-.5l-.4-.1l.1-.8l-.4-.1l-.6,.3l-.2-.4l-.4-.1v-.6h-.5v-.5l-.5-.1l-.4-.1h-.4l-.3-.3v-.6l-.4-.1l-.1-.4h-.5v-.6l-.6,.1l-.3-.3l-.3-.2l-.1-.5l-.3-.2l-.1-.4l-.3-.2v-.5l-.3-.3l-.3-.2l-.3-.3l-.2-.3l-.2-.2l-.4-.2v-.5l-.4-.2l-.1-.4h-.6l-.3-.3l.3-.6h-.8l.2-.5l-.1-.4l.1-.5h-.7v-.5l-.4-.2l.1-.4l-.3-.3l-.2-.3v-.4l-.3-.4l-.3-.2l.1-.5l-.5-.2l-.3-.2v-.5l-.3-.2v-.4v-.5l-.1-.3l-.5-.2l.2-.5l-.1-.4v-.4l-.7-.1l.5-.6l-.2-.3l-.4-.3l-.2-.3l.3-.5v-.4l-.8-.2l.5-.5l-.1-.4l-.3-.3v-.4l-.1-.3l-.1-.4l-.5-.3l.6-.5l-.1-.3l-.2-.4v-.4l.2-.4l-.5-.3l-.4-.3l.2-.5l.2-.3l-.1-.4l.1-.4l-.1-.4l.3-.4l-.6-.3l.3-.4l-.1-.4l-.3-.4l.4-.3l.1-.4l-.1-.4l-.2-.4l.4-.4l-.2-.3l-.3-.5l.3-.3l.1-.4l-.2-.4v-.4l.3-.3l-.2-.4l.4-.4l-.2-.4l-.3-.4l.7-.3l-.1-.4l.2-.3l.1-.4l-.2-.4l.2-.4l.1-.3l.1-.4l-.6-.6l-.5-.5l.7-.2l-.5-.6l-.2-.5l-.1-.4l-.4-.6l.3-.3l-.3-.6l-1.9-1.1v-.5l-.1-.5l-.1-.5l-1.9-1.3l.5-.3l-.6-.8l-1.2-1.1l-3-2v-.6l-1.1-1.1l-.1-.7l-.9-1.1l-1.7-1.6l1.7,.3l-2.5-2l-1.7-1.7l-1.5-1.7l-1.2-1.5l-2.8-2.6l2.1,.6l-3-2.9l.2-.7l-.1-1l-.9-1.5l1.6,.2l.6-.5l.2-.7l5,2.9l2.4,1l-2.3-2.6l4.5,2.8l-.6-1.4l2.4,1.3l3.1,1.8l.4-.4l.7-.1l2.9,1.9l.5-.3l.9,.2l2.5,1.7l1.9,1.3l1.1,.5l1.7,1.1l1.7,1.2l.2-.4l1.5,1h.6l.1-.4l.3-.3l.2-.4h.5l.2-.4l.3-.3l-.3-1l.9,.5l.3-.3l.1-.6l.8,.4l.1-.6v-.8l.6,.3v-.8l.4-.2l-.4-1.4l-.4-1.6l.5,.1l.1-.8l.4-.2l.6,.2l.4-.2l.8,.6l-.1-1.2l.3-.5l.7,.5l.5,.1l.2-.8l.3-.5l.2-.6l1,1.3l.4-.3l.5,.1v-1.3l.7,.7l.6,.4l.5,.3l.8,1.1l.4-.3l.3-.3l.7,1l.1-1.3h.5l.4,.1l.3-.6l.4-.1l.6,.5l.2-1l.2-1.1l.4-.6l.2-1.2l.4-.4l.5,.1l.5,.2l.5,.4l.4-.2l.6,1.3l.7,2.3l.4-.1l.4,.2l.4,.5l.5,.4l.3-.4l.4-.3l.5,.3l.4,.2l.4-.5l.4,.8l.4-.4h.4l-.2,4.9h-1.4h-1.4l-1.4,.1l-1.4,.2l-1.4,.2l-1.4,.3l-1.4,.3l-1.3,.4l-1.3,.5l-1.4,.5l-1.3,.5l-1.2,.6l-1.3,.7l-1.2,.7l-1.2,.8l-1.1,.8l-1.1,.9l-1.1,.9l-1,.9l-1,1l-1,1.1l-.9,1l-.9,1.2l-.8,1.1l-.7,1.2l-.8,1.2l-.6,1.2l-.6,1.3l-.6,1.3l-.5,1.3l-.5,1.3l-.4,1.4l-.3,1.4l-.3,1.4l-.2,1.3l-.2,1.4l-.1,1.4v1.5v1.4l.1,1.4l.1,1.4l.2,1.4l.3,1.4l.3,1.3l.3,1.4l.5,1.3l.4,1.4l.6,1.3l.6,1.2l.6,1.3l.7,1.2l.7,1.2l.8,1.2l.9,1.1l.9,1.1l.9,1.1l1,1l1,1l1,.9l1.1,.9l1.2,.8l1.1,.8l1.2,.7l1.3,.7l1.2,.7l1.3,.6l1.3,.5l.7,.2z" fill="#2349a3"/>
<path d="M1601.6,1487.7A33.8,33.8 0 0 1 1619.8,1494.9" fill="none" stroke="#2349a3" stroke-width="1.3" />
<path d="M1602,1483.2l.4-.1l.4,.3l.4,.3l.4-.4h.4l.4,.3l.4-.1l.5-.4l.3,.6l.5-.4l.5-.4l.3,.7l.6-1.1l.3,.8l.3,.5l.5-.6l.4,.2l.4,.1l.4,.2l.3,.3l.5-.2l.4,.3l.5-.3l.6-.5l.1,.9l.7-.6v1.1l.8-.8l.4,.1l.4,.3l.2,.5l.7-.5l.1,.7l.9-.8v.8l.3,.5l.6-.3l.3,.3v.9l.7-.3l.4,.1l.2,.5l.6-.2l-.2,1.1h.5l.4,.2l-.3,1.2l.2,.4l.4,.2l-.1,.8l.4,.2l-.1,.7l.3,.3l.9-.5l.3,.2l-.1,.7l-2.4,3.1l-.3-.2l-.2-.2l-.3-.2l-.3-.3l-.3-.2l-.3-.2l-.3-.2l-.3-.2l-.3-.2l-.3-.1l-.3-.2l-.3-.2l-.3-.2l-.3-.2l-.3-.2l-.3-.1l-.3-.2l-.3-.2l-.3-.1l-.3-.2l-.3-.1l-.4-.2l-.3-.1l-.3-.2l-.3-.1l-.4-.2l-.3-.1l-.3-.1l-.3-.2l-.4-.1l-.3-.1l-.3-.1l-.4-.1l-.3-.1l-.3-.2l-.4-.1l-.3-.1l-.3-.1l-.4-.1h-.3l-.4-.1l-.3-.1l-.4-.1l-.3-.1h-.3l-.4-.1l-.3-.1h-.4l-.3-.1h-.4l-.3-.1h-.4l-.3-.1h-.4l-.3-.1h-.4z" fill="#2349a3"/>
<path d="M1621.1,1496A33.8,33.8 0 0 1 1632.6,1521.4" fill="none" stroke="#2349a3" stroke-width="1.3" />
<path d="M1622.3,1494.7l4.2-4.2l5.6-5.4l5.7-5.4l8.9-8.5l-4.3,5.6l-4,4.9l.1,.7l-2,2.8l-2.1,2.7l-1.9,2.4l-.8,1.4l-1.4,1.8l-.2,.8l-1,1.4l-.3,.8l-.1,.6l.1,.5l-.3,.7l.4,.2l.3,.3l.1,.3l.1,.5l.3,.3l-.4,.7l.5,.1v.5h.7v.5l-.1,.5l.3,.3l.2,.3v.5l.4,.2l-.1,.5l.2,.3l.1,.4l.3,.3v.4v.4l.4,.3l.1,.4l.4,.2l.2,.3l-.1,.5v.4l-.2,.5l.1,.4l.7,.1l-.1,.4l-.1,.5l.3,.3l.3,.3v.4l-.2,.5l.3,.3l.1,.4l.3,.3v.4l.1,.3l-.2,.5l.4,.3l-.2,.4l.5,.3l-.2,.4l-.3,.5l.4,.3l-.2,.4l.1,.4l.2,.3l-.3,.4v.4l.3,.4l.2,.3l.1,.4v.4l-.2,.4l.5,.4l-.5,.4v.3l.3,.4l-.6,.4h-2.3v-.4v-.3v-.4v-.3v-.4l-.1-.3v-.4v-.3v-.4l-.1-.3v-.4l-.1-.3v-.4l-.1-.3v-.4l-.1-.3v-.4l-.1-.3l-.1-.4v-.3l-.1-.3l-.1-.4l-.1-.3l-.1-.4v-.3l-.1-.4l-.1-.3l-.1-.3l-.1-.4l-.2-.3l-.1-.3l-.1-.4l-.1-.3l-.1-.3l-.1-.4l-.2-.3l-.1-.3l-.1-.3l-.2-.4l-.1-.3l-.2-.3l-.1-.3l-.2-.4l-.1-.3l-.2-.3l-.1-.3l-.2-.3l-.2-.3l-.1-.3l-.2-.3l-.2-.3l-.2-.3l-.2-.3l-.2-.3l-.1-.3l-.2-.3l-.2-.3l-.2-.3l-.2-.3l-.2-.3l-.3-.3l-.2-.3l-.2-.2l-.2-.3l-.2-.3l-.2-.3l-.3-.2l-.2-.3l-.2-.3l-.3-.2l-.2-.3l-.2-.2l-.3-.3l-.2-.2l-.3-.3l-.2-.2l-.3-.3l-.2-.2l-.3-.3l-.3-.2l-.2-.2z" fill="#2349a3"/>
<path d="M1632.6,1523.2A33.8,33.8 0 0 1 1589,1553.7" fill="none" stroke="#2349a3" stroke-width="1.3" />
<path d="M1634.6,1523.3v.4l.1,.3l-.2,.4l-.1,.4l.1,.4l.1,.3l-.5,.4l.5,.4l-.1,.4l-.1,.3l-.5,.3l.7,.6l-.6,.2l-.2,.4l.1,.4l.2,.4l-.4,.3l.3,.5l-.2,.3l-.1,.3l-.3,.4l.2,.4l-.8,.2l.4,.5l-.5,.2v.4l.4,.5l-.6,.2l-.1,.4l-.1,.4l.2,.5l-.6,.1l-.1,.4l.5,.6l-.8,.1l.2,.5l-.4,.2l-.1,.4l-.3,.3l-.4,.2l.4,.6l-.6,.1l.4,.7h-.7l.5,.7l-1-.1l.1,.5l-.1,.4l.2,.6l-.8-.1l-.4,.2l-.2,.2l-.3,.3l.1,.5l-.3,.3l-.2,.3v.5l-.4,.2v.4h-.6l-.2,.4h-.6l.1,.5l-.1,.4v.5l-.5,.1l-.3,.3l-.6-.1l-.2,.3l-.3,.3l.1,.5l-.3,.3l-.2,.4l-.7-.2l.1,.6h-.5l-.4,.1l-.3,.2l-.2,.4l-.2,.3l-.4,.2l-.3,.1l-.2,.5l.1,.7l-.5-.1l-.4,.2h-.4l-.3,.3l-.3,.2l-.3,.1l-.4,.2l-.3,.2l-.3,.3h-.4l-.2,.4l-.3,.1l-.1,.6l-.6-.3l-.2,.4l-.3,.3l-.4,.1l-.5-.1l-.2,.5l-.4-.1l-.3,.2l-.4,.1l-.4-.1l-.2,.7l-.5-.2l-.3,.2l-.3,.1l-.4,.1l-.3,.4h-.4l-.3,.1l-.4,.1l-.4,.1h-.3l-.4,.2l-.4-.1l-.3,.2l-.4,.3h-.3l-.4,.1l-.5-.4l-.3,.4h-.4l-.3,.1l-.4,.1h-.4l-.3,.1l-.4-.2l-.4,.1l-.3,.3l-.4-.2l-.4,.3l-.4-.2l-.3,.7l-.4,.3l-.4-.5l-.3,.2l-.4-.6l-.4,.5l-.4-.4l-.4-.1l-.3,.1h-.4l-.4,.3l-.3-.4l-.4,.2l-.4,.2l-.4-.1l-.4-.1l-.3-.1l-.4-.1l-.3-.3l-.5,.5l-.3-.7l-.5,.8l-.3-.2l-.3-.6l-.4,.3l-.4-.3l-.3-.1l-.3-.3l-.5,.3l-.3-.1l-.3-.4l-.5,.3l-.4,.1l-.2-.6l-.5,.2h-.4l.7-2.4l.7,.2l.7,.2l.7,.2l.7,.2l.6,.1l.7,.1l.7,.1l.7,.1l.7,.1l.7,.1h.7l.7,.1h.7h.8h.7h.7l.7-.1h.7l.7-.1l.7-.1l.7-.1l.7-.1l.7-.1l.6-.1l.7-.2l.7-.1l.7-.2l.7-.2l.6-.2l.7-.3l.7-.2l.6-.2l.7-.3l.6-.3l.7-.3l.6-.3l.6-.3l.7-.3l.6-.4l.6-.3l.6-.4l.6-.4l.6-.4l.5-.4l.6-.4l.5-.5l.6-.4l.5-.4l.6-.5l.5-.5l.5-.5l.5-.5l.5-.5l.5-.5l.4-.5l.5-.6l.4-.5l.5-.6l.4-.5l.4-.6l.4-.6l.4-.6l.3-.6l.4-.6l.3-.6l.4-.6l.3-.6l.3-.7l.3-.6l.3-.7l.2-.6l.3-.7l.2-.6l.3-.7l.2-.7l.2-.7l.1-.6l.2-.7l.2-.7l.1-.7l.1-.7l.1-.7l.1-.7l.1-.7l.1-.7v-.7l.1-.3z" fill="#2349a3"/>
</g>
<rect x="1325" y="1420.8" width="21" height="7.3" fill="#f9dcbc" />
<line x1="1325" y1="1431.3" x2="1346.8" y2="1431.3" stroke="#000" stroke-width="1.2" />
<line x1="1325" y1="1438.4" x2="1346" y2="1438.4" stroke="#c4c4c4" stroke-width="1.0" />
<line x1="1325" y1="1453.4" x2="1346" y2="1453.4" stroke="#c4c4c4" stroke-width="1.0" />
<line x1="1325" y1="1468.4" x2="1346" y2="1468.4" stroke="#c4c4c4" stroke-width="1.0" />
<line x1="1325" y1="1483.4" x2="1346" y2="1483.4" stroke="#c4c4c4" stroke-width="1.0" />
<line x1="1325" y1="1499.1" x2="1346" y2="1499.1" stroke="#c4c4c4" stroke-width="1.0" />
<line x1="1325" y1="1507.4" x2="1346.8" y2="1507.4" stroke="#000" stroke-width="1.2" />
<rect x="1325" y="1508.7" width="21" height="74.4" fill="#dcdcdc" />
<line x1="1325" y1="1514.4" x2="1346" y2="1514.4" stroke="#fff" stroke-width="1.2" />
<line x1="1325" y1="1529.4" x2="1346" y2="1529.4" stroke="#fff" stroke-width="1.2" />
<line x1="1325" y1="1544.4" x2="1346" y2="1544.4" stroke="#fff" stroke-width="1.2" />
<line x1="1325" y1="1559.5" x2="1346" y2="1559.5" stroke="#fff" stroke-width="1.2" />
<line x1="1325" y1="1575.4" x2="1346" y2="1575.4" stroke="#fff" stroke-width="1.2" />
<text x="1322.8" y="1439.9" font-size="4.6" fill="#222" text-anchor="end">55.0</text>
<text x="1322.8" y="1454.9" font-size="4.6" fill="#222" text-anchor="end">41.25</text>
<text x="1322.8" y="1469.9" font-size="4.6" fill="#222" text-anchor="end">27.5</text>
<text x="1322.8" y="1484.9" font-size="4.6" fill="#222" text-anchor="end">13.75</text>
<text x="1322.8" y="1500.6" font-size="4.6" fill="#222" text-anchor="end">0.0</text>
<text x="1322.8" y="1515.9" font-size="4.6" fill="#222" text-anchor="end">45.0</text>
<text x="1322.8" y="1530.9" font-size="4.6" fill="#222" text-anchor="end">33.75</text>
<text x="1322.8" y="1545.9" font-size="4.6" fill="#222" text-anchor="end">22.5</text>
<text x="1322.8" y="1561" font-size="4.6" fill="#222" text-anchor="end">11.25</text>
<text x="1322.8" y="1576.9" font-size="4.6" fill="#222" text-anchor="end">0.0</text>
<rect x="1286" y="1446.7" width="16.6" height="45.3" fill="#000" />
<text x="1296.4" y="1469.3" font-size="6.1" fill="#fff" text-anchor="middle" transform="rotate(-90 1296.4 1469.3)">Primary data</text>
<text x="1282.4" y="1469.3" font-size="7.4" fill="#222" text-anchor="middle" transform="rotate(-90 1282.4 1469.3)">ATAC rep2</text>
<rect x="1286" y="1523" width="16.6" height="44.8" fill="#000" />
<text x="1296.4" y="1545.4" font-size="6.1" fill="#fff" text-anchor="middle" transform="rotate(-90 1296.4 1545.4)">Primary data</text>
<text x="1282.4" y="1545.4" font-size="7.4" fill="#222" text-anchor="middle" transform="rotate(-90 1282.4 1545.4)">ATAC rep1</text>
<g transform="translate(1595.9 1936.4) scale(0.993 0.999) translate(-1595.9 -1936.4)">
<path fill-rule="evenodd" fill="#dcdcdc" d="M1471.5,1936.4a124.4,124.4 0 1 0 248.8,0a124.4,124.4 0 1 0 -248.8,0zM1502.9,1936.4a93,93 0 1 0 186,0a93,93 0 1 0 -186,0z"/>
<path d="M1563.2,2027.6A96.9,96.9 0 0 1 1599.1,1839.6" fill="none" stroke="#fbfbfb" stroke-width="1.0" />
<path d="M1560.9,2034A103.7,103.7 0 0 1 1599.3,1832.8" fill="none" stroke="#fbfbfb" stroke-width="1.0" />
<path d="M1558.7,2040.4A110.5,110.5 0 0 1 1599.6,1826" fill="none" stroke="#fbfbfb" stroke-width="1.0" />
<path d="M1556.4,2046.8A117.3,117.3 0 0 1 1599.8,1819.2" fill="none" stroke="#fbfbfb" stroke-width="1.0" />
<path d="M1604,1839.8A96.9,96.9 0 0 1 1656.2,1860.6" fill="none" stroke="#fbfbfb" stroke-width="1.0" />
<path d="M1604.6,1833.1A103.7,103.7 0 0 1 1660.5,1855.2" fill="none" stroke="#fbfbfb" stroke-width="1.0" />
<path d="M1605.1,1826.3A110.5,110.5 0 0 1 1664.7,1849.9" fill="none" stroke="#fbfbfb" stroke-width="1.0" />
<path d="M1605.7,1819.5A117.3,117.3 0 0 1 1668.9,1844.6" fill="none" stroke="#fbfbfb" stroke-width="1.0" />
<path d="M1659.9,1863.6A96.9,96.9 0 0 1 1692.8,1936.4" fill="none" stroke="#fbfbfb" stroke-width="1.0" />
<path d="M1664.3,1858.5A103.7,103.7 0 0 1 1699.6,1936.4" fill="none" stroke="#fbfbfb" stroke-width="1.0" />
<path d="M1668.8,1853.4A110.5,110.5 0 0 1 1706.4,1936.4" fill="none" stroke="#fbfbfb" stroke-width="1.0" />
<path d="M1673.3,1848.3A117.3,117.3 0 0 1 1713.2,1936.4" fill="none" stroke="#fbfbfb" stroke-width="1.0" />
<path d="M1692.7,1941.5A96.9,96.9 0 0 1 1567.7,2029.1" fill="none" stroke="#fbfbfb" stroke-width="1.0" />
<path d="M1699.5,1941.8A103.7,103.7 0 0 1 1565.8,2035.6" fill="none" stroke="#fbfbfb" stroke-width="1.0" />
<path d="M1706.2,1942.2A110.5,110.5 0 0 1 1563.8,2042.1" fill="none" stroke="#fbfbfb" stroke-width="1.0" />
<path d="M1713,1942.5A117.3,117.3 0 0 1 1561.8,2048.6" fill="none" stroke="#fbfbfb" stroke-width="1.0" />
<path d="M1576.2,1991.4A58.4,58.4 0 0 1 1597.8,1878" fill="none" stroke="#a6a6a6" stroke-width="0.7" />
<path d="M1574.1,1997.2A64.6,64.6 0 0 1 1598,1871.8" fill="none" stroke="#a6a6a6" stroke-width="0.7" />
<path d="M1572,2003.1A70.8,70.8 0 0 1 1598.2,1865.6" fill="none" stroke="#a6a6a6" stroke-width="0.7" />
<path d="M1569.9,2008.9A77,77 0 0 1 1598.5,1859.4" fill="none" stroke="#a6a6a6" stroke-width="0.7" />
<path d="M1567.9,2014.7A83.2,83.2 0 0 1 1598.7,1853.2" fill="none" stroke="#a6a6a6" stroke-width="0.7" />
<path d="M1600.8,1878.2A58.4,58.4 0 0 1 1632.3,1890.7" fill="none" stroke="#a6a6a6" stroke-width="0.7" />
<path d="M1601.3,1872A64.6,64.6 0 0 1 1636.1,1885.8" fill="none" stroke="#a6a6a6" stroke-width="0.7" />
<path d="M1601.8,1865.8A70.8,70.8 0 0 1 1640,1881" fill="none" stroke="#a6a6a6" stroke-width="0.7" />
<path d="M1602.3,1859.7A77,77 0 0 1 1643.8,1876.1" fill="none" stroke="#a6a6a6" stroke-width="0.7" />
<path d="M1602.9,1853.5A83.2,83.2 0 0 1 1647.7,1871.3" fill="none" stroke="#a6a6a6" stroke-width="0.7" />
<path d="M1634.4,1892.5A58.4,58.4 0 0 1 1654.3,1936.4" fill="none" stroke="#a6a6a6" stroke-width="0.7" />
<path d="M1638.5,1887.9A64.6,64.6 0 0 1 1660.5,1936.4" fill="none" stroke="#a6a6a6" stroke-width="0.7" />
<path d="M1642.6,1883.2A70.8,70.8 0 0 1 1666.7,1936.4" fill="none" stroke="#a6a6a6" stroke-width="0.7" />
<path d="M1646.7,1878.6A77,77 0 0 1 1672.9,1936.4" fill="none" stroke="#a6a6a6" stroke-width="0.7" />
<path d="M1650.8,1873.9A83.2,83.2 0 0 1 1679.1,1936.4" fill="none" stroke="#a6a6a6" stroke-width="0.7" />
<path d="M1654.2,1939.5A58.4,58.4 0 0 1 1578.9,1992.3" fill="none" stroke="#a6a6a6" stroke-width="0.7" />
<path d="M1660.4,1939.8A64.6,64.6 0 0 1 1577.1,1998.2" fill="none" stroke="#a6a6a6" stroke-width="0.7" />
<path d="M1666.6,1940.1A70.8,70.8 0 0 1 1575.3,2004.1" fill="none" stroke="#a6a6a6" stroke-width="0.7" />
<path d="M1672.8,1940.4A77,77 0 0 1 1573.5,2010.1" fill="none" stroke="#a6a6a6" stroke-width="0.7" />
<path d="M1679,1940.8A83.2,83.2 0 0 1 1571.7,2016" fill="none" stroke="#a6a6a6" stroke-width="0.7" />
<path fill-rule="evenodd" fill="#dcdcdc" d="M1542.4,1936.4a53.5,53.5 0 1 0 107,0a53.5,53.5 0 1 0 -107,0zM1576.4,1936.4a19.5,19.5 0 1 0 39,0a19.5,19.5 0 1 0 -39,0z"/>
<path d="M1586.1,1963.9A29.2,29.2 0 0 1 1596.9,1907.2" fill="none" stroke="#fbfbfb" stroke-width="1.0" />
<path d="M1583.9,1969.9A35.6,35.6 0 0 1 1597.1,1900.8" fill="none" stroke="#fbfbfb" stroke-width="1.0" />
<path d="M1581.6,1976.3A42.4,42.4 0 0 1 1597.3,1894" fill="none" stroke="#fbfbfb" stroke-width="1.0" />
<path d="M1579.5,1982.2A48.6,48.6 0 0 1 1597.5,1887.8" fill="none" stroke="#fbfbfb" stroke-width="1.0" />
<path d="M1598.3,1907.3A29.2,29.2 0 0 1 1614.1,1913.5" fill="none" stroke="#fbfbfb" stroke-width="1.0" />
<path d="M1598.9,1900.9A35.6,35.6 0 0 1 1618.1,1908.5" fill="none" stroke="#fbfbfb" stroke-width="1.0" />
<path d="M1599.4,1894.1A42.4,42.4 0 0 1 1622.3,1903.2" fill="none" stroke="#fbfbfb" stroke-width="1.0" />
<path d="M1600,1888A48.6,48.6 0 0 1 1626.2,1898.4" fill="none" stroke="#fbfbfb" stroke-width="1.0" />
<path d="M1615.2,1914.5A29.2,29.2 0 0 1 1625.1,1936.4" fill="none" stroke="#fbfbfb" stroke-width="1.0" />
<path d="M1619.4,1909.7A35.6,35.6 0 0 1 1631.5,1936.4" fill="none" stroke="#fbfbfb" stroke-width="1.0" />
<path d="M1623.9,1904.5A42.4,42.4 0 0 1 1638.3,1936.4" fill="none" stroke="#fbfbfb" stroke-width="1.0" />
<path d="M1628,1899.9A48.6,48.6 0 0 1 1644.5,1936.4" fill="none" stroke="#fbfbfb" stroke-width="1.0" />
<path d="M1625.1,1937.9A29.2,29.2 0 0 1 1587.4,1964.3" fill="none" stroke="#fbfbfb" stroke-width="1.0" />
<path d="M1631.5,1938.3A35.6,35.6 0 0 1 1585.6,1970.5" fill="none" stroke="#fbfbfb" stroke-width="1.0" />
<path d="M1638.2,1938.6A42.4,42.4 0 0 1 1583.6,1977" fill="none" stroke="#fbfbfb" stroke-width="1.0" />
<path d="M1644.4,1938.9A48.6,48.6 0 0 1 1581.8,1982.9" fill="none" stroke="#fbfbfb" stroke-width="1.0" />
<path d="M1731.1,1943.5A135.4,135.4 0 0 1 1556.5,2066L1559.3,2056.8A125.8,125.8 0 0 0 1721.5,1943z" fill="#f9dcbc" />
<path d="M1550.3,2063.9A135.4,135.4 0 0 1 1600.4,1801.1L1600.1,1810.7A125.8,125.8 0 0 0 1553.5,2054.8z" fill="#f9dcbc" />
<path d="M1607.2,1801.8A135.1,135.1 0 0 1 1680,1830.7L1674,1838.3A125.4,125.4 0 0 0 1606.4,1811.4z" fill="#e8262b" />
<path d="M1685.1,1834.9A135.1,135.1 0 0 1 1731,1936.4L1721.3,1936.4A125.4,125.4 0 0 0 1678.7,1842.2z" fill="#e8262b" />
<path d="M1607.7,1801.3A135.6,135.6 0 0 1 1679.9,1830L1676.7,1834.1A130.4,130.4 0 0 0 1607.3,1806.5z" fill="#111" />
<path d="M1697.5,1846.5A135.6,135.6 0 0 1 1731.5,1935.9L1726.3,1935.9A130.4,130.4 0 0 0 1693.6,1850z" fill="#111" />
<path d="M1608.4,1804A133,133 0 0 1 1677.8,1831.6" fill="none" stroke="#5a5a5a" stroke-width="2.2" stroke-dasharray="0.9 3.3"/>
<path d="M1696.3,1849.1A133,133 0 0 1 1728.9,1935" fill="none" stroke="#5a5a5a" stroke-width="2.2" stroke-dasharray="0.9 3.3"/>
<path d="M1611.9,1802.5A134.8,134.8 0 0 1 1615.1,1803L1614.6,1806.5A131.2,131.2 0 0 0 1611.4,1806.1z" fill="#a8a8a8" />
<path d="M1615.4,1803A134.8,134.8 0 0 1 1618.6,1803.5L1618,1807.1A131.2,131.2 0 0 0 1614.8,1806.6z" fill="#a8a8a8" />
<path d="M1664.9,1820.6A134.8,134.8 0 0 1 1667.7,1822.3L1665.8,1825.4A131.2,131.2 0 0 0 1663.1,1823.7z" fill="#a8a8a8" />
<path d="M1668.9,1823.1A134.8,134.8 0 0 1 1671.7,1824.9L1669.6,1827.9A131.2,131.2 0 0 0 1667,1826.1z" fill="#a8a8a8" />
<path d="M1672.8,1825.7A134.8,134.8 0 0 1 1675.5,1827.6L1673.4,1830.5A131.2,131.2 0 0 0 1670.8,1828.7z" fill="#a8a8a8" />
<path d="M1696.5,1846.7A134.8,134.8 0 0 1 1698.7,1849.2L1696,1851.5A131.2,131.2 0 0 0 1693.9,1849.1z" fill="#a8a8a8" />
<path d="M1719.8,1883.3A134.8,134.8 0 0 1 1721.1,1886.3L1717.7,1887.7A131.2,131.2 0 0 0 1716.5,1884.7z" fill="#a8a8a8" />
<path d="M1721.6,1887.7A134.8,134.8 0 0 1 1722.7,1890.7L1719.3,1892A131.2,131.2 0 0 0 1718.2,1889z" fill="#a8a8a8" />
<path d="M1729.3,1917.2A134.8,134.8 0 0 1 1729.8,1920.4L1726.2,1920.9A131.2,131.2 0 0 0 1725.8,1917.7z" fill="#a8a8a8" />
<path d="M1730,1923A134.8,134.8 0 0 1 1730.3,1926.3L1726.7,1926.6A131.2,131.2 0 0 0 1726.5,1923.4z" fill="#a8a8a8" />
<path d="M1730.5,1928.9A134.8,134.8 0 0 1 1730.6,1932.2L1727,1932.3A131.2,131.2 0 0 0 1726.9,1929.1z" fill="#a8a8a8" />
<path d="M1601.3,1801.7A134.8,134.8 0 0 1 1606.5,1802L1605.8,1810A126.8,126.8 0 0 0 1601,1809.7z" fill="#7a7a7a" />
<path d="M1680.4,1831.3A134.8,134.8 0 0 1 1684.3,1834.7L1679.1,1840.7A126.8,126.8 0 0 0 1675.4,1837.6z" fill="#7a7a7a" />
<path d="M1730.7,1937.1A134.8,134.8 0 0 1 1730.6,1942.7L1722.6,1942.4A126.8,126.8 0 0 0 1722.7,1937.1z" fill="#7a7a7a" />
<path d="M1556,2065.2A134.8,134.8 0 0 1 1551.1,2063.5L1553.8,2056A126.8,126.8 0 0 0 1558.4,2057.5z" fill="#7a7a7a" />
<path d="M1548.3,2061.6A130.7,130.7 0 0 1 1601.6,1808.5" fill="none" stroke="#000" stroke-width="1.3" />
<path d="M1548.3,2061.6A130.7,130.7 0 0 1 1601.6,1808.5" fill="none" stroke="#000" stroke-width="3.0" stroke-dasharray="0.7 5.2"/>
<path d="M1723.6,1946.6A130.4,130.4 0 0 1 1677.2,2038.8" fill="none" stroke="#000" stroke-width="1.3" />
<path d="M1723.6,1946.6A130.4,130.4 0 0 1 1677.2,2038.8" fill="none" stroke="#000" stroke-width="3.0" stroke-dasharray="0.7 7.5"/>
<path d="M1717.2,1988.4A133.3,133.3 0 0 1 1715.7,1991.8L1711,1989.8A128.1,128.1 0 0 0 1712.3,1986.5z" fill="#111" />
<path d="M1679.7,2040.3A133.1,133.1 0 0 1 1675.7,2043.5L1672.7,2039.7A128.3,128.3 0 0 0 1676.6,2036.6z" fill="#8a8a8a" />
<path d="M1473.3,1878.2A135.7,135.7 0 0 1 1485,1858.2L1487.4,1859.8A132.8,132.8 0 0 0 1475.9,1879.4z" fill="#111" />
<path d="M1471.5,1882A135.8,135.8 0 0 1 1473.4,1877.7L1478.1,1880A130.6,130.6 0 0 0 1476.2,1884.1z" fill="#b4b4b4" />
<path d="M1484.1,1859.3A135.8,135.8 0 0 1 1486.9,1855.4L1491.1,1858.5A130.6,130.6 0 0 0 1488.4,1862.2z" fill="#b4b4b4" />
<line x1="1600.6" y1="1800.7" x2="1600.8" y2="1797.3" stroke="#444" stroke-width="0.7" />
<line x1="1607.3" y1="1801.1" x2="1607.5" y2="1797.7" stroke="#444" stroke-width="0.7" />
<line x1="1680.4" y1="1830.1" x2="1682.6" y2="1827.5" stroke="#444" stroke-width="0.7" />
<line x1="1685.5" y1="1834.4" x2="1687.8" y2="1831.8" stroke="#444" stroke-width="0.7" />
<line x1="1731.7" y1="1936.4" x2="1735.1" y2="1936.4" stroke="#444" stroke-width="0.7" />
<line x1="1731.5" y1="1943.5" x2="1734.9" y2="1943.7" stroke="#444" stroke-width="0.7" />
<line x1="1556.4" y1="2066.3" x2="1555.6" y2="2069.2" stroke="#444" stroke-width="0.7" />
<line x1="1550.1" y1="2064.3" x2="1549.1" y2="2067.1" stroke="#444" stroke-width="0.7" />
<text x="1603.5" y="1795.8" font-size="8.2" fill="#7e7e7e" transform="rotate(-90 1603.5 1795.8)">139296119</text>
<text x="1611.5" y="1795.8" font-size="8.2" fill="#7e7e7e" transform="rotate(-90 1611.5 1795.8)">3192</text>
<text x="1684.6" y="1828.4" font-size="8.2" fill="#7e7e7e" transform="rotate(-50.6 1684.6 1828.4)">1</text>
<text x="1690.5" y="1833.5" font-size="8.2" fill="#7e7e7e" transform="rotate(-47.4 1690.5 1833.5)">7905</text>
<text x="1737.7" y="1937.4" font-size="8.2" fill="#7e7e7e">3310</text>
<text x="1737.7" y="1946.4" font-size="8.2" fill="#7e7e7e">139294466</text>
<text x="1548.2" y="2068.2" font-size="8.2" fill="#7e7e7e" text-anchor="end" transform="rotate(-70 1548.2 2068.2)">139311725</text>
<text x="1556.2" y="2071.3" font-size="8.2" fill="#7e7e7e" text-anchor="end" transform="rotate(-68 1556.2 2071.3)">139284637</text>
<text x="1651.9" y="1777.4" font-size="12.7" font-style="italic" transform="rotate(-70.6 1651.9 1777.4)">E1</text>
<text x="1688.7" y="1795.6" font-size="12.7" font-style="italic" transform="rotate(-56.6 1688.7 1795.6)">E7</text>
<text x="1701.1" y="1804.6" font-size="12.7" font-style="italic" transform="rotate(-51.4 1701.1 1804.6)">E6</text>
<text x="1733.2" y="1838.5" font-size="12.7" font-style="italic" transform="rotate(-35.5 1733.2 1838.5)">L1</text>
<text x="1756.7" y="1885.7" font-size="12.7" font-style="italic" transform="rotate(-17.5 1756.7 1885.7)">L2</text>
<text x="1763.8" y="1920.5" font-size="12.7" font-style="italic" transform="rotate(-5.4 1763.8 1920.5)">E5</text>
<text x="1763.4" y="1935.8" font-size="12.7" font-weight="bold" font-style="italic" transform="rotate(0 1763.4 1935.8)">E2</text>
<text x="1763.7" y="1937.6" font-size="12.7" font-weight="bold" font-style="italic" transform="rotate(0 1763.7 1937.6)">E4</text>
<text x="1533.9" y="1777.3" font-size="12.7" text-anchor="end" font-style="italic" transform="rotate(70.4 1533.9 1777.3)">JFC1</text>
<text x="1461.7" y="2036.4" font-size="12.7" text-anchor="end" font-style="italic" transform="rotate(-32.5 1461.7 2036.4)">NAA15</text>
<path d="M1564.5,2024.1A93.2,93.2 0 0 1 1599,1843.3" fill="none" stroke="#2349a3" stroke-width="1.3" />
<path d="M1563.7,2026.2l-1-.1l-.9-.4l-.9-.3l-.8-.7l-1-.3l-1.1,.1l-.9-.5l-.8-.8l-.8-.5l-1-.3l-.9-.5l-.9-.4l-.9-.3l-1-.3h-1.2l-.4-1.4h-1.1l-.6-1h-1.1l-.7-.8l-1.1-.2l-.5-1.1l-1.1-.2l-.8-.5l-.9-.5l-.7-.7l-.8-.6l-.7-.8l-.9-.4l-.9-.6l-.7-.7l-.8-.6l-.7-.7l-.7-.8l-1.1-.2l-.6-.8l-.5-1l-.7-.7l-1.2-.1l-.5-1l-.7-.7l-.7-.7l-.7-.7l-.6-.9l-.8-.6l-.9-.5l-.5-1l-.9-.5l-.3-1l-.9-.6l-.5-.9l-1-.4v-1.3l-.9-.6l-.5-.9l-.8-.7l-.5-.8l-.4-.9l-.6-.9l-.9-.6l-.9-.6l-.1-1.1l-.7-.7l-.2-1.1l-.8-.7l-.6-.8l-.4-.9l-.5-.9l-.3-1l-1.1-.5l-.1-1.1l-.2-1.1l-1.2-.5l-.1-1l-.5-.9l-.1-1.1l-.7-.8l-.2-1l-.3-.9l-1.1-.7v-1.1l-.2-1l-.4-.9l-.5-.9l-.1-1l-.4-1l-.5-.8l-.4-1v-1l-.7-.9l-.3-.9v-1.1l-.4-.9l-.1-1l-.5-.9l-.5-1l.3-1.1l-.6-.9l-.1-1l-.1-1l-.1-1l-.5-1l-.3-.9l-.2-1v-1l-.1-1.1v-1l-.3-1l-.2-1l-.4-1l.1-1l-.4-1v-1l.2-1l-.7-1l.4-1.1l-.3-1v-1l-.9-1l.1-1.1l-.9-1l-.7-1.1l.4-1.1l-.5-1l.2-1.1l-.9-1.1l1-1l1.4-.9l.6-1l.9-.9l-.5-1.1l.2-1l.2-1l.2-1l-.1-1.1l.3-1v-1l-.1-1.1l.1-1.1l.2-1v-1l-.5-1.3l.6-.9l.4-1l-.6-1.2l.2-1.1l-.6-1.3l.8-.9l-.2-1.1l-.4-1.3l.3-1.1l1-.8l-.4-1.3l-.3-1.2l.1-1.2l-.6-1.4l-1.8-2l1.1-.8l-2.3-2.3l.3-1.1l-2.6-2.6l-.2-1.5l-2.3-2.5l-.6-1.7l1.9-.4l4.6,1.1l-.7-1.7l-.1-1.5l1-.8l-.6-1.8l1-.8l2.7,.3l1.3-.6l2.6,.4l1.6-.3l1-.7l1.5-.3l.5-1l.6-1.1l1.1-.5l1.3-.4l-1.9-3l.4-1.1l.2-1.4l-1-2.4l2.6,.7l2.7,.8l2.9,1.2l.4-1.2l1.1-.5l1.2-.3l-.2-1.8l1.1-.5l1.2-.4l1-.5l.4-1.2l.4-1.2l1.7,.3l1-.6l.1-1.6l1.3-.2h1.4l-.2-1.9l1-.6l1.5,.1l1-.4l.9-.8l1.1-.2l.4-1.5l.8-.7l1.1-.4l.9-.6l1.5,.4v-2.2l1.6,.5l.7-.8l.7-1.1l.8-.9l1.1-.2l1.2-.1l.5-1.4l.8-1l1.3,.2l.9-.7l.9-.8l.8-.8h1.3l1-.5l.9-.6l1.3,.2l.4-2l1.1-.4l1.5,1l.6-1.6l1.1-.3l1.4,.6l.8-1.2l1-.6l1-.4l1.4,.7l.7-1.7l1.5,1.4h1.2l.7-1.8l1.3,.7l1.2,.2l1.1-.2l1-.6l1-1l1.4,1.4l1-.4l1-1l1.3,1.2l1.2,.4l.9-1.3l1.2,.9l1-1.1l1.2,1.1l1.1-.3h1.1l1.1,.4l1.1,.3l1.1-.7l1.1,.3l1.1,.4l1.1-1l1.1,.7l1.1,.1l1.1-.1l1,.4l-.3,10.7l-3.9-.1l-3.9,.1l-3.9,.3l-3.9,.4l-3.8,.6l-3.9,.8l-3.7,.9l-3.8,1.1l-3.7,1.3l-3.6,1.4l-3.6,1.5l-3.5,1.7l-3.5,1.8l-3.3,2l-3.3,2.1l-3.2,2.3l-3.1,2.4l-2.9,2.5l-2.9,2.6l-2.8,2.8l-2.6,2.9l-2.5,2.9l-2.4,3.1l-2.3,3.2l-2.1,3.3l-2,3.3l-1.8,3.4l-1.7,3.6l-1.6,3.5l-1.4,3.7l-1.2,3.7l-1.1,3.7l-1,3.8l-.7,3.8l-.6,3.9l-.5,3.9l-.3,3.8l-.1,3.9v3.9l.3,3.9l.3,3.9l.6,3.9l.6,3.8l.9,3.8l1,3.8l1.2,3.7l1.3,3.7l1.5,3.6l1.6,3.5l1.8,3.5l1.9,3.4l2.1,3.3l2.1,3.2l2.4,3.2l2.4,3l2.6,2.9l2.7,2.8l2.8,2.7l3,2.6l3,2.5l3.1,2.3l3.3,2.2l3.3,2l3.4,1.9l3.5,1.8l3.5,1.6l3.6,1.5l1.9,.7z" fill="#2349a3"/>
<path d="M1603.7,1843.5A93.2,93.2 0 0 1 1653.9,1863.5" fill="none" stroke="#2349a3" stroke-width="1.3" />
<path d="M1604.4,1834.9l1.2-1.5l1.1,.2l1.1-.2l1.2-.5l1.2-.8l.9,1.2l1.2-.3l1,.9h1.1l1.1-.1l1,.7l1,.6l1,.2l1.1,.4l1.2-.6l1.1,.1l1.1,.3l1,.6l1,.2l.9,1l1.5-1.2l.8,1.1l1.1,.1h1.2l1.1,.2l.9,.7l.7,1.2l1.3-.3l1,.6h1.2l1,.5l1.2-.2h1.3h1.2l1,.5l.7,1.1l1.1,.3l1.4-.3l.9,.6l1.3,.1l1.2,.1l1.1,.5l2-1.2l.3,1.7l2-1.1l.7,1.1l1.3,.2l1.2,.3l2.2-1.3l-.4,2.8l1.7-.5l1.6-.1l.9,.8l1.3,.2l-3.5,6.4l-7.4,11.1l-.2,.3l-.8-.6l-.7-.6l-.8-.6l-.8-.5l-.8-.6l-.8-.6l-.8-.5l-.8-.6l-.8-.5l-.9-.6l-.8-.5l-.8-.5l-.9-.5l-.8-.5l-.8-.5l-.9-.4l-.9-.5l-.8-.5l-.9-.4l-.9-.5l-.8-.4l-.9-.4l-.9-.4l-.9-.4l-.9-.4l-.9-.4l-.9-.4l-.9-.3l-.9-.4l-.9-.3l-.9-.4l-.9-.3l-1-.3l-.9-.3l-.9-.3l-1-.3l-.9-.3l-.9-.3l-1-.2l-.9-.3l-1-.2l-.9-.2l-1-.3l-.9-.2l-1-.2l-.9-.1l-1-.2l-1-.2l-.9-.2l-1-.1l-1-.1l-.9-.2l-1-.1l-1-.1l-.9-.1l-1-.1z" fill="#2349a3"/>
<path d="M1657.4,1866.4A93.2,93.2 0 0 1 1689.1,1936.4" fill="none" stroke="#2349a3" stroke-width="1.3" />
<path d="M1659.5,1864l2.2-.9l1.9-.6l2.2-.8l2.4-.9l2.2-.7l1.1,.4l2.8-1.1l.5,1.1l3-1.3l.8,.9l-.4,2l-.3,1.7l-.4,2l-.6,2l-.9,2.1l-.5,1.9l.4,1l-.3,1.6l.7,.8l-.2,1.4l.5,1l.3,1.1l.3,1.1l.9,.6l-.2,1.4l.5,.9l.8,.7v1.2l.2,1.1l.5,.9l.7,.8l-.2,1.3l.3,.9l.5,.9l.5,.9l.6,.9l.1,1.1l.6,.8l.4,.9l.3,1l.4,1l.6,.8l.1,1l.5,.9l.4,.9l.1,1.1l.8,.8l-.1,1.1v1.1l.6,.8v1.1l.2,1l.4,.9l.5,.9l.1,1l.6,.9l-.1,1.1l.2,1l.6,.9v1v1l.2,1l.4,1l.4,.9l-.6,1.1l.4,1l.4,1l-.1,1l.1,1v1l.6,.9l-.4,1.1l-.1,1l.4,1l.2,1l-.1,1l.3,1v1v1l-.1,1l-.4,1h-2.3v-1v-1v-.9l-.1-1v-1l-.1-1l-.1-.9v-1l-.1-1l-.1-.9l-.1-1l-.1-1l-.2-.9l-.1-1l-.1-1l-.2-.9l-.2-1l-.2-1l-.1-.9l-.2-1l-.2-.9l-.3-1l-.2-.9l-.2-1l-.3-.9l-.2-1l-.3-.9l-.3-.9l-.3-1l-.3-.9l-.3-.9l-.3-.9l-.3-1l-.4-.9l-.3-.9l-.4-.9l-.3-.9l-.4-.9l-.4-.9l-.4-.9l-.4-.9l-.4-.9l-.4-.9l-.4-.8l-.5-.9l-.4-.9l-.5-.8l-.4-.9l-.5-.8l-.5-.9l-.5-.8l-.5-.9l-.5-.8l-.5-.8l-.6-.8l-.5-.9l-.5-.8l-.6-.8l-.6-.8l-.5-.8l-.6-.7l-.6-.8l-.6-.8l-.6-.8l-.6-.7l-.6-.8l-.7-.7l-.6-.8l-.6-.7l-.7-.7l-.6-.8l-.7-.7l-.7-.7l-.7-.7l-.6-.7l-.7-.7l-.7-.6l-.8-.7l-.7-.7l-.7-.6l-.7-.7z" fill="#2349a3"/>
<path d="M1689,1941.3A93.2,93.2 0 0 1 1568.8,2025.6" fill="none" stroke="#2349a3" stroke-width="1.3" />
<path d="M1691.5,1941.4l.4,1l-.7,1l-.3,1l.6,1v1.1l-.6,.9l-.1,1l.3,1l-.6,1l.5,1.1l-.9,.9l.1,1v1l-.5,.9l-.3,1l.2,1.1l-.5,.9l-.2,1v1l-.5,.9l-.3,1l-.3,.9l-.6,.9l-.4,.9l-.1,1l-.2,1l-.2,1l-.3,1l-.3,.9l-.5,.9l-.6,.9l-.2,1l-.4,.9l-.6,.8l-.4,.9l-.1,1.1l-.4,.9l-.6,.8l-.4,.9l-.2,1.1l-.2,1l-.7,.8l-.5,.8l-.6,.8l-.2,1.1l-1.1,.5l-.5,.9v1.2l-.6,.7l-.7,.8l-.6,.8l-.5,.9l-.7,.7l-.6,.8l-.6,.8l-.5,.9l-.7,.8l-.6,.8l-.7,.7l-.6,.7l-.7,.8l-.7,.7l-.4,1l-.7,.7l-.2,1.2l-1.2,.3l-.3,1l-1,.4l-.7,.8l-.7,.7l-.8,.6l-.4,1l-.9,.6l-.9,.5l-.5,.9l-.6,.8l-.9,.5l-.9,.5l-.8,.6l-.5,1l-1,.4l-.9,.5l-.7,.6l-.6,.9l-1.1,.2l-.8,.7l-.6,.8l-.8,.6l-.9,.5l-.7,.8l-1,.3l-1,.2l-.8,.7l-.8,.7l-.6,.9h-1.2l-.9,.4l-.7,.7l-1.1,.2l-.8,.6l-.9,.5l-.7,.9l-1.1-.2l-.9,.5l-.8,.8l-1,.3l-1,.1l-.6,1.1l-1.1,.1l-1,.2l-.9,.3l-1,.3l-.8,.8l-1,.2l-.8,.7h-1.1l-1,.1l-1,.4l-.9,.2l-1,.4l-.9,.3l-1.1-.3l-.9,.9l-1.1-.3l-1,.1l-.9,.7l-1,.1l-.9,.3h-1.1l-1,.2h-1l-1,.2l-1,.3l-.9,.4l-1.1-.5l-1,.1l-1,.3l-1-.1l-1,.3l-1,.1l-1-.2h-1l-1,.1l-1,.1l-1-.4l-1,.1l-1.1,.5l-1-.5h-1l-1,.5l-1-.8h-1l-1,.6l-1-.8l-1-.2l-1,.1l-1,.1l-.9-.6l-1.1,.1l-1-.2l-.9-.4l-1,.1l-1-.4l-1,.1l-1-.4l-1-.2l-1.1,.2l-.9-.4l-.9-.3l-.9-.6l-1.1,.2l-1-.3l-.8-.6l.8-2.7l1.8,.5l1.9,.5l1.9,.5l1.9,.4l1.9,.4l1.9,.4l2,.3l1.9,.2l1.9,.3l2,.2l1.9,.1l2,.1l1.9,.1h2h1.9l2-.1l1.9-.1l2-.1l1.9-.2l1.9-.2l2-.3l1.9-.3l1.9-.3l1.9-.4l1.9-.4l1.9-.5l1.9-.5l1.9-.5l1.8-.6l1.9-.6l1.8-.7l1.8-.7l1.8-.7l1.8-.8l1.8-.8l1.8-.9l1.7-.8l1.7-1l1.7-.9l1.7-1l1.7-1l1.6-1.1l1.6-1.1l1.6-1.1l1.6-1.2l1.5-1.2l1.5-1.2l1.5-1.3l1.5-1.2l1.4-1.4l1.4-1.3l1.4-1.4l1.4-1.4l1.3-1.4l1.3-1.5l1.2-1.5l1.2-1.5l1.2-1.5l1.2-1.6l1.1-1.6l1.1-1.6l1.1-1.6l1-1.7l1-1.7l1-1.7l.9-1.7l.9-1.7l.8-1.8l.8-1.7l.8-1.8l.8-1.8l.7-1.9l.6-1.8l.6-1.8l.6-1.9l.6-1.9l.5-1.9l.4-1.8l.5-2l.4-1.9l.3-1.9l.3-1.9l.3-1.9l.2-2l.2-1.9l.1-2l.1-.9z" fill="#2349a3"/>
<path d="M1576.6,1990.4A57.4,57.4 0 0 1 1597.8,1879" fill="none" stroke="#2349a3" stroke-width="1.3" />
<path d="M1576,1992.1l-.5-.7l-.5-.2l-.6-.3l-.6-.1h-.7l-.4-.5l-.7-.1l-.4-.5h-.7l-.4-.5l-.6-.2l-.7-.1l-.4-.5l-.6-.2l-.6-.2l-.4-.5l-.6-.2l-.6-.2l-.4-.5l-.7-.1l-.4-.4l-.5-.4l-.5-.3l-.5-.4l-.5-.4l-.5-.4l-.5-.3l-.5-.3l-.6-.3l-.3-.6h-.8l-.3-.5l-.4-.6l-.5-.4l-.5-.3l-.6-.3l-.4-.5l-.4-.4l-.4-.5l-.4-.5l-.6-.2l-.5-.4l-.5-.3l-.2-.7l-.4-.5l-.5-.4l-.4-.5l-.5-.3l-.3-.6l-.5-.3l-.6-.4l-.1-.7l-.6-.3l-.3-.6l-.5-.4l-.2-.5l-.6-.4l-.2-.6l-.5-.4l-.1-.7l-.4-.5l-.5-.4l-.2-.6l-.2-.6l-.2-.6l-.3-.5l-.4-.5l-.3-.5l-.5-.5l-.1-.6l-.2-.6l-.6-.4l-.3-.5l-.1-.7l-.2-.6l-.2-.5l-.2-.6l-.5-.5l-.6-.4l.2-.8l-.4-.5l-.1-.6l-.1-.6l-.2-.6l-.5-.5v-.6l-.1-.6l-.5-.5l-.2-.6l-.2-.6l.1-.7l-.6-.4l.1-.7l-.4-.5l-.4-.6l-.1-.6v-.6l.1-.7l-.2-.6l-.6-.5l.2-.7l-.1-.6l-.1-.6l-.2-.6v-.6l-.4-.6l-.3-.6l.3-.7l.1-.6l-.4-.6l-.5-.6l.1-.6l-.6-.6l.2-.7v-.6l-.6-.6l.1-.7l-.7-.6l.3-.7l-.3-.6l-.1-.7l-.4-.6l-.4-.7l.4-.7l-.8-.7l.2-.6l.2-.7l-.7-.7l.2-.7v-.6l.1-.7l-.9-.8l.5-.6l-.7-.8v-.7v-.7l-.3-.8l.8-.5l-1-.9l.3-.7l-.2-.8l.4-.6l-.8-.9v-.7l.3-.7l-.5-.9l1.2-.3l-.7-1l-.8-1.1v-.7l.8-.5l-1-1.2l-.3-.9l.5-.6l-.9-1.1l-.5-1.1l-.7-1.1l2.1,.1l-1.2-1.4l-.3-1l-.5-1.1l1.3-.2l-.2-1.1l.1-.8l-1.7-1.8l.9-.4l-2.4-2.4l-.8-1.4l-.1-1.1l.6-.6l-1.4-1.9l1.3-.2l3.8,1.5l2.8,.9l2.1,.4l1.4,.1l2.4,.8l-1-1.7l-1.2-1.8l-.8-1.7l.2-.8l-1.3-2.1l-.9-1.8l2.7,1.1l2.5,1.2l2.3,.9l1.4,.2l-.9-1.8l1.3,.2l.6-.5h1.1v-1l.7-.5l.5-.6l1.8,.9l-.2-1.3l.5-.6l1.2,.3l.9-.2l.5-.5l.7-.3l.6-.4l.3-.9l1.4,.6l.5-.5l1.1,.3v-1.3l.5-.5l1.1,.4l.6-.5l.6-.4v-1.2l1.3,.6l1,.3l.5-.6l.7-.1l.8-.2l.5-.5v-1.4l1.1,.4l.6-.3l1.1,.6l.1-1.3l1.1,.5l.8,.1l.4-.9l.5-.5l.9,.2l.9,.3l.5-.6l.8,.3l.6-.5l.4-.9l.7-.1l.7-.2l.6-.4h.7h.8l.4-.9l1,.9l.5-.7l.6-.7l.6-.5l.7-.1l.8,.4l.6-.4h.8l.6-.3l.8,.3l.6-.5h.7l.7-.5l.6-.2l.7-.4l.8,.7l.7,.2l.7-.8l.7,.3l.7-.4l.6-.8l.8,1.7l.7-.6l.7-1.1l.7,.1l.7,.1l.7,.6l.7,.9l.7-1.2l.7,.5l.7,.2l-.3,9.6h-2.4l-2.4,.1l-2.4,.1l-2.4,.3l-2.3,.4l-2.4,.5l-2.3,.5l-2.3,.7l-2.3,.8l-2.2,.8l-2.3,1l-2.1,1l-2.1,1.1l-2.1,1.3l-2,1.3l-2,1.3l-1.9,1.5l-1.8,1.6l-1.8,1.6l-1.7,1.7l-1.6,1.7l-1.5,1.9l-1.5,1.9l-1.4,1.9l-1.3,2l-1.2,2.1l-1.2,2.1l-1,2.2l-1,2.2l-.8,2.2l-.8,2.3l-.6,2.3l-.6,2.3l-.5,2.4l-.4,2.3l-.2,2.4l-.2,2.4l-.1,2.4v2.4l.2,2.4l.2,2.4l.3,2.4l.4,2.3l.6,2.4l.6,2.3l.7,2.3l.8,2.2l.9,2.3l1,2.1l1.1,2.2l1.2,2.1l1.3,2l1.3,2l1.4,1.9l1.6,1.9l1.5,1.8l1.7,1.7l1.7,1.7l1.8,1.5l1.9,1.5l1.9,1.5l2,1.3l2.1,1.3l2,1.2l2.2,1l2.2,1l2.2,.9l1.1,.5z" fill="#2349a3"/>
<path d="M1600.7,1879.2A57.4,57.4 0 0 1 1631.6,1891.5" fill="none" stroke="#2349a3" stroke-width="1.3" />
<path d="M1601.3,1872.5l.6,.3l.7-.4l.7,.3l.7-.5l.7,.1l.6,.4l.8-.3l.6,.3h.7l.7-.2l.6,.8l.6-.1l.9-.4l.4,1l.8-.4l.7,.2l.6,.2l.8-.3l.6,.5h.7l.7,.1l.5,.6l.6,.4l.7-.1l.8-.1h.7l.9-.3l.4,.8l.5,.6l.7,.1l.6,.3l1.2-.9l.2,1.3l.6,.3l.7,.2l.9-.4l.4,.8l1-.5l.5,.6l.6,.5l.2,.9l1-.3l.7,.3h.8l.5,.5l1.2-.6l.2,.9l.9-.1l.3,1l1.2-.5l.2,.9l.4,.6l1.1-.2l.7,.3l-1.8,3.3l-3.8,6l-.3,.3l-.5-.3l-.4-.4l-.5-.4l-.5-.3l-.5-.4l-.5-.3l-.5-.4l-.5-.3l-.5-.3l-.5-.4l-.5-.3l-.5-.3l-.5-.3l-.5-.3l-.6-.3l-.5-.3l-.5-.3l-.5-.3l-.6-.2l-.5-.3l-.5-.3l-.6-.2l-.5-.3l-.6-.2l-.5-.3l-.6-.2l-.5-.2l-.6-.3l-.6-.2l-.5-.2l-.6-.2l-.5-.2l-.6-.2l-.6-.2l-.6-.2l-.5-.1l-.6-.2l-.6-.2l-.6-.1l-.5-.2l-.6-.1l-.6-.2l-.6-.1l-.6-.1l-.6-.2l-.6-.1l-.6-.1l-.5-.1l-.6-.1l-.6-.1l-.6-.1h-.6l-.6-.1l-.6-.1h-.6l-.6-.1z" fill="#2349a3"/>
<path d="M1633.8,1893.3A57.4,57.4 0 0 1 1653.3,1936.4" fill="none" stroke="#2349a3" stroke-width="1.3" />
<path d="M1635,1891.9l.6,.3l.3,.6l.5,.3l.5,.4l.6,.3l.1,.7l.8,.1l.3,.6l.5,.5l.7,.2l.1,.7l.4,.4l.3,.6l.4,.5l.3,.6l.5,.3l.4,.5l.2,.6l.6,.3l.3,.6l.3,.6l.2,.6l.7,.3v.7l.4,.5l.4,.4l.2,.7l.7,.3l.1,.6l.3,.6l.2,.6l.5,.4l.5,.4l-.2,.8l.5,.5l.2,.6l.2,.6l.5,.4l.1,.7l.3,.5l.3,.6l.2,.5l.4,.5v.7l.3,.6l.4,.4l.2,.7l.1,.6l.3,.5v.7l.1,.6l.4,.5l.4,.5l-.2,.7l.3,.6l.1,.6l.1,.6l.2,.6l.4,.6l-.1,.6v.6l.3,.6v.6l.4,.6l-.1,.7l.1,.6l.3,.6l-.2,.6l.1,.6v.6l-.1,.7l.5,.5l-.1,.7v.6l.2,.6l.3,.6l-.2,.6l-.1,.6v.7l-.2,.6l.3,.6h-1.8v-.6v-.6v-.6l-.1-.6v-.6v-.6l-.1-.6v-.6l-.1-.6v-.6l-.1-.6l-.1-.6v-.6l-.1-.6l-.1-.6l-.1-.6l-.1-.5l-.1-.6l-.1-.6l-.2-.6l-.1-.6l-.1-.6l-.2-.6l-.1-.6l-.2-.5l-.1-.6l-.2-.6l-.2-.6l-.1-.5l-.2-.6l-.2-.6l-.2-.5l-.2-.6l-.2-.6l-.2-.5l-.2-.6l-.3-.6l-.2-.5l-.2-.6l-.3-.5l-.2-.6l-.3-.5l-.2-.5l-.3-.6l-.3-.5l-.2-.6l-.3-.5l-.3-.5l-.3-.5l-.3-.6l-.3-.5l-.3-.5l-.3-.5l-.3-.5l-.4-.5l-.3-.5l-.3-.5l-.4-.5l-.3-.5l-.4-.5l-.3-.5l-.4-.4l-.4-.5l-.3-.5l-.4-.5l-.4-.4l-.4-.5l-.4-.4l-.3-.5l-.4-.4l-.5-.5l-.4-.4l-.4-.5l-.4-.4l-.4-.4l-.4-.4l-.5-.5l-.4-.4l-.5-.4l-.4-.4l-.4-.4z" fill="#2349a3"/>
<path d="M1653.2,1939.4A57.4,57.4 0 0 1 1579.2,1991.3" fill="none" stroke="#2349a3" stroke-width="1.3" />
<path d="M1654.9,1939.5l-.4,.6l.1,.6l-.1,.6v.6l-.2,.6l.2,.7l-.4,.6l.2,.6l-.2,.6v.6l-.2,.6l.4,.7l-.6,.5v.7l-.1,.6v.6l-.3,.6l-.5,.5l.2,.7l-.4,.5l-.1,.6l-.2,.6l.2,.7l-.4,.5l-.2,.6l.1,.7l-.6,.5l-.1,.6v.6l-.5,.5l-.2,.6v.6l-.5,.5l-.1,.6l-.2,.6l-.1,.6l-.3,.6l-.6,.4l-.2,.6l-.1,.6l-.5,.5l-.2,.5l-.2,.6l-.2,.7l-.3,.5l-.6,.4l-.2,.5l-.4,.6l-.3,.5l-.4,.4l-.3,.6l-.3,.5l-.4,.5l-.3,.5l-.5,.4l-.1,.7l-.5,.4l-.5,.4l-.4,.5l-.4,.5l-.2,.6l-.5,.4l-.4,.5l-.4,.4l-.1,.8l-.6,.2l-.5,.4l-.3,.6l-.6,.3l-.5,.3l-.5,.5l-.1,.7l-.7,.2l-.1,.7l-.7,.2l-.3,.6l-.5,.4l-.5,.4l-.6,.2l-.4,.4l-.6,.4l-.5,.3l-.4,.5l-.6,.3l-.4,.4l-.4,.5l-.7,.1l-.4,.6l-.6,.1l-.5,.4l-.5,.4l-.5,.2l-.6,.3l-.5,.3l-.5,.5l-.5,.3l-.6,.3l-.5,.2l-.6,.3l-.4,.6l-.6,.1h-.7l-.4,.6h-.7l-.5,.3l-.6,.1l-.5,.6h-.6l-.6,.3l-.5,.4l-.6,.1l-.6,.1l-.5,.4l-.7-.1l-.6,.3l-.4,.7l-.8-.4l-.5,.5l-.5,.4l-.7-.2l-.6,.2l-.6,.1l-.6,.1l-.5,.5l-.6,.1l-.7-.3l-.6,.5l-.6-.1h-.6l-.6,.5l-.6-.2l-.6,.4l-.7-.5l-.6,.5l-.6-.3l-.6,.5l-.6-.2l-.7,.1h-.6l-.6,.2h-.6l-.6,.1l-.7-.5l-.6,.3l-.6,.3l-.6-.2l-.6,.1l-.6-.1h-.7l-.6-.3l-.6,.6l-.6-.7l-.6,.1l-.7,.3h-.6l-.6-.4l-.6-.1l-.6,.2l-.6-.4l-.7,.1l-.6-.2l-.6-.2l-.6-.1l-.6,.1l-.6-.3l-.6-.1l-.5-.4l-.7,.3l-.7-.1l-.5-.5l-.6-.2l-.7,.4l-.6-.3l.7-2.2l1.1,.4l1.2,.3l1.1,.3l1.2,.2l1.2,.3l1.2,.2l1.2,.2l1.1,.1l1.2,.2l1.2,.1l1.2,.1h1.2l1.2,.1h1.2h1.2h1.2l1.2-.1l1.2-.1l1.2-.1l1.2-.1l1.2-.2l1.2-.2l1.1-.2l1.2-.2l1.2-.3l1.2-.3l1.1-.3l1.2-.3l1.1-.4l1.1-.4l1.2-.4l1.1-.4l1.1-.4l1.1-.5l1.1-.5l1.1-.5l1-.6l1.1-.5l1.1-.6l1-.6l1-.7l1-.6l1-.7l1-.7l.9-.7l1-.7l.9-.8l.9-.8l.9-.8l.9-.8l.9-.8l.8-.9l.9-.8l.8-.9l.8-.9l.8-.9l.7-.9l.7-1l.8-1l.7-.9l.6-1l.7-1l.6-1l.6-1.1l.6-1l.6-1.1l.5-1l.5-1.1l.5-1.1l.5-1.1l.5-1.1l.4-1.1l.4-1.2l.4-1.1l.4-1.2l.3-1.1l.3-1.2l.3-1.1l.2-1.2l.3-1.2l.2-1.2l.2-1.1l.1-1.2l.2-1.2l.1-1.2l.1-1.2v-.6z" fill="#2349a3"/>
<path d="M1588.5,1957.1A22,22 0 0 1 1596.6,1914.4" fill="none" stroke="#2349a3" stroke-width="1.3" />
<path d="M1583.9,1969.9l-.2-1l-.2-1l-1.8,3l.4-2.4l-1,.7l-1.3,1.5l-1,.7l.9-3l.7-2.6l.8-2.6v-1l-2.3,3.1l-3.1,4.1l2.6-5.3l-3.2,3.9l-1.1,.6l-.5-.4l5.2-8.1l-5,5.8l-3.8,4l4.2-6.3l-3.4,3.3l-.8-.1l3-4.4l-6.6,6.5l3.1-4.4l1.9-2.8l-7.3,6.6l9.6-10.3l-4.6,3.6l-2,1.1l1.4-2.1l-2.5,1.4l1.1-1.7l-2.8,1.5l5.7-5.3l-3.5,2l.6-1.2l.3-.8l-5.1,2.8l-.7-.3l2.4-2.3l.2-.8l-.1-.7l-5.1,2.3l7.4-4.8l-7.7,3.4l4-2.8l-.7-.3l-7.3,2.8l-.3-.6l8.8-4.6l-2,.2l-4.1,1l.1-.8l5-2.4l-4.3,.9l4.9-2.3l.8-.8l-5,.9l.5-.8l2.4-1.2l-4.1,.4l5-1.8l-7.9,1.1l1.6-1l5.9-1.7l-2.6-.1l2.6-1l-2.3-.2l5.2-1.2h-5.2l3.9-.8l-7.6-.1l4.4-.8l-2.9-.5l6.8-.7l-.4-.5l-1.4-.5l-3.8-.7l-1.5-.6l2.5-.5l1.5-.4l1-.5l3.4-.1l-4.5-1.1l2.4-.2l-4.6-1.3h3.4l.6-.4l4.3,.4l-2-1l-3.4-1.3h2l-.9-.8l-5.2-2.1l6.4,1.3l.5-.4l.9-.2l1.2-.1l.4-.4l-1.1-1l-.5-.7l-.4-.7l1.6,.1l-1.8-1.4l7.1,2.9l-2.5-1.8l-.1-.6l-1.4-1.2l-.4-.8l-.9-1.2l2.3,.8l-.7-1.1l3.4,1.7l-1.8-1.8l-.8-1.2l.7-.1l2.8,1.5l-1.7-1.9l1.2,.3l-1.5-1.8l3.1,1.9l-.5-1l.1-.6l.8,.1l-2.3-2.9l1.5,.8l-.9-1.7l1.5,.8l1.6,1l-4.3-5.6l4.5,4.4l-2.2-3.5l1,.4l2.3,2.1l.4-.2l-1-2.2l-2.4-4.4l3.4,4l1.8,1.7l-.1-1l.6-.1l-1.9-4.1l1.8,1.9l.2-.6l1.8,2.2l-.9-2.8l-.4-2.1l.7,.2h.6l1.9,3v-1.4l.1-1.2l-.4-2.4l1.2,1.6l.1-1.3l1.3,2l1.3,2.5l-2-8.7l2.6,7.2l-.1-2.3l-.1-2.9l1.3,3.3l1.2,2.9l-.1-2.7h.6l-.5-6.3l1,2.7l.3-2.7l.9,2.8l-.1-6.4l1.5,9.8l.6,1.1l.3-3.5l.5-2.7l.6,4.8l.6-4l.6-1.5l.4,5.2l-.4,11.5h-1h-1l-1.1,.1l-1,.2l-1,.1l-1,.3l-1,.3l-1,.3l-.9,.3l-1,.5l-.9,.4l-.9,.5l-.9,.6l-.8,.6l-.8,.6l-.8,.6l-.8,.7l-.7,.8l-.7,.7l-.6,.8l-.6,.9l-.6,.8l-.5,.9l-.5,.9l-.5,.9l-.4,1l-.3,.9l-.3,1l-.3,1l-.2,1l-.2,1l-.1,1.1l-.1,1v1v1l.1,1.1l.1,1l.2,1l.2,1l.3,1l.3,1l.3,.9l.4,1l.5,.9l.5,.9l.5,.9l.6,.9l.6,.8l.6,.8l.7,.7l.7,.8l.8,.7l.8,.6l.8,.7l.9,.5l.8,.6l.9,.5l1,.4l.9,.5l1,.3z" fill="#2349a3"/>
<path d="M1597.7,1914.5A22,22 0 0 1 1609.6,1919.2" fill="none" stroke="#2349a3" stroke-width="1.3" />
<path d="M1598.1,1910.8l.3,.6l.6-2l.3,1l.8-2.1l.3,.8l1.3-4.8l-.4,4.6l.6-.3l.6-.7l-.4,3.5l.7-1.1l1.3-3.1l-.3,2.8l.2,.8l.7-.8l1.6-3l-.9,3.7l.5-.1h.5l1.1-1.5v1.1l.6-.1l1.5-2l-1.1,3.3l.2,.5l-.2,1.2l2.8-4l-1.1,2.9l-.8,2.1l.7-.3l-.1,.9l.7-.3l-1.1,2.3l1.9-1.9l-.9,1.9l2.2-2.2l-.7,1.5l-2.6,3.3l-.3-.2l-.3-.2l-.3-.2l-.2-.2l-.3-.2l-.3-.2l-.3-.2l-.3-.1l-.3-.2l-.3-.2l-.3-.2l-.3-.1l-.3-.2l-.3-.1l-.3-.2l-.4-.1l-.3-.2l-.3-.1l-.3-.1l-.3-.1l-.4-.2l-.3-.1l-.3-.1l-.4-.1l-.3-.1l-.3-.1l-.4-.1h-.3l-.3-.1l-.4-.1l-.3-.1h-.4l-.3-.1h-.3l-.4-.1h-.3h-.4z" fill="#2349a3"/>
<path d="M1610.4,1919.9A22,22 0 0 1 1617.9,1936.4" fill="none" stroke="#2349a3" stroke-width="1.3" />
<path d="M1617.6,1911.7l-.3,1.1l6.9-6.6l-1.3,2.3l-2.6,3.4l4.1-3.2l-.3,1.2l-1.9,2.5l7.2-5.7l.1,.9l-1.5,2.2l-4.6,4.5l6.7-4.5l-7,6.1l4.3-2.4l-4,3.5l2.7-1.2l-.7,1.1l-1,1.4l3.4-1.5v.7l-3.7,2.8l.6,.2l2.7-.8l1.1,.1l-1,1.1l-.6,.9l.8,.2l-1.9,1.4l-.9,1l5.7-1.8l-.4,.8l2.8-.4l-5.9,2.7h1.5l2.8-.2l-2.8,1.4l3.3-.4l-1.2,.9l1.1,.4l-1.4,.9l-1,.8l-4.3,1.3l5.4-.5l-1.9,.9l-.9,.7l-3,.9l5.2-.2l4.6,.1l-2.9,.9l-.3,.6l-4,.7l-1.3,.6l1.8,.4l4.8,.5h-14.9v-.3v-.4v-.3v-.4l-.1-.3v-.4v-.3l-.1-.3v-.4l-.1-.3v-.4l-.1-.3l-.1-.3v-.4l-.1-.3l-.1-.3l-.1-.4l-.1-.3l-.1-.3l-.1-.3l-.1-.4l-.1-.3l-.1-.3l-.1-.3l-.2-.4l-.1-.3l-.1-.3l-.2-.3l-.1-.3l-.2-.3l-.1-.3l-.2-.3l-.2-.3l-.1-.3l-.2-.3l-.2-.3l-.2-.3l-.2-.3l-.2-.3l-.2-.2l-.2-.3l-.2-.3l-.2-.3l-.2-.2l-.2-.3l-.3-.2l-.2-.3l-.2-.2l-.3-.3l-.2-.2l-.3-.3l-.2-.2l-.3-.2l-.2-.3z" fill="#2349a3"/>
<path d="M1617.9,1937.6A22,22 0 0 1 1589.5,1957.4" fill="none" stroke="#2349a3" stroke-width="1.3" />
<path d="M1626.3,1938l3.3,.7l-.4,.5l-3.8,.2l-2.3,.1l8.8,1.7l-4.7-.2v.5l-1.3,.3l2.3,.9l-.8,.4l-.6,.4l-2.7-.1l2.2,1l3,1.3l-3.1-.3l4.9,2.1l-3.5-.6l-2.5-.3l-1.8-.1l4.2,2.1l-3.6-.9l4.2,2.3l-2.3-.4l-3.1-.9l.3,.7l.5,.7l2.5,1.9l4.4,3l-2.1-.5l-7.8-3.8l3.2,2.4l-.8,.1l-1.2-.1l1.1,1.2l.3,.9l-2.9-1.4l-.3,.3l1,1.3v.7l.9,1.3l-2.7-1.5l2.3,2.6l-1.7-.8l2,2.6l-.6,.1l-2.5-1.7l-2.1-1.3l3.9,4.7l-.5,.3l-2.3-1.8l-1.3-.7l-.1,.6l-2.1-1.7l-2.3-2.3l4,6l-.9-.3l-1.3-1l.4,1.4l-1-.6l1,2.5l-2.3-2.7l3.9,7.5l-3.5-5l-1.5-1.7l.4,2l-.3,.3l-2-2.8l.9,2.9l-.9-.7l.9,3.3l-2.5-4.6l1.8,5.7l-1.2-1.5l-.7-.7l-.5,.4l-.6-.5l-1.5-3l1.2,5.7l-2.1-5.6l.4,3.4l-.6-.3l-.4,.3l-.5-.2l-.7-.6l-.6-.6v2.4v3.6l-1.3-5.5l-.4,1l.3,7.3l-1.2-6.9l-.3,3.6l-.6-1.6l-.7-5.6l-.3,6.6l-.5,.9l-.6,.7l-.4-4.2l-.4-2.5l-.5,1l-.6,1.1l-.5-.4l-.3-1.4l-.7,1.8l-.4-.9l-.5,.5h-.5l-.6,.6l-.4-.6l-1,2.1l-1.3,3.5l.2-3.4l-.6,.3l.1-2.5l-.7,.6l3.2-10.3l.3,.1h.3l.4,.1l.3,.1l.3,.1l.4,.1h.3l.3,.1h.4l.3,.1h.4l.3,.1h.3h.4l.3,.1h.4h.3h.4h.3h.3h.4h.3h.4l.3-.1h.4h.3l.3-.1h.4l.3-.1h.4l.3-.1l.3-.1l.4-.1h.3l.3-.1l.4-.1l.3-.1l.3-.1l.4-.1l.3-.1l.3-.1l.3-.2l.3-.1l.4-.1l.3-.1l.3-.2l.3-.1l.3-.2l.3-.1l.3-.2l.3-.2l.3-.1l.3-.2l.3-.2l.3-.2l.3-.2l.3-.2l.3-.2l.2-.2l.3-.2l.3-.2l.3-.2l.2-.2l.3-.2l.2-.3l.3-.2l.2-.2l.3-.3l.2-.2l.3-.3l.2-.2l.2-.3l.3-.2l.2-.3l.2-.2l.2-.3l.2-.3l.2-.3l.2-.2l.2-.3l.2-.3l.2-.3l.2-.3l.2-.3l.2-.3l.1-.3l.2-.3l.2-.3l.1-.3l.2-.3l.1-.3l.1-.3l.2-.3l.1-.3l.1-.4l.2-.3l.1-.3l.1-.3l.1-.4l.1-.3l.1-.3l.1-.4l.1-.3v-.3l.1-.4l.1-.3l.1-.3v-.4l.1-.3v-.3l.1-.4v-.3v-.4v-.3l.1-.4z" fill="#2349a3"/>
</g>
<rect x="1327.5" y="1852.5" width="17.6" height="6.4" fill="#f9dcbc" />
<line x1="1327.5" y1="1861.2" x2="1345.9" y2="1861.2" stroke="#000" stroke-width="1.2" />
<rect x="1327.5" y="1862" width="17.6" height="44.2" fill="#dcdcdc" />
<line x1="1327.5" y1="1867.2" x2="1345.1" y2="1867.2" stroke="#fff" stroke-width="1.2" />
<line x1="1327.5" y1="1875.2" x2="1345.1" y2="1875.2" stroke="#fff" stroke-width="1.2" />
<line x1="1327.5" y1="1883.3" x2="1345.1" y2="1883.3" stroke="#fff" stroke-width="1.2" />
<line x1="1327.5" y1="1892.2" x2="1345.1" y2="1892.2" stroke="#fff" stroke-width="1.2" />
<line x1="1327.5" y1="1900.3" x2="1345.1" y2="1900.3" stroke="#fff" stroke-width="1.2" />
<line x1="1327.5" y1="1907.5" x2="1345.9" y2="1907.5" stroke="#000" stroke-width="1.2" />
<line x1="1327.5" y1="1913.5" x2="1345.1" y2="1913.5" stroke="#c4c4c4" stroke-width="1.0" />
<line x1="1327.5" y1="1921.5" x2="1345.1" y2="1921.5" stroke="#c4c4c4" stroke-width="1.0" />
<line x1="1327.5" y1="1930.2" x2="1345.1" y2="1930.2" stroke="#c4c4c4" stroke-width="1.0" />
<line x1="1327.5" y1="1938.5" x2="1345.1" y2="1938.5" stroke="#c4c4c4" stroke-width="1.0" />
<line x1="1327.5" y1="1947.1" x2="1345.1" y2="1947.1" stroke="#c4c4c4" stroke-width="1.0" />
<line x1="1327.5" y1="1953.5" x2="1345.9" y2="1953.5" stroke="#000" stroke-width="1.2" />
<rect x="1327.5" y="1954.8" width="17.6" height="44.7" fill="#dcdcdc" />
<line x1="1327.5" y1="1959.5" x2="1345.1" y2="1959.5" stroke="#fff" stroke-width="1.2" />
<line x1="1327.5" y1="1967.5" x2="1345.1" y2="1967.5" stroke="#fff" stroke-width="1.2" />
<line x1="1327.5" y1="1976.5" x2="1345.1" y2="1976.5" stroke="#fff" stroke-width="1.2" />
<line x1="1327.5" y1="1985" x2="1345.1" y2="1985" stroke="#fff" stroke-width="1.2" />
<line x1="1327.5" y1="1993.6" x2="1345.1" y2="1993.6" stroke="#fff" stroke-width="1.2" />
<text x="1325.3" y="1868.7" font-size="4.2" fill="#222" text-anchor="end">40.0</text>
<text x="1325.3" y="1876.7" font-size="4.2" fill="#222" text-anchor="end">30.0</text>
<text x="1325.3" y="1884.8" font-size="4.2" fill="#222" text-anchor="end">20.0</text>
<text x="1325.3" y="1893.7" font-size="4.2" fill="#222" text-anchor="end">10.0</text>
<text x="1325.3" y="1901.8" font-size="4.2" fill="#222" text-anchor="end">0.0</text>
<text x="1325.3" y="1915" font-size="4.2" fill="#222" text-anchor="end">55.0</text>
<text x="1325.3" y="1923" font-size="4.2" fill="#222" text-anchor="end">41.25</text>
<text x="1325.3" y="1931.7" font-size="4.2" fill="#222" text-anchor="end">27.5</text>
<text x="1325.3" y="1940" font-size="4.2" fill="#222" text-anchor="end">13.75</text>
<text x="1325.3" y="1948.6" font-size="4.2" fill="#222" text-anchor="end">0.0</text>
<text x="1325.3" y="1961" font-size="4.2" fill="#222" text-anchor="end">8.0</text>
<text x="1325.3" y="1969" font-size="4.2" fill="#222" text-anchor="end">6.0</text>
<text x="1325.3" y="1978" font-size="4.2" fill="#222" text-anchor="end">4.0</text>
<text x="1325.3" y="1986.5" font-size="4.2" fill="#222" text-anchor="end">2.0</text>
<text x="1325.3" y="1995.1" font-size="4.2" fill="#222" text-anchor="end">0.0</text>
<rect x="1294.9" y="1863.7" width="15" height="40.9" fill="#000" />
<text x="1304.5" y="1884.2" font-size="6.1" fill="#fff" text-anchor="middle" transform="rotate(-90 1304.5 1884.2)">Primary data</text>
<text x="1293.2" y="1884.2" font-size="6.8" fill="#222" text-anchor="middle" transform="rotate(-90 1293.2 1884.2)">K27ac</text>
<rect x="1294.9" y="1910" width="15" height="41" fill="#000" />
<text x="1304.5" y="1930.5" font-size="6.1" fill="#fff" text-anchor="middle" transform="rotate(-90 1304.5 1930.5)">Primary data</text>
<text x="1293.2" y="1930.5" font-size="6.8" fill="#222" text-anchor="middle" transform="rotate(-90 1293.2 1930.5)">K4me3</text>
<rect x="1294.9" y="1956.4" width="15" height="40.6" fill="#000" />
<text x="1304.5" y="1976.7" font-size="6.1" fill="#fff" text-anchor="middle" transform="rotate(-90 1304.5 1976.7)">Primary data</text>
<text x="1293.2" y="1976.7" font-size="6.8" fill="#222" text-anchor="middle" transform="rotate(-90 1293.2 1976.7)">K4me1</text>
<g transform="translate(1603.7 2366.5) scale(0.996 1.001) translate(-1603.7 -2366.5)">
<path fill-rule="evenodd" fill="#dcdcdc" d="M1478.9,2366.5a124.8,124.8 0 1 0 249.6,0a124.8,124.8 0 1 0 -249.6,0zM1558.1,2366.5a45.6,45.6 0 1 0 91.2,0a45.6,45.6 0 1 0 -91.2,0z"/>
<path d="M1586.6,2414.3A50.8,50.8 0 0 1 1605.4,2315.7" fill="none" stroke="#fbfbfb" stroke-width="1.0" />
<path d="M1580.6,2430.9A68.4,68.4 0 0 1 1606,2298.1" fill="none" stroke="#fbfbfb" stroke-width="1.0" />
<path d="M1574.7,2447.5A86,86 0 0 1 1606.6,2280.5" fill="none" stroke="#fbfbfb" stroke-width="1.0" />
<path d="M1568.8,2464A103.6,103.6 0 0 1 1607.1,2263" fill="none" stroke="#fbfbfb" stroke-width="1.0" />
<path d="M1562.9,2480.4A121,121 0 0 1 1607.7,2245.6" fill="none" stroke="#fbfbfb" stroke-width="1.0" />
<path d="M1608,2315.9A50.8,50.8 0 0 1 1635.3,2326.7" fill="none" stroke="#fbfbfb" stroke-width="1.0" />
<path d="M1609.4,2298.3A68.4,68.4 0 0 1 1646.3,2313" fill="none" stroke="#fbfbfb" stroke-width="1.0" />
<path d="M1610.9,2280.8A86,86 0 0 1 1657.2,2299.2" fill="none" stroke="#fbfbfb" stroke-width="1.0" />
<path d="M1612.4,2263.3A103.6,103.6 0 0 1 1668.2,2285.4" fill="none" stroke="#fbfbfb" stroke-width="1.0" />
<path d="M1613.8,2245.9A121,121 0 0 1 1679,2271.8" fill="none" stroke="#fbfbfb" stroke-width="1.0" />
<path d="M1637.2,2328.3A50.8,50.8 0 0 1 1654.5,2366.5" fill="none" stroke="#fbfbfb" stroke-width="1.0" />
<path d="M1648.8,2315.1A68.4,68.4 0 0 1 1672.1,2366.5" fill="none" stroke="#fbfbfb" stroke-width="1.0" />
<path d="M1660.5,2301.9A86,86 0 0 1 1689.7,2366.5" fill="none" stroke="#fbfbfb" stroke-width="1.0" />
<path d="M1672.1,2288.7A103.6,103.6 0 0 1 1707.3,2366.5" fill="none" stroke="#fbfbfb" stroke-width="1.0" />
<path d="M1683.6,2275.6A121,121 0 0 1 1724.7,2366.5" fill="none" stroke="#fbfbfb" stroke-width="1.0" />
<path d="M1654.4,2369.2A50.8,50.8 0 0 1 1588.9,2415.1" fill="none" stroke="#fbfbfb" stroke-width="1.0" />
<path d="M1672,2370.1A68.4,68.4 0 0 1 1583.8,2431.9" fill="none" stroke="#fbfbfb" stroke-width="1.0" />
<path d="M1689.6,2371A86,86 0 0 1 1578.7,2448.8" fill="none" stroke="#fbfbfb" stroke-width="1.0" />
<path d="M1707.2,2371.9A103.6,103.6 0 0 1 1573.6,2465.6" fill="none" stroke="#fbfbfb" stroke-width="1.0" />
<path d="M1724.5,2372.8A121,121 0 0 1 1568.5,2482.3" fill="none" stroke="#fbfbfb" stroke-width="1.0" />
<path d="M1738.9,2373.6A135.4,135.4 0 0 1 1564.3,2496.1L1567.1,2486.9A125.8,125.8 0 0 0 1729.3,2373.1z" fill="#f9dcbc" />
<path d="M1558.1,2494A135.4,135.4 0 0 1 1608.2,2231.2L1607.9,2240.8A125.8,125.8 0 0 0 1561.3,2484.9z" fill="#f9dcbc" />
<path d="M1615,2231.9A135.1,135.1 0 0 1 1687.8,2260.8L1681.8,2268.4A125.4,125.4 0 0 0 1614.2,2241.5z" fill="#e8262b" />
<path d="M1692.9,2265A135.1,135.1 0 0 1 1738.8,2366.5L1729.1,2366.5A125.4,125.4 0 0 0 1686.5,2272.3z" fill="#e8262b" />
<path d="M1615.5,2231.4A135.6,135.6 0 0 1 1687.7,2260.1L1684.5,2264.2A130.4,130.4 0 0 0 1615.1,2236.6z" fill="#111" />
<path d="M1705.3,2276.6A135.6,135.6 0 0 1 1739.3,2366L1734.1,2366A130.4,130.4 0 0 0 1701.4,2280.1z" fill="#111" />
<path d="M1616.2,2234.1A133,133 0 0 1 1685.6,2261.7" fill="none" stroke="#5a5a5a" stroke-width="2.2" stroke-dasharray="0.9 3.3"/>
<path d="M1704.1,2279.2A133,133 0 0 1 1736.7,2365.1" fill="none" stroke="#5a5a5a" stroke-width="2.2" stroke-dasharray="0.9 3.3"/>
<path d="M1619.7,2232.6A134.8,134.8 0 0 1 1622.9,2233.1L1622.4,2236.6A131.2,131.2 0 0 0 1619.2,2236.2z" fill="#a8a8a8" />
<path d="M1623.2,2233.1A134.8,134.8 0 0 1 1626.4,2233.6L1625.8,2237.2A131.2,131.2 0 0 0 1622.6,2236.7z" fill="#a8a8a8" />
<path d="M1672.7,2250.7A134.8,134.8 0 0 1 1675.5,2252.4L1673.6,2255.5A131.2,131.2 0 0 0 1670.9,2253.8z" fill="#a8a8a8" />
<path d="M1676.7,2253.2A134.8,134.8 0 0 1 1679.5,2255L1677.4,2258A131.2,131.2 0 0 0 1674.8,2256.2z" fill="#a8a8a8" />
<path d="M1680.6,2255.8A134.8,134.8 0 0 1 1683.3,2257.7L1681.2,2260.6A131.2,131.2 0 0 0 1678.6,2258.8z" fill="#a8a8a8" />
<path d="M1704.3,2276.8A134.8,134.8 0 0 1 1706.5,2279.3L1703.8,2281.6A131.2,131.2 0 0 0 1701.7,2279.2z" fill="#a8a8a8" />
<path d="M1727.6,2313.4A134.8,134.8 0 0 1 1728.9,2316.4L1725.5,2317.8A131.2,131.2 0 0 0 1724.3,2314.8z" fill="#a8a8a8" />
<path d="M1729.4,2317.8A134.8,134.8 0 0 1 1730.5,2320.8L1727.1,2322.1A131.2,131.2 0 0 0 1726,2319.1z" fill="#a8a8a8" />
<path d="M1737.1,2347.3A134.8,134.8 0 0 1 1737.6,2350.5L1734,2351A131.2,131.2 0 0 0 1733.6,2347.8z" fill="#a8a8a8" />
<path d="M1737.8,2353.1A134.8,134.8 0 0 1 1738.1,2356.4L1734.5,2356.7A131.2,131.2 0 0 0 1734.3,2353.5z" fill="#a8a8a8" />
<path d="M1738.3,2359A134.8,134.8 0 0 1 1738.4,2362.3L1734.8,2362.4A131.2,131.2 0 0 0 1734.7,2359.2z" fill="#a8a8a8" />
<path d="M1609.1,2231.8A134.8,134.8 0 0 1 1614.3,2232.1L1613.6,2240.1A126.8,126.8 0 0 0 1608.8,2239.8z" fill="#7a7a7a" />
<path d="M1688.2,2261.4A134.8,134.8 0 0 1 1692.1,2264.8L1686.9,2270.8A126.8,126.8 0 0 0 1683.2,2267.7z" fill="#7a7a7a" />
<path d="M1738.5,2367.2A134.8,134.8 0 0 1 1738.4,2372.8L1730.4,2372.5A126.8,126.8 0 0 0 1730.5,2367.2z" fill="#7a7a7a" />
<path d="M1563.8,2495.3A134.8,134.8 0 0 1 1558.9,2493.6L1561.6,2486.1A126.8,126.8 0 0 0 1566.2,2487.6z" fill="#7a7a7a" />
<path d="M1556.1,2491.7A130.7,130.7 0 0 1 1609.4,2238.6" fill="none" stroke="#000" stroke-width="1.3" />
<path d="M1556.1,2491.7A130.7,130.7 0 0 1 1609.4,2238.6" fill="none" stroke="#000" stroke-width="3.0" stroke-dasharray="0.7 5.2"/>
<path d="M1731.4,2376.7A130.4,130.4 0 0 1 1685,2468.9" fill="none" stroke="#000" stroke-width="1.3" />
<path d="M1731.4,2376.7A130.4,130.4 0 0 1 1685,2468.9" fill="none" stroke="#000" stroke-width="3.0" stroke-dasharray="0.7 7.5"/>
<path d="M1725,2418.5A133.3,133.3 0 0 1 1723.5,2421.9L1718.8,2419.9A128.1,128.1 0 0 0 1720.1,2416.6z" fill="#111" />
<path d="M1687.5,2470.4A133.1,133.1 0 0 1 1683.5,2473.6L1680.5,2469.8A128.3,128.3 0 0 0 1684.4,2466.7z" fill="#8a8a8a" />
<path d="M1481.1,2308.3A135.7,135.7 0 0 1 1492.8,2288.3L1495.2,2289.9A132.8,132.8 0 0 0 1483.7,2309.5z" fill="#111" />
<path d="M1479.3,2312.1A135.8,135.8 0 0 1 1481.2,2307.8L1485.9,2310.1A130.6,130.6 0 0 0 1484,2314.2z" fill="#b4b4b4" />
<path d="M1491.9,2289.4A135.8,135.8 0 0 1 1494.7,2285.5L1498.9,2288.6A130.6,130.6 0 0 0 1496.2,2292.3z" fill="#b4b4b4" />
<line x1="1608.4" y1="2230.8" x2="1608.6" y2="2227.4" stroke="#444" stroke-width="0.7" />
<line x1="1615.1" y1="2231.2" x2="1615.3" y2="2227.8" stroke="#444" stroke-width="0.7" />
<line x1="1688.2" y1="2260.2" x2="1690.4" y2="2257.6" stroke="#444" stroke-width="0.7" />
<line x1="1693.3" y1="2264.5" x2="1695.6" y2="2261.9" stroke="#444" stroke-width="0.7" />
<line x1="1739.5" y1="2366.5" x2="1742.9" y2="2366.5" stroke="#444" stroke-width="0.7" />
<line x1="1739.3" y1="2373.6" x2="1742.7" y2="2373.8" stroke="#444" stroke-width="0.7" />
<line x1="1564.2" y1="2496.4" x2="1563.4" y2="2499.3" stroke="#444" stroke-width="0.7" />
<line x1="1557.9" y1="2494.4" x2="1556.9" y2="2497.2" stroke="#444" stroke-width="0.7" />
<text x="1611.3" y="2225.9" font-size="8.2" fill="#7e7e7e" transform="rotate(-90 1611.3 2225.9)">139296119</text>
<text x="1619.3" y="2225.9" font-size="8.2" fill="#7e7e7e" transform="rotate(-90 1619.3 2225.9)">3192</text>
<text x="1692.4" y="2258.5" font-size="8.2" fill="#7e7e7e" transform="rotate(-50.6 1692.4 2258.5)">1</text>
<text x="1698.3" y="2263.6" font-size="8.2" fill="#7e7e7e" transform="rotate(-47.4 1698.3 2263.6)">7905</text>
<text x="1745.5" y="2367.5" font-size="8.2" fill="#7e7e7e">3310</text>
<text x="1745.5" y="2376.5" font-size="8.2" fill="#7e7e7e">139294466</text>
<text x="1556" y="2498.3" font-size="8.2" fill="#7e7e7e" text-anchor="end" transform="rotate(-70 1556 2498.3)">139311725</text>
<text x="1564" y="2501.4" font-size="8.2" fill="#7e7e7e" text-anchor="end" transform="rotate(-68 1564 2501.4)">139284637</text>
<text x="1659.7" y="2207.5" font-size="12.7" font-style="italic" transform="rotate(-70.6 1659.7 2207.5)">E1</text>
<text x="1696.5" y="2225.7" font-size="12.7" font-style="italic" transform="rotate(-56.6 1696.5 2225.7)">E7</text>
<text x="1708.9" y="2234.7" font-size="12.7" font-style="italic" transform="rotate(-51.4 1708.9 2234.7)">E6</text>
<text x="1741" y="2268.6" font-size="12.7" font-style="italic" transform="rotate(-35.5 1741 2268.6)">L1</text>
<text x="1764.5" y="2315.8" font-size="12.7" font-style="italic" transform="rotate(-17.5 1764.5 2315.8)">L2</text>
<text x="1771.6" y="2350.6" font-size="12.7" font-style="italic" transform="rotate(-5.4 1771.6 2350.6)">E5</text>
<text x="1771.2" y="2365.9" font-size="12.7" font-weight="bold" font-style="italic" transform="rotate(0 1771.2 2365.9)">E2</text>
<text x="1771.5" y="2367.7" font-size="12.7" font-weight="bold" font-style="italic" transform="rotate(0 1771.5 2367.7)">E4</text>
<text x="1541.7" y="2207.4" font-size="12.7" text-anchor="end" font-style="italic" transform="rotate(70.4 1541.7 2207.4)">NDUFC1</text>
<text x="1469.5" y="2466.5" font-size="12.7" text-anchor="end" font-style="italic" transform="rotate(-32.5 1469.5 2466.5)">NAA15</text>
<path d="M1604.9,2299.8l-2.3-.4l-2.2-.1l-2.3-.2l-2.3,.1l-2.2,.3l-2.3,.3l-2.4-.3l-2,1.1h-2.4l-2.2,.5l-2.4,.3l-2.2,.8l-2,1.4l-2.5,.9l-2.1,1.7l-2.1,1.5l-2.5,1.1l-2.1,1.6l-2.1,1.6l-1.8,1.9l-1.7,2l-2.1,1.6l-1.5,2.2l-1.3,3.5l-4.8-.9l2.3,3.4l-.9,2.7l-15.9-9.9l-17.6-9.4l5.7,5.2l-8.9-4l7.6,5.9l-7.6-3.3l7.7,6.1l-.8,1.5l-.3,8l9.3,4.7l-1,3l-.8,2.7l-1,2.7l-.4,2.8l-1.6,2.5l.1,3l-.5,2.8l-.4,2.8l-.6,2.7v2.9v2.8l.1,2.8l.1,2.8l.1,2.9l.4,2.8l.3,2.7l.7,2.8l.2,2.8l.9,2.7l.5,2.8l1.1,2.6l1.1,2.6l1.1,2.5l.9,2.7l1.5,2.4l1.6,2.3l1.3,2.4l1.8,2.2l.9,2.8l1.6,2.2l2.3,1.8l1.8,2.2l1.8,2l1.9,2l1.8,2.1l2.2,1.8l2.1,1.8l2.2,1.7l2.3,1.6l2.3,1.5l2.6,1l2.3,1.6l2.3,1.5l2.7,.6l2.2,1.8l2.6,1l2.7,.6" fill="none" stroke="#2349a3" stroke-width="1.1" stroke-linejoin="round"/>
<path d="M1608.1,2311.5l2.3,.3l2.3-.2l2.2,.5l2.2,.5l2.1,.9h2.4l2,1.2l2.3,.4l2,1.1l2.1,.8l2.3-1l4.9-6.4l-2.4,5.6l5.3-7.3l-5.2,9.7l4.2-4.4l-6,10.4l-.8,2.2" fill="none" stroke="#2349a3" stroke-width="1.1" stroke-linejoin="round"/>
<path d="M1642,2334.6l.7,1.9l1.5,1.4l1,1.7l1.1,1.6l1.3,1.5l.8,1.9l.8,1.8l.9,1.7l1.4,1.6l.2,2.1l.5,1.9l.8,1.9l3.9,1.5l-1.8,1.7l10.1,.1l-5.8,1.7l16-.1l-11.8,1.8l15,.3l-12.9,1.5l8,.7" fill="none" stroke="#2349a3" stroke-width="1.1" stroke-linejoin="round"/>
<path d="M1695.7,2373.3l.3,3v3l-.4,3l-.5,3l-.9,2.8l.3,3.2l-.9,2.9l-.5,3.1l-.6,1.5l-10.8,1.5l16,3.2l-14.5-4.1l-1.4,1.9l-.8,2.9l-2,2.8l-1.3,3.3l-2,2.8l-1.4,3.2l-2.1,2.7l-1.9,3l-2.4,2.5l-2.3,2.7l-2.4,2.4l-2.3,2.7l-25.5-25.6l-1.4,1.5l-2.4,.5l-1.8,1.4l-1.8,1.4l-2,.9l-2.1,.8l-1.9,1.6l-2.3,.2l-2,1.2l-2.3,.1l-2.3,.1l-2.1,1.1l-2.3,.5h-2.3l-2.2,.2l-2.3-.5l-2.3-.3l-2.3,.3l-2.2-.6l-2.3-.1l-2.1-.9" fill="none" stroke="#2349a3" stroke-width="1.1" stroke-linejoin="round"/>
</g>
<rect x="1327.5" y="2250.2" width="24.9" height="8.6" fill="#f9dcbc" />
<line x1="1327.5" y1="2262.6" x2="1353.2" y2="2262.6" stroke="#000" stroke-width="1.2" />
<rect x="1327.5" y="2263.9" width="24.9" height="145.4" fill="#dcdcdc" />
<line x1="1327.5" y1="2271.2" x2="1352.4" y2="2271.2" stroke="#fff" stroke-width="1.2" />
<line x1="1327.5" y1="2303.5" x2="1352.4" y2="2303.5" stroke="#fff" stroke-width="1.2" />
<line x1="1327.5" y1="2335.8" x2="1352.4" y2="2335.8" stroke="#fff" stroke-width="1.2" />
<line x1="1327.5" y1="2368" x2="1352.4" y2="2368" stroke="#fff" stroke-width="1.2" />
<line x1="1327.5" y1="2400.3" x2="1352.4" y2="2400.3" stroke="#fff" stroke-width="1.2" />
<text x="1325.3" y="2272.7" font-size="4.2" fill="#222" text-anchor="end">1500.0</text>
<text x="1325.3" y="2305" font-size="4.2" fill="#222" text-anchor="end">1125.0</text>
<text x="1325.3" y="2337.3" font-size="4.2" fill="#222" text-anchor="end">750.0</text>
<text x="1325.3" y="2369.5" font-size="4.2" fill="#222" text-anchor="end">375.0</text>
<text x="1325.3" y="2401.8" font-size="4.2" fill="#222" text-anchor="end">0.0</text>
<rect x="1284.4" y="2314" width="15.3" height="44.1" fill="#000" />
<text x="1294.2" y="2336.1" font-size="6.1" fill="#fff" text-anchor="middle" transform="rotate(-90 1294.2 2336.1)">Primary data</text>
<text x="1279.4" y="2336.1" font-size="7.4" fill="#222" text-anchor="middle" transform="rotate(-90 1279.4 2336.1)">RNA coverage</text>
<rect x="1370" y="2457.8" width="21.7" height="8" fill="#f9dcbc" />
<text x="1400.3" y="2465.3" font-size="10.4" fill="#111">chr4</text>
<rect x="1370" y="2473.2" width="21.7" height="8" fill="#e8262b" />
<text x="1400.3" y="2480.7" font-size="10.4" fill="#111">hpv16ref_1</text>
</svg>
</body></html>
